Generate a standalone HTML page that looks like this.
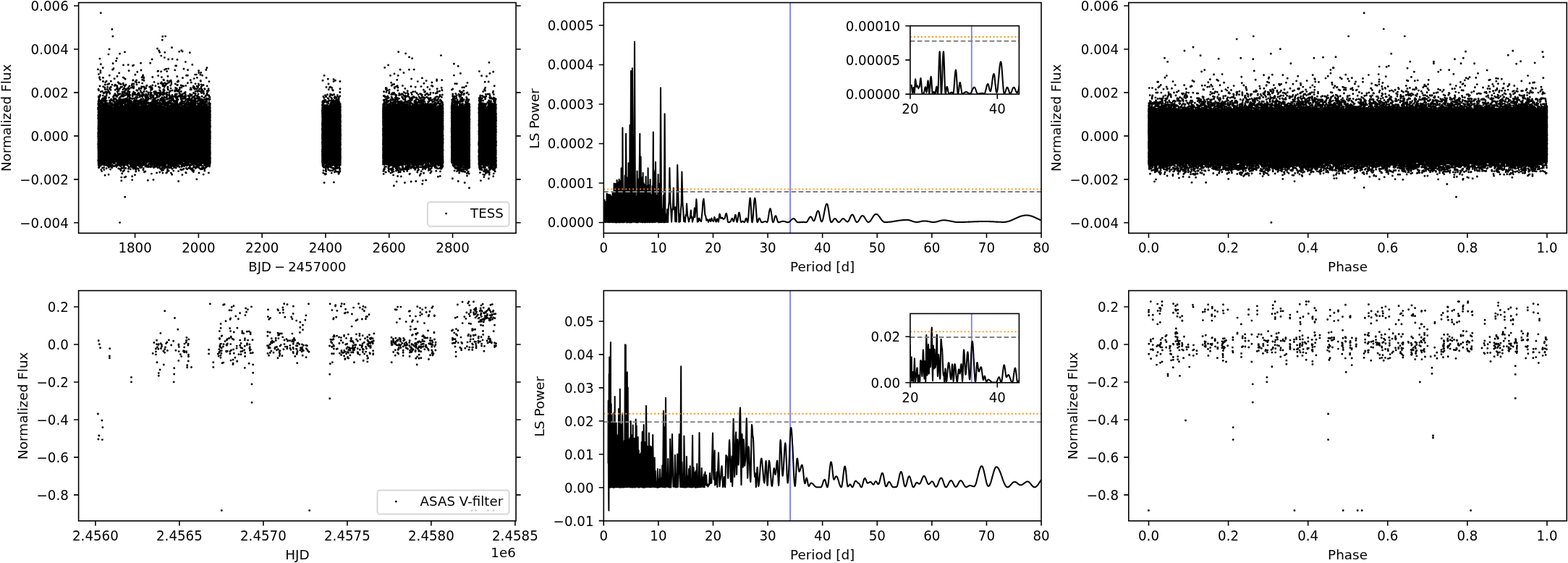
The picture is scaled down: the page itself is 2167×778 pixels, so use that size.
<!DOCTYPE html>
<html lang="en">
<head>
<meta charset="utf-8">
<title>TESS and ASAS light curves with Lomb-Scargle periodograms</title>
<style>
html,body{margin:0;padding:0;background:#fff;}
body{width:2167px;height:778px;overflow:hidden;}
svg{display:block;}
svg text{font-family:"DejaVu Sans","Liberation Sans",sans-serif;font-size:18.25px;fill:#000;}
svg text.al{font-size:18.4px;}
</style>
</head>
<body>
<svg width="2167" height="778" viewBox="0 0 2167 778">
<rect width="2167" height="778" fill="#fff"/>
<g id="tess-lc"><path d="M134.8 146.9L135.3 147.3L135.8 147.2L136.3 145.5L136.8 147.4L137.3 145.3L137.8 147.1L138.3 146.2L138.8 145.1L139.3 146.2L139.8 146L140.3 147.2L140.8 144.5L141.3 144.8L141.8 147.2L142.3 146.6L142.8 144.6L143.3 144.7L143.8 145.7L144.3 144.4L144.8 144.9L145.3 144L145.8 146L146.3 144.3L146.8 147L147.3 147L147.8 146.6L148.3 146.8L148.8 145.6L149.3 146.7L149.8 147L150.3 146.4L150.8 145.1L151.3 147L151.8 146.1L152.3 147.2L152.8 146.6L153.3 148.4L153.8 146.2L154.3 148.1L154.8 147.9L155.3 147.3L155.8 145.9L156.3 146L156.8 148.4L157.3 146.1L157.8 145.8L158.3 146.1L158.8 146.8L159.3 146.6L159.8 145.1L160.3 144.9L160.9 146.4L161.4 145.4L161.9 146.6L162.4 147.1L162.9 144.9L163.4 146L163.9 145.7L164.4 146.9L164.9 147.4L165.4 145.8L165.9 145.3L166.4 147.2L166.9 144.7L167.4 145.6L167.9 145.8L168.4 145.1L168.9 146.6L169.4 146.2L169.9 145.4L170.4 145.9L170.9 146.7L171.4 145.6L171.9 144.9L172.4 146.1L172.9 145.3L173.4 146.5L173.9 145.2L174.4 145L174.9 147.2L175.4 145.5L175.9 145.4L176.4 146.1L176.9 146.5L177.4 146.5L177.9 146.8L178.4 145.2L178.9 145.6L179.4 145.4L179.9 145.9L180.4 146L180.9 146.2L181.4 144.5L181.9 145.5L182.4 146.5L182.9 144.6L183.4 146.7L183.9 146.6L184.4 145.8L184.9 146L185.4 145.5L185.9 147L186.4 146.2L187 145.7L187.5 144.9L188 146L188.5 147.7L189 147.1L189.5 146.9L190 148L190.5 145.3L191 146.9L191.5 145.6L192 146.1L192.5 145.5L193 145.9L193.5 147.5L194 146.9L194.5 147.3L195 144.8L195.5 145.5L196 146.9L196.5 144.6L197 145L197.5 144.6L198 146.7L198.5 145L199 145.5L199.5 144.2L200 144.5L200.5 145.7L201 146.5L201.5 145.2L202 145.1L202.5 144.3L203 144.4L203.5 144.6L204 144.8L204.5 145.8L205 145.2L205.5 147.1L206 145L206.5 146.7L207 144.4L207.5 145.7L208 145.7L208.5 146.1L209 145.4L209.5 145.8L210 146.6L210.5 144.7L211 145.9L211.5 146.1L212 146.8L212.5 144.9L213.1 145.8L213.6 144.6L214.1 146.6L214.6 147.2L215.1 145.7L215.6 147.1L216.1 146.7L216.6 144.8L217.1 146.2L217.6 145L218.1 145.8L218.6 147.3L219.1 145.3L219.6 146.6L220.1 145.1L220.6 145.3L221.1 147.8L221.6 145.3L222.1 145.5L222.6 147.8L223.1 146L223.6 145.7L224.1 145.4L224.6 146.6L225.1 145.3L225.6 145.8L226.1 145.8L226.6 147.4L227.1 145.5L227.6 146.8L228.1 145.7L228.6 147.9L229.1 147.8L229.6 147.6L230.1 147.4L230.6 146.4L231.1 147.4L231.6 146.6L232.1 145L232.6 146.7L233.1 147L233.6 144.5L234.1 144.9L234.6 146.7L235.1 146.5L235.6 145.9L236.1 144.7L236.6 145.1L237.1 145.1L237.6 147.4L238.1 145.2L238.6 145.6L239.2 146.7L239.7 146.6L240.2 146.4L240.7 146.7L241.2 147.4L241.7 147.6L242.2 145.3L242.7 145L243.2 147.8L243.7 147.8L244.2 146.2L244.7 146.3L245.2 147.1L245.7 146.3L246.2 145.4L246.7 145.8L247.2 145.9L247.7 146.7L248.2 145.4L248.7 147.1L249.2 147.8L249.7 146L250.2 146.5L250.7 146.7L251.2 147.2L251.7 146.6L252.2 146.3L252.7 146.9L253.2 144.7L253.7 147.5L254.2 147.5L254.7 146.9L255.2 145.6L255.7 146.9L256.2 145.2L256.7 146.3L257.2 145.9L257.7 147L258.2 146.2L258.7 145.7L259.2 148L259.7 146.4L260.2 147.5L260.7 145.8L261.2 147.6L261.7 148.3L262.2 148.5L262.7 147.1L263.2 146.3L263.7 147.7L264.2 146.6L264.7 146.5L265.2 146L265.8 146.6L266.3 147.2L266.8 146.4L267.3 146.9L267.8 147.1L268.3 147.1L268.8 146.4L269.3 147.5L269.8 146L270.3 145.9L270.8 146.2L271.3 146.9L271.8 146.1L272.3 147L272.8 144.7L273.3 145.8L273.8 146.6L274.3 146.9L274.8 147.2L275.3 145.8L275.8 145.9L276.3 146.4L276.8 146.4L277.3 145.7L277.8 146.6L278.3 147.6L278.8 147.9L279.3 146.6L279.8 147.8L280.3 148.4L280.8 146.6L281.3 146L281.8 146.5L282.3 147.9L282.8 148.6L283.3 146.9L283.8 146.6L284.3 147.4L284.8 146.5L285.3 145.5L285.8 146.1L286.3 147L286.8 146.6L287.3 146.1L287.8 146.3L288.3 145.4L288.8 147.2L289.3 145.9L289.8 146.9L290.3 146.5L290.8 147.5L291.4 147.2L291.4 224.3L290.8 223.5L290.3 224.4L289.8 222.6L289.3 224.3L288.8 224.5L288.3 223.4L287.8 225.1L287.3 225.1L286.8 225.1L286.3 224.5L285.8 223.6L285.3 222.6L284.8 223.8L284.3 224.9L283.8 223.9L283.3 222.4L282.8 223.1L282.3 222.4L281.8 223L281.3 223L280.8 222.6L280.3 224.5L279.8 223.5L279.3 224.6L278.8 225.3L278.3 222.7L277.8 222.6L277.3 223.1L276.8 223.1L276.3 224.5L275.8 224.6L275.3 223L274.8 225.1L274.3 223.7L273.8 222.8L273.3 223.7L272.8 225.8L272.3 225.3L271.8 224L271.3 224.2L270.8 225.4L270.3 223.8L269.8 223.7L269.3 222.8L268.8 223.3L268.3 224.2L267.8 223.4L267.3 224.4L266.8 225.2L266.3 225L265.8 222.3L265.2 222.7L264.7 224.1L264.2 224L263.7 224.2L263.2 222.9L262.7 223.5L262.2 223.1L261.7 222.5L261.2 221.8L260.7 223.2L260.2 222.1L259.7 224.2L259.2 223.5L258.7 222.4L258.2 222.9L257.7 222.3L257.2 222L256.7 221.4L256.2 223.3L255.7 221.9L255.2 223.2L254.7 223.3L254.2 223.9L253.7 222.3L253.2 221.8L252.7 222.6L252.2 221.7L251.7 223.8L251.2 223.1L250.7 223.3L250.2 222.5L249.7 222.9L249.2 221.6L248.7 222.9L248.2 223.2L247.7 224.1L247.2 222.5L246.7 221.4L246.2 223.7L245.7 223.7L245.2 224.1L244.7 223.8L244.2 222.9L243.7 222.8L243.2 222L242.7 222.6L242.2 222.9L241.7 223.3L241.2 222.4L240.7 224.8L240.2 223.8L239.7 222.3L239.2 222.2L238.6 223L238.1 224.6L237.6 224.1L237.1 224.5L236.6 224.3L236.1 224.5L235.6 224.4L235.1 223.9L234.6 225.6L234.1 224.5L233.6 225.1L233.1 223L232.6 224.6L232.1 225.4L231.6 225.7L231.1 225L230.6 225.1L230.1 223.8L229.6 224.1L229.1 224.8L228.6 224.6L228.1 225.5L227.6 225.3L227.1 225.6L226.6 224.1L226.1 224.8L225.6 223.4L225.1 224.5L224.6 223L224.1 224.9L223.6 225.9L223.1 224.8L222.6 223.2L222.1 224.9L221.6 223.9L221.1 225.6L220.6 224.8L220.1 223.4L219.6 224.4L219.1 224.1L218.6 224.1L218.1 224.6L217.6 225.1L217.1 225.6L216.6 224.7L216.1 225.6L215.6 224.2L215.1 225.3L214.6 223.4L214.1 225.2L213.6 223.1L213.1 224.4L212.5 223L212 224.8L211.5 222L211 223.7L210.5 221.8L210 223.5L209.5 221.3L209 221.2L208.5 223.8L208 223.5L207.5 221.5L207 222.1L206.5 223.8L206 223.6L205.5 222L205 222L204.5 222.2L204 221.8L203.5 224.6L203 222.1L202.5 222L202 223.5L201.5 224.1L201 223.4L200.5 224L200 225.1L199.5 224.1L199 224.2L198.5 223.8L198 223.5L197.5 223L197 224.8L196.5 224.8L196 224.7L195.5 225L195 224.1L194.5 223.5L194 224.2L193.5 224L193 223.9L192.5 223.6L192 225.2L191.5 224.8L191 224.2L190.5 223.9L190 223.7L189.5 224.6L189 225.7L188.5 225.4L188 225.8L187.5 224.8L187 224L186.4 223.3L185.9 224.9L185.4 223.7L184.9 224.4L184.4 224.1L183.9 225.6L183.4 223.7L182.9 225.6L182.4 224.2L181.9 223.4L181.4 225.8L180.9 225.5L180.4 224.8L179.9 224.8L179.4 224.2L178.9 223.7L178.4 224.9L177.9 222.8L177.4 223.7L176.9 223.8L176.4 223.2L175.9 224.9L175.4 222.4L174.9 224.7L174.4 224.9L173.9 224.6L173.4 223.1L172.9 223L172.4 223.2L171.9 224L171.4 224.3L170.9 223.5L170.4 223.9L169.9 223.7L169.4 223.3L168.9 221.5L168.4 223.2L167.9 221.8L167.4 224.1L166.9 221.9L166.4 221.9L165.9 223.7L165.4 222.5L164.9 222.4L164.4 221.9L163.9 221L163.4 223.8L162.9 222.2L162.4 222.8L161.9 223.9L161.4 223.6L160.9 221.7L160.3 221.2L159.8 223.5L159.3 221.8L158.8 221.5L158.3 221.5L157.8 224.2L157.3 221.6L156.8 221.9L156.3 223.6L155.8 223.9L155.3 224.1L154.8 223.1L154.3 222.6L153.8 222.5L153.3 224.3L152.8 223.8L152.3 222.6L151.8 223.2L151.3 224.1L150.8 224.4L150.3 223.5L149.8 223.5L149.3 221.5L148.8 221.5L148.3 222.5L147.8 222.4L147.3 222.6L146.8 223.3L146.3 224.3L145.8 222.3L145.3 224.1L144.8 224L144.3 222.1L143.8 222.3L143.3 222.5L142.8 222.6L142.3 224.5L141.8 224.3L141.3 224.5L140.8 224L140.3 222.3L139.8 223.3L139.3 222.6L138.8 223.8L138.3 223.7L137.8 224.7L137.3 222.5L136.8 224.8L136.3 223.3L135.8 225.5L135.3 224.2L134.8 225.1ZM444.4 148.5L444.9 147.5L445.4 148.5L445.9 146.4L446.4 147.5L447 147.6L447.5 147.2L448 147.6L448.5 147.1L449 148.4L449.6 148.4L450.1 147.1L450.6 148.1L451.1 146.5L451.6 147.9L452.2 145.9L452.7 146.9L453.2 146.6L453.7 147.2L454.3 146L454.8 147.5L455.3 147.5L455.8 146.9L456.3 146.1L456.9 147.7L457.4 147.9L457.9 147.2L458.4 148.2L458.9 145.7L459.5 145.7L460 146.6L460.5 147.9L461 146.4L461.5 147.3L462.1 147.3L462.6 146.4L463.1 147L463.6 147L464.2 147.4L464.7 148.1L465.2 146.9L465.7 146.1L466.2 146.7L466.8 145.9L467.3 146.8L467.8 145.9L468.3 145.4L468.8 146.9L469.4 145.2L469.9 146.7L470.4 146.6L470.9 146.2L471.5 145.3L471.5 224.7L470.9 226.9L470.4 224.8L469.9 226.9L469.4 226.7L468.8 226L468.3 224.6L467.8 226.3L467.3 225.8L466.8 225.5L466.2 225.2L465.7 225.3L465.2 226.8L464.7 224.5L464.2 224.5L463.6 225.4L463.1 224.9L462.6 224L462.1 224.3L461.5 225.1L461 227L460.5 225.3L460 225L459.5 225.5L458.9 225.4L458.4 225.9L457.9 224.6L457.4 226.9L456.9 225.3L456.3 226.1L455.8 225.2L455.3 227.6L454.8 226L454.3 225L453.7 226.2L453.2 225.4L452.7 227L452.2 226.1L451.6 226.7L451.1 226.2L450.6 226.2L450.1 224.7L449.6 225.4L449 226.4L448.5 226.3L448 227L447.5 224.9L447 226L446.4 226L445.9 226L445.4 226.1L444.9 226.5L444.4 224.8ZM528.4 146.3L529 146.8L529.5 147.5L530 145.8L530.5 147.4L531 146.6L531.5 146.2L532 146L532.5 148.1L533 146.1L533.5 146.1L534 148.5L534.5 146.8L535 146.3L535.5 146.7L536 147.7L536.5 147.6L537 148.6L537.5 149.2L538 146.6L538.5 146.6L539 146.8L539.5 149.2L540 146.7L540.5 147.4L541.1 146.2L541.6 149L542.1 147.4L542.6 148L543.1 147.4L543.6 146L544.1 148.6L544.6 146.9L545.1 147.7L545.6 148.2L546.1 147.2L546.6 145.9L547.1 146.5L547.6 146.3L548.1 147.6L548.6 146.5L549.1 146.5L549.6 146.9L550.1 147.8L550.6 146.5L551.1 145.6L551.6 145.8L552.1 147.2L552.6 148.4L553.2 147.7L553.7 146.7L554.2 148.3L554.7 146.9L555.2 147.6L555.7 146.1L556.2 147L556.7 147.2L557.2 146.6L557.7 148.1L558.2 148.6L558.7 146.8L559.2 146.6L559.7 146.5L560.2 146.1L560.7 148.8L561.2 148L561.7 146.7L562.2 148.6L562.7 147.6L563.2 148.6L563.7 147.6L564.2 147.9L564.7 146.8L565.3 148.9L565.8 148.4L566.3 147L566.8 148.4L567.3 147L567.8 146.2L568.3 147.2L568.8 147.4L569.3 147.8L569.8 147.9L570.3 147.7L570.8 147.3L571.3 146.9L571.8 145.6L572.3 147.6L572.8 145L573.3 147L573.8 146.4L574.3 147.5L574.8 146.8L575.3 147.1L575.8 147.6L576.3 147L576.8 146.4L577.4 145.4L577.9 145.3L578.4 145.3L578.9 145.5L579.4 147.5L579.9 147.4L580.4 146.3L580.9 147L581.4 145.4L581.9 146.7L582.4 146.3L582.9 146.9L583.4 147.4L583.9 147.8L584.4 148.7L584.9 147.7L585.4 148.3L585.9 148.2L586.4 148.6L586.9 145.6L587.4 145.9L587.9 147.9L588.4 145.6L588.9 147.7L589.5 147.6L590 148.1L590.5 145.6L591 146L591.5 148L592 145.6L592.5 147.5L593 147.4L593.5 145L594 147.8L594.5 146.7L595 147.7L595.5 147.9L596 147.2L596.5 146.4L597 147.8L597.5 146.5L598 148.2L598.5 146.9L599 147.4L599.5 147.6L600 148L600.5 149.1L601 148.1L601.6 147.8L602.1 147.6L602.6 149.6L603.1 148.1L603.6 147L604.1 147.4L604.6 146.5L605.1 148.8L605.6 148L606.1 147.6L606.6 148.9L607.1 146.5L607.6 146.9L608.1 149L608.6 146.7L609.1 148.9L609.6 148.7L610.1 146.4L610.6 147.9L611.1 147.3L611.6 147.9L612.1 147.3L612.6 148.4L613.1 148.1L613.1 225.1L612.6 223.8L612.1 223.5L611.6 226.1L611.1 226.2L610.6 225.8L610.1 223.4L609.6 224.8L609.1 223.1L608.6 225.3L608.1 223.1L607.6 225.8L607.1 225.6L606.6 224.7L606.1 225.1L605.6 224.4L605.1 223.6L604.6 224.5L604.1 223.1L603.6 224.6L603.1 224.5L602.6 225.2L602.1 224L601.6 223.1L601 223.5L600.5 225.6L600 225.2L599.5 224.3L599 223.3L598.5 224.4L598 223.4L597.5 224.8L597 225.9L596.5 225.7L596 223.9L595.5 223.6L595 225.7L594.5 223.6L594 224.9L593.5 224L593 224.3L592.5 223.8L592 224L591.5 224.7L591 223.6L590.5 225L590 223.7L589.5 224.7L588.9 225.7L588.4 225.9L587.9 226.3L587.4 224.4L586.9 225.6L586.4 224.3L585.9 224.1L585.4 225.6L584.9 226.7L584.4 226L583.9 227.1L583.4 225.2L582.9 226.6L582.4 225.8L581.9 225.9L581.4 227L580.9 225.1L580.4 225.9L579.9 225.1L579.4 224.1L578.9 224L578.4 225.8L577.9 225.8L577.4 224.5L576.8 224.3L576.3 224.6L575.8 224.6L575.3 223.8L574.8 224L574.3 224.1L573.8 226.3L573.3 224.6L572.8 225.2L572.3 225.7L571.8 224.4L571.3 224.2L570.8 226.3L570.3 226.4L569.8 226.1L569.3 225.4L568.8 226.1L568.3 225.5L567.8 226.1L567.3 226L566.8 224.9L566.3 225.5L565.8 226L565.3 224.5L564.7 224.4L564.2 224.8L563.7 224.5L563.2 225.8L562.7 225.8L562.2 225.2L561.7 225.6L561.2 224.3L560.7 225.3L560.2 226.7L559.7 224L559.2 226.8L558.7 224.1L558.2 225.1L557.7 226.5L557.2 224.5L556.7 226.2L556.2 226.3L555.7 226.1L555.2 226.7L554.7 226.7L554.2 224.9L553.7 226.2L553.2 226.2L552.6 224.8L552.1 225.6L551.6 226.9L551.1 226.5L550.6 224.4L550.1 227.3L549.6 226.4L549.1 226.3L548.6 224.4L548.1 225.2L547.6 225.1L547.1 224.3L546.6 224.6L546.1 225.5L545.6 225L545.1 225.6L544.6 227.1L544.1 225.7L543.6 224.4L543.1 225.6L542.6 226.4L542.1 225.6L541.6 226.2L541.1 225.8L540.5 225.2L540 224.6L539.5 226.5L539 226.4L538.5 224.4L538 224.2L537.5 224.4L537 224.1L536.5 224.4L536 225.7L535.5 225.2L535 224.7L534.5 226.6L534 224.6L533.5 225.1L533 224.8L532.5 226.3L532 225.9L531.5 225.9L531 225.2L530.5 226.2L530 224.8L529.5 223.9L529 224.2L528.4 224.6ZM623.1 146.4L623.7 145.3L624.2 145.8L624.7 145.2L625.2 144.7L625.7 147.8L626.2 147.2L626.8 145.9L627.3 147.9L627.8 145.9L628.3 147.7L628.8 147.2L629.3 147.7L629.8 146.3L630.4 146.9L630.9 148.2L631.4 146.4L631.9 147.8L632.4 148.4L632.9 148.3L633.5 148L634 148.7L634.5 146.8L635 148.6L635.5 148.8L636 147.4L636.5 148L637.1 146.7L637.6 146.2L638.1 146.3L638.6 148.9L639.1 147.3L639.6 147.2L640.2 147.1L640.7 148.3L641.2 147.8L641.7 147.7L642.2 146.3L642.7 147.1L643.2 147.3L643.8 146.4L644.3 148.5L644.8 147.4L645.3 147.4L645.8 145.8L646.3 146.6L646.9 146.1L647.4 146.9L647.9 145.5L648.4 145.6L648.9 146L649.4 147.2L649.9 146.8L649.9 231.8L649.4 232L648.9 231.5L648.4 230.2L647.9 229.7L647.4 228.8L646.9 228.8L646.3 230.7L645.8 230.6L645.3 229.3L644.8 229.3L644.3 230.3L643.8 229L643.2 228.7L642.7 229.2L642.2 228.5L641.7 228.2L641.2 229.3L640.7 227.8L640.2 227.9L639.6 226.8L639.1 228.7L638.6 228.3L638.1 227.1L637.6 226.1L637.1 226L636.5 226.7L636 227.1L635.5 226.9L635 226.4L634.5 226.3L634 226L633.5 225.5L632.9 225L632.4 226.1L631.9 227.4L631.4 224.3L630.9 224.4L630.4 225.7L629.8 226.6L629.3 223.6L628.8 223.8L628.3 224.3L627.8 223.6L627.3 223.3L626.8 225L626.2 225L625.7 224.4L625.2 224L624.7 223L624.2 223.4L623.7 221.5L623.1 221.7ZM660.8 147.5L661.4 147.1L661.9 146.6L662.4 147.1L662.9 147.4L663.4 147.5L663.9 147.3L664.4 149.1L664.9 146.5L665.5 148.5L666 148.3L666.5 146.7L667 148L667.5 148.6L668 149L668.5 148.9L669 146.6L669.6 148L670.1 146.9L670.6 147.4L671.1 146.6L671.6 146.9L672.1 148.4L672.6 148.9L673.1 147L673.6 147L674.2 148L674.7 148.5L675.2 148.8L675.7 146.2L676.2 148.6L676.7 148.5L677.2 148.2L677.7 146.8L678.3 146.5L678.8 147L679.3 145.7L679.8 146.2L680.3 147.5L680.8 146.3L681.3 148L681.8 147.1L682.4 146.2L682.9 146.6L683.4 147.8L683.9 145.6L684.4 147.4L684.9 146.5L685.4 145.9L685.9 147.1L686.4 147.5L686.4 230.1L685.9 229.7L685.4 228L684.9 227.4L684.4 227.9L683.9 227.3L683.4 229.2L682.9 228L682.4 228.3L681.8 227.3L681.3 227.7L680.8 227.8L680.3 227.5L679.8 228.5L679.3 228L678.8 226.5L678.3 227.2L677.7 227.3L677.2 227.5L676.7 226.3L676.2 228.4L675.7 226.7L675.2 226.5L674.7 227.4L674.2 228.1L673.6 228L673.1 228.3L672.6 227.3L672.1 228.6L671.6 227.8L671.1 227.2L670.6 228.2L670.1 226.3L669.6 228.2L669 227L668.5 226.5L668 227.1L667.5 227.2L667 225.7L666.5 226L666 227.8L665.5 225.9L664.9 225.2L664.4 225.8L663.9 227.1L663.4 227.6L662.9 225.4L662.4 226.1L661.9 225.8L661.4 225.8L660.8 227.9Z" fill="#000"/><path d="M135.4 95.9h0m.3 53h0m0 2.1h0m0 70.4h0m0-37.1h0m0 4.3h0m0 10.7h0m.1-35.6h0m0 14.3h0m0 26.5h0m0-44.7h0m0-16.5h0m.1 43.8h0m0-42.2h0m.1 57h0m0-26.6h0m0 15.6h0m0 9.4h0m0-4.8h0m0 27.5h0m0-30.3h0m0-69.5h0m0 17.6h0m.1 41.6h0m0 39.7h0m0-60.1h0m0 63.4h0m0-18.7h0m0 9.4h0m0-57.1h0m0-3.5h0m0 47.3h0m0-5.6h0m.1-62.6h0m0 94h0m0-19.5h0m0 3.5h0m0-31.4h0m0 26.4h0m0-15.6h0m0 34.5h0m.1-87.4h0m0 66.2h0m0-37.1h0m0-22.4h0m0 10.6h0m0 15.5h0m.1-18.4h0m0-20.3h0m0 24.5h0m0 22h0m0-77.1h0m0 38.2h0m0 76.8h0m0-5.9h0m0-62h0m.1 74.4h0m0-37.6h0m0-11.8h0m0 57h0m0-66.7h0m0-40.2h0m0 48.3h0m0 3.9h0m0-9.6h0m0 30.6h0m0 12.2h0m.1-20h0m0 29h0m0-31.4h0m0-40.7h0m0 23.7h0m.1-4.8h0m0 28.2h0m0-48.3h0m0 57.7h0m0-17.7h0m0 28.5h0m0-68.6h0m0 74.8h0m.1-51.4h0m0 14.4h0m0-23h0m0-7.8h0m0 2.1h0m0-12.1h0m0 82.8h0m0-88.4h0m.1 93.3h0m.1-5.5h0m0 1.5h0m.2 1.1h0m.1-88.1h0m0-5h0m.1 96.3h0m0-84.7h0m.1-38.3h0m.1 35.9h0m0 85.8h0m0-5.5h0m0-117.2h0m.2 39.8h0m0 76.9h0m.1-142.4h0m0 57.5h0m.1 2.6h0m0-22.3h0m.2 105.6h0m.2-93h0m0 .8h0m.1 14.9h0m0-37.1h0m0 34.9h0m.1 78.7h0m0-1.2h0m0-.4h0m.1 1.2h0m.1-81.1h0m.1 82.8h0m0-127.2h0m.1 49.9h0m0 74.9h0m0-122.2h0m.1 125.4h0m0-78.6h0m.2-20.5h0m0-108.8h0m0 70.8h0m.1 139.9h0m.2-87.6h0m0 1.4h0m.1-1.7h0m.1 82h0m0 11.9h0m.1-12.5h0m0 .5h0m.3 3.4h0m0-.4h0m0-85.5h0m0 82.3h0m.1 4.8h0m0-88.1h0m.3 97.5h0m0-90h0m.1-1h0m.2 76.4h0m.2-85h0m0 88.9h0m.2-99.8h0m.1 18.4h0m.1 76.8h0m0 10.7h0m.2-8.8h0m0-77.2h0m.1-.5h0m0 1.1h0m0 77.7h0m.2-82h0m0-5.4h0m0 88.6h0m.1-86.2h0m0 6.8h0m0-8.7h0m.1 85.3h0m0-128.9h0m0 38.3h0m.1 95.3h0m0-88.1h0m0 0h0m.1-26.8h0m.1-5.1h0m0 37.3h0m0 77.7h0m.1-78.8h0m0 .2h0m0-8.2h0m.1-15.8h0m.3 8.4h0m.4 93.8h0m0 3.8h0m0 .7h0m0 1.2h0m.1-98.6h0m.1 102.4h0m.2-8.5h0m0-84.9h0m0 96.5h0m.1-95.2h0m0 5.4h0m.1-.9h0m.1 81.8h0m0-85.8h0m.1 6.6h0m.1-10.4h0m0 10.5h0m.3-6.9h0m0 87.1h0m.1-87.4h0m.1-5.7h0m.1 12.3h0m0-25h0m.1 17.3h0m0 1h0m.1 88.1h0m0 14.8h0m0-13.9h0m0-6.8h0m.1 3.4h0m0-82h0m.1-25.9h0m0 104.2h0m0-97.7h0m0 99h0m.1-81.6h0m.1 .7h0m0-14.3h0m.1 98.4h0m0-2.7h0m.1-109.4h0m.2 23h0m0-.4h0m.2-2.5h0m.1 89.1h0m.1-76h0m0 80.3h0m.1-2.5h0m.1-89h0m0 9.1h0m.2-1.6h0m.1-16.2h0m.1 18.8h0m0 82h0m0-5.7h0m.2 10.8h0m0-120.6h0m.1 20h0m0 92.7h0m.1-95.7h0m0 15.4h0m0-14.6h0m.1 91.7h0m0 2.4h0m0-84.8h0m.1 3.9h0m.2 82.2h0m.2-82.9h0m.1 81.2h0m.1 5.2h0m.1-105.5h0m.1 22h0m0-.4h0m0 76.7h0m0 7.4h0m.1-4.5h0m.2-104.2h0m.1-3.7h0m.1 30.7h0m.1-3.8h0m0 82.8h0m.1-1.7h0m0 1.9h0m.2-80h0m.2-19.2h0m.3-2h0m.3 99.9h0m0-150.2h0m0 154.7h0m.1 11.4h0m.2-10h0m0-3.7h0m.1-80.7h0m0 79.9h0m0-3.8h0m.1 .2h0m.2-107.4h0m0 19.2h0m.2 7.5h0m.2-14.9h0m0-59.6h0m.1 77.6h0m0 81.7h0m0 1.9h0m.1-124.9h0m0 34.9h0m.2 86h0m0-86.1h0m0 90.3h0m0-106.5h0m.3 18.7h0m0 6.5h0m0 73h0m0-91.6h0m.1 17.2h0m0 74.9h0m0 4.7h0m.1-.7h0m.1-2h0m.1 6.9h0m0-109.4h0m.1 102.7h0m.1 3.7h0m0-5.5h0m0-74.4h0m.1-6.7h0m.1 93.3h0m.2-90.6h0m0-22.4h0m.1 102.2h0m.1-99h0m.2 103.5h0m.1-115.6h0m.1 7.9h0m.1 24h0m.1 77.6h0m.1-84.5h0m.1 88.4h0m0 2.8h0m.4-3.1h0m0-86.8h0m.3 8.7h0m0 76.1h0m0-77.1h0m0 75.6h0m.2-79.2h0m0 89.1h0m.1-10.3h0m.1-180.9h0m0 188.4h0m.1-111.8h0m0 112.8h0m.1-1.2h0m0-79.7h0m.4 73h0m.1-125.8h0m0 49h0m.2 83.2h0m.1-178.1h0m.2 37.5h0m.1 137.1h0m0-79.5h0m.2-6.5h0m.1 1.2h0m0-6.4h0m.1 10.8h0m.1 .3h0m.1-10.1h0m.1-40h0m0 130.9h0m.1-3.5h0m.1-.6h0m0-76.6h0m0 .3h0m0-8.3h0m.1 86.8h0m0-1h0m.1-1.3h0m.1-81.1h0m.1 89.4h0m.1-97.8h0m0 4.7h0m.1 84.6h0m0 4h0m.1-79.6h0m0 76.2h0m0 2h0m.1-91.7h0m.1 88.9h0m.1-80.2h0m0-3.4h0m.1 9.1h0m0-28.1h0m0-9.6h0m0 33.3h0m0 81.2h0m0 2.3h0m.1-77.8h0m0 73.2h0m.3 4.6h0m.2-2.6h0m.1-93.4h0m0 94.2h0m.1-1.6h0m0-75.9h0m.1-16h0m0 12.1h0m0 78.4h0m.1-79.5h0m.1-17.1h0m0 98.9h0m.1-74.7h0m0-3.8h0m0-27.5h0m0 111.6h0m0-98.2h0m.1 5.7h0m.2-3.9h0m0 15.4h0m.3 .3h0m.5-5.4h0m0 .1h0m0-58.4h0m.2 63.4h0m0 81.9h0m.1-111.2h0m0 28.8h0m0-9.4h0m.1 92.8h0m0-89.8h0m0-2.4h0m0 84.8h0m.2-90.5h0m0 11.4h0m0-1.9h0m.1 85h0m0-95.3h0m0 1.3h0m0 87.5h0m0-77.4h0m.1-5.3h0m0 84.8h0m.2-82.4h0m0-59.8h0m.1 52.9h0m0 11.7h0m0 76.3h0m0-99h0m.1-3.8h0m0 102.9h0m.1-99.8h0m.1 20.1h0m0 80.3h0m.1-116.7h0m0 115h0m0-77.3h0m.1 78.3h0m0 7.3h0m0-4.4h0m.1 .1h0m0-97.7h0m0 93.7h0m.1-99.6h0m.2 20.3h0m0 5.5h0m.1-23.2h0m.1 19.4h0m0-2.3h0m0-.7h0m.1 85.2h0m.1 2.2h0m.2-3.3h0m0-80.4h0m0-3.5h0m.1-10.7h0m0 96.7h0m.1 2.2h0m0-3.6h0m.1-111h0m.1 34.2h0m0-16.6h0m.1 13.5h0m0 82.8h0m0-101.8h0m.1 21.8h0m0 77.7h0m.1 2h0m0-96.4h0m.1-.5h0m0 95h0m0 7.5h0m0-5.1h0m.1-102.3h0m0 97.3h0m0-2.4h0m0-79h0m.1 79.2h0m.2-105.4h0m.1 32.2h0m0-6.2h0m.1 86.1h0m.1-89.1h0m.1 84.9h0m0 .5h0m0 3h0m0-125.7h0m.1 36.7h0m0-1.2h0m0-13.3h0m.1 24.3h0m.1-12.3h0m.2 90.9h0m0-86h0m0-1.1h0m0 4.6h0m.1-2.2h0m0 84.9h0m.1-78.6h0m.1-73.3h0m0 41.1h0m0 7.1h0m0 24.9h0m.1 160.2h0m0-169h0m.2 90.3h0m0-99.1h0m0 7.5h0m.1 96.4h0m0-12.4h0m.2-87.2h0m.1 9h0m.1 4h0m.2-1.7h0m.2 88.2h0m0-3.7h0m.1-85.6h0m0-7.3h0m0 86.8h0m0-79.7h0m.2 83.7h0m0-107.3h0m.1 0h0m0 115.3h0m.1-88.5h0m0-7.3h0m0-23.5h0m.1 111.8h0m.3-83.7h0m0-6.1h0m.1-6.1h0m.1 13h0m0 99.7h0m0-98.3h0m0 102.9h0m0-107h0m.1 82.5h0m0-77.8h0m0 75.7h0m.2 2.2h0m.2-79.4h0m.1-2.7h0m0 88.5h0m.1-98.5h0m0 92.6h0m.1-94h0m0-11.7h0m0 26.1h0m.1-3.2h0m0 79.7h0m0-77.5h0m0 94.5h0m.1-100.3h0m0 93.2h0m.1-86.9h0m0-15.8h0m0 94.3h0m.1-82.9h0m0 79.8h0m0-94h0m0 1.9h0m.1 96.7h0m.1-82.1h0m0 79.8h0m.2-83.4h0m.1 7.8h0m.1-7.7h0m.1 2.1h0m.1 85.2h0m.1-90h0m.1 4.8h0m0-18.5h0m0 3.9h0m0 100.8h0m0-101.1h0m.1 14.6h0m0 80.9h0m0 2.7h0m.1 11.3h0m0-10.9h0m.1-118.8h0m0 8.2h0m.1 31.5h0m.1-13.5h0m0-43.4h0m.1 136.5h0m0-109h0m0 21h0m.1 85.6h0m.1 4.8h0m.1-2.6h0m0-3.4h0m0-81.9h0m.2-3.7h0m.1 93.2h0m0-99.9h0m.1-22.9h0m.1 40.5h0m0 76.1h0m0-96.8h0m0 93.9h0m.1-99.6h0m.1 99.6h0m0 1.2h0m0 10h0m.1 3h0m.1-11h0m0 1.9h0m.1-83.1h0m.1 3.8h0m.1 98h0m0-21h0m.1-97.5h0m0 1.7h0m0 100.2h0m.1-90.4h0m.1-19.1h0m.1 13.1h0m0-60.2h0m.1 68.2h0m.1 132.2h0m0-131.2h0m0 2.1h0m.1 1.1h0m0 79.3h0m.1-76.8h0m0-1.8h0m.2-3.5h0m0-16.2h0m0-16.1h0m.2 115.4h0m0-.9h0m0-100.4h0m.1 13.3h0m.4 107.7h0m.1-11.8h0m0-115.3h0m0 22.6h0m.1 81.9h0m0-82.7h0m.1-10h0m.2 1.8h0m0-1.9h0m.1 16.7h0m0 80.4h0m.1-2.8h0m0-78.2h0m.1 82.6h0m.1-103.8h0m0 101.9h0m.4-89.5h0m.1 89h0m0-102.2h0m.1 21.2h0m0-13.2h0m0 13.6h0m0-15.2h0m.1 9.3h0m0 87.6h0m0-85.3h0m0-4.6h0m0 4.2h0m0 .3h0m.1 85.7h0m.1-.5h0m.1-88.5h0m.3 89.7h0m0-98h0m.2 12.6h0m0 3.5h0m.2 79.3h0m.1-102.3h0m0 24.3h0m.1-17.2h0m0 99.6h0m0-102.4h0m0 99.9h0m0-95h0m.1 90.4h0m0-88h0m.1 5.4h0m0 7.7h0m0 77h0m.2-86.4h0m0 86.4h0m0-77h0m0-21.4h0m.1 97h0m.1-133.1h0m0 54.1h0m.1 79.1h0m0-75.8h0m0 78h0m.1-80.3h0m0 92.3h0m.1-13.8h0m0 10.1h0m.1-.5h0m.1-9.8h0m0-102.4h0m.1 16.5h0m.2 2.2h0m0-16.3h0m.1-25.2h0m.1 48.1h0m.1-.7h0m.1-5.9h0m0 91.6h0m0-98.5h0m.1 92.5h0m.1-83.3h0m.1 4.6h0m0 76.1h0m0-99.5h0m0 6.6h0m.1 94.7h0m.1-79.5h0m0-25.6h0m.1 27h0m0-12.5h0m0 13.4h0m.1-9.2h0m0-10.7h0m.1 97.5h0m0-93.3h0m.1 16.1h0m.1 77.1h0m0-88.7h0m0 89.3h0m0-89.3h0m.3 91.2h0m0-86.3h0m.1-9.1h0m.2 11.9h0m.2-3.7h0m0 85.6h0m.1-.6h0m0 3h0m0-86h0m0-5.9h0m0 11.5h0m.1 86.4h0m.1-11h0m0 7.2h0m0-5.7h0m.1 3.7h0m.1-2.3h0m0 3.6h0m.2-6.5h0m0 1.5h0m0-.4h0m0-84.7h0m.1 88.3h0m.2 3.2h0m.1-2h0m0-.2h0m0-4.4h0m0 .1h0m0-102.9h0m.1 103.9h0m0-80.5h0m.1 80.8h0m0 3.9h0m.2-3.1h0m.3-3.3h0m.1-105.1h0m0 23h0m.1 84.7h0m.1-82.3h0m0 80.6h0m.2 5.6h0m.1-5.9h0m.1-76.2h0m0 96.5h0m0 4.8h0m0-104.3h0m.1-28.4h0m0 20.6h0m.1 10.2h0m.2-15.3h0m0-11.1h0m.1 108.1h0m.1 2.7h0m0-83.8h0m0 83.6h0m0-97.6h0m.1 92.1h0m0-96h0m0 13.5h0m.1-12.9h0m0-39.2h0m.2 20.2h0m0 120.1h0m.2-6.6h0m.2-113.6h0m0 34.3h0m0 78.4h0m.1 9.6h0m0-89.8h0m.1-.2h0m0 1.2h0m0 80.6h0m.1-103h0m.1 103h0m0-.8h0m.1-134.1h0m0 36.8h0m0 100.6h0m0-82.5h0m.1-25.9h0m0 28.6h0m.1-8.1h0m0 90.7h0m0-6.4h0m0-80.5h0m.1 2.5h0m0 82h0m.1-79.8h0m0-32.1h0m0 5.4h0m.1 9h0m.1 11.3h0m0-2h0m.2-3.4h0m.2 4.3h0m0 91.7h0m.1-.6h0m.1-95.5h0m0 89.5h0m0-88.6h0m.1-7.7h0m0 94.6h0m0 7h0m.1-5.7h0m.2-77.7h0m0 79.1h0m0-2.1h0m.1 .3h0m.1-1.5h0m.1-78.9h0m0 97.2h0m.1-94.8h0m0-18.5h0m.1 14.6h0m.1 88.5h0m0-1.6h0m.1-126.7h0m0 126.1h0m.2-85h0m0-31.4h0m.1 17.6h0m.2 8.1h0m0 95.7h0m0-89.2h0m.2-14h0m0 16.7h0m0-6.9h0m.1-6.4h0m0 89.1h0m.1-79h0m0 92.5h0m.1-89.2h0m0-2.8h0m.2 82.3h0m0 7h0m.1-4.9h0m.2-5.9h0m0-80.8h0m0 82.1h0m.1-1.8h0m.1-112.2h0m0 3.1h0m.1 34.3h0m0-12.2h0m.1-11.4h0m0 99.4h0m.1-90h0m0 11.3h0m.1-5.7h0m0-22.8h0m0 111.6h0m0-93h0m.1 12.1h0m.2 84.8h0m0-4.5h0m0-3.2h0m.1-93.6h0m0 7.9h0m.1 8.8h0m0 80.7h0m.1-89.3h0m.2 4.2h0m0-44h0m0 123.5h0m.1 3.8h0m.1-95.1h0m0-6.4h0m.1 22.4h0m.2 77h0m0 1.5h0m.1-78.6h0m0-12.9h0m0-5.2h0m.1 97.5h0m.3-80.7h0m.1 78.8h0m0-77.3h0m0-5.3h0m.1-1.2h0m.1 6.5h0m0 79.8h0m.1 5.8h0m.1-5.9h0m0-83.9h0m.1-14.5h0m0 99.6h0m.1-98h0m.1 15.4h0m0-17.6h0m.2 19.3h0m0 75.6h0m0 2h0m0 10.4h0m.1-89.2h0m.1 78.5h0m0 2.6h0m.1-113.7h0m.1 9.1h0m0 20.7h0m0-14.6h0m0-6.1h0m.1-1.1h0m.1 9.5h0m.1 7.6h0m0 8.2h0m0 82.5h0m.1-89h0m.2 83.7h0m0 .4h0m.1-1.7h0m.2 4.7h0m.2-85.3h0m0-8.5h0m.2 13.4h0m.2 76.3h0m.1 7.9h0m.2-7.8h0m0-83.1h0m0-9.1h0m0 92.9h0m.1 5.9h0m.1-83.3h0m0-21.7h0m0 12.8h0m.1 89.7h0m0-86.9h0m0 1.7h0m.1 84.8h0m.1-86.5h0m.1 3.2h0m0-6h0m0-50.9h0m.2 135.4h0m.2 2.7h0m0-77.6h0m0 83.7h0m0-134.5h0m0 48.9h0m.1-9h0m0-9.4h0m0 95h0m0-100.3h0m.1 21.4h0m0 78.8h0m.3 8.3h0m.1-110.7h0m.1 109.8h0m0-109.1h0m0 18.7h0m.1 86.3h0m.1 5.3h0m0-98.3h0m.1 11.2h0m0-37h0m0 36.2h0m.2 85.5h0m.1-82.2h0m.2-26.4h0m0 22.5h0m.1-12.1h0m.1 91.9h0m0-107.2h0m0 108.3h0m0-94.8h0m0-18.3h0m.1 36.6h0m0-13.1h0m.1 8.8h0m0-36.3h0m0 116h0m.1-82.6h0m.1 7.2h0m0-.2h0m0 81.9h0m.1-86.2h0m.2-2.5h0m.1 3.2h0m.1 4.4h0m0-43.6h0m0 42h0m.1-9.1h0m0 9.1h0m0 78.2h0m0-1.1h0m.3 4.3h0m0-87.5h0m0 95h0m.1-103h0m.1 91.3h0m0-75.6h0m0 85.3h0m.1-5.8h0m0-2.1h0m.2-78h0m0-40.2h0m.1 40.6h0m0-1.5h0m0-15.4h0m.1 97.3h0m.1-100.8h0m0 18.7h0m0-2.4h0m0-35.2h0m.1 3.2h0m.1 35.7h0m0-27h0m0 6.5h0m.2 19.2h0m.2-5.1h0m0 97.2h0m.1-116.8h0m0 18.6h0m.1 85.2h0m.2-101.3h0m.1 102.9h0m.3-80.1h0m.1-6.9h0m.1-6.7h0m.2 92.5h0m0-2.4h0m0-76.1h0m0-9.1h0m.1 86.8h0m0-82.1h0m.1 87.9h0m0-5.9h0m0-90.1h0m.1 102.8h0m.1-91.7h0m.1 78.4h0m.1 2.9h0m.1-83.3h0m0 79.4h0m.1 5.7h0m0-81.4h0m.2-3.1h0m.1-10.5h0m0-3.2h0m0-8.1h0m.1 13.6h0m0 86.8h0m.2-90.1h0m0 8.7h0m.1 88.9h0m.2-89.8h0m0 3.3h0m0 82.2h0m.1-1.5h0m0-87.2h0m.1-17.9h0m0 103.6h0m0-96.2h0m.1 11.6h0m.1 90.8h0m0-94.1h0m0 87.6h0m.1 .7h0m.1-86.3h0m0-18.6h0m.1 105.3h0m0-85h0m.2 8.2h0m0 84h0m.1-88h0m.1-4.7h0m0-5.9h0m.1 90.9h0m.1-80.2h0m.3-10.8h0m.1 6.6h0m0 8.9h0m.1 81.4h0m.1-81.5h0m.1 101.9h0m.1-115.1h0m.1 8.9h0m.2-1.3h0m.1 82h0m.1-86.3h0m.1 8.9h0m0-16.2h0m0-2.2h0m.1 2.8h0m0 96.9h0m.1 1.9h0m0-2.6h0m.1 3.8h0m0-9.6h0m.1-73.8h0m.2-11h0m.1 90.5h0m0-80h0m.1 .8h0m0 73.7h0m.2-77.4h0m.4 78.6h0m.1 .3h0m.1-102.7h0m.2 103.1h0m0-79.8h0m.2 83.3h0m0-4.1h0m.1-.7h0m.1 4h0m.1-78.9h0m.2 83.1h0m0-88h0m0-9h0m.2 9.9h0m0-55.7h0m0 57.3h0m.2-16.8h0m.1 3.5h0m0-11.9h0m.1 16.9h0m0 94.5h0m0-101.2h0m.1-8.1h0m0 99.1h0m.1 8.3h0m0 .3h0m.2-104.7h0m0 100.1h0m0 3.3h0m.1-3.4h0m0-89.9h0m.2 88.5h0m0 0h0m0-76.7h0m.2 76.2h0m0-87.2h0m0-6.9h0m.2 98h0m0-83.4h0m.1 .3h0m0-22.8h0m0 7.9h0m.1 111.6h0m.1-105.4h0m0 91.4h0m.2-94.6h0m0 13.2h0m0 79.1h0m.1-82.5h0m.1 89h0m0-86.3h0m.1 3.2h0m.1-65.2h0m0 140.4h0m.1-75.8h0m.1-1.3h0m0-21.7h0m0-1.8h0m.1 21.2h0m0 78.3h0m0 1.7h0m0 2.3h0m0-79.4h0m0-14.1h0m.1 94.8h0m.1-87.8h0m.1 88.4h0m0-81.3h0m.1-27.9h0m0-11.3h0m0-.3h0m.1 34.6h0m.1-6.6h0m0 8.9h0m.1 1.3h0m0-1.4h0m.2-.3h0m.1-4.9h0m0 84.3h0m.2-75.3h0m0 80.4h0m.1 .7h0m.1-87.8h0m.2-5.4h0m0 10.8h0m0 102.7h0m.1-116h0m0 92.3h0m.1-78.2h0m.1-9.8h0m.1 89.2h0m0-82.2h0m.2 87.8h0m.1-10.2h0m0-79.5h0m0 80.2h0m.1-94.9h0m.1 8.6h0m0 8.7h0m.2-31h0m0 116.5h0m0-86h0m.1-5.6h0m.1 89.4h0m0-1.6h0m.1-79.2h0m0 82.8h0m0-83.8h0m0-17.3h0m0 .6h0m.1 94.4h0m0 .4h0m.1-97.2h0m.1 3.2h0m0 13h0m0 4.3h0m.3-.2h0m0-5.9h0m0-4.3h0m.4 89.6h0m0-87.4h0m.1 3.9h0m.2 84.5h0m.1-84.1h0m.1-2.1h0m0-22.5h0m.1 26.7h0m0 80.1h0m0-95.5h0m.1 94.7h0m0-97.9h0m.1 20.1h0m0-20.5h0m.1 95.7h0m0-86.8h0m0 95.1h0m.1-6.1h0m.1-81.3h0m0 81.1h0m0 4.4h0m.1-80.7h0m0 80.8h0m.4-5.7h0m.1-84h0m0 85.2h0m.1-96.2h0m0 18.2h0m.1 81.4h0m.2-79.6h0m.1-16.2h0m0 93.1h0m0 14h0m.1-95.9h0m0-11.9h0m.1 16.5h0m0 79.6h0m0-82.7h0m0-10h0m.1 91.5h0m.1 3.2h0m0-5.6h0m0-76.3h0m0-1.8h0m.3-4.6h0m0 5.9h0m.2-14.6h0m0-64.9h0m.2 80.8h0m.1 78.7h0m.2-79.9h0m0-48.4h0m.1 43.6h0m0 89.7h0m0-93.2h0m0 90.1h0m.2-99.6h0m.1 102.3h0m0-84.1h0m0-13.4h0m.1-18.1h0m.1 21.8h0m.1 86.8h0m0-126.3h0m0 6.5h0m.2 38h0m.1-14.3h0m.1 17.2h0m.1 82.4h0m0-2.5h0m.3-105.1h0m.2-50.3h0m.1 63.5h0m0 8.7h0m.1 82.2h0m0 1.6h0m.1 5.6h0m0-7.4h0m0-91.6h0m.1 10.7h0m0-.3h0m.1 82.7h0m.2 3.2h0m.1-99.2h0m0 12.3h0m0 81.8h0m0-99.2h0m.1 99.9h0m.1-96.2h0m0-56h0m0 151.3h0m0 6.5h0m0 7.9h0m.1-8.1h0m0-81.6h0m0-7h0m.1-19.9h0m0 105.1h0m.1-83.1h0m0 80h0m0-84.3h0m.1 85.3h0m0-95.6h0m0 3.1h0m.1 .2h0m0 95.9h0m0-102.6h0m0 5.6h0m.2 92.2h0m.1-76.3h0m.2 .7h0m0 85.3h0m0 .3h0m.1-105.7h0m0 99.5h0m0-83.1h0m0-7.1h0m.1 8.2h0m.1-17.9h0m0 4.1h0m.1 13h0m0-29.1h0m.1 29.4h0m.2-13.8h0m0 94h0m.1-86.9h0m.1 85.8h0m0-76.9h0m.1-47.8h0m.1 129.6h0m0-.6h0m0-150.8h0m0 147.6h0m.1 9.1h0m0-86.3h0m0-11.3h0m0 87.1h0m.1 1.6h0m.2-82.1h0m.1-29.1h0m.1-6.9h0m0 119.9h0m0-87.7h0m.1 96.8h0m0-106h0m.1 17.1h0m0 86.9h0m.1-104.7h0m.1 96.1h0m0-86.7h0m0 93.1h0m.1-96.8h0m0 13.6h0m0 77.3h0m.1-.1h0m.1-109.6h0m0 32.2h0m.1-4h0m0-4.3h0m.1-84.7h0m.1 88.3h0m.1 87h0m0-86.7h0m0-14.4h0m.2-78.9h0m.2 188.5h0m0-91.4h0m0-29.7h0m.1 .9h0m0 104.6h0m.1-82.9h0m0-1.9h0m.1-7.3h0m.1-3.9h0m0 101h0m.1 3.1h0m.2-94.4h0m0 86.7h0m.1 2.7h0m0 8.5h0m0-91.6h0m0 84.3h0m.1-111.9h0m0 8.7h0m0 107.2h0m0-115.5h0m.1 110.7h0m0-83h0m0 84.3h0m.1-117.9h0m0 31.4h0m.1-6h0m.1 94.5h0m.1-4.8h0m0-102h0m0 3.9h0m.1-16.5h0m.2 33.3h0m.2-5.4h0m.1 8h0m.1-8.6h0m0-4.2h0m.1 5.9h0m0-14.8h0m0-4.7h0m.1-1.7h0m0 20.1h0m0 85.9h0m0-.7h0m.1-94.9h0m0 1h0m.1-33.8h0m0-16.6h0m.2 153.2h0m.1-9.2h0m.1-151.2h0m0 151.5h0m0-76.9h0m.1 84.2h0m0-116.5h0m.1 110.3h0m.1-82.1h0m0 3.6h0m0-8h0m0-3.3h0m.1 7.9h0m.1 85.9h0m0-1.9h0m.3-177h0m.1 93.9h0m.1-2.6h0m0 87.5h0m0-83.4h0m.1-16.3h0m0-11.2h0m.3 27.4h0m0 .7h0m.2-29.7h0m.1 109.7h0m.2-130.9h0m0 135.2h0m.1 8.7h0m0-15.2h0m.2-94.2h0m.1 92.6h0m0 8.7h0m.1-4.7h0m0-1h0m0-1.4h0m0-91.2h0m.1 93.5h0m.1-1.6h0m0-89.8h0m.1 88.3h0m.1-81.1h0m0 1.4h0m0 80h0m.1-124.8h0m0 29.4h0m0 9.3h0m0-3.8h0m0 104.7h0m.1-107.3h0m.1 6.4h0m.1-22h0m.1 116.7h0m0-86.7h0m.1-1.6h0m.2-31.9h0m0 123.8h0m0-88.8h0m.2-.3h0m0 87.6h0m.1-91.2h0m0-2h0m.1 1.2h0m0-19.9h0m.1-2h0m0-14.7h0m.1 37h0m0 82.2h0m0 4.7h0m.4-105.3h0m0 20.8h0m0 81.7h0m.1-83h0m.2-48.7h0m0-12.9h0m.1 144.2h0m.1-84.2h0m.1-5.7h0m0 89.5h0m.1 10.5h0m0-5.4h0m.2-90.9h0m0 1.3h0m.1-27.4h0m.1 22.6h0m0-5h0m0 96.5h0m0-113.9h0m.1 111.7h0m.1-97.7h0m0 95.8h0m0-91.9h0m0-1.4h0m.3 101.4h0m0-92.1h0m.2-8.5h0m.1 96.7h0m.1-93.1h0m0 89.7h0m0-81.6h0m0 79.3h0m.2 2.1h0m0-112.5h0m0 14.5h0m.1 12.8h0m0 8.5h0m0-.8h0m.2-7.4h0m0 6.8h0m.1 77.4h0m.1-83.1h0m.1 5.7h0m.1 79.6h0m0-.2h0m.1-84.8h0m0-7.8h0m0-7.5h0m.1 15.1h0m0-7.6h0m.1 10.2h0m.1 86.4h0m0-.2h0m0-5h0m0-106.3h0m.1 18h0m0 91.9h0m.2-106.1h0m0 106.2h0m.1-4.1h0m0-81.8h0m.1-2.2h0m.1 6.4h0m0-35.3h0m0 114.8h0m.1-79.7h0m0 92.7h0m.1-13h0m0 5.8h0m.2-2.6h0m0-90.1h0m0 92h0m.1-115.1h0m0 107.1h0m.1-79.6h0m0-30h0m.1 112.8h0m0-81.1h0m.2-7.7h0m0-3.7h0m.1 2.9h0m.1 85.3h0m.1-156.3h0m.2 159.6h0m0 15.8h0m.1-96.1h0m.1-10.3h0m0 87.1h0m0-90.5h0m.2 97.2h0m0-103.6h0m.1-43.4h0m0 151.8h0m0-11.4h0m0-79.1h0m.1-10.3h0m.1 94.3h0m.1 2.3h0m0-86.4h0m0 83.7h0m.1-4.8h0m0 6.8h0m.1-81.1h0m0 .4h0m.1-3.6h0m.2 81h0m0-86.7h0m.1 84.5h0m.1-86.7h0m0 9.3h0m.4 .8h0m0 83.4h0m.2 6.3h0m.1-97.6h0m0 83.4h0m.1-82.2h0m0 3.9h0m.1 85h0m.1-1.1h0m0-79.8h0m.1 80.1h0m.1-2.8h0m.1-80.9h0m.1 87.4h0m0-98h0m.1 95.4h0m.2-89.7h0m0 85.3h0m0-3h0m.1 2h0m.1-76.9h0m0 83.6h0m0-82.1h0m.1-7.2h0m.2 84.1h0m.2-80.2h0m0-11.9h0m.1 94.5h0m0-101.2h0m0 96h0m.1-97.5h0m0-27.8h0m.1 35h0m0 7.9h0m.1 86.6h0m.2-5.1h0m.1 2.7h0m0-2.9h0m0-78.2h0m0 78.9h0m0 3.6h0m0-95.2h0m.1-14.3h0m.2 113.5h0m0-107.9h0m0 99.8h0m.1-130.4h0m.1 52.2h0m0 83.8h0m.2-5.3h0m0-74.2h0m.1 76.3h0m0-2.7h0m0-85.8h0m0-2.5h0m.1 99.4h0m0-86.4h0m0-4h0m0 2.7h0m0 .5h0m0-.7h0m.1-13h0m.1 9.4h0m0 4.7h0m.2 3.1h0m0-2.6h0m.1-54.8h0m.1 54.1h0m0-19.9h0m0 96.7h0m0-88h0m.1 .9h0m.1 13.4h0m0-23.9h0m.1 23.4h0m0-9.7h0m.1 2.9h0m.1-.9h0m0 2.4h0m0-12.4h0m.1 90.8h0m0-98.4h0m.1 22.2h0m.1 79.7h0m0-88.3h0m0 90.9h0m.1-80.5h0m.1-28.8h0m0-11.9h0m0 40.9h0m0-5.8h0m.1 89h0m0-8.7h0m.1 6.4h0m0-145.1h0m0 43.6h0m0 16.3h0m0 80.1h0m.1 3.7h0m.1-78.8h0m0-34.3h0m.1 24.2h0m.1-19.7h0m.2 20.6h0m0 87.3h0m.1-3.5h0m.1-84.6h0m.1 92.6h0m0-116.9h0m0 12.2h0m0 12.9h0m0 9.5h0m.1-1.5h0m0-2h0m.1 79.2h0m.1-89.6h0m0 92.9h0m0-5.2h0m.2-109.8h0m0 36h0m0-1.5h0m0 78.6h0m.1-.7h0m0-91h0m.1-6.9h0m0 110.5h0m0-92.1h0m0-31.9h0m.1 137.9h0m.2-21.2h0m.2-82.7h0m0-20.8h0m.1 94.9h0m.1-96.6h0m.1 97.5h0m.2-.7h0m0 4.6h0m.1-154.1h0m0 75.6h0m0-20h0m.1 2.1h0m.2 101.7h0m.3-98.7h0m0-8.7h0m.1 21.3h0m0 2.9h0m.1-26.5h0m.1 22.5h0m.1 83h0m.2-79h0m.1-5.3h0m.2 81.9h0m0-90.5h0m.1 10.4h0m0 82.3h0m.3 7.8h0m.2-104h0m0 17.7h0m0-5.7h0m0-8.1h0m.1 2.4h0m.1 89.4h0m0-81.2h0m.1 78.4h0m0-105.2h0m0 104.3h0m.2-78.4h0m.1-17.3h0m0 97h0m.1-75.3h0m.1-7.4h0m.1 94h0m.1-101.6h0m0-63.4h0m.1 48.6h0m0 23.8h0m0-21.1h0m0 109.4h0m0-92.1h0m0-7.4h0m0 90h0m.1 7.8h0m.1 0h0m.1-6.2h0m0-80.5h0m0 1.6h0m0-6h0m.1-4.2h0m0 87.2h0m.2-89.5h0m.1 9.3h0m.1 84.7h0m0-.8h0m.1 4.4h0m.1-82.6h0m0 95.4h0m0-11.9h0m.2-8.8h0m0-149.9h0m.1 65h0m.2 3.9h0m0-7h0m0 88.9h0m.1-114.1h0m.1 11.1h0m0 115.5h0m0-5h0m.1-86.2h0m.3-13.5h0m.1 91.6h0m.1 5h0m.1-78.7h0m.1 75.4h0m.1-103.9h0m0 109.2h0m.1-6.6h0m.1-73.9h0m0-.8h0m.1-.2h0m0-10.4h0m.1 97h0m.1-138.1h0m0 127.1h0m.3-.2h0m0-1.2h0m0-85.4h0m.1 85.5h0m0-87.8h0m.1 13.1h0m0-5.3h0m.1 81.3h0m.1-76.1h0m0-.9h0m0-1.9h0m.1-2.7h0m0 87.1h0m.1-5.2h0m0-86.3h0m0 10.3h0m0 82.9h0m.2-101h0m.1 19.9h0m.1 79.6h0m.1-5.2h0m.1 .5h0m0 2.4h0m.1-96.9h0m0 99.8h0m.2-7.6h0m.1-73.3h0m.1-3.9h0m0 79.7h0m.1-1.7h0m0-90.7h0m0 15.7h0m0-13.4h0m.1-6h0m0 7.5h0m.1 1.2h0m0-5.4h0m.1 92.3h0m0-137.4h0m.1 53.7h0m0 5.3h0m.2-26.2h0m0 120.1h0m.2-105.7h0m0 93.6h0m0-3.3h0m0-89.7h0m.2 92.8h0m.1-81.3h0m0 94.2h0m0-17.6h0m0 2.8h0m0-81.4h0m.1-5.8h0m0 95.4h0m0-89.5h0m.2 .8h0m0-1.4h0m.1-.3h0m0-37.8h0m.4 43.1h0m.1 81.7h0m0-85.3h0m.5 90h0m.1-7.5h0m.1 1.5h0m.1-80h0m0 73.7h0m0 3.6h0m0-.7h0m.1-83.3h0m.2 82.7h0m0-.5h0m.1-74.2h0m.1 73.5h0m0-82.4h0m0-35.9h0m0 119.2h0m0-79.9h0m0-28.8h0m.1 23.9h0m0 84.4h0m.1 3.3h0m0 1.7h0m0-131.3h0m.1 39.9h0m0 11.2h0m0 1.1h0m.1-4.1h0m.1-.9h0m0-4.3h0m.2-7.6h0m0 95h0m.1-81.9h0m0 77.3h0m.2 3h0m0-86.3h0m0 86.8h0m.1-93h0m.1 92.3h0m0-79h0m.1 2.5h0m0-4.4h0m.1 2.9h0m.1-9.4h0m0 94.3h0m.1-6.8h0m0-78.9h0m.2 80.3h0m0 1h0m.1-4.2h0m0-81.5h0m0 7.2h0m.4-3.7h0m.1 78.2h0m0-85.3h0m.1 8.3h0m0-11.4h0m.1 10.2h0m.1-.4h0m.1 86.1h0m0-88.6h0m0 89.7h0m.1-2.4h0m0-157.2h0m0 71.3h0m.1-.2h0m.2 84.9h0m0-98.7h0m.1 98.9h0m.1-96.5h0m.1 11.3h0m.1-19.9h0m.2 14h0m.1-27.2h0m.1 28.8h0m.1 84.2h0m0-102.1h0m.1 25h0m.1-.7h0m0 77h0m.1-85.1h0m0 96h0m.1-85.3h0m0-7h0m.1-.5h0m0 91.6h0m.1-5.2h0m.1-1h0m0-1.4h0m0-78.4h0m.1-32.6h0m.1 30.5h0m0-20.8h0m0 104.1h0m.1-79.8h0m0 77.8h0m0-80.9h0m0-13.4h0m.1 11.4h0m.1-4.1h0m.1-.9h0m.1 84h0m.1-85.7h0m.1 2.3h0m0 94.8h0m0-5.6h0m.1-96.7h0m.2 7h0m0 89.2h0m.1-84.8h0m.1 92.7h0m0-88.6h0m.1 77.1h0m0-79.5h0m0 1.6h0m.1-56.3h0m0 56.2h0m0-11.6h0m0 102h0m.1-94.8h0m.1 85.3h0m0 7.1h0m0-98.9h0m.2 10.5h0m0 1.1h0m.1-2.8h0m.1-4.2h0m.2 86.8h0m0-87.1h0m.1 6h0m.1 80.6h0m0-79.9h0m0-.9h0m.1-23.8h0m.1 20.7h0m0 5.2h0m.1-7.2h0m.1 91.5h0m.1-8.7h0m0-75.3h0m.1 90.3h0m0-118.2h0m0 107h0m0 9.4h0m.1-94.1h0m0-13.1h0m.2 16.5h0m.1-10.8h0m0 90.6h0m0-81h0m0 91.6h0m.1-96.3h0m0 89.7h0m.1-81.3h0m.2-18.6h0m0-20.3h0m.1 122.1h0m.1-97.4h0m.1-12.8h0m.1 2.4h0m.1 13.3h0m0 7.3h0m0 1.7h0m0 2.6h0m.1-6.6h0m0 5.2h0m.1 78.4h0m0-87.2h0m0 2.1h0m.1 4h0m.2-7.5h0m.3 2.2h0m.1 84.5h0m0-87.2h0m.1 9.5h0m0 1h0m0-43.1h0m.1 43.8h0m.1-8.5h0m0-15.7h0m.1 108.7h0m0-99.5h0m0 11.1h0m0-16.8h0m.1 100.9h0m0-111.4h0m.1 110.6h0m0-96.8h0m0 15.3h0m0 87.7h0m.1-90.3h0m0 5.2h0m.3-7.5h0m.2-3.5h0m.2 10.9h0m.2 76.1h0m0 7.7h0m.1-3.8h0m0-124.2h0m.2 126.6h0m.1-4.3h0m.3-1.3h0m0 23.6h0m.1-22.5h0m.1 6.1h0m0-112.2h0m0 27.6h0m.1-23.7h0m.1 102h0m.1-117.6h0m0 120.6h0m0-95.3h0m0 .2h0m.1 94.5h0m0-91.9h0m.1-9.8h0m0 97.5h0m.1 5.5h0m.2-85.9h0m0-2.7h0m.1-19.1h0m.1 13.1h0m.1-2h0m0-5.5h0m.1 101.8h0m.1-5.5h0m0-83.2h0m0-6.4h0m0 96.1h0m.1-94.4h0m.1-14.7h0m0 107.7h0m0-4.5h0m.1-76h0m.1-3.5h0m.1-6.5h0m0-3.3h0m.1 88.6h0m0-92.8h0m.1 15.2h0m0 83.3h0m.3-82.8h0m0-29.7h0m0 114.8h0m0-84.2h0m.1-12.4h0m.1 89.1h0m0-125.6h0m0 45.3h0m.1-3.9h0m0-38.5h0m0 24.8h0m.1 101.8h0m0-109.5h0m.1 27.2h0m.1 94h0m0-7.2h0m0-5.5h0m0-1.1h0m.3-80.6h0m0 3.3h0m.1 77.9h0m0 .6h0m.1-83.5h0m0-19.8h0m.1 105.5h0m0-80.4h0m.2-3.3h0m0 82.2h0m.1-83.6h0m0-9h0m0 12.6h0m0-11.1h0m.1 90.8h0m0-1.7h0m.1-2.9h0m.1 2.5h0m.1-82.1h0m.1 85.1h0m0-3.6h0m.1 4.4h0m0 4.7h0m.1-84.5h0m.1-11.1h0m.1 3.8h0m0 82.3h0m.1-83.6h0m0-36.7h0m0 23.1h0m.1 20.4h0m.1-35.4h0m.1 36.2h0m.1-4.9h0m0 91h0m.1-121.4h0m0 35.1h0m.1 78.6h0m.1-125.6h0m0 123.4h0m.2 2.7h0m.1-81.1h0m.1-25.1h0m0 20.9h0m0 4.1h0m.1-28.4h0m0 5.3h0m0 17.8h0m.1 88.8h0m0-2.8h0m0-77.1h0m.1-3.8h0m.1-20.9h0m0 4.4h0m.1 100.5h0m.2-81.1h0m.1-11.1h0m0 3.7h0m.1 6h0m0-8.5h0m0 94.4h0m.1-91.7h0m.1 85.1h0m0-92.7h0m0 11h0m.1 3.4h0m.1-6.4h0m0 81.7h0m0-99.1h0m0 105.3h0m0-103.1h0m.1 107.7h0m0-86.5h0m.1-29h0m0 31h0m0 74.2h0m.1 1.7h0m0-120.8h0m0 120.1h0m.2-81.9h0m.3-4.4h0m.1 1.3h0m0-.1h0m0 2.7h0m.3 .2h0m.1 80.2h0m.1-96.4h0m0 97.7h0m0-80.4h0m0 3.5h0m.1-6.3h0m.1 7.3h0m0 83.5h0m.2 1.2h0m0-115h0m.1 20.7h0m0-10.1h0m0-1.8h0m0 114.8h0m.2-94.5h0m.2 78.6h0m0-81.5h0m.1-14.2h0m.1 96.3h0m.1-3.3h0m.1-87.5h0m0 11.1h0m.1 1.8h0m0 77h0m.1 3.7h0m0-5.1h0m.2-81.7h0m0 84.5h0m0 2.1h0m.1-5.7h0m.2-100.1h0m0 100.4h0m0-74.3h0m0 85.2h0m.1 2.1h0m.2-92.1h0m0 1.6h0m0-4.6h0m0 86.7h0m.1-104.4h0m0 99.8h0m.1-75.7h0m.2 75.1h0m0-84.8h0m.1 94.5h0m.1-91.6h0m.1 84.1h0m0-1.1h0m.1-82.5h0m0 6.3h0m.1-5.5h0m.1 81.6h0m0-90.8h0m0 99.1h0m.1-98.6h0m0 92.8h0m0-1.5h0m.2 2.3h0m.2-82h0m.1 83h0m0 1.9h0m.1-92h0m0 86.6h0m.1 6.2h0m0 .7h0m.1-99.3h0m0 9.3h0m0 80.9h0m0 1.4h0m0-126.9h0m.1 129.7h0m0-1.7h0m.1-88.5h0m.1 91.2h0m0-119.7h0m.2 32.4h0m.1 89.1h0m.1-4.8h0m0 2.4h0m0 1.9h0m.2-92h0m.1-42.8h0m.1 44.1h0m0 2.9h0m0-11.8h0m0 18.5h0m.1 76.1h0m.1-104.6h0m0 6.9h0m0 97.3h0m.2 5.2h0m0-81.9h0m.1 79.2h0m.1-82h0m0 83.1h0m.1-95.9h0m0 98.9h0m.1-82.6h0m.2 80.1h0m0-2.6h0m0-97.6h0m.1 21.5h0m0-23.4h0m.5 97.2h0m.4-86h0m.1-13.6h0m.2 100.9h0m0-91.2h0m0 93.6h0m.1-82.4h0m0 95.3h0m0-113.8h0m.3 97.9h0m0 2.2h0m.1-87.2h0m0 86.4h0m.1-76.9h0m0-3.6h0m0-11.9h0m.1-19.3h0m0 35.4h0m.1-6.7h0m0-3.1h0m.2 63.6h0m0-22.2h0m0 3.2h0m.1-11.2h0m0-13.7h0m0 34.9h0m0 35.9h0m0-21h0m.1-61.7h0m0 17.7h0m0-13.4h0m0 77h0m0-80.9h0m0 50.5h0m0 12.5h0m.1 14h0m0-54.6h0m0 32.3h0m0-54h0m0 69.2h0m0-64.7h0m0 78.4h0m.1-30.1h0m0-21.4h0m0 49.8h0m0-42.2h0m0-37.4h0m0 32.8h0m0-14.1h0m0 26.5h0m0 32.8h0m.1-70.5h0m0 50.1h0m0-10.1h0m0-11h0m0 42.2h0m0-67.6h0m.1-25.8h0m0 71.1h0m0-28.3h0m0 51h0m0-10.4h0m0-13.9h0m0 11.1h0m0-70.8h0m0 36.4h0m0-15h0m0-12.9h0m0 23.6h0m.1 47.7h0m0-75.6h0m0 46.7h0m0-33.4h0m0 59.4h0m0-50.7h0m0 32.6h0m0-18.8h0m0-26.5h0m.1 3.3h0m0 28.9h0m0 19.2h0m0 11.1h0m0-7.1h0m0 .7h0m0-24.5h0m0 33.1h0m0-49.3h0m0-23.3h0m0-4.8h0m0 10h0m0-8.9h0m0 77.6h0m.1-86.4h0m0 87.9h0m0-79.7h0m0 28.5h0m.1-11.2h0m0 3.9h0m0 18.2h0m0 26.6h0m0-23.3h0m0-29.2h0m0 23.5h0m0 16.4h0m.1-44.8h0m0 21.4h0m0 50h0m0-81.9h0m0 48.1h0m0 26.8h0m154.9-5.1h0m0-3.3h0m0-31.8h0m0 29.1h0m.1-10.4h0m0-51.3h0m0 25.5h0m0 15.5h0m0-33.3h0m.1 36.9h0m0 34.5h0m0-45h0m.1 43.6h0m0-31.7h0m0-34.3h0m0 15.5h0m0 43.5h0m.1-71.3h0m0 79.8h0m0-83.1h0m0 3.4h0m0 9.6h0m0 44.7h0m.1-18.3h0m0-10.6h0m0 18.2h0m0-44.4h0m0 75.6h0m0-37.9h0m0-29.9h0m0 70h0m.1-32.6h0m0 29.1h0m0-34.2h0m0-44.3h0m0 87.2h0m0-.5h0m0-64.6h0m0-13.9h0m0 7.3h0m0 31.8h0m0 27.1h0m.1-2h0m0-65.3h0m0 27.3h0m0-26.1h0m0 11.5h0m0-48.4h0m0 46.8h0m0 27.5h0m0 17.2h0m0 25.5h0m0-58.9h0m.1-28.4h0m0 88.5h0m0-24.2h0m0-12.1h0m0-17.8h0m0-14.4h0m0 59.6h0m0-75.1h0m0 52.9h0m.1 27.4h0m0-59.1h0m0-16.6h0m0-5.4h0m0 63.7h0m.1-43.3h0m0 36.3h0m0-38h0m0 30.9h0m0 .7h0m0 8.6h0m0-29.9h0m0 43.4h0m0-5.8h0m0-10.9h0m.1-51.9h0m0 34.4h0m0-15.3h0m0 58.1h0m0-49.2h0m0-33h0m.2 81.8h0m0 2.4h0m.1 11.3h0m0-95.8h0m0 81.2h0m0-77.7h0m0 77.7h0m.1-81.3h0m0-3.6h0m.1-6.1h0m.1 14.9h0m0 87.3h0m0-6.5h0m0-80.7h0m.1-6.4h0m0 82.6h0m.1-78.7h0m0 2.9h0m.1 78.9h0m.1 .9h0m.1 2.6h0m0-4.2h0m.1-1.4h0m.3-90.2h0m.1 12.4h0m0-2h0m.1-41.4h0m0 148.1h0m.3-114.1h0m0 86.3h0m.1-75.8h0m.1 76.4h0m.1-78h0m.1-1.7h0m.1-4.9h0m.1 99.6h0m0-94.9h0m.1 79.2h0m0-75.7h0m.1 75.8h0m.2 6.1h0m0 10.3h0m0-16.6h0m.1-92.7h0m.1 93.7h0m.1-93.6h0m.2 6.5h0m.2 97.5h0m0-3.9h0m.1-6.3h0m0 3h0m0 1.6h0m0 5.2h0m0-89.3h0m0 82.7h0m.2 5.1h0m0-100.4h0m0 102.2h0m.1 4.7h0m.2-3.6h0m.1-103.4h0m.2 94.1h0m0-107.1h0m0 20.1h0m.1 88.5h0m0-81h0m.1 78.9h0m.2-78.6h0m.1 81.1h0m0-4.6h0m.3 5.4h0m0-89.6h0m0 6.1h0m0-1.6h0m.1 2.7h0m0-2.6h0m.2-3.3h0m.2 6.7h0m.1 .2h0m.1-.7h0m0-17.4h0m.2 96.8h0m.1 2.2h0m0 .5h0m.1-1.4h0m0 3.2h0m0-84.1h0m.2 83.6h0m0-84.4h0m0-11.5h0m.1 10.8h0m.1-.1h0m0-37.1h0m0 30.6h0m.1 90.8h0m.1-6.5h0m0 0h0m.1 3.7h0m0 3.6h0m0-83.7h0m.1-7.5h0m.1 94.2h0m.2-91.5h0m0-27h0m.1 20.6h0m.1-12.9h0m0 107.2h0m.4-4h0m.1-.6h0m.2 1.3h0m0-78.9h0m0 81.8h0m.2-82.6h0m.1-8.8h0m0 86.8h0m0-1.4h0m.1 11.1h0m.2-114.9h0m0 26.1h0m.2-13.4h0m0 96.9h0m0-83.8h0m0 81h0m0-1.6h0m.2-79.7h0m.2 81h0m0-82.1h0m0 82.7h0m.2-82.6h0m.1-13.5h0m.1-1.6h0m.1-9.8h0m.1 25.5h0m.1 78.9h0m.2 11h0m.2-7.2h0m0 2.8h0m0-88.9h0m.1 83.9h0m0-87h0m.2 3.9h0m0 87.9h0m.1-2.3h0m0-2.3h0m0-78.8h0m0 80.4h0m.1-81.7h0m0 79.3h0m.1-84.2h0m0 85.9h0m.1-92.2h0m0 8.2h0m.1-4.8h0m.2 8.2h0m.1-15.8h0m0 108.1h0m0-10.6h0m.1-82.2h0m0-1h0m.1-3.6h0m0-20.4h0m.2 14.8h0m.1 4h0m0 84.9h0m.1-79.4h0m.2 86.5h0m.1-87.5h0m.2-13.1h0m.1 97.1h0m0-104.6h0m0 18.7h0m.2 93.1h0m.2-9.5h0m0-86.6h0m.2 87.8h0m0-84.9h0m.1 81.8h0m0-99.3h0m0 100.6h0m.1 1.7h0m.1-82.2h0m0 80.2h0m.1 6.8h0m.1-5.6h0m.1-79.5h0m.1-8.6h0m0 .1h0m.2-29h0m0 3h0m.1 30h0m.1 4.5h0m0 86.9h0m.2 17.9h0m.1-110.5h0m0-10.9h0m0 9.8h0m.1 8.1h0m.1 78.8h0m.1-3.4h0m.1 9.6h0m.1-87.2h0m0 81.7h0m.1-80.3h0m0-12.4h0m.2 6.9h0m0 85.1h0m.2 10.7h0m.2-95.7h0m0-8.8h0m0 9.2h0m0 1.3h0m.1-4.1h0m.1 7.4h0m0-11.5h0m.2 8.9h0m0 85.7h0m0-6.9h0m.1 1.7h0m0 1.3h0m.2-115.1h0m0 125h0m0-12.1h0m.1-75.6h0m0 80h0m.1-87.5h0m.1 5h0m0-1.3h0m.1 88.8h0m0-87.4h0m.1-11.5h0m0 97h0m.2 1h0m.1-7.5h0m.2-86.8h0m.2 91.3h0m0-87.9h0m.1 5.3h0m0-2.3h0m0 78.9h0m.2-79.9h0m0-8.8h0m.1 13.1h0m0-2.4h0m.1 3h0m.2 88.6h0m.1-93.3h0m.1-6.2h0m.1 90.3h0m0 1.1h0m.1 2h0m.1-5.1h0m.1-.6h0m.1-85.6h0m0 8.9h0m.1-.5h0m.1 76.9h0m0-1.3h0m.1-90.5h0m0 12.3h0m.1 86.8h0m0-100.9h0m0 13.9h0m.2 78.2h0m0-86.2h0m.1 87.9h0m.1-84.3h0m.1 85.5h0m.1-2h0m.2 12.9h0m0-89.4h0m0-5.4h0m.1-1h0m0 90.3h0m0-83.4h0m.1-.9h0m.1-5.1h0m.1 85.3h0m.1-80.6h0m.1 76.3h0m0-78.6h0m.1 79.3h0m0-78.1h0m.1 82h0m0 12h0m0-99.4h0m.2 86.7h0m0-89.1h0m.1-2.2h0m.1 7.7h0m0-1.7h0m.1 1.4h0m0-9.5h0m.1 6.9h0m.2 .1h0m.1 97.3h0m0-92.5h0m0 84.3h0m0-88h0m.3 82.2h0m.1-78.1h0m.1 86.1h0m0-60.7h0m0-4.1h0m.1 37.1h0m0-8.6h0m0-5h0m0-33.4h0m0 49.5h0m0 27.4h0m0-84.6h0m0 71.4h0m0-26.8h0m0-4.4h0m0 11.8h0m0-25.4h0m.1 42.4h0m0 5.9h0m0-79.5h0m0 57.7h0m0-41.6h0m0 15.7h0m.1-44.2h0m0 67.9h0m0-44.8h0m0 69h0m0-50.3h0m0-26.5h0m0-.1h0m0 69.1h0m0-13.4h0m0-33.9h0m0-16.7h0m0 11.8h0m.1-10.2h0m0-10.5h0m0 70.7h0m0-87.6h0m0 36h0m0 19.7h0m.1-39.7h0m0-31h0m0 114.5h0m0-15.6h0m0 22h0m0-40.7h0m0 44.1h0m.1-114h0m0 59.7h0m0 40.6h0m0-70.5h0m0-.8h0m0 56.7h0m0-15h0m0-45.9h0m0 28.4h0m0 36.1h0m.1-64h0m0-1.4h0m0 51.3h0m0-1.2h0m0 17.1h0m0 6h0m0-47.2h0m.1-28.6h0m0 55h0m0-51.6h0m0 30.8h0m0 1.4h0m.1 30.4h0m0-51.2h0m0 69h0m0-39.4h0m0-22h0m0 18.1h0m0-3.5h0m.1-21.3h0m0 65.8h0m0-9.4h0m0 2.1h0m0-44.1h0m0-12.1h0m0 23.2h0m0 14.6h0m.1-13.7h0m0 5.6h0m0 14.5h0m0-19.3h0m0-18.5h0m58.9 9.7h0m0 8h0m0-32.4h0m.1-9.4h0m0 74.2h0m0-55.3h0m0 4.9h0m0 58.8h0m0-66h0m.1-3.8h0m0 58.3h0m0-64.8h0m0 7.8h0m0 40.7h0m0-18h0m0 43.9h0m0-31.9h0m0-12.9h0m0 25.3h0m0-8.5h0m0 17.2h0m.1-16h0m0-51.7h0m0 24.3h0m0 52.8h0m0-16.4h0m0-11.4h0m0-40.4h0m.1 11.7h0m0 57.2h0m0-21h0m0 7.5h0m.1 25.5h0m0-86.5h0m0 58.4h0m0-15.8h0m0-4.8h0m0-41.5h0m0 43h0m0 24.1h0m0-28.5h0m0-39.2h0m0 26.5h0m0 51.6h0m.1-23h0m0-18h0m0-9.8h0m0 38.7h0m0-28.1h0m0 42.5h0m0-9.2h0m0-26.5h0m0-24.6h0m0 38.7h0m0-52.9h0m.1 42.6h0m0 29.9h0m0 16.4h0m0-80.2h0m0 65h0m0-1h0m0-59.5h0m.1 56.9h0m0 14.8h0m0-13.1h0m0-79.9h0m0-10.9h0m0 5.6h0m.1 14h0m0-4.5h0m0 22.3h0m.1 31.7h0m0 18.5h0m0-28.5h0m0-47.8h0m0 31.8h0m0-26.6h0m0-3.9h0m.1 64.9h0m0-48h0m0 12.3h0m0 4.9h0m0-2h0m0-38h0m0 94.6h0m.1-107.1h0m0 98.2h0m.1 9.6h0m0-10.7h0m0 .6h0m.1-81.8h0m.4 2.4h0m0 .8h0m.1 0h0m0 .7h0m0 77.1h0m.1 4h0m0-80.6h0m.1-14.3h0m.1 100.8h0m0-89.3h0m0 86.5h0m0-89.7h0m.1-47.6h0m.1 40.4h0m0 13.6h0m.2-9.3h0m0 87.8h0m.3-83.4h0m0 4.6h0m0-13.6h0m.2 91.5h0m.3-87.8h0m0 88.8h0m.1-82.5h0m0 80.9h0m0 13.6h0m.4-115.2h0m0-1.4h0m0 12.9h0m0 103.8h0m.1-7.7h0m.1-86.8h0m0 81.3h0m.3-78.3h0m.1-5.6h0m0 1.8h0m0-15.6h0m.1 16.2h0m.1 81.1h0m0-100.2h0m.1 23.3h0m0 79.3h0m.1-88.9h0m0 11h0m0-27h0m.1 17h0m.3 6.2h0m.1-4h0m.3 8h0m0-3h0m0 79.8h0m.2-78.1h0m.2-2.1h0m0-20.9h0m.1 11h0m.1 12h0m0-15h0m.1 13.2h0m.3-1.1h0m.1 79.9h0m0-78.7h0m0 81.3h0m0-3.2h0m0-76.9h0m.1 1.9h0m0-.3h0m.1-8.5h0m0-5.7h0m.2 9.8h0m0-54.7h0m.1 142.4h0m0-88.3h0m.2 86.5h0m0-1.9h0m0 7h0m.1-86h0m.1 81.3h0m0-91.7h0m0 7h0m.1-11.3h0m.1 9.2h0m0 4.7h0m.1 84.7h0m.1 3.4h0m.1-87.3h0m0 0h0m0-5.6h0m.1 80.4h0m0 2.5h0m0-97.9h0m.1 95.5h0m.1-97h0m0 98.3h0m.2 3.1h0m.1-104.6h0m.1 105.1h0m0-85.1h0m0 2.7h0m.1 .1h0m0 2.3h0m0-.4h0m.2-1h0m.2-2.9h0m.2 79.8h0m0 1.8h0m.1 6.9h0m.1-90.1h0m0 0h0m.1 84.9h0m.2-124h0m0 121h0m.1-76.5h0m.1 78.9h0m.1 11.3h0m0-97.7h0m0-1.8h0m0-2.1h0m.1 10.7h0m.1-6h0m.1-4h0m0 86.5h0m.1-79.4h0m.1 4.5h0m.2 83.6h0m0-7.9h0m.1-1.5h0m.1-109.7h0m.1 16.2h0m.1 93.9h0m.1 .8h0m.1 10.4h0m0-101.6h0m.1-15.7h0m.1 108.8h0m.2-80.5h0m0-11.5h0m.1 91.4h0m.2-2.4h0m0-75h0m0-1.1h0m.1 87.2h0m0-6.4h0m.1-2.2h0m0-78.7h0m0 76.7h0m.1-79.3h0m0 3.2h0m0 89.6h0m0-95.6h0m.1-13.9h0m.1 19.2h0m0 89.4h0m.1-95.2h0m0-3.6h0m0 6.5h0m.1 87.3h0m0-7.8h0m0 1.9h0m.1-79.5h0m0-29.9h0m0 28.6h0m0-3.2h0m.1 91.4h0m0-87.5h0m.1 .1h0m0 79.1h0m.1-88.8h0m0 87.9h0m.1-78.7h0m.1-2h0m0-13.4h0m0 94.4h0m.1-79.8h0m0 1.7h0m.1 83h0m.2-82.4h0m0 87h0m0-9.4h0m.1 17h0m0-94.1h0m.1-.6h0m0-.7h0m.1 2.1h0m0-10.5h0m0 5.7h0m0 83.2h0m.1-85.8h0m.1 2.6h0m0 5h0m.1 88.3h0m.1-9h0m0-80.3h0m0 82.2h0m.1-83.1h0m.1 80.5h0m0 29.4h0m0-128.6h0m0 99.5h0m0-82.5h0m.1 81.7h0m.1-110.4h0m0 114h0m.1-92.1h0m.2 8.8h0m0-7.3h0m.1-37.9h0m.1 46.2h0m0-27.5h0m.1 106.1h0m0-1.4h0m.1-87.4h0m0-.1h0m0-15.9h0m.3 108.3h0m.1-4.9h0m0 1.5h0m.1-96.8h0m.2 96.1h0m0-85.5h0m.1 4h0m0-9.4h0m.1 9.8h0m.1 78.8h0m0-83h0m0 2.4h0m0 85.2h0m.1-80.2h0m.1-6h0m0-2.5h0m.1 89.8h0m0-97.8h0m.2 93.5h0m.1-78.4h0m0 82.4h0m.1-82.7h0m.2 80.4h0m.1-80.2h0m0 86.2h0m0-101.6h0m0 6h0m0-3.3h0m.1 96.3h0m.1 1.6h0m0-112.4h0m0 110.2h0m0-5.9h0m0 12.2h0m.1-12h0m0 2.5h0m.1 2h0m0 4.9h0m0-1.3h0m0-86.1h0m.1 1.8h0m.1-16.3h0m0 3.4h0m0 12.1h0m.2 103.9h0m.2-17.8h0m.2-88.8h0m0 80.4h0m.1 10.3h0m0-6.7h0m.1-118h0m.2 35.5h0m0-5.2h0m.3-21.9h0m.1 17.3h0m.1 11.9h0m0-.1h0m0-7.8h0m.1-2.3h0m0 89.6h0m0-3h0m0-88.7h0m0 97.4h0m.1 10.4h0m.1-18.4h0m.1 5.6h0m0-105.7h0m.1-4h0m0 104.4h0m.1 1.1h0m.2-83.8h0m0-38.3h0m.2 44.1h0m0-3.2h0m.2 90.2h0m.1-163.8h0m.1 166.3h0m0-12.1h0m.1-85.4h0m.1 84.7h0m.1-78.6h0m.1 78.7h0m.1 1.9h0m.1-1.5h0m.1-94.2h0m0 97.7h0m0-.5h0m.1-.4h0m0-92.1h0m0 7.9h0m.2-15h0m0 11.9h0m.3 87.1h0m0-85.1h0m0 81.2h0m0-79.2h0m.1 80.5h0m0-83.9h0m0 90.9h0m.2-83.8h0m0 75.5h0m0 .2h0m0 0h0m.1-80.3h0m0 1.6h0m0-2.1h0m.1 4.3h0m0-6.9h0m0 84.1h0m.3-78.7h0m.1 87.4h0m0-87.3h0m0 79.7h0m0-95.5h0m0 16.6h0m.1-51h0m.1 131.3h0m0 10.2h0m0-11.5h0m.2-77.6h0m0 76.2h0m.1 10.4h0m.1-95.4h0m0 1.5h0m.1 6.2h0m0 80.1h0m0-80h0m.3 78.8h0m.1-82.9h0m.1-12.7h0m.2 113h0m.1-18.6h0m.1 1h0m.1-2.6h0m0-76.4h0m.1 1.3h0m.1-.3h0m0-4.9h0m.1 91h0m.1-94.1h0m0 84.7h0m.1-83.9h0m.1 2.4h0m.1 3h0m.1 87.1h0m0-89.2h0m0 84h0m0-98.6h0m.1 104.7h0m0-6.4h0m0-94.1h0m.1 90.8h0m.1-79.4h0m.3 81.3h0m0 4.2h0m.3-87.7h0m0 86.4h0m0-111.2h0m0 30.1h0m.1-18.2h0m0 100.1h0m0-4.2h0m.1-91.2h0m0 88.8h0m.1-87.8h0m.1 97.5h0m0 .7h0m.1-89.9h0m.1 87.4h0m0-86.3h0m0 3.4h0m0 77.7h0m.1-1.1h0m.1-78.8h0m0 80.8h0m.2-78.5h0m.2 83.9h0m.2-95.5h0m.1 4.5h0m0 3.8h0m.1-45h0m.1 43.5h0m0-12h0m0 14.6h0m.2 90.1h0m0-109.4h0m0 98.4h0m.1-79.8h0m0-2.2h0m.1 4.3h0m.1 85.4h0m.1-6.6h0m.3-.3h0m.1-85.6h0m0 1.6h0m.2 4.9h0m.1 105h0m0-106h0m.3-12.6h0m0 12.9h0m.1-10h0m0-3.7h0m.1-10.7h0m0 105.2h0m.1-89.8h0m.1 7.7h0m.1 81.1h0m0-78.3h0m0-2.3h0m0-1.7h0m.1-3.6h0m.1-11.7h0m0 5.4h0m.1-1.9h0m0 12.6h0m.1 88.7h0m0-159.8h0m0 157.8h0m0-8.3h0m0-83.7h0m.1 83.7h0m.1-75.7h0m.1-2h0m0 77.5h0m0-77.3h0m0 88h0m.1-10h0m0 6.4h0m.2-82.1h0m.2 76.3h0m.1-83.7h0m.2 6.1h0m.1-.7h0m0-5.6h0m0 84.9h0m.1 4.3h0m0-88.6h0m0 84.5h0m.2-78.9h0m.2-2.9h0m0 80.4h0m0-76.9h0m.2-1.9h0m0 83.9h0m.1-88.2h0m0 2.8h0m0-10.9h0m.1 103.2h0m0-2h0m.1-4.3h0m.1 2h0m0-84.8h0m.1 80.4h0m.2-1.5h0m0-97.6h0m0-2.8h0m.2 101.3h0m0-79h0m.1 77.7h0m0-85.1h0m0 4.8h0m.1-1.5h0m.1 4.6h0m0 85.5h0m.2-102.4h0m0 92.3h0m.2 .5h0m.1-94.6h0m0 9.5h0m.1 88.7h0m.1 4.8h0m0-83.8h0m0 .3h0m0 77.7h0m.1 5.8h0m.5-85.5h0m.1 80.3h0m0 5.7h0m.2-7.8h0m0 3.7h0m.1 1.6h0m0-96.8h0m.1 12.3h0m0-67.5h0m0 17.4h0m0 51.1h0m.2 78.8h0m0-77.6h0m0-1h0m.1-5.3h0m0 83.4h0m.2 15.1h0m0-11.4h0m0-2.5h0m.1-.5h0m.1-78.3h0m.1-12.4h0m0 89.5h0m0 3.1h0m.1 11.8h0m0-96.1h0m.1 80.1h0m0 5.4h0m0-91.2h0m.1 1.7h0m0 87.2h0m.1-78.8h0m.1 74.6h0m.1-83.1h0m.1 7.3h0m0-10h0m.1 3.3h0m.4 8.1h0m0-9.3h0m0 8.4h0m0-1.2h0m.1 76.8h0m.1-84.7h0m0 4.7h0m0 3.8h0m.2 0h0m.1 85.5h0m0-8.3h0m0-104.9h0m.1 17.1h0m0 114.5h0m0-19.5h0m.2-8h0m.1-86.1h0m.1-9.2h0m.1-19.2h0m.4 28.5h0m0 5.2h0m0-7.7h0m.2 88.8h0m0-75.3h0m.1 82.1h0m0-83.9h0m0-16.1h0m0 7.6h0m.1 87.4h0m0 1.6h0m.1-4h0m.1-142.5h0m.1 66.4h0m0 82.2h0m0-.2h0m.2 0h0m0-2.9h0m.1-89.9h0m0 10.7h0m.1 1.5h0m0 81.8h0m.1-94.4h0m.2 12.6h0m0-4h0m0 3.8h0m.1-13.8h0m.1 90.3h0m.2-79h0m0 78.5h0m0 2.9h0m.1 .6h0m0-101.1h0m.1 20.1h0m0 84.4h0m.2-87.1h0m.1 83.6h0m.1-2.4h0m0-91.8h0m.2 98.8h0m0-8.8h0m.1-78.7h0m.1 1.3h0m.2 .3h0m0 1.9h0m.1 75.4h0m0-76.4h0m.1-51.2h0m0 132.9h0m.1-.8h0m0-4.3h0m0 7.8h0m.2-.8h0m.1-3.3h0m.1-79.5h0m.1-.7h0m0-3.6h0m0-2.8h0m.2-1.9h0m0 93h0m.1-6.1h0m0-.3h0m0-91.1h0m.2 11.3h0m.4 88.5h0m0-90.5h0m.2-17.2h0m0 21.2h0m.1-3.1h0m.2 81.3h0m0-105.8h0m.1 24h0m0 80.2h0m.1 3.3h0m.2-88.1h0m0 2.5h0m.2 .5h0m0 107.8h0m.1-103.6h0m0 85.4h0m.2-8.1h0m0-79.2h0m0-7.5h0m.1 90h0m.1-85h0m0 82.8h0m.1 1.7h0m.2 3.5h0m.1-95.6h0m.1 89.2h0m0-76.3h0m.1-3.1h0m0 2.4h0m.2-.4h0m0-17.9h0m.1 99.8h0m0-85.5h0m.1 88.3h0m0-89.9h0m.1 5.6h0m.1 76.7h0m0 2.7h0m.3-81.9h0m0 93.5h0m.1-95.7h0m0 83.5h0m.3 9.8h0m0-10.2h0m.1 3.6h0m0-116.5h0m0 34.5h0m.1-1.2h0m.1-8.7h0m.1 7.8h0m0 79.6h0m0 6.4h0m0-3h0m.1 4.1h0m.2-1h0m0-1h0m0-2.2h0m.1-97h0m0 96.7h0m.1-81.7h0m.1 2h0m.1 86.9h0m.2-86.9h0m.1 78.8h0m0-85.9h0m.1 93.8h0m0-88.3h0m.1-5.2h0m.2 82.8h0m0-84.6h0m.1 85h0m.1 3.3h0m0-79.6h0m0-14h0m.1 6.9h0m.1 84.3h0m0-1.3h0m.2-79.4h0m.2 3h0m0 .5h0m.2-6.2h0m.1 83.1h0m.1 17.6h0m0-95.2h0m.1-8.3h0m0 8.2h0m.1 78.6h0m0 .6h0m.2-96.8h0m0 101.3h0m0-4.5h0m0-90.7h0m.1 11.9h0m0-1.4h0m0-7h0m.1 85.1h0m0-77.1h0m.2-8.8h0m.1 1.9h0m.4 87.6h0m0 12.4h0m.2-93.3h0m0-1.7h0m.2 79.3h0m.1-105h0m0 28h0m.1 .1h0m.1-17.4h0m0 94.5h0m.1 12h0m0-95h0m0 1.3h0m.1-4.7h0m.2 6.6h0m0 3.1h0m0-8h0m.1 4.4h0m.1-12.2h0m.1 2.9h0m0 91h0m.1 4.9h0m0-6.5h0m.2-.1h0m.1 .5h0m.1-.1h0m0-93.5h0m0-23.5h0m.2 36.2h0m.1-6h0m0 116.1h0m.1-25.8h0m0-93.4h0m0 95.6h0m.1-2.8h0m0 .4h0m0-80.1h0m.1 .6h0m.1 80h0m.1 5.2h0m.1 15.7h0m.1-108.4h0m.1 5.2h0m0 81h0m.1-.9h0m.1-88.4h0m.3 5.2h0m0 83.3h0m.1-92.2h0m.1 97.8h0m0-86.4h0m.2-21.5h0m0 24.8h0m.1-.4h0m.1-9.6h0m0 100.1h0m.3-123.9h0m0 24.6h0m.1 8h0m.1-1.2h0m.2 83.7h0m.1 1h0m0-6.6h0m0-88h0m.1 7.5h0m.1 80.5h0m.1-97.6h0m.1 13.1h0m0 83.3h0m.1-83h0m.3 4h0m0 78.8h0m0-88.1h0m.3-3.8h0m0 99.6h0m0-6.7h0m.1-78.8h0m0 79.4h0m0-98.6h0m.1 107.1h0m0-9.6h0m0-76.3h0m0 75.9h0m.1 4.9h0m0-3.7h0m.3-81.5h0m.1 2.5h0m.1-.8h0m.1 .6h0m0 1.3h0m.1 .7h0m.1 1.3h0m0 83.6h0m0 16.6h0m0-18.2h0m.1-86.7h0m.1 83.4h0m0-81.2h0m.1 .6h0m.2 84.3h0m0-7.6h0m.1-75h0m0-37h0m.1 35.3h0m0-17.1h0m.1 95.9h0m0 .9h0m.2-.9h0m.2 3.7h0m.1-95.1h0m.1 12.6h0m.1 79.5h0m0 .6h0m.1-78.9h0m.2-3.1h0m.2 80.2h0m0-80h0m0 84.1h0m.1-100.1h0m.1 97.9h0m0-1.7h0m.1-104.8h0m0-.2h0m.2 14.7h0m.1 89.6h0m0-81.2h0m.1 1.1h0m.1 86.4h0m0-83.3h0m.3 78.5h0m0-78.8h0m0 77.9h0m.1 4.4h0m.1-82.5h0m0-15.9h0m0 13.3h0m0-2.8h0m.1-1.7h0m.1 89.1h0m.1 6.4h0m.1-87.2h0m.1 83.2h0m.1-7.6h0m0-86.9h0m.1 86.9h0m0 9.4h0m0-6h0m0 2.3h0m.1-84.6h0m0 2.4h0m0 75.9h0m.2-87.4h0m0 10.1h0m.1-6.2h0m.1 89.4h0m.4-84.2h0m.1 85.2h0m0-85.5h0m.1-5.8h0m.2 8.6h0m0-24h0m.2 99.4h0m0 11.7h0m.1-87h0m.2-1h0m.1-3h0m0-5.4h0m0-7.8h0m.1 13.7h0m0 80.2h0m.1 5.1h0m.1 9.6h0m.1-91h0m0 74.6h0m0 1.4h0m.2-88.6h0m0-7.4h0m.1 105h0m.2-6.3h0m.1-81h0m0 .3h0m.1 .8h0m.2 79.5h0m.1 11.2h0m.1-89.3h0m.1-3.2h0m.1 91.6h0m0-4.3h0m.1-84.8h0m0-.4h0m.1-2.3h0m.1 85.3h0m0-86.4h0m0 81.4h0m0-106.8h0m.1 108.5h0m.1-81h0m0 83.9h0m0-.2h0m.1-85.6h0m.1-30h0m0 25.3h0m.1 90.8h0m.2-7.4h0m0-84.8h0m0 87.2h0m.1-79.4h0m0 .8h0m.3-.9h0m0-.2h0m0 82.1h0m.1-2.8h0m0-78.9h0m.1 83.7h0m0-88.6h0m.1-21.6h0m0 28.5h0m0 .9h0m0-4.4h0m.3 2.4h0m.2 .2h0m.1 79.2h0m.2 1.2h0m0-81.2h0m.1-17.7h0m.2 16.9h0m.1 2.8h0m0-3.5h0m.1 81.3h0m.1 1.2h0m.1-79.8h0m.1 76.3h0m.3-83.4h0m0-3.4h0m.2 10.1h0m.1 75.8h0m0-76.6h0m.1-2.8h0m.1 86h0m0-90.9h0m0 10.5h0m0 75.5h0m.2 .4h0m.1-78.8h0m.1 .5h0m.3 .8h0m0-1.3h0m0 78.3h0m.1-2.1h0m.2 9h0m0-8.4h0m.1-.1h0m.1-77.3h0m.1 82.2h0m0-81.5h0m0-9h0m.1-2.4h0m0 3.4h0m.3 3.8h0m0 90h0m.1-97.5h0m0 88.9h0m.1-94.3h0m0 97.7h0m0-.8h0m.2 3.1h0m.3 7.2h0m0-91.8h0m0-.9h0m.2 1.3h0m.2-1h0m0 87.9h0m0-92.6h0m.2 92.7h0m0-83.9h0m.1 75.7h0m.1 8.6h0m.1-120.7h0m.1-1.6h0m.3 23.9h0m0 14.3h0m.1-19.7h0m.1-5.6h0m.1 103.7h0m0-3.5h0m.1-73.7h0m0-23.2h0m.1 100.3h0m.1-2.6h0m.1-86.7h0m0-10h0m0 15.6h0m.1 84.1h0m.1-1.2h0m0-76.7h0m0-11.3h0m.2 85h0m0-80.8h0m.1 .4h0m0 81.6h0m0-81h0m.1 90.1h0m.1-6.9h0m0 18.3h0m.1-18h0m.1-79.6h0m.1-9.9h0m0 11.9h0m0 80h0m0-88.7h0m.1 2h0m.1 5.6h0m.1 .4h0m.1 1h0m.3 76.7h0m.2-2.9h0m.2-75.6h0m0-13.2h0m.1 93.1h0m.1 .8h0m0-2.9h0m.1-78h0m.2-3.9h0m0 5.8h0m.1 77.7h0m0-3.6h0m.1 1.1h0m0-98.1h0m.1 100.5h0m0-82.3h0m.2 88.3h0m.1-83h0m.1 74.8h0m.1-92.8h0m.1 93.5h0m0-79.2h0m.1-6.2h0m0 103.8h0m0-95.7h0m0-14.9h0m.1 13.7h0m.1-.7h0m0 91.1h0m0-11.1h0m.1-87.9h0m.1 95.1h0m.1-90.1h0m.1 83.1h0m0-77.5h0m.1 81.5h0m0-4.2h0m.2 5.8h0m.1-5.3h0m0-76.9h0m.1-.7h0m.1 79h0m0-151.1h0m.1 68.9h0m0 80.4h0m.1-79.5h0m.1-7h0m.1 93.9h0m.1-6.6h0m.2 3.8h0m0-109.3h0m0 111.4h0m.1-7.2h0m0 2.1h0m0-79.1h0m0-7.9h0m.1-6.2h0m0 15.1h0m0 76.9h0m.3-115.5h0m0 116.6h0m.1-102.9h0m0 99.7h0m.2 7.3h0m.1-6.9h0m0-76.5h0m0-23.2h0m0 56.1h0m0 42.7h0m0-8h0m0-10.7h0m0-57.5h0m0 56.2h0m.1-21.5h0m0-19.7h0m0 21.3h0m0 2.3h0m0 33.3h0m0 7h0m.1-80.3h0m0 84h0m0-20h0m0-40h0m0 18.9h0m.1-4.2h0m0-42.3h0m0-11.5h0m0 20.8h0m0 38.7h0m0-32.2h0m0-16.9h0m0 67h0m.1-5.5h0m0 20.3h0m0-22.5h0m0-53h0m.1 79.3h0m0-46.7h0m0 26.1h0m0-9.7h0m0-35.6h0m0 68.5h0m0-57.1h0m0 41.2h0m.1-66.9h0m0 70.8h0m0-53h0m0-11.6h0m0 58.4h0m0-64.3h0m0 8h0m0 39.2h0m0-45.3h0m0 65.8h0m0-2.1h0m.1-56.7h0m0 5.8h0m0 21.2h0m0 35.7h0m0 3.6h0m0-42.9h0m0-10.9h0m0 61.7h0m0-30.7h0m0-51.3h0m.1 53.4h0m0-35.6h0m0-16.8h0m0 22.1h0m0 2.3h0m0 17.7h0m.1 38.2h0m0-52.5h0m0-32.5h0m0 22.3h0m0 50h0m0-52.9h0m0 11.7h0m0 45h0m0-70.2h0m.1 4h0m0 43.8h0m0-23.7h0m0 12.9h0m0-30.6h0m0 67.9h0m0-28.7h0m0-36.2h0m0 18.9h0m.1 28.9h0m0-14.8h0m0 30.2h0m11.9-33.5h0m0-26.4h0m0-7.8h0m0 21.9h0m0 4.8h0m0-32.6h0m.1 30.8h0m0 39.7h0m0-25.6h0m0 9.1h0m0-.9h0m0 20.8h0m0-56.1h0m0 29.4h0m0-37.2h0m0 19.6h0m0-32h0m.1 45.1h0m0-41.8h0m0 4h0m0 14.3h0m.1 14.5h0m0-59h0m0 40.8h0m0 5.1h0m0-4.3h0m.1-20.2h0m0 30.5h0m0 19.4h0m0 25.9h0m0-31h0m0 23.3h0m0-51.8h0m0-9.8h0m.1 32.7h0m0 24.5h0m0 7h0m0 5.7h0m0-35h0m0 37.1h0m0-71.1h0m0 51.4h0m.1-59.1h0m0 73.9h0m0-73.9h0m0 26.6h0m0-33.9h0m0 60.1h0m0-55.6h0m0 1.8h0m0 61.9h0m0-12.9h0m0 31.9h0m.1-50.3h0m0 46.3h0m0-60.5h0m0 50.1h0m0-22.2h0m0 24.4h0m0 4.8h0m0-60.1h0m.1 15.8h0m0-27h0m0 77.6h0m0-80.9h0m0 5h0m0-1.5h0m0-5.9h0m0 16h0m0 14.2h0m0-15h0m.1 55.9h0m0-63.9h0m0 75.7h0m0-9.2h0m0-13.6h0m.1-1.5h0m0 8.5h0m.1-22.4h0m.1 38.3h0m0 1h0m.1 22h0m.1-98.9h0m.2-24.9h0m0 10.2h0m.1 11.4h0m0 78.5h0m0-93.1h0m0 17.4h0m0-15h0m.1 95.5h0m.3-82.8h0m0-.3h0m.1-5.6h0m0-3.2h0m0 86.4h0m0 6.4h0m.1-6.6h0m.1-80.9h0m.2-6.9h0m0 12.4h0m.2-8.5h0m0 89h0m0-88.6h0m.1 85.7h0m0-1.9h0m0-81.1h0m.2-7.1h0m0 88.6h0m0-77.1h0m.2 .3h0m0-57.8h0m0 15.9h0m0 125.4h0m0 .3h0m.1-85h0m.1 81.6h0m0-80.3h0m.2-8.5h0m.2-3.3h0m0 92.9h0m0-82.3h0m.1-7.2h0m0 98.2h0m.1-102.8h0m0 90.4h0m.1-75h0m.1 82.6h0m.1-94.4h0m.1 7h0m0 82.7h0m0-80.6h0m0 82.9h0m0 3h0m.1-87.2h0m.1 81.2h0m0 2.5h0m0-112.6h0m0 30.7h0m.1 79.9h0m.2-87h0m.2 2.5h0m0 6.2h0m.1 76.5h0m0 3.9h0m.1-79.6h0m.1 78.2h0m.1-97.4h0m0 97.8h0m.1 4.1h0m0-83.4h0m0 75.2h0m.1 9.6h0m0-84.1h0m.2 79.1h0m0 4.9h0m.1-89.8h0m.2-10h0m0 92.2h0m.1-81.5h0m.1 3.1h0m.2-10.6h0m.1 7.1h0m0 82.5h0m0-90.3h0m.1 89.9h0m.1-93.4h0m0 93.4h0m.2-109.6h0m.2 120.9h0m0-92.7h0m.1-1.2h0m0 85.7h0m.1-1.5h0m0-81.2h0m0-5.6h0m.2 1.7h0m.1 85.9h0m.1 3.9h0m.1-82.7h0m0 84.1h0m0-91.3h0m0-3.6h0m0 5.1h0m0 5h0m.1 .3h0m0 75.9h0m.1-75.9h0m.1-.4h0m0 77.5h0m.1 9.2h0m.1-4.5h0m0-4h0m.1-85.9h0m0 9.1h0m0-1.8h0m.4-56.3h0m0 159.1h0m.1-102.8h0m.2 87.5h0m0-86.8h0m.1 87.3h0m.1-10.7h0m0 1.2h0m.1-96h0m.2 100.1h0m0-88.4h0m.4 5.2h0m0 81.8h0m.1-3.2h0m.1 2.3h0m0 10.9h0m0-6.7h0m.1-99.9h0m.1 14.5h0m.1 85.7h0m.1 3.6h0m0 .1h0m0-2.4h0m.1-100.1h0m.1-2.5h0m.1 14.2h0m0 87h0m.1-2.9h0m0-83.1h0m0 2.2h0m0-22.9h0m0 18h0m.1-.3h0m0 87.1h0m0-90.5h0m.1 89h0m0-81.3h0m.1-1.4h0m0 89.1h0m.1-91.3h0m.2 85.7h0m.1-2.2h0m.2-88.4h0m0-11.9h0m.1 9.5h0m0-35.3h0m0 42.1h0m.1-10.3h0m.1 11.6h0m0 1.6h0m.2-7.1h0m0 86.7h0m0-85.6h0m.1 4.2h0m0 85.7h0m.2-1.9h0m.1-79.1h0m.3-10.2h0m.1 92.4h0m0-84.3h0m.1 81.5h0m0-89.6h0m0 95h0m0-5.9h0m.1-97.6h0m0 106h0m0-108.5h0m.1 11.8h0m.1 5.2h0m0-5.1h0m.2-12.9h0m0 100h0m.1 3.8h0m0-82.9h0m.1-10.3h0m.1 8.5h0m.1-18.4h0m.1 18.6h0m0-11.3h0m0 11.9h0m.2-26.2h0m.1 106.1h0m.1-.1h0m0-78.1h0m.1-.7h0m.1-5.1h0m.1 4.9h0m.1 86.7h0m.1-89.6h0m0 92h0m0-10h0m.1 1.3h0m0-1.4h0m0-87.1h0m.1-2.4h0m.3 90h0m0 7.8h0m.1-6.6h0m.1 3.7h0m0-84.7h0m0 87.4h0m.2-3.9h0m0 3.5h0m.1-86.9h0m0 86.8h0m.1-109.1h0m.1 22.4h0m0-17.1h0m.4 7h0m0 93.4h0m.2-101.6h0m0 17.2h0m.1-25.9h0m0 116.3h0m.2-9.6h0m.2-1.1h0m0-77.3h0m.3 103.4h0m.2-25.4h0m.1-79.9h0m0-2.8h0m.2 82.7h0m.1 4.8h0m0-1.8h0m.1-.3h0m.1-3.2h0m0 11h0m.2-8.7h0m0 5.1h0m.1-5.5h0m.1 3.9h0m.1-92.3h0m.1 1.2h0m.2 87.4h0m.1-1.6h0m.2-77.9h0m.1-30.2h0m0 22.5h0m.1 4.2h0m.1-1.8h0m0-1.4h0m.1 3h0m.1-7.5h0m.1-3.5h0m0 12.1h0m.1-1h0m0-4h0m.1 85.5h0m.1-98.5h0m.3 7.7h0m0 98.8h0m0 4.5h0m0-103.2h0m0 94h0m.1-82.1h0m.1-3.9h0m0 98.5h0m.4-97.1h0m0-7.7h0m.1 92.6h0m0 2.3h0m0-118.6h0m0 13.6h0m.1 14h0m.1 5.2h0m0-3.5h0m0-5.7h0m.1 92.6h0m.1-2.4h0m0 .9h0m0 3.2h0m0-86h0m0 .8h0m.1 81.5h0m.1-87.8h0m.3 97.5h0m.1-8.8h0m.1-89.7h0m0 92.6h0m.2-.4h0m0-87.9h0m0 84.5h0m0 8.5h0m.1-4.6h0m0-3.3h0m.2-82.1h0m.1-16.5h0m.1 16.6h0m.1 .5h0m0 84.5h0m0-2.4h0m0-11.9h0m0-74.4h0m0 85.8h0m.1 1.1h0m0-40.8h0m0-15.6h0m0-23.8h0m0 79.1h0m0-48.9h0m0-42.7h0m0 9.5h0m0 37.8h0m0-12.3h0m.1 46.8h0m0-65.7h0m0 36.8h0m0-28.9h0m0 68.1h0m0-17.6h0m0 .7h0m.1-68.9h0m0 84.3h0m0-4.2h0m0-12.7h0m0-18h0m0 8.9h0m0 14.7h0m0 23h0m0-92.1h0m0 57h0m.1-15.9h0m0 17.2h0m0-36h0m0 33.7h0m0 18.8h0m0 3.4h0m0-66h0m0 48.4h0m0 10.2h0m0-63h0m.1 58.7h0m0-47.5h0m0-18.2h0m0 15.4h0m0 14.7h0m.1 7.1h0m0-4h0m0 15.6h0m0 1.3h0m0-4.1h0m0 65h0m0-39h0m.1-10.9h0m0-25.6h0m0-21h0m0 11.5h0m0 52.7h0m0-79h0m0-4.7h0m0 52.1h0m0 33.2h0m.1-82.3h0m0-1.6h0m0 30.9h0m0-29.1h0m0 36.2h0m0 23.7h0m.1 21.5h0m0-83.9h0m0 80.9h0m0-9.1h0m0-15.4h0m0-46.3h0m0 33.1h0m0-30.7h0m.1 1.7h0m0 18.7h0m0 22.5h0m0-31h0m0 62.4h0m0-63.2h0m0 3.9h0m0-20.4h0m0 40.8h0m0 29.1h0m.1-56.1h0m0-17.3h0m0 4.4h0m12.8 57.6h0m0-11h0m0-1.8h0m0 19h0m0-15.6h0m.1 6.8h0m0-25.6h0m0-32.5h0m0 24h0m.1 11.9h0m0 24.1h0m0-42.9h0m0 60h0m0-70.9h0m0 63.9h0m0-74.6h0m.1 75.3h0m0-74h0m0 69.2h0m0-58.6h0m0-5.4h0m0-15.5h0m0 91.2h0m0-42.8h0m0-12.6h0m0 46.7h0m.1 8h0m0-18.1h0m0-12.5h0m0 29.2h0m0-3.5h0m0-31.2h0m0 3.9h0m0-55.3h0m0 21h0m0 1.7h0m0 34.9h0m.1-26h0m0 17.1h0m0 35.6h0m0-54.5h0m0 24.3h0m0-25.8h0m0 37.2h0m0-50.5h0m.1 29.1h0m0-4.5h0m0-79.8h0m0 41h0m0 74.9h0m0 14.8h0m0 2.1h0m.1-25.4h0m0-55.3h0m0 66.3h0m0 14.1h0m0-78.3h0m.1-5.6h0m0 32.9h0m0-33.7h0m0 28.9h0m0 37.5h0m.1-10h0m0-.8h0m0-38.8h0m0 17.8h0m0 30.2h0m0-52.9h0m0 27.7h0m0-21.6h0m0-21.1h0m.1 31.1h0m0 14.9h0m0-46.7h0m0 34.1h0m0-28.1h0m0 42.6h0m0 37.1h0m0-62.9h0m.1 61h0m0-85.4h0m0 72.4h0m0-50.8h0m.2 70.8h0m.3-93.5h0m.1 94.2h0m0 .2h0m0 4.3h0m0-97.5h0m0 2.3h0m0 83.5h0m.1-81.5h0m0-11.2h0m.1 11.3h0m0-7.6h0m0 8.5h0m.1 .2h0m0-14.3h0m.1 11.8h0m0-12h0m0 14.9h0m.1 81h0m.1-81.6h0m0-11.4h0m.1 91.4h0m0-84.1h0m0 3.4h0m0 82h0m0-2.5h0m.1 2.9h0m0 5.9h0m.1-.6h0m0 16.2h0m.1-18.9h0m0-1.2h0m.2-2h0m0 4.8h0m0-6h0m0-78.3h0m.1 79.6h0m.3-78.6h0m0 77.6h0m.1-87.1h0m0 87.8h0m.1-82.1h0m.1 2.8h0m0-11.7h0m.1 97.4h0m0-88.2h0m.1 1.6h0m0 84.7h0m0-95.2h0m0-31.9h0m.3 45.1h0m.2 85h0m0-87.3h0m.1-3.7h0m0 81.1h0m.1-77.2h0m.1-12.1h0m0 7.1h0m.1-10.3h0m.1 92.6h0m0-78.8h0m.2 2.6h0m0 78.5h0m0-80.9h0m.1-.2h0m.1 .6h0m.1 1.1h0m0 1.8h0m0-3h0m.1 2.3h0m.2-2.9h0m.3 84.7h0m0-104.2h0m.1 12.4h0m.1 102.1h0m0-92.7h0m.1 76.7h0m.2 4.3h0m.1-84.1h0m.1 82.5h0m0-84.9h0m.1 82.1h0m0-91.4h0m0 12.7h0m0 90.5h0m.1-9h0m0-2.2h0m.2-77.2h0m0-3.8h0m0 82.6h0m.1 17.4h0m.1-12.7h0m0-84.6h0m.4 1.9h0m0 80.8h0m0-105.9h0m.1 103.3h0m.1-93.1h0m0 107.4h0m.2-92.3h0m0 85.1h0m0-6.2h0m.2-84.1h0m0-21h0m0 102.5h0m.2-112.4h0m0 113.2h0m.1-76.7h0m0-1.8h0m.1 .7h0m0-23.4h0m.1 106.1h0m.1-2.4h0m0-92.1h0m.1-15.7h0m0 26.8h0m0 89.2h0m.2-92.7h0m0-9.2h0m.1 91.1h0m0-79.5h0m.2 2.1h0m.1-5h0m0 95.5h0m.1-94.5h0m0 90.7h0m0-86.9h0m0-18.4h0m.1 95.3h0m.4-82.2h0m0 83.8h0m0-94.4h0m.4 15.6h0m0 85.6h0m.2-8.7h0m0-119.9h0m.4 120.2h0m.1 10h0m.1-86.8h0m.2 78.4h0m.1 1.7h0m0 9.3h0m.3-1.7h0m.1-8h0m.1-79.9h0m0 .5h0m0 76.9h0m.1-84.6h0m.1-11.4h0m.2 18.2h0m.1-1h0m.1 78.6h0m0 2.7h0m0-2.1h0m0-77.9h0m.1-2h0m.2 .4h0m.2-5.2h0m0 2.4h0m.1-1.5h0m0 3.7h0m.1-33.4h0m.2 133.7h0m0-9.1h0m.1-98.5h0m.2 93h0m.1-93.2h0m0 87.6h0m.2-140.1h0m0 140.2h0m.1 8.9h0m0-86.5h0m0 90.4h0m0-8.9h0m.1 4.7h0m0-95.6h0m.1 7.1h0m0 94.5h0m.1-2.9h0m0-108.3h0m.2 16.7h0m0-12.1h0m0 14.3h0m.1-1.1h0m.2 82.9h0m0-.1h0m0-129.1h0m.2 30.5h0m0 3.5h0m.1 91.2h0m0 .8h0m0-83.7h0m.1 89h0m0-91.6h0m0 92.6h0m.1-92.4h0m.2 84.2h0m0 7.2h0m0-6.8h0m.1-81.6h0m0-4.1h0m0 85.3h0m.1-80.9h0m0-3h0m0 5.4h0m.2 86.9h0m0-5.3h0m0-92.6h0m.2 92.9h0m.1-94.4h0m.1 93.9h0m0-80.3h0m.1-2.3h0m0 1.4h0m.1-7.6h0m.1 90.2h0m.1 2.7h0m0-.5h0m.1-5.2h0m.1-1.1h0m0 1.4h0m.1 4.8h0m.2-3.5h0m0-82h0m0 .6h0m.2 78.9h0m0-82.5h0m.2-.6h0m.1-.3h0m.1 82.9h0m.1-89.2h0m0 11.1h0m0 82.1h0m.5 1.1h0m0-3h0m.1-83.7h0m.1 4.3h0m0 78.4h0m.5 7.2h0m0-7.9h0m.1-97.8h0m.2 106.4h0m.2-87.6h0m0-20.6h0m0 102.7h0m.1-2.7h0m0-80.2h0m0-46.9h0m0 144.6h0m0-106.8h0m.1 94.9h0m.1-84.9h0m.2-2.5h0m.1 2.5h0m0 92.9h0m.1-95h0m0-10h0m0 98h0m0 2.1h0m0-104.4h0m0 102.3h0m.1-85.1h0m.1-8h0m0-2.7h0m0 2.4h0m0 7h0m.1-3h0m.1 82.5h0m0-85.5h0m0 7.4h0m.2-2.8h0m.1 82h0m.2 8.2h0m0-116.6h0m.1 115.8h0m.1 .2h0m0-89.9h0m.1 2.5h0m0 80.2h0m.1 5.9h0m0-89.3h0m0 83.5h0m0-80.9h0m.2 82.3h0m.1 1.7h0m.1-89.3h0m0 4.2h0m.1 1.2h0m0 90.1h0m0-90.7h0m.1 80.5h0m0-90.6h0m0 7.8h0m.1-.6h0m0 18.1h0m0 22.8h0m0-38.6h0m0-4.3h0m0 5.7h0m.1 5.9h0m0 35.4h0m0-32.8h0m0 25.8h0m0 34.5h0m0 1.7h0m0-63.4h0m.1 53.3h0m0-5.3h0m0-50.6h0m0 62.1h0m0-74.3h0m0 81.4h0m0-35.5h0m0 42.1h0m0-10.8h0m0-41h0m0 16.7h0m.1 .7h0m0 11.8h0m0-5.6h0m0-26.5h0m0 51.4h0m0-60.4h0m.1 42.4h0m0-37.8h0m0 15.3h0m0 28.4h0m0-8.2h0m0 2.9h0m0-17h0m0-12.6h0m0 20.9h0m0 32.4h0m0-81.9h0m0 79.1h0m.1-54.2h0m0 4.4h0m0-31.7h0m0 80.4h0m0-16.9h0m0 21.5h0m0-16.7h0m0-67h0m0 82.3h0m0-60.4h0m0 16.7h0m.1 8.6h0m0-3.6h0m0 34.4h0m0-6.3h0m0-60.2h0m.1 41h0m0-28.9h0m0 15.8h0m0-39.2h0m0 12.9h0m0 52.5h0m0-48.7h0m.1 46.3h0m0-30.7h0m0-42.8h0m0 42.1h0m0-29.3h0m0 77.7h0m0-19.2h0m.1-51h0m0-12h0m0 77.4h0m0-64.7h0m0 60.3h0m0-72.9h0m.1-.8h0m0 30.2h0m0 46.9h0m0-55.7h0m.1 31.1h0m0 4h0m0-38.5h0m0 65.9h0m0-61.4h0m0 64.2h0m0-35.6h0m0-13.2h0" fill="none" stroke="#000" stroke-width="2.9" stroke-linecap="round"/></g>
<g id="tess-folded"><path d="M1586.4 150.5L1587 147.9L1587.5 149.7L1588 148.1L1588.5 148.1L1589 149.6L1589.5 149.9L1590 150.7L1590.5 149.4L1591 148.6L1591.5 149.5L1592 150.8L1592.5 149.7L1593 149.1L1593.5 148.8L1594 150.8L1594.5 150.9L1595 150.8L1595.5 149L1596 151L1596.5 149.5L1597 150.4L1597.5 149L1598 151L1598.5 149.5L1599 151.3L1599.5 149.8L1600 149.2L1600.5 149L1601 148.4L1601.5 149L1602 149.9L1602.5 148.8L1603 149.5L1603.5 149.4L1604 149.6L1604.5 149.3L1605 150.5L1605.5 148.8L1606 149.4L1606.5 150.7L1607 150.5L1607.5 150.3L1608 149.5L1608.5 148.3L1609 150L1609.5 150L1610 148.9L1610.5 150.3L1611 150.9L1611.5 149.1L1612 150.4L1612.5 149L1613 148.5L1613.5 148.2L1614 148.9L1614.5 150.5L1615 149.1L1615.5 148.5L1616 149.3L1616.5 150.5L1617 150.3L1617.5 150.9L1618 150.5L1618.5 148.4L1619 150.4L1619.5 149.5L1620 148.2L1620.5 150.7L1621 149.5L1621.5 149L1622 150.2L1622.5 150.1L1623 149.4L1623.5 149.5L1624 149.2L1624.5 148.7L1625 151L1625.5 148.2L1626 150.6L1626.5 150.4L1627 149.9L1627.5 151.1L1628 149.3L1628.5 150.7L1629 150.4L1629.5 150.1L1630 150.8L1630.5 151.1L1631 150.6L1631.5 150.4L1632 149.8L1632.5 150.9L1633 151.3L1633.5 151.3L1634 151.2L1634.5 149.4L1635 151.2L1635.5 152.1L1636 149.3L1636.5 150.6L1637 150.5L1637.5 151.2L1638 151.9L1638.5 151.9L1639 152.3L1639.5 149.7L1640 151.3L1640.5 150L1641 150.9L1641.5 150L1642 151.5L1642.5 149.6L1643 152.2L1643.5 151.5L1644 149.9L1644.5 151.9L1645 151.8L1645.5 149.9L1646 150L1646.5 151.2L1647 150.8L1647.5 151L1648 151.1L1648.5 151.6L1649 151.3L1649.5 151.5L1650 152.2L1650.5 152.5L1651 151.4L1651.5 150.5L1652 151.8L1652.5 149.5L1653 151L1653.5 151L1654 150.1L1654.5 151.9L1655 151.1L1655.5 150.8L1656 149.6L1656.5 152L1657 149.3L1657.5 151.5L1658 151.2L1658.5 151.2L1659 149.1L1659.5 150.8L1660 151.8L1660.5 151.2L1661 150.9L1661.5 151.1L1662 151.5L1662.5 149.3L1663 150.2L1663.5 151.5L1664 148.8L1664.5 151.2L1665 148.6L1665.5 148.6L1666 150.6L1666.5 149.5L1667 150L1667.5 148.8L1668 148.4L1668.5 150.4L1669 150.6L1669.5 150.9L1670 149L1670.5 151.2L1671 149.7L1671.5 150.2L1672 149.8L1672.5 150.2L1673 148.9L1673.5 150.1L1674 149.2L1674.5 148.8L1675 150.2L1675.5 150.1L1676 149.8L1676.5 149.2L1677 149L1677.5 149.9L1678 149.3L1678.5 150.8L1679.1 149.5L1679.6 150.5L1680.1 149.1L1680.6 150.1L1681.1 150.7L1681.6 151.4L1682.1 150.6L1682.6 150.7L1683.1 148.9L1683.6 149.4L1684.1 149.9L1684.6 151.3L1685.1 150.4L1685.6 151.3L1686.1 152.2L1686.6 149.5L1687.1 152.4L1687.6 151.9L1688.1 150.2L1688.6 151.7L1689.1 150.9L1689.6 150.2L1690.1 150.1L1690.6 152L1691.1 152.5L1691.6 151.7L1692.1 151.4L1692.6 151.4L1693.1 151.6L1693.6 151.7L1694.1 151L1694.6 150.2L1695.1 150.6L1695.6 150.1L1696.1 152.5L1696.6 151.4L1697.1 151.7L1697.6 151.8L1698.1 150.5L1698.6 152.1L1699.1 151.8L1699.6 149.9L1700.1 151.8L1700.6 149.5L1701.1 150.3L1701.6 151L1702.1 151.4L1702.6 149.9L1703.1 151.9L1703.6 149.7L1704.1 149.5L1704.6 150.9L1705.1 149L1705.6 150L1706.1 151.8L1706.6 151.7L1707.1 151.5L1707.6 151.2L1708.1 150.7L1708.6 149.8L1709.1 151.9L1709.6 149.2L1710.1 149.3L1710.6 151.5L1711.1 151.2L1711.6 149.4L1712.1 149.4L1712.6 151.1L1713.1 150.7L1713.6 152L1714.1 150.9L1714.6 150.6L1715.1 150.9L1715.6 152.2L1716.1 150.2L1716.6 151.9L1717.1 151.6L1717.6 151.4L1718.1 148.8L1718.6 150.8L1719.1 149.6L1719.6 150.8L1720.1 148.8L1720.6 150.2L1721.1 148.2L1721.6 148.5L1722.1 150.2L1722.6 149L1723.1 147.8L1723.6 148.7L1724.1 147.9L1724.6 150.7L1725.1 149.7L1725.6 150.1L1726.1 149.9L1726.6 149L1727.1 149.6L1727.6 149.5L1728.1 149.9L1728.6 150.3L1729.1 151.2L1729.6 149.5L1730.1 150.8L1730.6 150.7L1731.1 149.1L1731.6 152L1732.1 151.4L1732.6 150.6L1733.1 151.9L1733.6 149.8L1734.1 150.5L1734.6 150.7L1735.1 151.2L1735.6 151.1L1736.1 151.4L1736.6 151.9L1737.1 151.8L1737.6 150L1738.1 150.1L1738.6 150.4L1739.1 149.7L1739.6 150.2L1740.1 150.4L1740.6 150.6L1741.1 150.5L1741.6 151.9L1742.1 150.7L1742.6 151L1743.1 149.8L1743.6 150L1744.1 151.1L1744.6 151L1745.1 149.5L1745.6 150.8L1746.1 149.5L1746.6 150.8L1747.1 149L1747.6 149.9L1748.1 149.9L1748.6 148.7L1749.1 148.8L1749.6 148.5L1750.1 148.2L1750.6 149.1L1751.1 147.8L1751.6 149.5L1752.1 150.3L1752.6 150.8L1753.1 149.3L1753.6 150.4L1754.1 150.9L1754.6 151L1755.1 148.8L1755.6 150.4L1756.1 148.7L1756.6 151.2L1757.1 149.3L1757.6 148.9L1758.1 151.2L1758.6 149.6L1759.1 149.5L1759.6 151.7L1760.1 151.5L1760.6 150.8L1761.1 150.6L1761.6 151.5L1762.1 151.3L1762.6 150.6L1763.1 149.7L1763.6 150.4L1764.1 149L1764.6 149L1765.1 149.3L1765.6 149.2L1766.1 151.2L1766.6 150.6L1767.1 149.8L1767.6 151.1L1768.1 149.2L1768.6 149.2L1769.1 149.9L1769.6 149.6L1770.1 150.6L1770.6 149.9L1771.2 148.8L1771.7 150.6L1772.2 149.7L1772.7 150.7L1773.2 150.7L1773.7 151.3L1774.2 149.4L1774.7 151.3L1775.2 150.1L1775.7 150.3L1776.2 150.2L1776.7 150.6L1777.2 151.5L1777.7 150.1L1778.2 149.3L1778.7 149.9L1779.2 150.9L1779.7 148.6L1780.2 149L1780.7 150.7L1781.2 149.4L1781.7 148.6L1782.2 149.9L1782.7 148.6L1783.2 149.5L1783.7 149.5L1784.2 149.1L1784.7 149.7L1785.2 149.8L1785.7 150.4L1786.2 148.1L1786.7 150.6L1787.2 148.9L1787.7 150.3L1788.2 148.4L1788.7 148.8L1789.2 151L1789.7 150.2L1790.2 150.9L1790.7 150.1L1791.2 149L1791.7 148.7L1792.2 150L1792.7 149.7L1793.2 148.9L1793.7 150L1794.2 149.6L1794.7 150.8L1795.2 150.5L1795.7 151.3L1796.2 151.3L1796.7 151.5L1797.2 150.3L1797.7 150.4L1798.2 149.6L1798.7 150.9L1799.2 149.6L1799.7 150.7L1800.2 149.5L1800.7 150.3L1801.2 149.5L1801.7 148.2L1802.2 148.8L1802.7 148.9L1803.2 148.9L1803.7 148.1L1804.2 149.5L1804.7 150.2L1805.2 149.9L1805.7 149.1L1806.2 148.4L1806.7 148.8L1807.2 149.9L1807.7 150.4L1808.2 148.4L1808.7 150.2L1809.2 149.2L1809.7 150.3L1810.2 149.9L1810.7 149.5L1811.2 150.2L1811.7 149L1812.2 149.8L1812.7 150.4L1813.2 151.3L1813.7 149.6L1814.2 148.8L1814.7 151.7L1815.2 150.6L1815.7 151.2L1816.2 149L1816.7 150.9L1817.2 149.5L1817.7 149.3L1818.2 151.9L1818.7 149.5L1819.2 150.7L1819.7 150.8L1820.2 150.7L1820.7 149.2L1821.2 151.1L1821.7 150.4L1822.2 152.2L1822.7 151.2L1823.2 150.3L1823.7 151.5L1824.2 152.2L1824.7 149.8L1825.2 149.3L1825.7 150.1L1826.2 149.6L1826.7 152.1L1827.2 151L1827.7 149.8L1828.2 151L1828.7 150L1829.2 152L1829.7 149.5L1830.2 151.6L1830.7 151.5L1831.2 150.9L1831.7 150.4L1832.2 152.2L1832.7 150.4L1833.2 149.2L1833.7 149.2L1834.2 149.2L1834.7 149.4L1835.2 151.4L1835.7 150.4L1836.2 149.3L1836.7 150.7L1837.2 149.8L1837.7 150.3L1838.2 149.8L1838.7 150.8L1839.2 151.1L1839.7 149.7L1840.2 151.5L1840.7 149.6L1841.2 150.4L1841.7 150.8L1842.2 148.7L1842.7 150.5L1843.2 148.5L1843.7 150.5L1844.2 150.6L1844.7 150.2L1845.2 149.5L1845.7 149L1846.2 147.8L1846.7 149.8L1847.2 150.2L1847.7 150.3L1848.2 148.1L1848.7 147.6L1849.2 149.9L1849.7 150.2L1850.2 150.4L1850.7 149.8L1851.2 148.8L1851.7 150.8L1852.2 149.2L1852.7 149L1853.2 149.8L1853.7 150.4L1854.2 150.9L1854.7 148.9L1855.2 150.8L1855.7 150.2L1856.2 150.3L1856.7 149.2L1857.2 148.9L1857.7 149.2L1858.2 151.5L1858.7 149.8L1859.2 149.9L1859.7 150L1860.2 151.5L1860.7 150.3L1861.2 149.4L1861.7 149.1L1862.2 149.2L1862.8 151.3L1863.3 149L1863.8 151.6L1864.3 149.5L1864.8 151.1L1865.3 150.2L1865.8 150.8L1866.3 151.5L1866.8 150.4L1867.3 151L1867.8 148.7L1868.3 148.6L1868.8 151L1869.3 150.9L1869.8 151.2L1870.3 150.9L1870.8 148.8L1871.3 150.6L1871.8 149.9L1872.3 149.8L1872.8 148.7L1873.3 148.6L1873.8 147.8L1874.3 149.8L1874.8 148.9L1875.3 150.2L1875.8 150L1876.3 147.7L1876.8 149.8L1877.3 149.5L1877.8 149.7L1878.3 150.3L1878.8 150.3L1879.3 149.5L1879.8 150.1L1880.3 150.7L1880.8 149.7L1881.3 149.9L1881.8 148.4L1882.3 148.6L1882.8 149.8L1883.3 148.6L1883.8 148.8L1884.3 148.7L1884.8 149.9L1885.3 150L1885.8 148.5L1886.3 151L1886.8 150.6L1887.3 149.7L1887.8 150.7L1888.3 151.1L1888.8 150.2L1889.3 150.9L1889.8 149.8L1890.3 151.2L1890.8 150.7L1891.3 149L1891.8 149.4L1892.3 150.8L1892.8 148.9L1893.3 148.9L1893.8 148.5L1894.3 148.2L1894.8 150.4L1895.3 149.3L1895.8 150.6L1896.3 149.9L1896.8 151L1897.3 149.6L1897.8 150.5L1898.3 151.1L1898.8 150.5L1899.3 149.7L1899.8 150.4L1900.3 151.6L1900.8 150.4L1901.3 151.2L1901.8 149.7L1902.3 151.8L1902.8 151.5L1903.3 151.7L1903.8 150.6L1904.3 151.8L1904.8 150.5L1905.3 150.6L1905.8 150.2L1906.3 150.7L1906.8 150.6L1907.3 149.8L1907.8 151.2L1908.3 149.3L1908.8 150.2L1909.3 151.7L1909.8 149L1910.3 149L1910.8 151.5L1911.3 148.8L1911.8 149.1L1912.3 150.6L1912.8 149.3L1913.3 150.9L1913.8 150.7L1914.3 150.9L1914.8 149.5L1915.3 150.3L1915.8 149.7L1916.3 149.7L1916.8 148.9L1917.3 150.2L1917.8 149.4L1918.3 149.1L1918.8 150.7L1919.3 151L1919.8 151.1L1920.3 149.3L1920.8 149.7L1921.3 150.5L1921.8 149.7L1922.3 151L1922.8 148.5L1923.3 149.6L1923.8 150.2L1924.3 150.1L1924.8 149.5L1925.3 149.8L1925.8 150.1L1926.3 149.4L1926.8 149.1L1927.3 150.7L1927.8 149.3L1928.3 150.4L1928.8 147.9L1929.3 150.8L1929.8 149.7L1930.3 148.8L1930.8 149.1L1931.3 148.2L1931.8 148.6L1932.3 148.1L1932.8 148.6L1933.3 150.2L1933.8 150L1934.3 150.1L1934.8 149.8L1935.3 149.2L1935.8 150.4L1936.3 150.9L1936.8 148.8L1937.3 150.2L1937.8 149.5L1938.3 150.9L1938.8 149.1L1939.3 149.2L1939.8 148.9L1940.3 150.5L1940.8 151L1941.3 149.7L1941.8 149.9L1942.3 150L1942.8 150.8L1943.3 149.1L1943.8 150.1L1944.3 151L1944.8 150.2L1945.3 150.4L1945.8 148.5L1946.3 148.2L1946.8 150.4L1947.3 148.2L1947.8 148.1L1948.3 150.2L1948.8 150L1949.3 150.2L1949.8 149.7L1950.3 150.1L1950.8 150.1L1951.3 148.2L1951.8 150.9L1952.3 148.8L1952.8 148.3L1953.3 149.3L1953.8 149.6L1954.3 149.7L1954.8 151.3L1955.4 148.6L1955.9 149.2L1956.4 151.3L1956.9 149.4L1957.4 149L1957.9 150.1L1958.4 151.4L1958.9 149.6L1959.4 150.8L1959.9 150.2L1960.4 148.9L1960.9 150.6L1961.4 148.5L1961.9 150.1L1962.4 149.1L1962.9 148.7L1963.4 149.5L1963.9 150.1L1964.4 148.9L1964.9 148.5L1965.4 150.2L1965.9 147.8L1966.4 149.9L1966.9 147.9L1967.4 150.3L1967.9 149.8L1968.4 148.6L1968.9 148L1969.4 149.5L1969.9 150L1970.4 148.3L1970.9 148L1971.4 149.5L1971.9 149.6L1972.4 148L1972.9 148.2L1973.4 150.5L1973.9 147.9L1974.4 148.4L1974.9 150.4L1975.4 150.3L1975.9 150L1976.4 148L1976.9 148.2L1977.4 149.4L1977.9 148.8L1978.4 149.6L1978.9 148.9L1979.4 150.7L1979.9 149.6L1980.4 150.1L1980.9 151.2L1981.4 149.5L1981.9 152.1L1982.4 150.4L1982.9 149.8L1983.4 149.4L1983.9 151.5L1984.4 152.2L1984.9 151.9L1985.4 150.5L1985.9 150.9L1986.4 150.7L1986.9 149.7L1987.4 150.1L1987.9 151.5L1988.4 150.4L1988.9 150.1L1989.4 150.6L1989.9 150.1L1990.4 150.4L1990.9 151.3L1991.4 150.2L1991.9 150.6L1992.4 151.5L1992.9 150L1993.4 149.4L1993.9 150.5L1994.4 149.7L1994.9 151.1L1995.4 149.9L1995.9 149.5L1996.4 149.2L1996.9 148.9L1997.4 150L1997.9 151.3L1998.4 150L1998.9 149.1L1999.4 149.5L1999.9 150.9L2000.4 149L2000.9 149.9L2001.4 150.6L2001.9 150L2002.4 148.6L2002.9 148.8L2003.4 151.1L2003.9 151.6L2004.4 151.5L2004.9 150.4L2005.4 150.6L2005.9 150.4L2006.4 149.6L2006.9 151.8L2007.4 149.1L2007.9 149.9L2008.4 150.3L2008.9 152.1L2009.4 150.6L2009.9 149.7L2010.4 150L2010.9 151.1L2011.4 150.8L2011.9 151.9L2012.4 150.4L2012.9 151.4L2013.4 150.1L2013.9 152.3L2014.4 150.2L2014.9 151.6L2015.4 151.7L2015.9 152.1L2016.4 151.4L2016.9 151.1L2017.4 150.7L2017.9 150.3L2018.4 151.8L2018.9 150L2019.4 150.7L2019.9 149.6L2020.4 151.8L2020.9 150.8L2021.4 149.5L2021.9 149.4L2022.4 149.6L2022.9 149.8L2023.4 149.1L2023.9 148.9L2024.4 148.9L2024.9 149.8L2025.4 150.2L2025.9 150.1L2026.4 149.2L2026.9 148.9L2027.4 149.3L2027.9 148.9L2028.4 150.9L2028.9 150.4L2029.4 150.8L2029.9 148.6L2030.4 150.4L2030.9 151.3L2031.4 148.7L2031.9 150.9L2032.4 149.6L2032.9 148.8L2033.4 151.3L2033.9 150.9L2034.4 151.6L2034.9 150L2035.4 151.1L2035.9 149.7L2036.4 151.4L2036.9 152.3L2037.4 150.5L2037.9 151.9L2038.4 151.1L2038.9 151.5L2039.4 150.8L2039.9 151.7L2040.4 152.2L2040.9 151.5L2041.4 150.4L2041.9 150.3L2042.4 151.9L2042.9 151.7L2043.4 152L2043.9 150.2L2044.4 151.1L2044.9 152.4L2045.4 149.7L2045.9 150.3L2046.4 152.7L2046.9 150.9L2047.5 150.5L2048 151.9L2048.5 149.8L2049 150L2049.5 152.1L2050 149.5L2050.5 151.5L2051 150.3L2051.5 149.3L2052 149.6L2052.5 149.3L2053 149.3L2053.5 150.9L2054 149.8L2054.5 148.5L2055 149.9L2055.5 148.5L2056 147.8L2056.5 149.4L2057 150.8L2057.5 149.4L2058 149.4L2058.5 150.4L2059 148.5L2059.5 148.6L2060 148.8L2060.5 150.6L2061 148.6L2061.5 150.3L2062 150.7L2062.5 150.2L2063 149.3L2063.5 151L2064 151.3L2064.5 150.6L2065 151.5L2065.5 149.8L2066 149.4L2066.5 149.4L2067 149.8L2067.5 149.1L2068 150.5L2068.5 149.9L2069 151.3L2069.5 150.5L2070 150.2L2070.5 150.7L2071 149.3L2071.5 150.7L2072 148.7L2072.5 148.5L2073 149.2L2073.5 150.1L2074 149.9L2074.5 147.5L2075 150.1L2075.5 147.9L2076 149.3L2076.5 150.2L2077 148.9L2077.5 148.2L2078 151.2L2078.5 149.5L2079 149.6L2079.5 148.7L2080 149L2080.5 151.6L2081 150.3L2081.5 149.8L2082 150.1L2082.5 149.7L2083 150L2083.5 151.7L2084 149.8L2084.5 152.5L2085 150.6L2085.5 151L2086 152L2086.5 149.9L2087 151.8L2087.5 150.8L2088 150.7L2088.5 150.9L2089 150.4L2089.5 149.4L2090 151.8L2090.5 151L2091 149.3L2091.5 148.8L2092 150.1L2092.5 149.4L2093 151.4L2093.5 149.1L2094 150.1L2094.5 150L2095 150.8L2095.5 148.9L2096 149.2L2096.5 149.7L2097 150.1L2097.5 149.6L2098 149.1L2098.5 150.6L2099 150.5L2099.5 150.5L2100 148.4L2100.5 149.6L2101 150.7L2101.5 149.6L2102 148.8L2102.5 150.1L2103 148.4L2103.5 150.8L2104 150.4L2104.5 149.7L2105 150.4L2105.5 148L2106 150.5L2106.5 148.2L2107 149.2L2107.5 148.6L2108 150.5L2108.5 148.1L2109 149.1L2109.5 148L2110 150.4L2110.5 149.6L2111 150.4L2111.5 147.9L2112 149.1L2112.5 147.9L2113 149.4L2113.5 148.6L2114 149.5L2114.5 148.2L2115 148.9L2115.5 150.3L2116 150.4L2116.5 150L2117 148.5L2117.5 148.9L2118 149.8L2118.5 149.2L2119 149.8L2119.5 147.9L2120 150L2120.5 148.1L2121 149.8L2121.5 149.2L2122 150.5L2122.5 148.6L2123 148.8L2123.5 149.7L2124 149L2124.5 150.5L2125 150L2125.5 149L2126 149.1L2126.5 149.5L2127 149.3L2127.5 148.8L2128 151.6L2128.5 151.3L2129 151L2129.5 149L2130 150L2130.5 150.6L2131 151.2L2131.5 150.6L2132 150.9L2132.5 149.6L2133 150.9L2133.5 151.2L2134 150.2L2134.5 151.5L2135 149.6L2135.5 151.3L2136 151.5L2136.5 151.1L2137 149.8L2137.5 151.4L2138 149.6L2138.5 150.6L2139.1 150.2L2139.1 224.6L2138.5 223.9L2138 223.7L2137.5 223.4L2137 224.8L2136.5 224.8L2136 224.3L2135.5 223.4L2135 224.7L2134.5 223.8L2134 223.9L2133.5 224.8L2133 224.9L2132.5 223.6L2132 226.3L2131.5 224.8L2131 223.9L2130.5 224.1L2130 224.4L2129.5 224.2L2129 225.8L2128.5 226.2L2128 226.6L2127.5 226L2127 225.9L2126.5 225.7L2126 226.6L2125.5 225.3L2125 227L2124.5 224.8L2124 225.1L2123.5 224.7L2123 225L2122.5 224.8L2122 227L2121.5 225.6L2121 227.2L2120.5 226.7L2120 226.7L2119.5 224.7L2119 225.3L2118.5 226.8L2118 226.8L2117.5 227.3L2117 224.9L2116.5 225.5L2116 225.9L2115.5 226.2L2115 227.2L2114.5 226.7L2114 226.5L2113.5 224.7L2113 227.2L2112.5 225.1L2112 227.7L2111.5 225.9L2111 225.8L2110.5 226.8L2110 225.3L2109.5 226.5L2109 226.5L2108.5 225.9L2108 225.5L2107.5 226.7L2107 227.5L2106.5 227.5L2106 224.8L2105.5 225.7L2105 227.6L2104.5 225.1L2104 226.8L2103.5 225.4L2103 225.4L2102.5 226.2L2102 227.1L2101.5 225.3L2101 225.8L2100.5 226.9L2100 226L2099.5 226.7L2099 225L2098.5 224.4L2098 227.1L2097.5 226.2L2097 225.4L2096.5 224.4L2096 225.4L2095.5 225.4L2095 224.4L2094.5 224.5L2094 226.3L2093.5 225.9L2093 224.8L2092.5 226.2L2092 225L2091.5 225.4L2091 224.3L2090.5 226L2090 225.1L2089.5 226.2L2089 225.1L2088.5 226.3L2088 226.4L2087.5 225.5L2087 224.9L2086.5 225.1L2086 224.4L2085.5 226.5L2085 225.4L2084.5 226.1L2084 224.6L2083.5 224.3L2083 224.8L2082.5 224.7L2082 226.4L2081.5 226.1L2081 225.7L2080.5 224.6L2080 225.9L2079.5 226.5L2079 224L2078.5 225.9L2078 226L2077.5 224.1L2077 225.3L2076.5 224.3L2076 226.5L2075.5 225L2075 225.2L2074.5 225.4L2074 224.7L2073.5 226.7L2073 225.5L2072.5 225.3L2072 226L2071.5 226.3L2071 224.5L2070.5 226.3L2070 224.9L2069.5 224.3L2069 224L2068.5 223.7L2068 224.5L2067.5 223.4L2067 225.4L2066.5 224.1L2066 225.3L2065.5 225L2065 223.9L2064.5 224L2064 225.6L2063.5 224L2063 225.4L2062.5 225.9L2062 225.8L2061.5 224.7L2061 224.2L2060.5 224.3L2060 225.3L2059.5 225.1L2059 226L2058.5 225.2L2058 223.9L2057.5 224.6L2057 224L2056.5 223.8L2056 225.8L2055.5 226L2055 225.4L2054.5 225.6L2054 226.4L2053.5 226.6L2053 223.9L2052.5 225.3L2052 225.1L2051.5 225.4L2051 225.8L2050.5 224.7L2050 225.2L2049.5 225.7L2049 224.7L2048.5 225.3L2048 225.2L2047.5 226L2046.9 226L2046.4 227.4L2045.9 226L2045.4 224.9L2044.9 226.2L2044.4 226.3L2043.9 224.3L2043.4 224.3L2042.9 225.6L2042.4 224.2L2041.9 224L2041.4 224.1L2040.9 225.6L2040.4 223.7L2039.9 223.4L2039.4 225.9L2038.9 223.7L2038.4 223.8L2037.9 223.1L2037.4 225.5L2036.9 225.5L2036.4 225.6L2035.9 223.5L2035.4 225.9L2034.9 225.5L2034.4 224.6L2033.9 223.7L2033.4 224L2032.9 223.4L2032.4 225L2031.9 224L2031.4 224.2L2030.9 225.6L2030.4 225.4L2029.9 225.5L2029.4 224L2028.9 224.2L2028.4 224.2L2027.9 225L2027.4 225.5L2026.9 224.1L2026.4 226L2025.9 224.6L2025.4 224.5L2024.9 224.5L2024.4 225.8L2023.9 226.5L2023.4 225.9L2022.9 226.7L2022.4 227L2021.9 226.3L2021.4 224.7L2020.9 226.6L2020.4 224.7L2019.9 225.3L2019.4 226.4L2018.9 225L2018.4 225L2017.9 224.9L2017.4 226.4L2016.9 226.9L2016.4 224.6L2015.9 225.1L2015.4 227.1L2014.9 224.7L2014.4 225.4L2013.9 226.7L2013.4 225.6L2012.9 225.8L2012.4 224.6L2011.9 225L2011.4 226.7L2010.9 226.1L2010.4 224.3L2009.9 225.7L2009.4 225.8L2008.9 225.4L2008.4 225.9L2007.9 226.1L2007.4 225.4L2006.9 226.4L2006.4 227.1L2005.9 226.3L2005.4 226.5L2004.9 225.7L2004.4 226.2L2003.9 224.5L2003.4 225.7L2002.9 226.8L2002.4 226.5L2001.9 226.7L2001.4 224.2L2000.9 225.7L2000.4 225.1L1999.9 226.4L1999.4 225L1998.9 224.8L1998.4 224.8L1997.9 225.6L1997.4 225.3L1996.9 224.6L1996.4 225.3L1995.9 225L1995.4 225.7L1994.9 226.6L1994.4 224.9L1993.9 225.9L1993.4 226.3L1992.9 224.1L1992.4 224.2L1991.9 224.5L1991.4 226.3L1990.9 226.2L1990.4 225.2L1989.9 224.2L1989.4 224.1L1988.9 226.5L1988.4 226L1987.9 227L1987.4 225.2L1986.9 226.3L1986.4 224.2L1985.9 225.2L1985.4 225.6L1984.9 224.3L1984.4 226L1983.9 225.6L1983.4 224.9L1982.9 224.4L1982.4 225.6L1981.9 226.3L1981.4 226.2L1980.9 225.6L1980.4 227.5L1979.9 226.7L1979.4 227.2L1978.9 225.3L1978.4 225.6L1977.9 225.1L1977.4 225.9L1976.9 225.2L1976.4 225.2L1975.9 225.4L1975.4 227.4L1974.9 226.1L1974.4 226.4L1973.9 224.9L1973.4 225.5L1972.9 226.4L1972.4 225.1L1971.9 224.8L1971.4 225L1970.9 225.7L1970.4 226.6L1969.9 225.9L1969.4 226.6L1968.9 225.5L1968.4 223.5L1967.9 224L1967.4 225.1L1966.9 225.8L1966.4 225.5L1965.9 224.8L1965.4 223.2L1964.9 225.5L1964.4 224.4L1963.9 225.9L1963.4 225.7L1962.9 226.1L1962.4 226L1961.9 224.4L1961.4 226L1960.9 224.7L1960.4 226.2L1959.9 224.8L1959.4 224.2L1958.9 225L1958.4 224.1L1957.9 225.4L1957.4 223.6L1956.9 226.1L1956.4 224.1L1955.9 226L1955.4 224.4L1954.8 224.8L1954.3 224.7L1953.8 223.9L1953.3 226.2L1952.8 226.3L1952.3 226.4L1951.8 226.2L1951.3 226.3L1950.8 224L1950.3 226.9L1949.8 226.1L1949.3 224.7L1948.8 225.6L1948.3 224.9L1947.8 224.5L1947.3 224.6L1946.8 224.6L1946.3 224.6L1945.8 226.8L1945.3 226.4L1944.8 224.6L1944.3 227.4L1943.8 226.8L1943.3 226.2L1942.8 226.8L1942.3 227.2L1941.8 225.2L1941.3 227.6L1940.8 226.6L1940.3 225.6L1939.8 225.7L1939.3 227.7L1938.8 227.7L1938.3 225.2L1937.8 226.2L1937.3 225L1936.8 225L1936.3 226.8L1935.8 225.3L1935.3 225.2L1934.8 224.9L1934.3 224.8L1933.8 225.4L1933.3 225L1932.8 224.4L1932.3 225.4L1931.8 224.7L1931.3 223.3L1930.8 225.3L1930.3 225.7L1929.8 223.7L1929.3 225.7L1928.8 225.1L1928.3 225.9L1927.8 225.4L1927.3 223.1L1926.8 224L1926.3 223.9L1925.8 225.6L1925.3 223.2L1924.8 224.9L1924.3 225.5L1923.8 224.9L1923.3 224.5L1922.8 225.6L1922.3 224.2L1921.8 223.7L1921.3 224.6L1920.8 223.4L1920.3 225.5L1919.8 223.5L1919.3 225.5L1918.8 225.1L1918.3 224.4L1917.8 225.8L1917.3 226.1L1916.8 225.3L1916.3 224.7L1915.8 226.6L1915.3 224.9L1914.8 226.2L1914.3 224.8L1913.8 225.8L1913.3 226.3L1912.8 225.5L1912.3 227L1911.8 226.1L1911.3 227.9L1910.8 226.1L1910.3 225.2L1909.8 227.3L1909.3 227.1L1908.8 226.7L1908.3 226.2L1907.8 226.8L1907.3 224.7L1906.8 226.2L1906.3 225.6L1905.8 224L1905.3 224.1L1904.8 224.8L1904.3 223.4L1903.8 224.6L1903.3 225.5L1902.8 224.4L1902.3 225.5L1901.8 223.6L1901.3 224L1900.8 223.6L1900.3 226.3L1899.8 225.4L1899.3 223.9L1898.8 223.8L1898.3 226.3L1897.8 224.2L1897.3 226.2L1896.8 224.5L1896.3 224.5L1895.8 224.9L1895.3 226.3L1894.8 226.7L1894.3 224.2L1893.8 226.8L1893.3 226.1L1892.8 224.5L1892.3 226.1L1891.8 224.6L1891.3 224.6L1890.8 226.1L1890.3 224.8L1889.8 224.7L1889.3 225L1888.8 225.9L1888.3 224.9L1887.8 225.1L1887.3 225L1886.8 225.7L1886.3 226.1L1885.8 226.5L1885.3 226.5L1884.8 226.1L1884.3 227L1883.8 225L1883.3 225L1882.8 225.7L1882.3 227.4L1881.8 226.6L1881.3 226.2L1880.8 226.2L1880.3 224.8L1879.8 226.1L1879.3 226L1878.8 225.1L1878.3 227L1877.8 227.3L1877.3 225.7L1876.8 225.3L1876.3 225.6L1875.8 226.8L1875.3 227.6L1874.8 226.6L1874.3 226.1L1873.8 226L1873.3 226.3L1872.8 225.6L1872.3 226.3L1871.8 226.2L1871.3 225.2L1870.8 226L1870.3 225.5L1869.8 226.3L1869.3 224.8L1868.8 224.3L1868.3 225.9L1867.8 224.7L1867.3 225.8L1866.8 224.3L1866.3 225.9L1865.8 226.7L1865.3 224.4L1864.8 224.4L1864.3 225.3L1863.8 224.8L1863.3 224.5L1862.8 225.5L1862.2 224.5L1861.7 224.8L1861.2 224.5L1860.7 226L1860.2 225.6L1859.7 225.3L1859.2 223.9L1858.7 225.2L1858.2 225.3L1857.7 223.5L1857.2 224.5L1856.7 225.7L1856.2 225.7L1855.7 226.4L1855.2 225.4L1854.7 224.8L1854.2 226.1L1853.7 226.6L1853.2 224.8L1852.7 224.7L1852.2 227.1L1851.7 227L1851.2 226.7L1850.7 225.7L1850.2 226.9L1849.7 225.3L1849.2 226.4L1848.7 227.8L1848.2 227.6L1847.7 226.6L1847.2 226.5L1846.7 227.3L1846.2 225.6L1845.7 225.5L1845.2 226.7L1844.7 224.7L1844.2 224.7L1843.7 225.6L1843.2 224.1L1842.7 224.9L1842.2 226.5L1841.7 224.8L1841.2 224.5L1840.7 225.1L1840.2 226L1839.7 224.8L1839.2 223.9L1838.7 224.4L1838.2 226.1L1837.7 223.8L1837.2 226.3L1836.7 226.3L1836.2 225.8L1835.7 223.4L1835.2 223.5L1834.7 224.3L1834.2 223.4L1833.7 225.6L1833.2 224.3L1832.7 223.3L1832.2 224.4L1831.7 226.2L1831.2 224.5L1830.7 223.3L1830.2 224.2L1829.7 225.3L1829.2 226.4L1828.7 224L1828.2 225.5L1827.7 226.1L1827.2 224.3L1826.7 224.8L1826.2 224.3L1825.7 225L1825.2 224.9L1824.7 224.9L1824.2 225.6L1823.7 224.3L1823.2 224.6L1822.7 226.2L1822.2 225.7L1821.7 227.1L1821.2 224.6L1820.7 227.1L1820.2 225.4L1819.7 226.8L1819.2 226.5L1818.7 224.4L1818.2 225.8L1817.7 225.4L1817.2 226.8L1816.7 226.2L1816.2 224.3L1815.7 224.7L1815.2 226.4L1814.7 224.7L1814.2 226L1813.7 225.9L1813.2 224.1L1812.7 224.4L1812.2 224.3L1811.7 224.6L1811.2 225.2L1810.7 224.9L1810.2 224.4L1809.7 225.8L1809.2 224.2L1808.7 225.2L1808.2 224.7L1807.7 224.3L1807.2 226.3L1806.7 225.3L1806.2 225.5L1805.7 225.5L1805.2 226.4L1804.7 224L1804.2 225.6L1803.7 224.7L1803.2 225.2L1802.7 226.3L1802.2 224.6L1801.7 224.1L1801.2 224.4L1800.7 224.1L1800.2 223.8L1799.7 224.7L1799.2 226L1798.7 225.7L1798.2 224.1L1797.7 223.4L1797.2 223.3L1796.7 223.4L1796.2 224.3L1795.7 223.4L1795.2 225.4L1794.7 225.6L1794.2 226L1793.7 224.8L1793.2 223.8L1792.7 223.8L1792.2 225.5L1791.7 226.1L1791.2 226.4L1790.7 225.5L1790.2 226.9L1789.7 226.5L1789.2 225.3L1788.7 225.9L1788.2 226.8L1787.7 226.6L1787.2 227.7L1786.7 226.3L1786.2 225.3L1785.7 226.8L1785.2 226.7L1784.7 225L1784.2 225.4L1783.7 225L1783.2 226.2L1782.7 227.9L1782.2 226L1781.7 225.5L1781.2 227.4L1780.7 227.9L1780.2 225.5L1779.7 227.8L1779.2 226L1778.7 225.8L1778.2 227.7L1777.7 225.9L1777.2 227.8L1776.7 226.3L1776.2 227.3L1775.7 227.7L1775.2 226.7L1774.7 225.3L1774.2 226.7L1773.7 227.2L1773.2 227.4L1772.7 227.7L1772.2 226.5L1771.7 226.3L1771.2 224.6L1770.6 225L1770.1 225.8L1769.6 225.1L1769.1 226.4L1768.6 225.1L1768.1 226.2L1767.6 225.4L1767.1 227L1766.6 225L1766.1 225.5L1765.6 224.7L1765.1 224.6L1764.6 226.2L1764.1 227.2L1763.6 225.9L1763.1 226.3L1762.6 227.2L1762.1 225.5L1761.6 227L1761.1 225.4L1760.6 224.7L1760.1 225.7L1759.6 224.9L1759.1 226.3L1758.6 224.4L1758.1 226.1L1757.6 225.3L1757.1 226.4L1756.6 224.2L1756.1 226.8L1755.6 226.1L1755.1 226.1L1754.6 225.4L1754.1 226.1L1753.6 224.9L1753.1 226L1752.6 224.4L1752.1 224.6L1751.6 224.2L1751.1 226.6L1750.6 225.9L1750.1 224.3L1749.6 225.2L1749.1 225.4L1748.6 224.8L1748.1 226L1747.6 226.1L1747.1 224.1L1746.6 225.1L1746.1 224.1L1745.6 226.2L1745.1 225.4L1744.6 224L1744.1 223.7L1743.6 223.8L1743.1 223.9L1742.6 226.2L1742.1 225.7L1741.6 223.7L1741.1 225L1740.6 225L1740.1 225.9L1739.6 223.8L1739.1 224.2L1738.6 225.8L1738.1 224.9L1737.6 223.9L1737.1 226.1L1736.6 225.1L1736.1 225.9L1735.6 224.8L1735.1 226.1L1734.6 226.9L1734.1 226.7L1733.6 226.5L1733.1 226.5L1732.6 227.2L1732.1 224.8L1731.6 226.6L1731.1 226.3L1730.6 226.9L1730.1 224.7L1729.6 224.7L1729.1 227.4L1728.6 225.8L1728.1 224.9L1727.6 225.3L1727.1 225.9L1726.6 225.4L1726.1 225.4L1725.6 226.8L1725.1 225.3L1724.6 225.4L1724.1 226.2L1723.6 227.4L1723.1 226.2L1722.6 225.8L1722.1 226.9L1721.6 225.5L1721.1 227.7L1720.6 227.1L1720.1 226.4L1719.6 225.4L1719.1 226.7L1718.6 227L1718.1 227L1717.6 224.9L1717.1 225.4L1716.6 227.4L1716.1 227L1715.6 226.3L1715.1 225.3L1714.6 226.8L1714.1 226.1L1713.6 225.1L1713.1 225.2L1712.6 225.9L1712.1 224.4L1711.6 226.4L1711.1 224.5L1710.6 225.4L1710.1 224L1709.6 224.2L1709.1 226L1708.6 225.7L1708.1 224.1L1707.6 225.2L1707.1 225.4L1706.6 225.8L1706.1 224L1705.6 225.8L1705.1 224.2L1704.6 224.7L1704.1 225.1L1703.6 226.4L1703.1 226.1L1702.6 225L1702.1 226.7L1701.6 226.1L1701.1 226.6L1700.6 224.9L1700.1 225.3L1699.6 225.4L1699.1 226.3L1698.6 226.9L1698.1 226.7L1697.6 226.5L1697.1 226.5L1696.6 224.8L1696.1 225L1695.6 226.3L1695.1 226.4L1694.6 225.2L1694.1 224.9L1693.6 224.3L1693.1 226.9L1692.6 224.1L1692.1 224.9L1691.6 224.6L1691.1 225.4L1690.6 226L1690.1 224.7L1689.6 224.2L1689.1 226.3L1688.6 225.4L1688.1 223.8L1687.6 224.7L1687.1 225.3L1686.6 225.2L1686.1 224L1685.6 225.7L1685.1 223.6L1684.6 223.9L1684.1 224.6L1683.6 225.2L1683.1 223.8L1682.6 226.3L1682.1 226.6L1681.6 224.5L1681.1 223.9L1680.6 224.4L1680.1 226.4L1679.6 227.1L1679.1 224.3L1678.5 227.2L1678 225.5L1677.5 227L1677 225.5L1676.5 226.1L1676 225L1675.5 227.1L1675 226.6L1674.5 226.7L1674 224.2L1673.5 226.7L1673 227.1L1672.5 224.3L1672 226.1L1671.5 225.2L1671 224.8L1670.5 224.9L1670 224.1L1669.5 224L1669 226.8L1668.5 226.3L1668 225.4L1667.5 226.9L1667 226.5L1666.5 225.2L1666 224.6L1665.5 226.2L1665 225.7L1664.5 225.1L1664 224.8L1663.5 226.6L1663 224.3L1662.5 226.9L1662 224.3L1661.5 225.2L1661 226L1660.5 225L1660 225.2L1659.5 226L1659 225L1658.5 225.3L1658 224.5L1657.5 224.9L1657 225.2L1656.5 224.8L1656 224.2L1655.5 223.9L1655 226L1654.5 225.5L1654 225.4L1653.5 226.3L1653 224.1L1652.5 224.8L1652 225.5L1651.5 225L1651 226L1650.5 225.8L1650 226.1L1649.5 225.7L1649 223.8L1648.5 225.5L1648 226.1L1647.5 224.3L1647 225.7L1646.5 225.2L1646 225.1L1645.5 226.9L1645 224.4L1644.5 224.9L1644 225.3L1643.5 226.3L1643 226.8L1642.5 225L1642 224.9L1641.5 227.2L1641 226.1L1640.5 226.9L1640 224.5L1639.5 226.9L1639 225.1L1638.5 226.6L1638 226.7L1637.5 224.6L1637 227L1636.5 225.1L1636 227L1635.5 226.5L1635 224.4L1634.5 224.7L1634 224.5L1633.5 227.2L1633 226.5L1632.5 225.8L1632 225.5L1631.5 226.3L1631 226.6L1630.5 226.2L1630 225L1629.5 224.5L1629 225.5L1628.5 226.9L1628 224.9L1627.5 224.2L1627 226.2L1626.5 226L1626 225.2L1625.5 226.2L1625 226.5L1624.5 225.9L1624 225.7L1623.5 224.9L1623 225.8L1622.5 223.9L1622 224.3L1621.5 226.2L1621 226.3L1620.5 226.3L1620 225.1L1619.5 225.7L1619 226L1618.5 224.2L1618 225.2L1617.5 225.8L1617 225.8L1616.5 225.8L1616 224.3L1615.5 226.7L1615 226.7L1614.5 226.3L1614 225.6L1613.5 225.7L1613 224.5L1612.5 224.7L1612 224.6L1611.5 224.6L1611 224.6L1610.5 225.2L1610 225.8L1609.5 224.4L1609 224.9L1608.5 226.5L1608 224.2L1607.5 225L1607 225.9L1606.5 224.4L1606 225.7L1605.5 226.2L1605 226.3L1604.5 224.6L1604 223.9L1603.5 225.1L1603 224.8L1602.5 226.2L1602 225.8L1601.5 226.6L1601 225.3L1600.5 224.8L1600 225.6L1599.5 225.9L1599 226.6L1598.5 225.6L1598 224.1L1597.5 226.9L1597 224.7L1596.5 226.3L1596 224.3L1595.5 226.2L1595 227L1594.5 226.8L1594 226.9L1593.5 225.3L1593 224.3L1592.5 225.9L1592 225.2L1591.5 225.7L1591 225.4L1590.5 225.5L1590 226.4L1589.5 226.7L1589 225.2L1588.5 224.8L1588 226.7L1587.5 227.3L1587 226L1586.4 226.7Z" fill="#000"/><path d="M1587.4 199.6h0m.1-25.6h0m0 9.2h0m0 42.4h0m0-2.9h0m0-60.4h0m0-3.6h0m0 52.5h0m0-39.8h0m0-18.5h0m.1 28h0m0-4.5h0m0-16.3h0m0 37.4h0m0-15.6h0m0 35.6h0m0-31.6h0m0 16.9h0m0-56.1h0m.1 57h0m0 8.8h0m0-33.1h0m0-25h0m.1-3.1h0m0 72.8h0m0 3.6h0m0-64.1h0m0 51.6h0m0-10.5h0m0 11.8h0m0 5.4h0m0-79.1h0m.1 16.6h0m0 7.5h0m0 3.1h0m0 25.9h0m0 17.8h0m0-63.9h0m0 74.3h0m0-78.8h0m.1 49.9h0m0-6.4h0m0-20.2h0m0 21.8h0m.1-41.9h0m0 29.4h0m0-28.6h0m0-1h0m0 76.6h0m.1-59.7h0m0 31.5h0m0-41.1h0m0 32.5h0m0-15.1h0m0 28.4h0m0 28.1h0m0-45.7h0m.1 24.3h0m0-10h0m0-36.9h0m0 32.4h0m0 38.4h0m0 1.6h0m0-58.8h0m0 9.9h0m0-63.1h0m.1 70.5h0m0 34.8h0m0 1.4h0m0-81.9h0m0 61h0m0 22.9h0m0-84.9h0m0 79.9h0m0-32.6h0m0 27.9h0m0 4.4h0m0-75.3h0m0-2.2h0m0 76.9h0m0-67.5h0m.1 30.4h0m0 31.5h0m0-65.2h0m0 56.1h0m0-3.9h0m.2 19h0m.2 5.6h0m0-4.3h0m.2 1.8h0m0 .2h0m0-83.8h0m.1 83.6h0m0-96.3h0m0 93.2h0m.1-85.1h0m.2 100.6h0m0-98.4h0m0 89.7h0m.1-4.5h0m.5-86.3h0m.1 88.1h0m0-79.6h0m0 83.6h0m.2-92.8h0m.2 88.2h0m.1 5h0m0-83.4h0m.1 77.4h0m.2-3.5h0m.1 2.4h0m0-78.4h0m.1 78.8h0m.2-2.2h0m0-73.6h0m0-7.9h0m.1 83.1h0m.1 1.2h0m0 8.5h0m.3-88.5h0m0-1.8h0m0 84.5h0m0-4h0m.1-89.5h0m.1 13.1h0m.1 79.4h0m0-94.4h0m.2 94.8h0m.1-107.7h0m0 106.6h0m0 1.6h0m0-5.2h0m.1 6.6h0m0-98.1h0m.2 9.4h0m0-10.5h0m.2 94.7h0m.2-.3h0m.1-.8h0m0-76h0m.2 85.3h0m.3-6.9h0m0-3.3h0m0-81.2h0m0 81h0m.1-75.5h0m.7 2.6h0m.1-3.2h0m.1 77.7h0m0-.7h0m.2 .8h0m0 2h0m0-86.8h0m.2 83.3h0m0 1.3h0m.2-74.7h0m.1 75.1h0m0 24.5h0m.1-101.9h0m.2 86h0m0-92.6h0m0 84.2h0m.1 3.8h0m0 1.7h0m.1-4.3h0m.1 9.9h0m.1-8.5h0m.1 4.7h0m.1-82.8h0m.1-.6h0m.1-3.3h0m0-2.5h0m.1 2.4h0m0 4.1h0m.1 73.3h0m0-81.4h0m0 81.4h0m.1 3h0m0-92.6h0m.1 5.8h0m0 87.5h0m.1 9h0m.1-13.2h0m0 11.3h0m.1-111.6h0m0 26.9h0m0 .2h0m.1-.3h0m.1-11.9h0m0 109.3h0m0-106.1h0m.1 .2h0m0-1.1h0m0 85.9h0m.1 2.2h0m0-1.2h0m.1-99.7h0m0 18.4h0m.2 83h0m0-88.7h0m0 85.8h0m0 4h0m0 1.9h0m.1-2.9h0m.1-5.6h0m.1 .9h0m.1 .5h0m0-.1h0m0-75.2h0m0-4.3h0m.1 78.9h0m.1-83.6h0m.1 95.4h0m0-3.3h0m.5-5h0m.2 4.9h0m.1-9.4h0m0 .1h0m0-78.1h0m.1-2.2h0m0 3.3h0m0-33.6h0m0 120.3h0m0 1.7h0m.2-88.4h0m0-18.8h0m.1 23.1h0m.2-14.6h0m.1 10.6h0m.1-1.8h0m.1 81.9h0m.2-113.9h0m.1 33.4h0m.1 77.3h0m0 1.5h0m0-.8h0m.1-103.8h0m.1 20.8h0m0 5.8h0m.2 1.1h0m0 78.5h0m.2-82.1h0m0 4.6h0m.2 88.2h0m.4-6.1h0m0-1.1h0m0-87.3h0m.1 84.5h0m.1-80.3h0m0 4.1h0m.2-32.1h0m.1 32.1h0m0 74.5h0m.1-1.5h0m.1 4.1h0m0-77.1h0m0-1.3h0m0-1.5h0m.1 .5h0m0 90.1h0m.1-87.9h0m.1-15.2h0m0 11.4h0m.1 84.5h0m0-1.4h0m0-82.1h0m.2-8h0m0 8.7h0m.1 0h0m0 80.6h0m.1 10.7h0m.1-91.8h0m.1 .3h0m.1 75.5h0m0 11.3h0m.2-88.4h0m0 1.3h0m0 84.4h0m.1-6.1h0m0 7.9h0m.1-8.8h0m.1 12.7h0m0-121.6h0m0 30.5h0m.1 84h0m.1-80.8h0m.1 77.2h0m.1-3h0m0-82.6h0m.1 85.1h0m0-79.6h0m0 3.2h0m0 72.8h0m.1-96.1h0m.1 8.9h0m0 88.3h0m.1 5.9h0m0-83.7h0m.1-2.5h0m.1 82.3h0m.1-3.4h0m.1 4.7h0m.2-89.2h0m.2 7.7h0m0 79.8h0m0-75.4h0m.1-1.4h0m.1 74.5h0m.1-73.3h0m0 73.3h0m.1 7.1h0m0-82.1h0m0-10.7h0m0-.9h0m0 9.9h0m0 75.5h0m.1-87.4h0m.1 88.7h0m0-74.4h0m.1-9.4h0m.1 86.1h0m.3-3.7h0m0 1.9h0m0 6.4h0m.1-95.8h0m.1 88.9h0m0-81.6h0m.1 88.2h0m0-1.4h0m.1-6.3h0m.1 6.4h0m0 2h0m.1-86.1h0m.1 81.6h0m0-.7h0m.1-93.5h0m0 90.3h0m0 5.4h0m.1-79.9h0m0 .2h0m.1-26h0m.1 22.6h0m0 82h0m.4-3.4h0m0 .3h0m.1 .6h0m0 8.4h0m0-87h0m.2 80h0m0-78.5h0m.1 80.2h0m0 2.5h0m.1-81.8h0m.1 77.2h0m.1 1.9h0m.1-.3h0m.1 2.6h0m0 9.9h0m.1-160.3h0m.1 65.4h0m.1 1.8h0m.2 82.3h0m0-122.4h0m.1 121.7h0m0-89.9h0m.1 98.9h0m.2-10.6h0m0-77.6h0m0-6.4h0m0 87h0m.2-3.9h0m0-79.8h0m.1-10.6h0m0-4.2h0m.1 102.5h0m0-7.1h0m.1 6.8h0m.1-90.1h0m0 80.2h0m0-85.6h0m.1 88.5h0m.1-1.3h0m.1-84.8h0m0 86.9h0m0 1.9h0m.1 1.1h0m0-81.4h0m0 78.3h0m.4 1.2h0m0-4.1h0m0 2.1h0m.1 1.6h0m0-77.3h0m0-1.9h0m.3-2.6h0m.1-26.8h0m.1 17.1h0m.1 96.5h0m0-129h0m.1 120h0m0 5.7h0m0 .1h0m.1-6.4h0m0-73.7h0m.1-5.3h0m.1 85.2h0m.1 5.4h0m0-4.1h0m.1 3h0m0-1.7h0m.1-3.6h0m0 13.8h0m0-18.2h0m0 1.3h0m.2-103.3h0m0 106.3h0m.1-93.9h0m0 16.2h0m.2-7.2h0m0-58.8h0m.1 147.7h0m0-5.8h0m0-.9h0m0 3.6h0m0-4.8h0m.1-83.7h0m.2-8.6h0m0 91.9h0m.3-73.4h0m.1 77.1h0m.1 .1h0m0-79.4h0m0 79h0m.3 .3h0m0-3.7h0m.1-.6h0m0-.9h0m.1-91.4h0m0-4.1h0m0 20.1h0m.1-1.1h0m0 79.8h0m.1-1.8h0m.1-94.8h0m0 16.6h0m0 81h0m0-82.6h0m0 79.7h0m.1 0h0m0 1.3h0m.1-1.6h0m.3-78.8h0m0-6.7h0m.1 6.1h0m0 88h0m.6-87.8h0m0 91.7h0m.1-5.5h0m.1-4.8h0m0-85.4h0m0 84.3h0m.1-2.1h0m0-72h0m0 77.5h0m.1-4.4h0m0 10.4h0m.2-10.5h0m0-79.5h0m.1 5.8h0m.1-2.5h0m.1 76h0m0-93.9h0m.2 20.2h0m.1-1.6h0m.4 1.2h0m0 76.7h0m.1-95.3h0m.2 96.2h0m0-2.1h0m0-91.6h0m.2 92.5h0m.1 2.1h0m0-80.3h0m.1-2.8h0m0 .2h0m.1 2.3h0m.1-2.4h0m0-3.2h0m.2 81.2h0m0 10.6h0m.1-88.1h0m.1 79.1h0m.1-102.9h0m.1 105.7h0m0-85.5h0m.6 80.7h0m.2-78.2h0m.1 82.4h0m.1-83.4h0m0 80.3h0m.1 1.1h0m0-.5h0m.2-84.8h0m0 101h0m0 1.7h0m.1-130.2h0m.1 37.6h0m.1 81.6h0m.2-7.1h0m0 7.2h0m.3 5.2h0m.1-90h0m.1 2.3h0m.1 84h0m0-88.4h0m.5-.4h0m0 91.8h0m0-97.3h0m0 89.2h0m0-100.3h0m.1 98.7h0m.1 6.2h0m.2-7.1h0m.2-85.6h0m0 2.9h0m0 6.7h0m.2-10.1h0m.1 84.6h0m0-73.8h0m.1 76h0m.1-77.8h0m0-4.2h0m.1 89.9h0m0-4.9h0m0-78.7h0m0-5.5h0m.1 84.2h0m0 4.9h0m.1-86.9h0m.1-1.4h0m.2-28.5h0m.1 115.3h0m0-.2h0m.1-7.8h0m.1-73.8h0m.1-11.1h0m.4-8h0m0 92.8h0m.3 .6h0m0-1.9h0m0-76.5h0m.2 76.6h0m.2-72.7h0m.2 72.5h0m0-71.7h0m0 72.1h0m.1 2.1h0m.1-75.1h0m.1-5.3h0m0 5.6h0m.3-23.8h0m.1 103.3h0m.1-84.5h0m.1 89.3h0m0-1.9h0m.2-10.1h0m.1-87h0m0 95h0m0-95.8h0m0 1.9h0m.2 88.5h0m0-1.1h0m0 3.4h0m.3-89.7h0m0 96h0m.1-9.5h0m0-78.6h0m.1 85.9h0m0-93.1h0m.3 11.5h0m.2 74.4h0m.1 15h0m.2-103.2h0m0-.5h0m.1 100.9h0m.1-11.9h0m0 7.2h0m0 3h0m.1-110.2h0m.2 23.4h0m0 74.8h0m.1 1.3h0m0 1.9h0m0 1.9h0m.1-.2h0m.2 17.3h0m.2-17.1h0m.2 .6h0m0-89.9h0m0 3.3h0m.1 93.7h0m.1-88.4h0m.2 80.5h0m.1-4.5h0m.1 12.9h0m0-87.8h0m0-5.7h0m.1 80.2h0m0 4.9h0m.1 1.1h0m0-95.2h0m.1 90.3h0m.1 2.3h0m0-84h0m.1 82.6h0m.2 2h0m0-87.9h0m.1 89.6h0m.1-3.7h0m.2 9.3h0m.1-3.3h0m.1-7.6h0m.2 2.6h0m.1-2.5h0m0 7.8h0m0 .9h0m.1-.2h0m.2-80.7h0m.1-4.7h0m0 4.5h0m.2 72.8h0m.2-.6h0m.2-76.1h0m0-11.9h0m.1 96.7h0m.2-81.8h0m.1 76.5h0m0-82.5h0m.1 6.5h0m0-22.2h0m.1 96.1h0m.2 5.8h0m0-2.9h0m.1-79.8h0m0 77.1h0m.1-1.2h0m.2-85.4h0m0-1.2h0m0 87h0m0 3.8h0m.1-2.7h0m.1 4h0m0-99.6h0m0 104.3h0m.1-9.2h0m0 1.9h0m.3-.7h0m.1 1.4h0m0-90.3h0m.1 87.6h0m0 19.1h0m.1-92.4h0m.1 74.2h0m0 10.2h0m.1-96.7h0m.1 3.4h0m0 82.2h0m0-74.8h0m.1 75.8h0m0 2.5h0m0-78.1h0m0-21.4h0m.2 111.3h0m.1-13.5h0m0 3h0m0-81.3h0m.6 82.2h0m0 3.6h0m.1-5.8h0m.1-110.9h0m0 30.7h0m0-14h0m.1 90.3h0m0-74.3h0m0-6h0m0 88.9h0m.1 2.2h0m.1 1h0m0-166.4h0m.1 78.3h0m.1 75.7h0m0-76.5h0m.1 91.4h0m0-7h0m0-99.9h0m.4 92h0m.1 .8h0m.1-72.6h0m0 81.6h0m.2-89.8h0m.2 79.8h0m.1-71.2h0m0-3.4h0m.1 80.5h0m.1 4.7h0m0-104.7h0m.1 102.8h0m0-.2h0m.2-96.9h0m0 95.9h0m0-5.6h0m.1-.5h0m0 2.1h0m0-1.1h0m0-2.3h0m0 13.4h0m.1-11.1h0m0-74.5h0m0 .9h0m.1 79.6h0m.1-109.6h0m0 110h0m.1-93.6h0m0 91.7h0m.2-1.2h0m0-96.6h0m.1 91.2h0m0-96.6h0m.1 97.8h0m.1-74.5h0m0-.6h0m.2-18.4h0m0 97.1h0m.1 1.8h0m.1-6.9h0m0 2.1h0m.3-77.3h0m.1-15.1h0m.2 8.3h0m.3 89.5h0m.4 3.5h0m.2-85.8h0m.1-.5h0m.1 76h0m.1 13h0m.1-12.5h0m0-81.9h0m.2 6.9h0m0 1.1h0m0 84.3h0m.1-2h0m0-90.5h0m.1-15h0m.1 18.8h0m.1 4.4h0m0 74.4h0m.1 10.9h0m0-92.8h0m0 83.8h0m.1-78h0m.3 1h0m.1 77.8h0m.2 16.4h0m0-98.1h0m.1 80.3h0m.2 2h0m0-2.6h0m.1 5.2h0m.1-80h0m0 73.4h0m.2-83.3h0m.2 8.3h0m.1 76.2h0m.2-.5h0m.2-1.7h0m0 7h0m.1-78.5h0m.1-32.4h0m.3 120.6h0m0-2.7h0m0-85.4h0m0-13.3h0m0 12.8h0m.2 77.6h0m0-5.8h0m0-75.4h0m.1-29.4h0m.1 33h0m0-3.9h0m.1-14h0m.1 12.5h0m0 82.3h0m.3-86.2h0m0 91.4h0m0-82.4h0m.1 72.7h0m0 11.7h0m.1-7.9h0m.1 1.9h0m0-5.5h0m0 6.9h0m.1-87.7h0m.2-24.9h0m0 133.2h0m.2-102.2h0m.1 77h0m.1-2.2h0m0-77.4h0m0-8.1h0m0 5.8h0m0 84.1h0m.1-88.4h0m.1 85.6h0m.4-75.3h0m.1-5.9h0m0-33.7h0m0 112.3h0m.1 .7h0m0-83.9h0m0 88.7h0m.1-4.3h0m.1-78.2h0m.1 93.6h0m.1-91.7h0m0 2.3h0m.1-2.3h0m.2 79.8h0m0-76.8h0m0-23.5h0m0 95.4h0m.1-158.4h0m.1 84.6h0m.1 84.2h0m.1-7.9h0m.1 2.6h0m0-2.5h0m0-78.3h0m0-2.2h0m0 94.6h0m.1-9.1h0m.1-6.4h0m.2 11.1h0m0-2.7h0m.1-80.6h0m.2 75.1h0m0-115h0m.1 112.3h0m.1 16.2h0m.3-11.2h0m0-82.7h0m0 78.6h0m.1 4.4h0m.1-6.1h0m.2 3.2h0m.1 1.8h0m0-5.3h0m.1 9.6h0m.2-91.3h0m.4 82.7h0m.1-72.6h0m0 75.3h0m.1 .2h0m0-3.8h0m.1 3.4h0m0 13.8h0m0-4.3h0m.1-10.9h0m0 14h0m.1-12.5h0m0 .2h0m0-78.4h0m.1 .7h0m.2 95.2h0m.1-16.7h0m0 1.4h0m.2-77.3h0m0-1.8h0m.3 75.3h0m.1 5.7h0m.1-7.9h0m.1 0h0m0 .4h0m.1-72.1h0m0 .2h0m.2 72.3h0m0-72h0m.3-7.9h0m0 79.6h0m.1 .4h0m0-79.7h0m0 82.9h0m0-4.1h0m.1-94.9h0m0 98.1h0m.1 0h0m0-3.3h0m.1-88h0m0 95.6h0m.1-5.4h0m.1-77.9h0m.1 84h0m.1-81.5h0m0 89.4h0m.1-13.3h0m0 9.5h0m.1-91h0m.1-5.5h0m.2 93h0m.3-85.8h0m0 3.4h0m0 81.3h0m0-5.3h0m0-75.3h0m.1-21.9h0m0 97h0m.2 4h0m.1-3.2h0m0-79.5h0m0-1.8h0m.1 79.5h0m0-1.7h0m.1 12.5h0m0-10.9h0m.1-78.6h0m0 80.8h0m.1-89.6h0m.1-2h0m.3 12.7h0m.1-1.3h0m0 82.1h0m.1-1.1h0m0-92h0m.1 87.6h0m0-73.3h0m0 78.1h0m.1-1.8h0m.1-1.7h0m0-73.1h0m0-12.8h0m.2 10.3h0m.1-7.5h0m.1 81.9h0m0-71.5h0m.1-1h0m.2 72.9h0m.1 0h0m0-82.9h0m0 9.7h0m0-.2h0m.1 76.5h0m.1 6.4h0m0-8.3h0m0 3.9h0m0 .2h0m.1-78.6h0m.4 73.5h0m0-78.3h0m.1 92.8h0m0-87h0m.1-75.1h0m.1 150.2h0m0 .7h0m.1-2.5h0m0-.2h0m0-78.4h0m.1-2h0m.1 79.7h0m.1-86.7h0m.1 86.6h0m0-84.8h0m.1 89.2h0m.3-88.9h0m.2 89.6h0m0-2.8h0m0 4.8h0m.3-132.2h0m.1 129h0m.1 4.4h0m.1-83h0m0-6.7h0m0 84.1h0m0 8.7h0m0-6.8h0m.2-.4h0m0 11h0m.1-10.8h0m0-79.5h0m0-30.8h0m.1 27.4h0m.1-4.9h0m.3 10.6h0m.1 73.2h0m0 2.6h0m.1-81.8h0m0 84.3h0m0-5.8h0m0-72.6h0m.1-17.4h0m0 92.3h0m0 4.6h0m.1-3.3h0m0-2h0m.1-.5h0m0 1.5h0m.2-75.5h0m0 .6h0m.1-9.5h0m0 2.1h0m.3 80.9h0m.2-101.3h0m.1 102.7h0m0 5.7h0m.1-98h0m0 2.2h0m.1 89.2h0m.2-73.8h0m0-7.1h0m.1 86.8h0m0-82.2h0m.1 1.6h0m0 .6h0m0-27.4h0m0 27.9h0m0-12.2h0m.1 3.9h0m0 97.6h0m.5-97.8h0m0 83.4h0m0 8.8h0m.1-11.2h0m0 .4h0m.1-79.4h0m.2 78.4h0m0 .7h0m0 1.4h0m0-75.3h0m.1-53.8h0m0 45.5h0m0-3.9h0m0 8.6h0m.1-3.3h0m.2-2.1h0m0-.1h0m0 3.2h0m.2 .7h0m0-27.3h0m.1 106.6h0m.4 11.6h0m0-8.4h0m0-87.3h0m.1 88.8h0m0-83.3h0m.2 3.9h0m.3 1.7h0m0-.9h0m0-2.8h0m.1-1.8h0m.1 106h0m0-102.8h0m.1-.4h0m.3-.1h0m0 2.1h0m0-2.9h0m.2 82.4h0m.2-79.1h0m0 74.4h0m.1-76.6h0m.1 75.1h0m.1 2h0m0-76h0m.1 76.4h0m0-.6h0m.3-78.1h0m0-10.3h0m0 13.9h0m.1 72.1h0m0-72.7h0m.1-3.7h0m.1 80.6h0m0-3h0m.1 2.7h0m.2-2.1h0m0 3.3h0m0-108.6h0m.2 110h0m.1-89.4h0m0 2.4h0m.2 80.3h0m.1 .9h0m0 .7h0m.1 3.7h0m.2-3.9h0m.1 1.2h0m0-83h0m.1-29.3h0m.1 117.9h0m.1-85.4h0m0 .7h0m0-10.4h0m.1 8h0m.2 90.5h0m0-10.9h0m.4-78.2h0m0 89.4h0m.1-86.6h0m.2 78.7h0m.2-85.4h0m.1 6.1h0m.1-7.3h0m0 88.4h0m.2-109.6h0m.2 21.4h0m0 8.1h0m0 80.1h0m.1-1.9h0m.2 .6h0m0-76.7h0m.3-6.4h0m0 82.9h0m0-118.1h0m.2 120.6h0m0-99.6h0m0 7.2h0m.1 92.7h0m.2-88.8h0m.1 84h0m.1-98.7h0m0 102.8h0m.1-82h0m0 1.7h0m.1 78.5h0m0-87.9h0m0 87.1h0m.2 .7h0m.1-78.1h0m.2-32.6h0m0 28.6h0m0-1.3h0m.3 83.4h0m.1-77.5h0m.1 74.7h0m.1 1.5h0m.2-88.9h0m0 4.7h0m.1 83.6h0m.1-.5h0m.3-.7h0m.1-95.6h0m0 103.3h0m.2-113.2h0m.1 104.3h0m.1 1.1h0m.1 1.7h0m.1-97.9h0m0 97.6h0m.1 3.3h0m0-83.3h0m.1-1.9h0m0 81.8h0m0-.5h0m.1 1.9h0m.1-82.9h0m0 85.7h0m.2-5h0m0 1.3h0m.1-93.4h0m0 96.8h0m.1-106.9h0m0 101.9h0m.1-1.1h0m.1 15.6h0m0-88.6h0m.1-5h0m.1 87.5h0m.1-6.2h0m0-.1h0m.1-90.5h0m.1 87.7h0m.1 7.1h0m.2-82.1h0m0-46.3h0m.1 39.5h0m0 81.4h0m0-73.8h0m.1-13.3h0m.1 87.6h0m.1 5.2h0m.2 1.2h0m.1-102h0m0 21h0m.1-3.8h0m.1-12h0m0 16h0m.1 82.3h0m.2-84.3h0m.2 3.6h0m0-7.6h0m.1 82.6h0m0 6.9h0m.1-3.9h0m0-3h0m.2-1.5h0m.1-75h0m0-23.3h0m.1 100.4h0m0-1.9h0m.1-85.2h0m.2 10.9h0m.1-9.5h0m.4 92.9h0m0-1.5h0m.3-82.7h0m0 80.2h0m.1-83.3h0m.5 76.9h0m.1 2.1h0m.1-2.1h0m0 10h0m.1-6.4h0m.1-3.8h0m.1 4.3h0m0-117.8h0m0 32h0m.1 5.1h0m0 84.9h0m.1-85.4h0m0 79.6h0m.1-81.9h0m.1 2.6h0m0 94.6h0m.1-114.5h0m0 97.4h0m.1-.9h0m0-79h0m.1 80h0m0-74.1h0m.2-16.7h0m0 11.7h0m0 89.1h0m0-9.3h0m.1-90.1h0m0 16.3h0m.2-9.7h0m0 87.3h0m0-1.2h0m.1-3.7h0m.2-75h0m.1 76.1h0m0-74.9h0m.1 76.6h0m.1-79.4h0m0 76h0m.1-112.3h0m.1 119.9h0m.2-88.8h0m.1 1.8h0m0-1h0m0 87h0m.1-149.2h0m0 49.6h0m.1 101.1h0m0-94.3h0m0 94.3h0m.1-2.4h0m0-77.7h0m.1-.5h0m.1 74h0m0-73.3h0m.1 79.9h0m0 7.4h0m0-9.8h0m0-77.4h0m.1-3.3h0m.2-6.2h0m.2 91.8h0m.1-88.2h0m.1 90.5h0m.1-89.9h0m.2 76.9h0m0 .3h0m0 3.2h0m0 3.5h0m0-.5h0m0-90.6h0m0 90.5h0m0-4.7h0m.3-89.9h0m.1-17.7h0m.2 30.3h0m.1 83.4h0m0-85h0m.3 6.5h0m0-15.9h0m.1 91.2h0m.1-84.6h0m0 7.9h0m0 .1h0m.2 77.1h0m.3-79.8h0m.4-6.2h0m.1 91.9h0m0-92.2h0m0 82.9h0m.1 .9h0m0-2.8h0m.1 1.4h0m0-72.8h0m.1-6h0m.1-3h0m0 5.6h0m0 2.9h0m.1-25.8h0m.1 .1h0m0 97.3h0m.4 14.6h0m0-12.9h0m.1-77.4h0m.1 .7h0m0-45.6h0m.1 39.4h0m0 83.5h0m0-80.5h0m.1 80.2h0m0-76.2h0m0-8.8h0m.1 84.4h0m.3 2.5h0m.2 1.9h0m.2-3.7h0m0-81h0m.1 81.1h0m.1 3.1h0m.1-77.6h0m0 81.4h0m.1 1.7h0m.2-98.2h0m0 89.5h0m0 8.3h0m.1-100.7h0m0 10.6h0m0 .4h0m.1 87h0m.1-87.1h0m.1 84.1h0m.1-81.7h0m.3 84.4h0m.1-4.5h0m0-111.8h0m.1 116.6h0m0-4.7h0m.2-84.8h0m.1 85h0m0-84.7h0m.1 9.7h0m0 75.3h0m0-78h0m.1 79.8h0m0-78.4h0m.3 75.9h0m0-1.1h0m.2-77.7h0m.1-4.9h0m0 88.2h0m.1 1.8h0m0-85.3h0m0 77.6h0m.2-71.9h0m.1-11.3h0m.2 2.5h0m.1 85.5h0m0-76.4h0m0 80.9h0m.2-101.4h0m0 18.9h0m0-11.3h0m.1-16.5h0m.2 101.1h0m.1 1.8h0m.1-75.4h0m0 83.9h0m.1-82.9h0m.1 71.8h0m0 .9h0m.1 1.4h0m.1 2.4h0m0-.8h0m.2 6.7h0m0-84h0m.2-2.3h0m0 2.7h0m.1-3.7h0m0 78.4h0m.1-.9h0m0 7.5h0m.1-81.8h0m.2 78.7h0m.1-3.3h0m0-73.1h0m.2-16.2h0m.1 103.8h0m0-115.2h0m.1 25.3h0m.1-11.2h0m0-1.5h0m.1 87.1h0m0-81.1h0m.1 91.2h0m.3 4.5h0m0-87.5h0m0-2.8h0m.1 3.1h0m0 76.8h0m0 4.7h0m.1-88.9h0m.1-10.1h0m0 89.8h0m.1-82.3h0m.1-21.1h0m.1 111.3h0m.1-93.4h0m.1 86.5h0m0-72.6h0m.2 74.3h0m0-.5h0m0 7.3h0m.1 13.4h0m.1-21.9h0m0 1.9h0m0-.8h0m0-.1h0m0 9.1h0m.1-85h0m0 75.7h0m.1-97.7h0m0 97.2h0m.2 5.9h0m0-.7h0m.1-103.2h0m.1 23.3h0m0 .2h0m.1-5.4h0m0 79.8h0m0-77.2h0m.2 90h0m0-86.2h0m0-2.8h0m.2 84.9h0m0-85.5h0m.3-4.7h0m.1 87h0m.1-2.3h0m0-.1h0m0-76.8h0m0 .2h0m.1-23.1h0m0 22.8h0m.2-6.9h0m0 4.1h0m.1 78.8h0m.1-86.6h0m.1 8.8h0m0 1.4h0m0 73.4h0m0-89.8h0m.1 14.5h0m.1 2.5h0m.1-8.2h0m0 86h0m.1-86.6h0m0-2.6h0m0 7.9h0m.1 84.1h0m.1-4.8h0m0 5.5h0m.2-4.4h0m0-80.8h0m.1 2.2h0m0 79.2h0m0-77.9h0m.1 74.9h0m0-75.4h0m0-.4h0m0 75.2h0m.1-1h0m.1-74.8h0m.1 84.2h0m0-10.3h0m0 5.5h0m0-1.5h0m.1 7.6h0m0-12.1h0m.1 2.3h0m0-74.2h0m.1-27.2h0m.3 106.5h0m.1 5.2h0m.1-95.9h0m0 11.1h0m0 82.9h0m.2-9.2h0m0-74.5h0m.1-16.2h0m0 89.2h0m.1 .4h0m0 14.7h0m0-98.1h0m.2 84.7h0m0-74.1h0m.1-12.1h0m.1 89h0m0-2.7h0m0 7.5h0m.1-5.8h0m0 2.4h0m.1-84h0m.1-1.2h0m.2-1.6h0m.1 85h0m0-2.6h0m.1 3.4h0m.1-76.8h0m.1-.3h0m.1 72.9h0m.1-72.7h0m.1 79.5h0m0 2.9h0m.1-99.8h0m.1 89h0m0-76.7h0m.1-1.6h0m0 6.5h0m.1 76.3h0m.1-84.5h0m0-13.2h0m.1 3.4h0m.1 12.6h0m.2 5.5h0m.1-20.2h0m.1-12.7h0m.1 30.6h0m0 2.8h0m.1 74h0m.1-76.6h0m.3 76.7h0m0-78.4h0m0 78.4h0m.1-78.2h0m.1-6.1h0m0 87.9h0m.1-81.9h0m0 82.7h0m.2-4.2h0m0 2.2h0m0-.5h0m0-80.9h0m.1 78.3h0m0-89.4h0m0 91.6h0m.1 5.8h0m0-82.4h0m.1 81.3h0m0-85.5h0m.1-11.2h0m.2 91.4h0m0 .1h0m.1-80.4h0m.1-7.1h0m.1 1.1h0m0 90.6h0m0-1.6h0m.2-80.6h0m0 74.4h0m0-81.3h0m0-2.7h0m.1 12.8h0m0 71.6h0m.5 4h0m0-.1h0m0-75.8h0m0-4.7h0m.1 2.8h0m.2 80.7h0m.2-.5h0m0 0h0m0-91.1h0m.2 92.3h0m0-79.9h0m.1 82.2h0m.1-8.4h0m0 8.5h0m0-4.8h0m.1-101.6h0m0 3.7h0m.1 94.3h0m0 .5h0m0 3.5h0m.1-88.3h0m0 82.7h0m0-169.8h0m.1 95h0m.1 1.1h0m.1-20.4h0m.1 18h0m.1 76.5h0m.1 16.1h0m0-97.8h0m0 7.4h0m0-3.8h0m.1-5.4h0m0 84.1h0m0-97.7h0m.1 19.1h0m.3-.9h0m0 6.4h0m.3 82h0m0-9.8h0m.2-.2h0m0 6.7h0m0-1.2h0m.1 2.3h0m.1 3.1h0m.1-4.1h0m.1-79.8h0m.2-.1h0m.1 78.6h0m.1-78.1h0m0-1.6h0m.1-.5h0m.4 1.4h0m0 79.6h0m.3 0h0m.1 1.3h0m.1-100.6h0m0 17.6h0m.1 2.8h0m.1 .8h0m0 72.7h0m.1-98.5h0m0 107.5h0m.2-10h0m.1 4.8h0m.1 10.5h0m0-86.5h0m0-7.7h0m0 2.2h0m.1 87.4h0m.1-6.5h0m.1-81.1h0m.1 93.6h0m0-87.8h0m.2-8.5h0m0 95.3h0m.2-7.1h0m.1-6.7h0m0 3.8h0m.1 4.1h0m0-96h0m.1 93.2h0m.2-81.3h0m.1 76.6h0m0-1.6h0m0 15.5h0m0-10.2h0m.1-80.1h0m0-69.4h0m0 147.9h0m.3-3.6h0m0 13.7h0m0-9.3h0m.1-4.1h0m.2-81h0m.1 89.2h0m.1-.3h0m.1-83.1h0m0 92.3h0m.1-16.7h0m0 7.1h0m0-83.9h0m0-42.1h0m0 123h0m.2-77.7h0m0-7.5h0m0 89.1h0m.1-89.1h0m.1 6.7h0m.1-2.5h0m0 77h0m0-79.2h0m0 4.3h0m0-35.7h0m.1 31.6h0m.1 80.3h0m0 6.2h0m0-86.5h0m0 79.7h0m.4-96.2h0m0 22.3h0m0 86.9h0m0-111.4h0m.1 24.2h0m0-20.3h0m.1 99.7h0m.1-86.2h0m0-3.2h0m.1 2.8h0m.1-5.6h0m.1 12.7h0m0-1.4h0m0 77.6h0m0-1.5h0m.1 2.7h0m0 5.1h0m0-7.7h0m0-.9h0m.1 9.8h0m.4-8.3h0m.2 9.5h0m0-99.2h0m.1 10.2h0m0 .5h0m.1 86.2h0m.2 9.1h0m.1-19.2h0m0-106.2h0m.1 116.1h0m.2-9.8h0m0 5.1h0m0-4.3h0m.1 7.6h0m.2-6.8h0m.1 .7h0m.1 1.7h0m0-.5h0m.1-3h0m0 7.1h0m.1-6.3h0m0-77.3h0m0 93.6h0m.1-13.7h0m.3-3.4h0m.1 1.7h0m0-75.8h0m.1-4.7h0m0 85.8h0m.2-97.4h0m0-1.6h0m0 2.2h0m.2 90h0m0-80.6h0m0 81h0m.1-81.5h0m0 82.5h0m0-83.8h0m.3 90.4h0m0-100.8h0m.1 15.9h0m.1 92.5h0m0-95h0m.1 90.4h0m0-88.8h0m0-.5h0m.2-11.6h0m.2-14.9h0m.1 119.8h0m.1-99.9h0m0 92.8h0m.3-85.3h0m0-24.9h0m0 105.2h0m.3-2h0m0-88.6h0m.2 12.9h0m0-25.7h0m0 107.3h0m.2 8.9h0m.1-14.4h0m.1-78.9h0m0-18.1h0m.6 100.3h0m0-88h0m.1 85.7h0m.1 11.8h0m.2-90.4h0m.1 2h0m.3-12.1h0m0 2.2h0m0 84.2h0m.1 .6h0m0-84.5h0m.1-10.4h0m0 2.7h0m.1 93.9h0m0-89.4h0m.2 11.5h0m.2 .4h0m.1 74.9h0m.1 3.5h0m.1 4.3h0m0-81.5h0m.1 89.1h0m.2-88.8h0m.1 82.7h0m0-87.4h0m0 96h0m.1-91.5h0m.1-5.1h0m.1 80.1h0m.1 3.4h0m.1-80.1h0m.1 84.2h0m0-86.1h0m0 87.6h0m.2-5.5h0m0 2.2h0m0-6.8h0m0 5h0m.1-3.9h0m0 1h0m0-83.3h0m0 7.8h0m.1-14.4h0m0 13.1h0m.1-6.7h0m0 93.2h0m.1-1.2h0m.1-87.7h0m0 81.2h0m0-79h0m0-4.2h0m.1 81.4h0m.2-80.4h0m.1 88.9h0m0-11.3h0m0-81.6h0m.1-1.4h0m.4 90.6h0m.1-100h0m0 93.2h0m.1-95.2h0m0 96.7h0m0-79h0m.1 78.7h0m.1 5.6h0m0-3.5h0m.2-83.1h0m.1 6.1h0m0 76.2h0m.1-1.5h0m0-1.4h0m0-77h0m.4 77.6h0m0-82.6h0m0-.1h0m.1 93.2h0m.1-86h0m0 77.7h0m.1-97.6h0m0 12.1h0m.1 89.6h0m0-95.5h0m.1 103.5h0m0-93.7h0m.1 80.2h0m0 7.2h0m.1-5.1h0m0 2.2h0m0-81.2h0m0-1.8h0m.2 .2h0m.6 81.4h0m.2-91.2h0m0 7h0m.1-5.8h0m.1 5.2h0m.1 91.4h0m.1-10.3h0m0-81.9h0m.2 90.9h0m0-152.8h0m.1 148.7h0m.1-6.3h0m.1-85.2h0m.1 86.5h0m.1-175.3h0m.1 90h0m0 87.9h0m.2 5.3h0m0-8h0m.1-87.4h0m0 89.2h0m0-77.6h0m.2-22.8h0m0 97.6h0m.1 2.4h0m0-85.5h0m0 3.8h0m.1 80.3h0m.1 8.4h0m.1-135.8h0m0 52.8h0m.1-8.4h0m0 1.3h0m.1-4.1h0m0 10.3h0m.2-11h0m.1 12h0m0-14.8h0m0 13.8h0m.2-9.2h0m.1 4.5h0m0 7.5h0m.1-6.7h0m0 86.9h0m0-87.2h0m.1-4.1h0m.2 9h0m.1 79.1h0m0-89.8h0m.4 7.2h0m.2-36.8h0m0 41.2h0m.1-.5h0m.1-.4h0m0 75.3h0m.1-89.4h0m0-9.7h0m0 102.6h0m.3-104.4h0m0 109.7h0m0-7.1h0m0-74.8h0m.1-15.8h0m.2 90h0m.2 4.6h0m0-80.9h0m.1-3.8h0m0 3.2h0m0 84.7h0m.1-99.1h0m.1 16.1h0m0-4h0m.1 76.6h0m0-72.7h0m0-2.4h0m0 3.6h0m.2-26.9h0m.1 26.8h0m0 79.6h0m0-87.8h0m.1 1h0m0 78.4h0m.1-77.3h0m.7-1.7h0m0 81.6h0m0 1.7h0m.1-84.3h0m.1-5.2h0m0 9.3h0m.1-2.8h0m0 83.5h0m0-97.3h0m.1 13.6h0m.1-15.1h0m.2 22.2h0m.1-16.5h0m.1 12.3h0m0 84h0m.1-7.9h0m.2 5.8h0m.1-80.8h0m.1-6h0m.1 5.8h0m.1 82.6h0m0-5.1h0m0 3.4h0m.1 1.6h0m.1-6.3h0m.1-1.2h0m.1-.3h0m.1 1.7h0m.2-80.5h0m.5-4.1h0m0 8h0m.1-29.5h0m.1 107.2h0m.1-91.8h0m0 17.9h0m.2-16.1h0m.1 7.7h0m.1 1.2h0m.1-22.9h0m.1 117.7h0m.1-4h0m.3-92.5h0m.1 79.4h0m.2-92.5h0m.2 97.1h0m0-76.3h0m0 85h0m0-9.1h0m0 6.4h0m.2-88.9h0m.1 80.1h0m0-75.8h0m.2 86.4h0m.2-92.5h0m0 84.4h0m.2 9.2h0m0-10.3h0m0-93.9h0m.1 90.6h0m0-75.9h0m0 1.5h0m0-2.4h0m0 .3h0m.2 88.3h0m.2-5h0m.1-80.3h0m.1 73.5h0m.1-73h0m0-9.6h0m0 90h0m.2-83.7h0m0 3h0m.2 74.1h0m.1-74.4h0m0 87.2h0m.1-84.9h0m0-7.2h0m.1 6.6h0m.2 73h0m0 19.7h0m0-14.8h0m.1-80.1h0m0-3.9h0m.2 82.9h0m.3 .3h0m0-1h0m0-92.6h0m.1 12.4h0m.1 2.4h0m0 84h0m.1-104.2h0m.1 18.7h0m.1 91.2h0m.1-98.4h0m.1 87.4h0m0-3.9h0m.1-93.7h0m0 18.2h0m.1 92.4h0m0-137.1h0m.1 43h0m0 85.1h0m0-7.7h0m.1 6.6h0m.1-108.6h0m.1 107h0m0-4.8h0m.1 8.2h0m.1-2.6h0m0-79.6h0m.1 .3h0m0 72.9h0m.1-75.4h0m0-.7h0m.1-3.4h0m0 80.2h0m0 12.7h0m.1-12.6h0m.1-74.8h0m.1-22.1h0m.1 .7h0m0 100.9h0m.1-80.8h0m.1 75.8h0m0-80.6h0m.1 2.1h0m0 81.3h0m.1-95.3h0m.1 92.5h0m0-.2h0m.1-74.3h0m.1 74.6h0m0 .1h0m.1-98.2h0m0 22.6h0m0 79.8h0m.1-78.9h0m0 80.4h0m0-86.1h0m0 85.3h0m.2-4.4h0m.1 14.1h0m0-4.1h0m.1-9.7h0m0 2.2h0m.1-81.3h0m.1 79h0m.1-91h0m.2 95.9h0m.1-79.8h0m.1-.9h0m0 83.5h0m.2-88.6h0m0 81.2h0m0-.5h0m.1-75.3h0m0-.8h0m0-30.4h0m0-.5h0m.1 19.7h0m0 86.4h0m.1-75.8h0m.2 77h0m.2 7.5h0m.1-91.7h0m.1 2.6h0m.2 90.8h0m.1-10.5h0m.1 11.6h0m0-7.3h0m0-83.7h0m.1 95.3h0m0-89.1h0m0-37.4h0m0 35.8h0m.1-3.2h0m0 3.2h0m.1 .7h0m0-3.3h0m.1 86.3h0m.1-8.2h0m0-75.9h0m.1 78.9h0m0-80.4h0m0 78.8h0m.1-2.5h0m.1-79.1h0m0-2h0m0 86.9h0m0-98.6h0m.1 14h0m0 89h0m0-106.3h0m.1 99.1h0m0-75.3h0m.2 85.5h0m.2-6.4h0m.1-94.2h0m.2 105.9h0m.2-13.4h0m0-120h0m.1 120.4h0m0-78.6h0m0-21.9h0m.1 22.8h0m.2-22.9h0m0 22.2h0m.1 .1h0m0-43.6h0m0 124.4h0m.1-117.2h0m.1 116.8h0m.1-82h0m.2 86.1h0m0-104.9h0m.1 102.4h0m.3-5.1h0m.1-83.4h0m0 90.6h0m.1-7.3h0m.1-82.1h0m.1-14.3h0m0 8h0m.1 1.8h0m0 85h0m.1 2.7h0m0-91.5h0m0 89.3h0m0 0h0m.2-101.9h0m.1 22.1h0m0 77.1h0m.1-77.4h0m.1-12.3h0m0-8.2h0m.1 100.6h0m0-80h0m0 81.5h0m.4 3h0m.1-156.6h0m0 74.5h0m.3 75h0m.1 4.7h0m.1-77h0m0-4h0m0 .7h0m.1-21.9h0m0 181.3h0m.1-172.1h0m.1 0h0m.1 93h0m.1-84.4h0m.2 2.5h0m0 82.8h0m.1-86h0m.1 6.5h0m.2 77.5h0m0-.1h0m.1-84.1h0m.2 89.5h0m.1-103.7h0m0-25.7h0m.1 41.6h0m0-21.2h0m0 21.7h0m.1 84.1h0m.1-2.5h0m.1-1.5h0m0-85.2h0m0 8.9h0m.2 81.5h0m0-91.8h0m0 10.4h0m.1 86.5h0m.2-111.9h0m0 112.9h0m0-10.6h0m.1-90.8h0m.2-7.8h0m.1 96.9h0m.1 8.5h0m.1-8.4h0m0 1.9h0m.1-76.5h0m0-25h0m0 99.2h0m.2 6.5h0m0-6.6h0m0 3.3h0m0-86.8h0m.1-4.8h0m0 16.3h0m.1 72h0m0-89.6h0m0-16.8h0m.6 111.2h0m.1-2.1h0m0-80.7h0m.1 81.4h0m0-75.5h0m.2-.8h0m0 74.6h0m0 5.2h0m0-84h0m.1-11.7h0m0 91.8h0m.1 1.8h0m.1-96h0m.1 99.1h0m.1-7.4h0m.1-83.1h0m0 10.1h0m.1-7.3h0m0 79.8h0m0-89.9h0m0 12.7h0m.1 93.1h0m0-118.1h0m.1 103.5h0m0-76.8h0m.1 84.2h0m0-4.6h0m0-78.9h0m.1 77.5h0m.1-82h0m.2 80h0m0 2.3h0m.1-79.8h0m.1 78.9h0m0-86.3h0m.3 10.3h0m0 83.9h0m.1-2h0m0-4.7h0m.1-85.4h0m0 87.5h0m.3-80h0m0 79.7h0m0-83.8h0m.1 81.5h0m0-83.6h0m.2-6.2h0m0 12.9h0m.2-9.3h0m0 8.1h0m.1 84.4h0m0-8.7h0m.1 1.1h0m.1-81.1h0m0 2.1h0m0 87.7h0m.1-2.6h0m0-6.4h0m.1-75.2h0m0 .7h0m.1-11.5h0m.1 8.4h0m0-22.5h0m.1 1.7h0m.1 99.9h0m.2-1.8h0m0 .4h0m0 4.6h0m.1-85h0m0 1.4h0m0 79.6h0m.1 6.2h0m.1-85.3h0m0 77.9h0m.1 3.5h0m0-3.2h0m0 0h0m.1 12.4h0m0-8.7h0m.1-.3h0m0-1.7h0m0 6.3h0m.1-99h0m0 17.7h0m0-4.3h0m.1 77h0m0-84.4h0m0 9.3h0m0 0h0m0-19.2h0m0 18.4h0m.1 2.7h0m0 72.9h0m.1 5.4h0m0 .4h0m.1 4.9h0m.1-88.8h0m0 78.3h0m.1 2h0m0 6.3h0m.1-85.2h0m0 79.8h0m.2-98.7h0m.1 103.7h0m0-86.3h0m.1 83.1h0m.1-85.1h0m.1 91.5h0m0-87.4h0m.1 81.5h0m0-80.3h0m.1 80.1h0m.1-87h0m0 8.9h0m0-34.9h0m.1 108.8h0m0-80.5h0m0 3.5h0m.1 84.3h0m.2-89.2h0m.1-2.5h0m.1 84.1h0m0-77.5h0m.1 2.4h0m0 80.7h0m.1-81.3h0m.1-1.7h0m0 80.2h0m0-91.1h0m0-18.8h0m.1 15.5h0m0 97.9h0m0-89.1h0m.1 8.6h0m.1-2.7h0m.2 77.3h0m.1-1.1h0m0 5.5h0m.2-161.9h0m0 83.3h0m.1-24.1h0m.1 98.2h0m.3-73.5h0m0 72.5h0m0 4.4h0m0 3.2h0m.1-1.6h0m0-88.4h0m0 90.7h0m.2 3.2h0m.1-90.2h0m0 89.9h0m.1-103.2h0m0 98h0m.1-104.9h0m.1 22.2h0m0-31.1h0m.1 34.6h0m.1 80.7h0m.1-81.8h0m.1 78.6h0m.1-81.3h0m.1 79h0m0 .3h0m0 1.4h0m.1-84.7h0m0 85.7h0m0-85h0m.1 3.6h0m0 82.4h0m0 6.9h0m0-1.4h0m0-92.9h0m.4 92.2h0m.1-10h0m.1-.3h0m0 7.5h0m.2-95.8h0m0 93.4h0m.2-2.5h0m.1-84.7h0m.1 99.7h0m0-7.9h0m.1-2.8h0m.1-6.1h0m0 1.5h0m0-77.9h0m0 98.7h0m.2-20.2h0m0-123.5h0m0 126.3h0m.1-81.9h0m0-5.4h0m.2 84.2h0m0-98.6h0m0 12.1h0m.2 85.9h0m0-.2h0m.1-93.8h0m0 5h0m0 88h0m0-84.8h0m.2 84.3h0m0-74.1h0m.1 75h0m.1 3.7h0m.3-85.6h0m.2 94.2h0m.1-87.1h0m.2 .7h0m.2-.2h0m0 79.6h0m0 6.7h0m0-86.8h0m.1-2h0m0-25.2h0m.1 19h0m0 97.7h0m.1-97.7h0m.1 86h0m0-87.8h0m.1 5.3h0m.1 84.2h0m.1-101.6h0m.1 22.6h0m0-7.1h0m0 89.8h0m.1-7.3h0m0-79.8h0m.2 80.2h0m.1 1.7h0m0-91.6h0m0 88.1h0m.1 6.5h0m.2-86.9h0m.1 83.2h0m.1 .6h0m.1-93.4h0m.1 92.9h0m.1-98.5h0m0 101.7h0m0-4.2h0m0 .8h0m.1-77.3h0m.1-13.6h0m.1 98h0m0-4.1h0m.1-6.2h0m.1 4.1h0m0-114.8h0m.1 33.6h0m0 79.1h0m0-80.3h0m.1 81.7h0m.5-79.9h0m0 76.8h0m.1 1.6h0m0-.8h0m.1-77.9h0m.2-2.6h0m.1-13.2h0m.1 96.6h0m0-3.8h0m.1-74.1h0m.1 80.4h0m0-87.3h0m.1 93.5h0m0-90.6h0m0 77.9h0m.1 9.7h0m.1-9.7h0m0-78.2h0m0 83.9h0m0-102.9h0m0 98.3h0m0-117.7h0m.1 125.7h0m.2-87.9h0m.3 2h0m0 84.3h0m0-.8h0m.2-80.2h0m.2 77h0m.1-79.1h0m0-1.5h0m0 80.6h0m.1-85.4h0m0 8.4h0m0-4.3h0m0-.5h0m.1-3.7h0m.4 87.6h0m0 8.9h0m0-12.5h0m.3 5.9h0m.1 .5h0m.1-86.8h0m0 81.6h0m.1-77.4h0m.2-17.4h0m0 97.5h0m.2-5.4h0m.1-74h0m0-15.6h0m.1-.8h0m0 92.7h0m.1 3.5h0m0-82.6h0m.2 79.6h0m0-95h0m.1 93.7h0m.1-83.7h0m.2 84.9h0m0-92.8h0m.1 10.1h0m0-23.1h0m.4 28.4h0m0 75.1h0m0-80.5h0m0 79.7h0m.1 4.7h0m.2-5.1h0m0 10.8h0m0-84.3h0m.1-3.6h0m0-3.3h0m.1-56.5h0m0 60.2h0m.1-13.9h0m.2 12.3h0m.1 88.8h0m.1-9.7h0m.1 2.1h0m.1-80.9h0m.2 78.3h0m0-83.6h0m0 8.6h0m.3-5h0m.1 3.2h0m.2 80h0m0 1.5h0m.1 6.5h0m.1-87.8h0m.1 80.5h0m0-79.6h0m.2-6.7h0m.1 82h0m.1-76.3h0m0-14.7h0m0 100.4h0m0-88.2h0m0 96.4h0m0-15h0m.1-76.9h0m0-1.3h0m0 79.3h0m.3-86.9h0m0 89.5h0m.1-104.9h0m0 98.4h0m0 11.1h0m.1-85.8h0m0 77.6h0m.2-89.6h0m0-6.1h0m0 18.1h0m.1-33.3h0m.1 33h0m.1-.3h0m0 78h0m.2-87.7h0m.1 93.8h0m0-85.1h0m.1-8.1h0m0 88.9h0m0-.9h0m.2 1.1h0m0-82.4h0m.1 95.7h0m.3-15.5h0m0-80.4h0m0 85.6h0m.2-3.4h0m.3-77.8h0m.1-25.9h0m0 21h0m.1 80.6h0m0-82.8h0m.1 82.4h0m.1 24.5h0m.2-100.8h0m0 77.5h0m.1-77h0m.1 78.3h0m.1-83.1h0m0-5.1h0m0-2.9h0m0 94.3h0m.1-96.6h0m.1 12.8h0m0 91.4h0m.1-105.7h0m.2 16.2h0m0-.6h0m.1-.3h0m0 83h0m.2-83.2h0m0 1.2h0m.1-.2h0m.2 77.5h0m.1-81.2h0m.1 5.5h0m0-19.8h0m.1 17h0m.2 2h0m.4 .8h0m0 76.5h0m.1-4h0m0-112.2h0m.1 121.5h0m.2-3.9h0m.2-86.6h0m0 84.2h0m.1-83.2h0m0-.7h0m.1 81h0m0 2.1h0m0-76.4h0m0 73.6h0m.2-80.5h0m0 92.1h0m.2-6.6h0m.1-88.1h0m0 4.7h0m.1 79h0m.1-79h0m.1-9h0m0 89.2h0m0 .9h0m.2-84h0m0-11.8h0m.2 5.8h0m0 102.5h0m.1-1.2h0m.1-114.7h0m0 25h0m0-42.5h0m.1 32.1h0m0 87.3h0m.1 3.4h0m.1-1.5h0m.1-2.4h0m0 4.7h0m.1-93.9h0m.1 90.9h0m.1-81.4h0m.1-2.3h0m.3-18.8h0m.1 15.4h0m.1 84.2h0m.1-76h0m.2-5.4h0m0-19.4h0m.2 113.8h0m.1-86.3h0m0-9.6h0m0 87.9h0m.3-81h0m.1 93.9h0m0-100.3h0m0 11.4h0m.2 .2h0m0-6.3h0m0 84.8h0m0-90.3h0m.1 3.4h0m0 7.2h0m.1 72.7h0m.2-94.7h0m.1 16.4h0m0 78.5h0m.3 4.5h0m0-2.7h0m.1-90.3h0m0 5.7h0m0-12.2h0m.1 12.2h0m0 89.3h0m.1-80h0m0 85.9h0m0-9.3h0m0-79.3h0m.1-4.9h0m0-27.7h0m.1 107.7h0m0-78.1h0m0 1.8h0m.1-13.3h0m0 93.2h0m0-.4h0m0 7.3h0m0-5.5h0m.1-86h0m0-24.3h0m0 111h0m0 1.9h0m.3-1.4h0m0-5.8h0m0 .7h0m0-.3h0m.1-82.2h0m.1-13.7h0m0 109.5h0m0-11.7h0m.2-76.2h0m.1-7.4h0m.2 7.4h0m0-6.2h0m0-5.8h0m.1 97.5h0m0-84.9h0m.1 79.1h0m0-82h0m.1 3.6h0m0-3.2h0m.1 77.2h0m.1-80.7h0m0 98.4h0m.1-93.6h0m0 82.8h0m.1-91.4h0m0 89.6h0m.2-81.1h0m.1-5.9h0m0 82h0m0 18.8h0m.1-103.5h0m0 84.4h0m.1-75.8h0m.1-12.6h0m0 92.6h0m0-80h0m.2 0h0m0 82.7h0m0 7.2h0m0-5.1h0m0-7.4h0m0-75.5h0m.1 75h0m0-85.2h0m.2 7.9h0m0-21.6h0m0 96.4h0m0-73.2h0m.1 85.4h0m.1-115.1h0m0 106.7h0m.2-85.5h0m0 83.7h0m0-92.2h0m.1 12h0m0 78.9h0m.2-73.6h0m0 1.4h0m.1-1.1h0m0 .9h0m.1-7.5h0m0 87.8h0m.2-8h0m0 2.9h0m0-81.4h0m.1 84.2h0m.1-1.4h0m0-78.3h0m.1-1.8h0m0-12.7h0m.1-4.6h0m0 92.9h0m0 6.1h0m.2-2.5h0m0-2.7h0m.4 1.5h0m0-1.2h0m0 12.8h0m.1-9h0m0-3.3h0m0-2h0m.1 8.3h0m0-83.4h0m.1-12.1h0m.2 91.9h0m.3-78.7h0m.1-8.1h0m.1 87.9h0m0-90.2h0m0-8.8h0m.1 10.2h0m0 4.7h0m.1 85.5h0m.1 .2h0m0 .3h0m.2-82.9h0m.1 76.8h0m.1-.6h0m0 .7h0m.1 0h0m0 4.8h0m0-86.4h0m.1-19.3h0m.2 27.5h0m0 81.3h0m.2 .9h0m0-91.3h0m.1 81.1h0m.1-85.5h0m.1 86.6h0m0-86.9h0m.2 4.2h0m.1 4h0m0 78h0m0 6.1h0m0-98.2h0m0 94.2h0m.2-75.3h0m0-8.6h0m0-15.4h0m0 96.5h0m0 4.7h0m.2 3.1h0m.1-83.2h0m0 76.2h0m.1-112.3h0m0 29.2h0m.1 6.1h0m.1 1.9h0m0-.7h0m.1 79h0m0-2.8h0m0 9.7h0m.1-10.3h0m.2 5.5h0m.1-89.7h0m.1-3.1h0m.3 93.7h0m.1 6.1h0m0-12h0m.1 9.3h0m.1-83.4h0m0 75.7h0m0-.7h0m.1 5.6h0m.1-.6h0m0-2.3h0m0-4.1h0m.2 1.5h0m0-1.7h0m.2-93h0m.2 10.5h0m.1-10.4h0m.1 18.6h0m0 1.5h0m.1-7.7h0m.1 8.3h0m.1-2.2h0m0-14.2h0m0 94.7h0m.2-5.4h0m0-76.6h0m0 76.1h0m.1-76.4h0m0 4.4h0m0 78h0m.1-90.4h0m0 95.9h0m.1-9.3h0m.1-82.3h0m0 88.4h0m.1-95.3h0m0 95.3h0m.3 3.2h0m.1-9.3h0m0-87.3h0m0 102.3h0m.1-13.5h0m0-2.6h0m0-1.5h0m.2 2.1h0m0 .8h0m.1-79.4h0m.2 1.6h0m0-19.7h0m.1 22h0m0 75h0m.1 2.6h0m0-98.3h0m.1-9.1h0m.1 13.7h0m0 89.9h0m.1-1.1h0m.1-74.3h0m0-6.6h0m0 3.3h0m.6 84.7h0m0 7.7h0m0-13.5h0m.1 .7h0m.2 9.2h0m0-85.2h0m.2 84h0m0 3h0m.1-12h0m.1-73.4h0m.1 76.4h0m0 2h0m0-3.5h0m0-.5h0m.2 3.9h0m0 4h0m.1-97.8h0m.1 91.1h0m.1 4.6h0m0-103.5h0m.2 23h0m0 86.1h0m0-85.5h0m.1-6.5h0m.1-11.3h0m0 4h0m.1 9.5h0m0 86.2h0m0-98h0m0 97.5h0m.2-4.3h0m0-3.1h0m.1 7.4h0m0-93.8h0m0-21h0m.2 27.8h0m0 80.7h0m.1-76.6h0m0 77.9h0m.1-123.9h0m0 121.4h0m.1 3.5h0m0 1.6h0m.1-5.4h0m0 4.2h0m.1-87.1h0m.1 87.9h0m0-4.8h0m0-.4h0m0-84.7h0m.1 87.6h0m.3-3.8h0m.1 13.7h0m0-85.4h0m.1 78.5h0m0-91.5h0m.2 1h0m.2 86.6h0m0 .2h0m0-87.1h0m.2 88.5h0m0-76.1h0m0 71.4h0m.1-75.2h0m0-68.2h0m0 47.4h0m.3 3h0m.1 19.5h0m.1-12.6h0m.1-.6h0m0 92.6h0m.1-77.5h0m.1-43.3h0m0 15.5h0m0 102.5h0m.1-106.6h0m.2 15.3h0m0 95.8h0m.1 1.5h0m.1-8.1h0m0-.9h0m.1-114.2h0m0 28.8h0m.1 13.2h0m.1-.9h0m0-3.4h0m.1 3.6h0m.1-5.3h0m.1 .4h0m0-32.9h0m0 115.3h0m0-.3h0m.1-86.9h0m0 84.9h0m.2-83.8h0m.1 9.8h0m.1-11.5h0m.1 93.7h0m.1-.5h0m.2-7.9h0m.2-89.2h0m.3 88.7h0m0-76.5h0m.1-2h0m.1 85.9h0m0-9.1h0m0-71.5h0m.1 77.9h0m0-86.5h0m0 84.1h0m.1-76h0m0 80.4h0m.1-80.7h0m.1 76.1h0m.1-2.7h0m0 1.5h0m.1 1.7h0m.1-86.7h0m.1 95.4h0m0-4.9h0m0 1.4h0m0-8.4h0m.2-.6h0m.1-71.7h0m0-19.2h0m.1 95.6h0m0 4.6h0m.2-95.5h0m0 89.2h0m.1 0h0m.1-77.1h0m.1-5.4h0m0 80h0m.1-80.2h0m.1-6.9h0m.1-10.4h0m.1 1.8h0m0 21.9h0m0-4.4h0m.2 77.9h0m0-72h0m0-7.9h0m0 7.9h0m0 76h0m.1-2.5h0m0-86.4h0m0 87.6h0m.1 .7h0m0-77.9h0m0-3.6h0m.2 79.5h0m0 4.5h0m.1-4.7h0m0-82h0m0 84.3h0m.2-2.1h0m0-81.7h0m0 6.6h0m.1-37.2h0m.1 38.9h0m0 .4h0m0-1.2h0m0 85.8h0m.1-94.8h0m.1 87.6h0m.2-2.9h0m.1-75.3h0m.2 72.7h0m0-.3h0m0 6.7h0m.1-2.5h0m.1-84.3h0m.3 91.5h0m0-89.3h0m.3-8.7h0m.1 88.1h0m0 11.7h0m.3-96.8h0m.1 99.6h0m0-2.8h0m0-13.4h0m0-74.7h0m.2 75.6h0m.2-75.9h0m.1-1.8h0m0 80.9h0m0-4.6h0m.1-78.6h0m.2 90.9h0m.1-96h0m.1 94.1h0m.2-2.6h0m0-5.9h0m.1-91.8h0m.1 12.6h0m0-.7h0m.1 2.2h0m0-2.3h0m.1 7.2h0m0 78h0m0-3h0m0-2.6h0m0 11.5h0m.1-96.9h0m.1 11.3h0m.2-5.7h0m.1-7.8h0m.1 14.3h0m.1 73h0m0-72.2h0m.2 73.8h0m0-74.3h0m0 72.1h0m0 2h0m0 4.9h0m.1-78.5h0m.1 70.9h0m.2 2.1h0m.1-92.8h0m0 14.2h0m0 80h0m.1-75.9h0m0 78.4h0m0-88.4h0m.2 3.4h0m.2-5.7h0m.1 11.2h0m.2-6.4h0m.1 88.3h0m0-152.7h0m0 144.2h0m.1-78.6h0m.2-.2h0m0 86.6h0m.1-7.6h0m0 1.7h0m0-75.4h0m.2 89.7h0m0-4.4h0m.5-3.6h0m0-90.2h0m.1 90.8h0m.2-80.2h0m.1 77.9h0m.1-5.4h0m0 4.3h0m.1 4.1h0m.3-82.9h0m.1 72.9h0m.1-74.3h0m0-15.7h0m.2 95.8h0m0-95.5h0m.1 90.2h0m0 2.1h0m0-78.2h0m.1 82.4h0m.1-1.2h0m.1-83h0m.1 78h0m0 5h0m0-78.1h0m0 74.1h0m0-84.2h0m0 82.6h0m.1-89.8h0m.2 6.5h0m.2 10.3h0m.1-41.8h0m.1 31.8h0m.1 8.5h0m0 79.5h0m0-4.8h0m.2-83.7h0m.2 89h0m0-85.7h0m0-3.1h0m.1 89h0m0 9.1h0m0-5.2h0m0 2.2h0m.1-83.4h0m.1 75h0m.2-82.1h0m0-6.4h0m0 12.6h0m.1-16h0m0 98.6h0m.1-84.6h0m0 85.4h0m.1-81.6h0m.1 74.6h0m.1-2.2h0m0-73.8h0m.1 81.5h0m0-96.5h0m.1 16.3h0m0 74.5h0m0-3.1h0m.3 2.3h0m0-80.6h0m.2 86.6h0m0-81.1h0m.2 74.2h0m.2 11.5h0m.1-104.4h0m0 13.5h0m0 .9h0m.1-1.2h0m.1 77.7h0m.2-117.7h0m0 119.9h0m.1 4.3h0m.2-82.9h0m0 91.7h0m.2-9.6h0m0-80.1h0m0-13.1h0m.1 91.1h0m.2-80.2h0m.2 3h0m0-1.8h0m.1-5.5h0m0 4.7h0m0-.1h0m.1 5.7h0m.1-5.8h0m0 78.6h0m.2 8h0m.1-90.5h0m.4 1.9h0m.1 3.7h0m0-8.7h0m.2 86.4h0m0-78.9h0m.1 87.6h0m0-11.2h0m.1 2.7h0m.3-2.6h0m0 3.1h0m0-88.3h0m0 12h0m.1-8.6h0m0 90.6h0m.1-2.2h0m0-90.5h0m0 85.4h0m0 1.3h0m0-76.5h0m.1-12h0m.1 11.7h0m0 79.8h0m0-5.3h0m.1 9.2h0m0-3.1h0m0-6.2h0m.2-85.5h0m.1 7h0m.1-44.2h0m0 35.6h0m0-40.2h0m.1 52.7h0m.1-21.7h0m.1 97.4h0m.1-1.5h0m.2-79.4h0m0-9.6h0m.1 16.5h0m0 72.9h0m0-72.4h0m0 79.1h0m0-6.2h0m.1-72.9h0m.1-17.2h0m.1 89.2h0m.1 11.2h0m0-86.1h0m0-8.3h0m.1 84.4h0m.1-76h0m0 1.4h0m.1-4.1h0m0 85.1h0m.1-82h0m.1 82.4h0m.2-117.3h0m0 35.6h0m.2 73.5h0m0-95.3h0m.1 95.7h0m.1 2.3h0m.1-109.2h0m.2 31.7h0m.1 76.8h0m0 8.1h0m.1-100.5h0m.1 92.3h0m0 10.1h0m.1-84.2h0m.1 79.9h0m.1-85.5h0m0-.8h0m.2-5.6h0m.1-45.4h0m.3 38.6h0m.2 96.5h0m.1-1.7h0m.1-79.4h0m0-54h0m.1 148.8h0m0-121.2h0m0 102.5h0m0-73h0m.1 76.8h0m0 2.1h0m.1-86.3h0m.2 2.7h0m0 81.5h0m.2-79.9h0m.1 98.9h0m.1-102.9h0m.3 80.3h0m.1-75.6h0m0 78.2h0m.1 1.6h0m.1-86.1h0m0 93.2h0m0-8.7h0m.1-1.6h0m.2-106.2h0m.1 107h0m.2 1.4h0m.1-92.5h0m.1 1.1h0m.1 88.2h0m.1 1h0m0 2.8h0m0 .4h0m.1-3.1h0m0-76.5h0m0-4.4h0m.1 82.9h0m0-78.2h0m.1 77.4h0m0 7h0m0-94.4h0m.2-60.2h0m.1 151.9h0m0 1.3h0m0-6.1h0m0-.6h0m.1-94h0m0 16.4h0m.1-1.6h0m0 81.9h0m.1-77.6h0m0 91.1h0m0-95.4h0m.1 5.1h0m0 76.4h0m.1-90.8h0m0 89.3h0m0-78.9h0m.1 88.6h0m0-85.1h0m.3-10.8h0m0 106.6h0m.2-19.6h0m0 1.1h0m.1-107.2h0m0 111.5h0m0-100.6h0m.1 93.2h0m0 14.5h0m0-14.6h0m.1-84.5h0m0 2.3h0m.1 87.4h0m0 .9h0m.2-81.6h0m.1 79.9h0m.1-108.6h0m0 16.8h0m.2 92.7h0m.1-82h0m.1 78.7h0m0-90h0m.1-4h0m0 16.2h0m.1 81.3h0m.1-4.1h0m.1-89.9h0m0 96.8h0m.1-2.7h0m0-81.1h0m.1-2.1h0m0-6.5h0m0-2.8h0m0 90.7h0m0-77.7h0m.3-16.5h0m.1 15.1h0m.1 80.6h0m0-85.8h0m0 81.4h0m0-80.4h0m.1 82.3h0m.2 9.1h0m0-10.6h0m0 2.2h0m.1 2.9h0m.1-85.8h0m0-21.4h0m.3 109.9h0m.1-91.6h0m.1-.9h0m0 87.2h0m0 2h0m.1 9.2h0m0-100h0m.2 5.6h0m0 84.1h0m0-2.8h0m.2-1.6h0m.1-77.5h0m0 86.5h0m.1-92h0m.1 83.9h0m0 6.1h0m.1-4.5h0m.1-83.6h0m.1 7.1h0m0 85.1h0m.1-93.1h0m0 89.5h0m0-107.8h0m.1 17.5h0m.1 88.7h0m.2-84.5h0m0-13.4h0m.1-25.8h0m0 25.4h0m.1 92.6h0m0-.6h0m.1 7.8h0m.1-82.7h0m0-8.8h0m.1 84.5h0m.1-82.2h0m0 82.3h0m.2 8.4h0m.1-83.1h0m0 76.8h0m.4-2.9h0m0-83.2h0m.1 94.3h0m.1-86h0m0-11.8h0m0 87.2h0m.2 2.2h0m.1 2.6h0m0-86h0m0 .6h0m.1 6.4h0m0 79.8h0m.1-4.6h0m.1-88.1h0m0 10.8h0m0-39.9h0m.2 41.4h0m.1 82.4h0m.2-9h0m.1 .1h0m0-75.8h0m0 78.7h0m.1-85.9h0m.1 6.1h0m0 3.1h0m.2-11.1h0m0 85.9h0m0 .5h0m.1 8.1h0m.1-85.1h0m0 2.8h0m0 73.5h0m.1-77.5h0m.1-11.4h0m.1 102.4h0m0-117.9h0m.1 104.9h0m0 1.5h0m.1 9.2h0m0-11.7h0m0-74.4h0m.1 89.4h0m.3-6.3h0m.1-82.7h0m.1 78.4h0m.2 1.8h0m.1 .9h0m.2-83.4h0m0-.8h0m.1-8.3h0m0 90.4h0m0 1.5h0m0-6h0m.1 7.9h0m.2-108.7h0m0 17.4h0m0-12.3h0m.4 101.1h0m.1-86.3h0m0-22.7h0m0 102.4h0m0 .7h0m.1 .5h0m.1 1.1h0m0 3.7h0m.2 .3h0m0-.6h0m.2-77.9h0m.2 88.5h0m0-15.9h0m.1-81.6h0m.1 83h0m.1 7.8h0m0-89.1h0m.1-3.9h0m.2 1.7h0m.1 83.2h0m.1 .8h0m.2-75.6h0m0-47h0m.1 18.4h0m.1 2.7h0m0 26h0m.1 73.8h0m0 3.2h0m.1-81h0m.1 .5h0m0 5h0m0 81.7h0m.1-6.7h0m0-78h0m.1-3.6h0m.2 1.6h0m0 84.3h0m.1-6.7h0m0 5.4h0m.1 .4h0m0-82.8h0m.1 76.7h0m0 9.4h0m.1-86.7h0m0 79.2h0m0-81.8h0m.1 80.3h0m.1 4.3h0m.2-91.6h0m0 91.3h0m0-76.8h0m.1 71.6h0m0 1.3h0m.6-90.4h0m.1-1.5h0m0 1.1h0m.1 9.8h0m0-9.9h0m0 14.4h0m.1-3.6h0m.2 5.1h0m0 75.7h0m0-81.9h0m.1 79.9h0m.1 1.8h0m0-116.1h0m.1 38.7h0m.2 83h0m.1-84.8h0m.1-6.5h0m.1 89.1h0m0-83.1h0m.1 6.2h0m0 85.7h0m0-4.8h0m.1-182.4h0m.3 100.1h0m0-1.7h0m.1 75h0m0 0h0m.4-.3h0m0-84.3h0m0-26.8h0m0 24.7h0m.1 87.6h0m0 2.9h0m.1-81h0m0 79.2h0m.1-1.7h0m.1 7.1h0m0-2.5h0m.1-77.5h0m0-.7h0m0-18.1h0m.1 13.9h0m.4-.6h0m.3 3.9h0m.1-12.9h0m.2 15.2h0m0 82.6h0m.1-84.4h0m.1 75.6h0m0-77.9h0m.1 78h0m0-.7h0m.1 3.8h0m0-5.1h0m0 2.6h0m.1 8.3h0m.1-5.4h0m0-80.3h0m0-4.5h0m0 4.7h0m0 74.4h0m.1-100.3h0m.1 106.6h0m0-3.1h0m0-76.2h0m.3 74.9h0m.1-75.6h0m0-1.7h0m.1 86.1h0m0-9.5h0m.2-74.6h0m.1 1.9h0m0 73.8h0m.1 1.8h0m0-88h0m.1 7.1h0m.1-.3h0m0 83h0m.1-2.2h0m.1-77.1h0m.1 76.4h0m.1-118.5h0m0 37.5h0m0 .3h0m.1 84.2h0m0-3.2h0m.2-81h0m0 87.4h0m.2-92.1h0m.1-19.1h0m0 27.9h0m.2 .9h0m0 74.8h0m.2-75.1h0m0 1h0m.2 72.8h0m.1-99.6h0m0 21.9h0m0-4.9h0m.1 9.6h0m.1 75.7h0m0-97.1h0m.1 97.5h0m.1 .3h0m0-1.8h0m.1-1.8h0m0-87.3h0m0 88.4h0m.1-76.4h0m0 79h0m0-2.8h0m0 .7h0m.5-1.6h0m.1 5.8h0m0-3.7h0m.2-75.1h0m.1-.6h0m.2-6.4h0m.1 7.3h0m0 80.1h0m0-7.2h0m.1-75.7h0m.1 86h0m.3-83.8h0m0-7.5h0m.1 7.2h0m0 82.7h0m0 12.7h0m.1-96.9h0m.1-1.6h0m0 81.3h0m.1 10.6h0m.1-123.1h0m.2 110h0m0 11.6h0m.2-88.8h0m.1-.8h0m0 79.1h0m.2 5.7h0m.2-7.1h0m.2-112.7h0m.1 119.6h0m.2-82h0m0 79.8h0m0-92.2h0m.1 88.5h0m.2-2h0m.3 9.9h0m0-109.8h0m0 107.6h0m.1 5.5h0m.3-5.4h0m0-84.7h0m0 76.9h0m.1 9.1h0m0-96.4h0m.1 93h0m.1-81.6h0m.1 1.4h0m0-26.1h0m0 100.9h0m.1-74.2h0m.2-.8h0m0 75.6h0m.1 3.7h0m.2-.2h0m0 7.4h0m.2-10.9h0m0 2.8h0m0 3.2h0m0-1h0m.1-4.3h0m.1 5.5h0m0-4.8h0m0-94.8h0m.3 17h0m0 77.4h0m.1-1.6h0m.1 7.5h0m.1-3.4h0m.3-2.3h0m.2-76.8h0m0 82.6h0m0-4.4h0m.1-108.8h0m.1 22.1h0m0 5.7h0m.1 81.2h0m.1-.4h0m.1-91.1h0m.4 91.9h0m.1 .5h0m0-78.6h0m.1-23.2h0m.2 98.2h0m.1-76h0m0 .1h0m.2 75.6h0m0 6.3h0m0-88.9h0m0 7.5h0m.2 75.5h0m0-82.7h0m.1 89.2h0m.2-7.4h0m.1-.2h0m0 2.5h0m.3-89.4h0m0 9.1h0m.1-9.2h0m0 95.4h0m.1-7.7h0m0 10.3h0m0-11.2h0m.1-78.9h0m.1 .7h0m0 84.8h0m.1-90.3h0m.2-3.6h0m0 88h0m.1-75.9h0m.1-2.1h0m.1 83.4h0m.1-91.6h0m.1 85.3h0m0 2.4h0m.1 1h0m.1-1.2h0m.1-84.4h0m0 4.1h0m.1 84.8h0m0-86.5h0m0 89.7h0m.1-8.7h0m.2-1.2h0m0-90.1h0m.1 99.2h0m.2-104.5h0m.1 21.8h0m0 81.2h0m.1-90.1h0m.1 85.3h0m.1-76.9h0m.1 75.6h0m0-81.3h0m0 84.7h0m0-79.6h0m0 1.5h0m.1 .4h0m0 83.1h0m.1-6.5h0m.3 1.5h0m.1 9.3h0m.1-12.1h0m.2-118.3h0m0 4.7h0m.4 30.9h0m.1 79.9h0m0 2.9h0m.1-84h0m.1-7.1h0m.1 5.9h0m0 6.3h0m.1 82.8h0m.1 7.4h0m.1-92.5h0m.2 80.9h0m0-75.6h0m.2 77.5h0m.2-2.7h0m0-207.8h0m0 241.2h0m.1-31.7h0m0 2.4h0m.1-81h0m0 91.7h0m.2-14h0m.1-89h0m0 1.7h0m.1-6.8h0m0 16.8h0m.1 75.2h0m.1-74.4h0m0 1.9h0m.1 71.9h0m0 3.8h0m.1-3.8h0m0 1.7h0m.1-.9h0m.1-73.2h0m0-5.1h0m.1-2.5h0m0 90.5h0m.2-94.7h0m.2 89.6h0m.1-4.4h0m.1-80.8h0m.1-2.7h0m.2 2.2h0m.1-4.6h0m0 94.3h0m.1-90.7h0m.1 1.1h0m.1 81.8h0m.4 0h0m.1 3.1h0m.1-84h0m0 5.6h0m0 74h0m.1-74.9h0m0-17.6h0m0 94.7h0m.4-74.7h0m.1-22.8h0m.1 111.1h0m.1-16.1h0m.1 1.9h0m0 3.9h0m.1 .7h0m0 6.9h0m0-8.7h0m0-83.8h0m.1 79h0m.2 5.6h0m.2-.9h0m.1-1.3h0m.2-75.7h0m.1-1.6h0m.1 84h0m.1-82.2h0m0 81.8h0m.1-8.1h0m.1 .8h0m.1 9.7h0m.2-8h0m.1-.6h0m.1-2.7h0m.1-75.7h0m.1 2.6h0m.1-47.9h0m0 129.1h0m.3-.5h0m.1-.7h0m0-103.5h0m.1 19.2h0m.2 85.9h0m0-6.2h0m.2-87.5h0m.1 3.6h0m.1 82.5h0m.3 9.4h0m0 9.3h0m.1-92.7h0m0-.8h0m0 74.4h0m.1-.8h0m0 2.5h0m0-82.5h0m.1-2.4h0m0 86.3h0m0-.8h0m.1-85h0m0 86.6h0m.1-91.8h0m.2 .7h0m.1 96.4h0m0-92.6h0m0 87.4h0m0-1.8h0m0-86.3h0m.1-8.2h0m.1 91.9h0m.1-78.9h0m0 80.2h0m.1-79.7h0m0 .3h0m0 78.4h0m0 3.2h0m.1-2.3h0m0 2h0m.1-76.8h0m0 77.2h0m0-81.3h0m.2-3.3h0m0-1.2h0m0-20.4h0m.1 26.7h0m0-5h0m.2-9.6h0m.1 100.8h0m.2-8h0m0-104.9h0m0 105.1h0m0-82.4h0m.1-7.3h0m0 87.5h0m.1 12.1h0m0-90.5h0m.2 79.4h0m0-74.9h0m0 78.3h0m.1-85.3h0m.1-28.7h0m.1 30.8h0m0 83.9h0m.1-83.7h0m0 80.8h0m.1-77.3h0m.1 73.8h0m0 9.9h0m.2-9.8h0m0 11.5h0m.1-92.8h0m.1 5.2h0m0-23.2h0m0 100.2h0m.1 13.9h0m0-106.7h0m.1 96.2h0m0-84.9h0m0 81.4h0m.1 2.8h0m.1 4.7h0m.1-89.2h0m0 83h0m.1-88.6h0m.1 86.3h0m0-75h0m.1 83.4h0m.2-80.4h0m0 77h0m0-79.9h0m.1 89.4h0m0-88.8h0m.2 78h0m.1-89.1h0m.1 88.8h0m0-98.2h0m.1 8.6h0m0 1.6h0m.2 96.6h0m.1-11.1h0m.2 2.9h0m0-.8h0m0 1.7h0m.1-87.9h0m0-11.3h0m.1 101.5h0m0 12.5h0m0-14.7h0m.1-77.3h0m0 0h0m.1 90.9h0m.1-14.8h0m.1-75.4h0m0-9.4h0m.1 82.5h0m0 4.9h0m.2-79.1h0m.3 78.4h0m.1-76.9h0m.1 73.8h0m0-2.6h0m.1-76.1h0m0 79.6h0m.3-85.4h0m.1 88.5h0m.1-85.5h0m.1 7.7h0m.2-2h0m0-9.2h0m0 84.7h0m.1 1.7h0m.1-109.9h0m.4 114h0m.1-5.4h0m.1 17.4h0m.1-9.2h0m.2-86.5h0m.1 78.1h0m0 .4h0m.1 2.9h0m.1-84.7h0m.1 82.6h0m0-76.2h0m0-17.5h0m0 89.7h0m0 4.8h0m.1-1.5h0m0-83.7h0m.1 83.3h0m.1-80.9h0m.5-26.8h0m.1 106.1h0m.1 5.9h0m0-5.5h0m0-.6h0m.1 4h0m0-77.6h0m0-12.6h0m.1 13.5h0m0 0h0m.1 73.7h0m.1 4h0m.1-81.8h0m0 76.5h0m0-71.5h0m0-5.4h0m.2 82.9h0m0-80.4h0m0-16h0m.1 91.6h0m.1-77.1h0m0-3.9h0m.2 7.9h0m.1 71.7h0m.3 3.3h0m.1 2.2h0m0-93.8h0m0 14.6h0m0-10.2h0m0 12.5h0m.3-3.8h0m0-45.7h0m.2 124.4h0m.1-1.6h0m.1 4.3h0m0-79.4h0m.1 73.2h0m0-110.6h0m0 38.4h0m.1 77h0m.1-111.9h0m0 112.3h0m.1-86.9h0m.1 91.5h0m0-106.1h0m.1 120.3h0m0-137.8h0m0-17.8h0m.1 55.7h0m0-3.5h0m0 80.5h0m.1 .5h0m.4-100.2h0m0 111.2h0m.1-87.1h0m0 .9h0m.1 74.1h0m0-73.2h0m.1 73.6h0m.1-84.1h0m.1 93.1h0m0-94.1h0m0 93.6h0m0-93.2h0m.1 84.5h0m.2-81.8h0m0 84h0m.2-80.7h0m.1 82.6h0m.1-77.8h0m0 75.3h0m.1-84.9h0m.1-4.7h0m0 13.1h0m.1 75.6h0m.1 2h0m.1-81.2h0m0 4.7h0m.1 76.7h0m.1-.4h0m.1-86.1h0m.1 11h0m0 86.2h0m.1-87.5h0m0 78.7h0m.1-81.2h0m0 90.9h0m.1-5.5h0m.1-9.3h0m0 1.5h0m.1-92.9h0m0 96.1h0m.1-2.8h0m.2 12.9h0m0-11.7h0m0-2.5h0m0-74.1h0m.1 74.9h0m0-106h0m.1 106.8h0m0-85h0m.1 83.9h0m.1-75.6h0m0-20.4h0m0 20.5h0m.1 .5h0m0-5.9h0m0 6.4h0m.1 79.2h0m.1-79.9h0m.1 76.7h0m0 4.5h0m0-108.4h0m.1 104.4h0m.1-103.9h0m0 101.7h0m.1 5.5h0m0-2h0m0-98.1h0m.1-15.9h0m.1 36.8h0m0-2h0m0 80.5h0m.3-94.4h0m0 11.2h0m0 81.1h0m0-84.7h0m0 82.4h0m0 1.5h0m.1-79.4h0m.3 85.5h0m.1-87h0m.2 81.6h0m.1 2.9h0m.1-1.8h0m0 .8h0m0-189.4h0m.2 109.1h0m.1 78.2h0m.1-76.6h0m.1-8.5h0m0 4.9h0m.1 78.1h0m.2 .5h0m0-83.5h0m0-3.8h0m.1 93.3h0m0-7.3h0m0-80.4h0m0 80.9h0m.1 4.5h0m0 15.3h0m0-18.7h0m0 .1h0m.2-.4h0m.1 3.4h0m0-2.6h0m.2-79.2h0m.1 78.8h0m0-1.7h0m.1 1.5h0m.2-104.6h0m.2 105h0m0 .7h0m.3-97.4h0m0-7.5h0m0 112.5h0m.1-86.8h0m.1 1.6h0m.2 84.8h0m0-88.6h0m.1 1.6h0m.1 85.5h0m0-99.1h0m0-27.9h0m.1 124.3h0m.1-89.4h0m0 8.6h0m.1 85.2h0m.1-6.8h0m0-.5h0m.2-84.7h0m0 85h0m0-2.4h0m.1 2.6h0m.1 10.2h0m.1-12.1h0m.1-92h0m0-41.4h0m0 134.1h0m0-2.6h0m.3-79.4h0m.1 92.8h0m0-5.7h0m.1-7.5h0m0 13.1h0m.1-1.6h0m.1-2.3h0m0-9.7h0m.1 9.3h0m.1-1.3h0m0-3.3h0m.1-2.9h0m.1-.9h0m.3-73.5h0m0 79.6h0m.1 6.9h0m0-89.8h0m.1 .3h0m0 82h0m.2-91.7h0m0 89.9h0m.2-108.8h0m.1 118.4h0m0-86.1h0m0-11.3h0m0 88h0m.1-87.4h0m.2 86.5h0m.1 12.8h0m.1-11.8h0m.1-89.1h0m.3 5h0m0-53.3h0m.1 134.6h0m0 .9h0m0 .2h0m.3-82.4h0m0 7.5h0m.1-5.9h0m0 4h0m0 76.5h0m0-94.7h0m0 15.2h0m0 3.9h0m.1-3.7h0m.1-.5h0m0-9.1h0m0 97.6h0m0-86.5h0m0 1.1h0m.2 77h0m.1-.9h0m0 0h0m0-2.7h0m0 7.4h0m.1-95h0m.1 88h0m.1 2.3h0m0-100.3h0m0 102.7h0m.1 .6h0m.2 7.1h0m.2-86.8h0m0 73.5h0m.1-74.4h0m0 79.2h0m.2-77.1h0m0 75.3h0m.1-74.7h0m.1 75.9h0m0 .9h0m.2-78.2h0m0 74.2h0m0 3.9h0m0-79.3h0m.1-5.5h0m.1 93.5h0m.1-102.8h0m.1 3.7h0m.1 12.4h0m0-7.4h0m.1 82.6h0m.1-77.8h0m.1 0h0m.2-72.9h0m0 77.2h0m.1 71.4h0m0 .8h0m0-89.4h0m.1 102.8h0m0-88.8h0m.1-9.4h0m0 85.6h0m.2-1.7h0m.1-73.4h0m0 74.2h0m0-98.6h0m.1 17.8h0m.2 84.6h0m.1-4.7h0m0 2h0m.1-74.2h0m.2 76.7h0m0-79.2h0m.1 77.2h0m0-76.8h0m.2 76.4h0m0-75.3h0m.1 93.6h0m.2-93.3h0m0-4.5h0m0 5.6h0m0 72.5h0m0-83.4h0m.1 1.2h0m0 7.8h0m.1-1.3h0m.2 79.8h0m.1 10.7h0m0-87.9h0m0-5.1h0m.2 78.6h0m.1 4.4h0m.3-101.6h0m.2 104.5h0m.1 4.9h0m.5-.4h0m.1-8.7h0m0-2.1h0m.1-79h0m.1 81.4h0m.2 4.6h0m0-84h0m.1 1h0m.1 82.4h0m.2-8.4h0m.1 6.2h0m.4-81.5h0m.1 77.5h0m.1 22.7h0m0-16.4h0m.1-106.9h0m0 15.4h0m.1 8.1h0m.4-11.4h0m0 92.9h0m.1-84.9h0m0 91.1h0m0-6h0m.2-78.3h0m0 75.6h0m.2-1.4h0m0-80.5h0m.1 81.7h0m0-2.3h0m0 5h0m0-2.6h0m0-3.5h0m.1 5.2h0m.1-2.5h0m0-2.7h0m0 3.1h0m0-89.2h0m.1 92h0m.1-99.9h0m.2 96.7h0m.1-76.4h0m0 77h0m.1 1.1h0m.3-77.6h0m0-10.4h0m0 86.7h0m.1 1.1h0m.1-2.7h0m.1-80.1h0m.3-11.5h0m0 14.4h0m.2-17.1h0m0 93.5h0m.1-77.7h0m.1 77.7h0m.1 8.1h0m.1-104.9h0m.2 24.2h0m.2 73.9h0m0-1.2h0m.1 17.2h0m.1-16.4h0m.1-80.1h0m.1 3.2h0m.1-26.5h0m.2 29.4h0m0 78.5h0m0-4.3h0m.1-86.9h0m.1 7.3h0m.1 1.5h0m.2-23.9h0m0 112.9h0m.1-88.3h0m.2 77.9h0m.1 2.4h0m0-77.3h0m.1 .7h0m.3 75.8h0m.1 5.1h0m.2-7.2h0m.3-73.9h0m0 78.9h0m.1 11.3h0m.1-13.5h0m.1-2h0m0-84.4h0m.4 7.4h0m.1 84.1h0m0-5.5h0m.1-88.3h0m.1 86.2h0m0-.6h0m0-88.7h0m0-2.5h0m.2-2.1h0m0 97.9h0m.4-4.1h0m.1 3.6h0m.1-1.1h0m.1 3.5h0m.2-80.5h0m.2 78.9h0m.2-96.4h0m0 12.4h0m0-11.5h0m.1-8.4h0m.1 107.7h0m0-7.9h0m0-80.4h0m.1 4.5h0m0 75.2h0m.1 2.5h0m.1-75.9h0m0 80.9h0m.1-92.2h0m0 10.1h0m.1 85.8h0m.1-88.6h0m0-2h0m.4-5.3h0m0 5.1h0m.1 83.6h0m.1 1.2h0m.2-85.9h0m.1 86.5h0m0 17.7h0m.1-100.6h0m.1 80.1h0m.1 6.6h0m0 1.8h0m0-11.6h0m.1-81.4h0m0 5.8h0m.1-12.5h0m.1 2.6h0m0-11.9h0m0 109h0m0-92.2h0m0 4.6h0m.2 82.8h0m0 5.7h0m0-103.9h0m.1 92.8h0m.1 7.9h0m0 2h0m.3-94.7h0m.1 8h0m0-4.6h0m0 85.9h0m.1-3.3h0m.1-76.4h0m0-1.8h0m.1 84h0m.1-82.2h0m0-2.2h0m.1-10.2h0m0-2.1h0m0 10.5h0m.2 82.4h0m0-81.6h0m.1 79.3h0m.2-78.4h0m0 76h0m.1-174.4h0m.1 185.7h0m.1-9.5h0m.3-.5h0m.2-82.8h0m0 82.6h0m.3 12h0m0-11.3h0m.2-77.1h0m.3 81.3h0m.1-4.8h0m0-99.5h0m0 17.1h0m.2-1.6h0m0 85.6h0m0-76.8h0m0 75.2h0m0-94.2h0m.1 16.9h0m.1-29.9h0m.1 106.3h0m.4 8.1h0m0-85.3h0m.1 80.2h0m0-77.1h0m.2 90.3h0m.1-96.6h0m0 2h0m0-20.4h0m0 19.9h0m.1-3.3h0m.1-31.5h0m.1 33.8h0m.2 0h0m0-6.7h0m0 3h0m.1 8.6h0m0 85h0m.1-112.4h0m0 21.3h0m.1-49.5h0m.1 49.6h0m0 1.2h0m.1 84.1h0m0-80.3h0m0 79.3h0m.1 2.5h0m0-86.5h0m0 6h0m.1-5.1h0m.1-14.8h0m.1 96h0m0-77.6h0m.1-11.1h0m0 92.1h0m0 2.8h0m.1 5.5h0m.1-126.2h0m.1 119h0m0-103.2h0m.1 22.8h0m.1-5.9h0m.1 83.1h0m0 .7h0m.1-96.5h0m0 102.7h0m.1-6.4h0m.2-1.6h0m.3-1.8h0m0 11.7h0m0-88.2h0m0 82.4h0m.1-80.6h0m0 88h0m0-7.8h0m.1-94.3h0m0 15.6h0m.1 84.2h0m.1-4.8h0m.1-85.3h0m.1 78.5h0m0-93.8h0m0 95.9h0m.1 3.5h0m.1 3.6h0m0-8.6h0m0-74.4h0m0 75.6h0m.5 .1h0m.1-104.4h0m.1 22h0m.1-13.5h0m0 21.2h0m0-14.7h0m.1 12.2h0m0 82.8h0m0-80.7h0m0-9.8h0m.1 83.5h0m0-139.3h0m.1 46.7h0m.1 96.5h0m0 2.2h0m.1-2.9h0m.3-80.1h0m.2 84.4h0m.2-84h0m0-.9h0m0 80.4h0m.1 2.8h0m0 9.6h0m0-91.9h0m0 85.2h0m.2-84.8h0m0 87.9h0m0-90h0m0-13.9h0m0 16.1h0m.1 75.8h0m0-74.7h0m0 75.6h0m.2 9h0m0-127.7h0m0 25.8h0m.2 92.3h0m.1 7.8h0m.1-8.1h0m0-82.6h0m.1 85.5h0m0-76.1h0m.1 76.8h0m0-98.7h0m0 99.1h0m.2-2.5h0m0 2.1h0m.1 1.7h0m.4-90h0m0 7.5h0m0 92h0m.1-88.7h0m.1 74.8h0m.1 5.8h0m0-82.5h0m.1-3.7h0m0 3.1h0m.1 82.1h0m.2-81h0m0 77h0m.1 6.7h0m0-84.9h0m.1-24.2h0m.2 104.9h0m0-81.6h0m.1 2.1h0m0-18.3h0m.1 19.8h0m.1 74.5h0m.1 8.8h0m.1-3.9h0m.2 4h0m0-9.6h0m.3 1.1h0m.1 5.4h0m.1-6.9h0m.3-81h0m.1-43.7h0m.4 126.5h0m.1 2.1h0m0-77.8h0m0-.3h0m0-.9h0m0-11.3h0m.1 11.5h0m0-.5h0m0-24.7h0m.1 103.6h0m.1-89.1h0m.1-26.6h0m0 121.2h0m0-94.4h0m0 90.3h0m.1-1.6h0m.1-76.8h0m0 77.2h0m0-3.2h0m0 1.2h0m.2-89.9h0m0 88.8h0m0 5.6h0m0-7.2h0m0-82.3h0m.1 8.7h0m.1 76.7h0m0-80.4h0m0 4.3h0m0 78.4h0m.4-96.5h0m.2 101h0m0-9.3h0m.1-78.1h0m.3 78.2h0m0-71.8h0m0-30.9h0m.1 27.4h0m.1-10.8h0m0 85.9h0m.1 .7h0m.2-74.9h0m0 1.7h0m0 72.1h0m0 8.5h0m.1-108.9h0m0 23.9h0m.1-3.1h0m.2 87.7h0m.1-98.5h0m.1 15.9h0m0 .9h0m.1-7.9h0m0 7.5h0m0 78.6h0m.1 2.3h0m.1 9.5h0m.1-16.3h0m0-81.7h0m0 9.5h0m.2 80.5h0m.1-101.6h0m.1 10.6h0m0 .8h0m0 6h0m.3 87.2h0m.1-123.3h0m.2 34.2h0m.1 83.3h0m.1-84.7h0m.2 91.2h0m0 3.5h0m0-98.8h0m.1 83.9h0m.1 7.4h0m.1-84.1h0m.2-3.4h0m.1 86.8h0m0-5h0m0-.7h0m.1 3.3h0m0-102.9h0m0 103.2h0m0 7.7h0m0-85.2h0m.1 79.9h0m.1-6.6h0m0 2.8h0m.1-1h0m0 11.8h0m.2-1.2h0m0-10.6h0m.2 3.8h0m.1-2.7h0m.1 8.6h0m.1-98.3h0m.1 90.6h0m0-78.2h0m0 1.3h0m0-2.4h0m.2 90.2h0m.1-92.6h0m.2 2.6h0m.1-11.1h0m0-3.7h0m.1 91.9h0m.2-76.8h0m.2-2.4h0m.1 3.9h0m0-1.8h0m.1-3h0m.2 79.4h0m.1-77.6h0m.1-4.3h0m.1 3.5h0m0 77.4h0m.2 .4h0m.1-78.9h0m.2 81h0m0-77.4h0m.2-11.6h0m.2 5.7h0m0 82.6h0m0-99.7h0m.1 97.9h0m.1-77.2h0m0 76.1h0m.1 7.9h0m0-82.8h0m.1 77h0m.2-2.5h0m0 .6h0m.1-73.9h0m0 77.3h0m.1-81.5h0m.1 0h0m.1 93.5h0m0-11.3h0m.3 .7h0m.1 8h0m0 1h0m0-12.9h0m0 6.4h0m.1-84.6h0m0 80.2h0m0-88.9h0m0-8.3h0m.1 20.2h0m.3 81.7h0m0-8.3h0m0 7.9h0m.1-87.1h0m.1 82.9h0m0-90.4h0m0 87.1h0m0-73.5h0m.3 1.3h0m.1-30.1h0m0 103.2h0m.3-92.2h0m.2 91.2h0m.2 12.5h0m0-87.3h0m.1 .4h0m0-12.8h0m.1 101.4h0m.1-9.2h0m0-.8h0m0-81.9h0m.1 91.9h0m.1-11.1h0m.4-84.6h0m0-3.1h0m.1 10.6h0m0-1.3h0m0-28.7h0m.2 112.4h0m0-86.7h0m0 83.4h0m.1-110.7h0m.1 114.9h0m0-3.2h0m0 14.3h0m0-14.4h0m0-83.2h0m.2 86.1h0m.1-2h0m0-89.7h0m0 8.6h0m.2-13.3h0m.2-3.7h0m0 16.4h0m.1 1.3h0m.2 1.1h0m.4 84.1h0m0-10.6h0m.1-86.9h0m0 94.1h0m.1 1.9h0m.1 3.1h0m0-12.2h0m.1 1.1h0m0 8.7h0m0-1.6h0m0-90.2h0m.1 85.8h0m0-81h0m.2 76.9h0m0-104.5h0m.1 25.6h0m0 4.1h0m0 77.7h0m.1-1.5h0m.3 2h0m0 4h0m.1-81.4h0m.3 77.4h0m0-90.1h0m0 13.3h0m.1 .3h0m.1 77.7h0m0-100.6h0m.2 100.6h0m0-95.4h0m.2 93.3h0m.2-75.1h0m0-1.7h0m.2 93.6h0m0-15.5h0m.1-105.2h0m.1 111.5h0m.1-7.9h0m.2-86.5h0m.2 11.8h0m0-34.6h0m0 33.5h0m.1-6.5h0m.3 3.2h0m.2 81.4h0m0 1.3h0m.1-119h0m0 122.8h0m.1-8.9h0m0-89.5h0m.1-10.3h0m0 110.7h0m.3-9.7h0m0-86h0m.1 88.4h0m0-2.5h0m.3 .7h0m0-87.2h0m0 85.5h0m.3 7h0m0-85.9h0m.1 80.4h0m.1 5.6h0m.2-81.1h0m.2-3.1h0m.1 82.8h0m0 1.6h0m0-100.1h0m.3 106h0m.1-10.8h0m0-80.5h0m.1-8.7h0m0 87.8h0m0-74h0m0-7.5h0m.1-.7h0m0 86.1h0m0-83.9h0m.1 80.4h0m0 10.1h0m.1-87.5h0m.1 2.4h0m0-5.3h0m.2 3.4h0m0 77.8h0m.1-1.2h0m.1 7.4h0m0-.9h0m.2-7.6h0m0 5.8h0m.1-81.4h0m0-16.6h0m.2 10.1h0m.1 81.8h0m.1 0h0m0-80.2h0m.1-.7h0m.2 81.8h0m0-76.9h0m0 77h0m.2-.8h0m.2-76.6h0m0 80.5h0m.1 6.7h0m.1-7.4h0m0 3h0m0 0h0m.1-5.3h0m0-93.6h0m.1 9.2h0m0 89.8h0m.1-4h0m.4 10.3h0m.1-90.2h0m0 79.1h0m.1 3.2h0m0-88.5h0m.1 92.1h0m.1-93.7h0m.1 1.3h0m0-1.9h0m.1 4.3h0m.2 91.7h0m0-10.4h0m.1 5.9h0m0-3.4h0m.1 6.2h0m0-6.7h0m.1-76.5h0m0 2.9h0m.1-7.4h0m.2 85.1h0m0-78.1h0m0 .3h0m.2-67.1h0m0 2.5h0m.1 139.4h0m0-92.5h0m.1 4.7h0m0-10.5h0m0 20.9h0m.1 74.4h0m0 11.3h0m.1-9h0m0 7.7h0m.1-87h0m.1 3.3h0m0 81.6h0m.1-84.7h0m0 80.4h0m.1-1.9h0m0 .8h0m0 .2h0m.1-91.6h0m0 96.8h0m.1-79.4h0m0-9.1h0m0 85.6h0m0 3.3h0m0-3h0m.1 .2h0m.1-78.8h0m0-3.1h0m0 80.5h0m.1-89.1h0m0 4.4h0m.2-10.2h0m0 1.4h0m.1 17.7h0m.1-2.9h0m.1 75h0m0 3.7h0m.1-3.9h0m.1 2.3h0m.1 .1h0m0-76.3h0m0 78.7h0m.1-4.2h0m0-80.6h0m0 83.7h0m.1-79.5h0m.3 76h0m.1 4.7h0m.1-3.1h0m0-75.2h0m0 81.6h0m.1-94.4h0m0 98h0m.1-10.8h0m.1 11.9h0m.1-87.5h0m.2-3.9h0m0-.7h0m.1-1.1h0m0-15.7h0m.2 21.1h0m0 80.9h0m.1-91h0m0 85.9h0m.2 .4h0m0-84.5h0m.2 82.8h0m.6 1.4h0m.1-83.5h0m0 1.5h0m0 84.5h0m0-86.9h0m.1 99.8h0m.1-13.5h0m.1-1.7h0m.1 8h0m0-9.6h0m.1-85h0m0 5.9h0m.1 7.4h0m0 71.5h0m.1 3.9h0m0-99.9h0m.4 101.1h0m0-1.9h0m.1 1.1h0m.1-104.8h0m0 124.7h0m.1-96.3h0m.1-52.3h0m.1 50.5h0m0-15.6h0m.1 97.8h0m.2-1.3h0m0-6h0m.1 1.1h0m.2-73.8h0m0 .6h0m.1 75.8h0m0-3.6h0m0 1.7h0m0 4.6h0m.2-79.3h0m0 83.3h0m.1-86.3h0m.2 2.5h0m0 77.6h0m.1-5.3h0m0 12.3h0m.1-.7h0m0-90h0m0-5.1h0m.2 92.2h0m0 6.6h0m0-12.3h0m0 6.1h0m.1-89.1h0m0 92.7h0m.1-12.2h0m0-80.5h0m.3 83.7h0m.2-1.3h0m.1 5.1h0m.1-81h0m0-25.6h0m.2 106.8h0m0-80h0m0-.6h0m.1-14.1h0m.1 93.8h0m.2-82.1h0m0-51.7h0m0 138.9h0m.3-88.3h0m0 79.9h0m.3-76.9h0m0-9.7h0m.1 6.7h0m0 78.9h0m.2-75.3h0m0 73.3h0m0-86.5h0m0 .1h0m.1 97.8h0m0-9.3h0m.1 5.7h0m0-7.7h0m.1 2.5h0m.1-74.1h0m.1 80.8h0m0-81.3h0m0-12.3h0m.2 5.1h0m.2 89.5h0m0-94.4h0m.1 12h0m0-2.6h0m.2 77.3h0m.2-100.1h0m.1 104.1h0m.1-3.5h0m.1-80.7h0m0 78.7h0m0-.6h0m.2-87.4h0m.1 12h0m.2 89.7h0m0-8.1h0m.2-5.1h0m.2 12h0m.1-7.1h0m.1-4.5h0m.1-83.2h0m.1 4.5h0m0 85h0m.1-6.6h0m0 8.8h0m.1-96.5h0m0 94.8h0m0-7.7h0m0-94.2h0m0-6.7h0m.2 27.6h0m.1-8.1h0m.2-5.6h0m.1 95.4h0m.1-5.6h0m0 12.7h0m0-12.3h0m.1 3.6h0m0-88h0m0 4.4h0m.1 88.5h0m0-4h0m.1 3.4h0m.2-84.9h0m0-.6h0m.3 75.7h0m0-74.4h0m.1-9.9h0m.1-7h0m.2-3.1h0m0 8.2h0m.2 96.9h0m.3-92h0m0-2.2h0m0 91.2h0m.1-6.4h0m.1-75.8h0m0 74.7h0m.1-2.4h0m.1 .8h0m.3 5.5h0m0-5.8h0m0-87.3h0m.1 12.1h0m.1-8.2h0m.1-1.4h0m0-2.3h0m0-.1h0m0 10.6h0m.1 78h0m.1-74.3h0m.1 73.2h0m.1 4.7h0m.1-92h0m0 1.8h0m.2 94.2h0m.1-3.1h0m0-94.1h0m.2-.7h0m0 95.3h0m.1-7.1h0m.1 13.2h0m.1 17.2h0m.1-102.6h0m0 79h0m.1-.5h0m.1 1.1h0m.1 .1h0m0 2.6h0m0-84.7h0m.2-3.5h0m.2 88.3h0m.2-89.8h0m.1-1.2h0m0 85.9h0m0 .9h0m.1-80h0m.2 75.6h0m.1 5h0m0 2h0m.2-86.4h0m.1 77.8h0m0-.2h0m0 1.9h0m.2-94.5h0m0 99.3h0m0-81.3h0m.1-2h0m.4-2.8h0m0 80.9h0m0 11.1h0m.2-88.7h0m0-19.3h0m0 17.3h0m.1 85.4h0m.1-134.5h0m0 55.2h0m.1 77.8h0m0-3.9h0m0-1.7h0m0 8.1h0m.2-81.3h0m.1 79.6h0m0-101.3h0m.1 15.6h0m0 79.8h0m0-79h0m.3 86.7h0m.2 6.3h0m.1-89.9h0m.1-5h0m0 7.8h0m.2-14.3h0m0-2.3h0m.1 100.9h0m0-89.5h0m.1 80.5h0m0-1.5h0m.1-108.5h0m.3 110.8h0m.2-76.6h0m0-4.5h0m0 77.9h0m.1-.6h0m.1-76.5h0m.1 4.4h0m.1-5.8h0m.1 3.9h0m.1 74.9h0m.1 .7h0m0-87.5h0m.1 86.2h0m0 6.9h0m0-89.8h0m.1 3.3h0m.1 6.9h0m.1 77.2h0m0-82.9h0m.1-8.9h0m.1 7.2h0m.1 84.3h0m.1-81.4h0m0 3.9h0m.1 78.9h0m.1-3.2h0m.2-76.8h0m0 2.2h0m0 74.1h0m0 5.3h0m.2-87.1h0m0-21.5h0m.1 14.4h0m0 13.9h0m.2 79h0m0-86.5h0m0 87.6h0m0-2.4h0m.1-77.2h0m.1 78.4h0m.2-4.7h0m.1 2.4h0m0-87.3h0m.1 9.3h0m0 76.9h0m.4-75.5h0m.1 86.9h0m0-10.3h0m.1-2.2h0m.1 .8h0m.1-80.6h0m.1 81.9h0m.1-125.1h0m.1 48.1h0m0 75h0m.1-74h0m.3-5.6h0m.1-4.8h0m0-5.5h0m0 11.6h0m0 76.7h0m.1 20.9h0m0-108.7h0m.1 95.6h0m.1-85.9h0m0 79.7h0m.1 1.1h0m0 14.8h0m.2-14.2h0m.1 7.6h0m.1-98.1h0m.1-14.2h0m.1-40.7h0m0 62.9h0m0 3.3h0m.1-16.1h0m0 7.7h0m.1 93.1h0m.1-91.4h0m.1 7.5h0m0 81h0m0-79.3h0m.1 78.2h0m0-94.5h0m.1 15.4h0m.2 76.4h0m.1-78h0m0 90.3h0m.1-7.8h0m0-6.3h0m0 3.9h0m.1 1.6h0m.1-78.4h0m.1-11.8h0m0-12.4h0m.1 98.9h0m.1-1.3h0m0 10.4h0m.2-9.4h0m0 .7h0m.1-107.8h0m0 105.6h0m0-71.5h0m.1 75.6h0m.1-75.7h0m0 119.7h0m0-128.5h0m.1 84.9h0m0-2.5h0m0-85.6h0m.1 84.1h0m.1-73.3h0m.1 72.8h0m.1-.2h0m.1 1.4h0m0-.8h0m0 1.9h0m.2 7.8h0m0-81.6h0m0-12.1h0m0 103.6h0m0-94h0m0 .3h0m0 78.6h0m.1-80.7h0m.1-10.3h0m0 96.8h0m0-5.8h0m.1-3.3h0m.1 .8h0m.1-76.2h0m0 79.4h0m.2-87.7h0m.2 5.7h0m0-1.7h0m.2 78.4h0m.1 13.2h0m.1-92.4h0m0 79.7h0m.2 10.7h0m.1-83.4h0m.1 72.8h0m.1 2.5h0m.2-.4h0m.2-2.8h0m0 .4h0m.1-73.6h0m0-12.3h0m.1 91.6h0m.2-1.4h0m0 .7h0m0-93h0m0 .5h0m.1 90.5h0m0-99.7h0m.1 97.1h0m0 2.7h0m0-84.6h0m.1 6.3h0m.1 78.1h0m0-.5h0m0 2.3h0m.1-2.5h0m.1-91.4h0m0 90.8h0m.1-86.3h0m0 8.7h0m.1 79h0m.2-88.5h0m0 11.3h0m.1-2h0m.1-.1h0m0-11.2h0m.1 15.7h0m0-9.6h0m0 9.6h0m0 71h0m0-88.4h0m.2 89.6h0m0 5.7h0m0 9.7h0m.2-92.9h0m0 81.4h0m0-92.4h0m0 89.6h0m.2-85.9h0m0 4.5h0m.2-24.3h0m0 118.1h0m0-92.5h0m.1 84.7h0m.1 5.2h0m.2-122.6h0m0 116.9h0m.3 .1h0m.1 7h0m0-7.6h0m0-79.4h0m.2-62.8h0m.1 139.7h0m0-2.6h0m0 11.6h0m0-11.8h0m0 .5h0m.1-78.6h0m0 78.7h0m.1-74.9h0m.4-8.2h0m0 5.9h0m0 1.2h0m.1 79.8h0m0-.9h0m0 1.2h0m0-2.1h0m.2-2h0m.1-100.4h0m.2 103.8h0m.2-96.1h0m0 14h0m0 78.9h0m0-.7h0m.1-77h0m.1 78h0m0 8.3h0m.1 1.4h0m0 6.2h0m0-93.6h0m.1-.4h0m0 4.8h0m.1-12.3h0m0-23.7h0m.1 110.2h0m0 8.5h0m0-83.5h0m0 72.6h0m.2-89.8h0m.1 3.7h0m.3 110.2h0m.1-98.6h0m0 83.5h0m0 0h0m0-6.3h0m0-.3h0m.2-78.4h0m.1-32.5h0m0 111.6h0m.1 20h0m.1-122.3h0m0-44.7h0m.1 68.1h0m.1-5.2h0m.1 82.3h0m.3 2.7h0m.1-79.1h0m.1 79.2h0m.2 .4h0m.1 8.7h0m0-89.8h0m.3-1.9h0m.1 91.9h0m.1-12.9h0m0 5.5h0m.1-83.6h0m.1 4.1h0m0-11.5h0m.2-4.4h0m0-23.9h0m.2 117.5h0m0 .9h0m.1-110.9h0m.2 109.4h0m.1 2.4h0m0-3.8h0m.1-82.5h0m0 3h0m0-6.6h0m0 88.2h0m.1-89h0m.1 7.8h0m.2 80.1h0m.1 .6h0m0-156.8h0m0 156.2h0m.2 1.7h0m.4-82.2h0m0 78.5h0m.1-117.7h0m.1 116h0m0 12.5h0m.5-89.2h0m.1 1.8h0m0 0h0m.1 77.6h0m0-.9h0m0-84.7h0m0 92.4h0m.1-6.7h0m0-95.9h0m.4 92.9h0m0 5.9h0m0-3.6h0m.1 6h0m0-6.6h0m.1-73.5h0m.1 93.2h0m0-96.1h0m0-5.1h0m0-3.7h0m.2 83.9h0m.1-72.5h0m.1 74.4h0m0-74.6h0m0 77.3h0m.1-84h0m.1 88.5h0m.2-88h0m0 83.5h0m0-3.5h0m.1-80.4h0m0-8.2h0m0 6.7h0m0-.9h0m.1-.2h0m0 8.1h0m.1-.5h0m0 74.4h0m0-115h0m0 35.3h0m.1-4.4h0m.1-9.4h0m0 103.9h0m0-84.2h0m0 75.2h0m.1 8.1h0m0-82.1h0m.3 94.2h0m0-16.6h0m.1 8.7h0m0-7h0m.1-84.7h0m0-1.9h0m.1 83.8h0m0-78.7h0m0 .9h0m0 77.3h0m.1-82.7h0m.1-11.6h0m0 94.9h0m.2-91.3h0m.1 97.6h0m.1-94.8h0m.1 11.2h0m.1-2.7h0m0 84.5h0m.1-81h0m.1 .3h0m0-7.4h0m0 80.8h0m.1-93.2h0m0 15.4h0m.1-40.7h0m.1 123.8h0m.1-98.6h0m.2 7.9h0m0 85.7h0m.1-.6h0m0-1.6h0m.3-87h0m.2 11.8h0m.3-5.7h0m.3 95.5h0m.1-13.7h0m.1 5.8h0m.2-84.1h0m.1 4.6h0m0 87h0m.2-11.8h0m0-80h0m.1-6.1h0m.1 6.1h0m0-3.7h0m0 83h0m0 1.1h0m.1-89.4h0m.1-8.9h0m.1 101.7h0m0-80h0m0 74.6h0m.1-87.4h0m0 93h0m0 .6h0m.1-.7h0m0-89.7h0m.1 11.3h0m.1 71.8h0m.3-78.7h0m.1 80.6h0m.1 3.7h0m.4-4h0m0 6.4h0m.1 .2h0m0 2.2h0m0 13.3h0m.1-23.8h0m.3-70.5h0m.1-1.3h0m.2 76.7h0m.2 .7h0m.1-84.6h0m.1 81.4h0m.1-85.9h0m.2 90.3h0m0-77.9h0m.2 72.9h0m0-98.4h0m.2 13.1h0m0 11.5h0m.1 74.9h0m0-2.3h0m.2 .9h0m0-1.3h0m.2-70.5h0m0-6.8h0m.1 2.4h0m0 77.9h0m0 3.5h0m0-141.9h0m0 49.7h0m0 9.4h0m0-8.7h0m.1 10.8h0m.1 82h0m0-77.9h0m.1 70.6h0m0 7.9h0m0-4.8h0m0-.3h0m0-75.9h0m.1 75.3h0m0-82.7h0m0 83.4h0m.1 7.3h0m.2-80.7h0m0 82.4h0m.1-114.7h0m.1 102.7h0m0-73.8h0m.1-2.3h0m0 83.2h0m.1-6.9h0m.1 3.9h0m0-2h0m0-1h0m.2 7.7h0m.2-7.9h0m0-1.7h0m.1-69.6h0m.1-15.8h0m0 88h0m.2-76.8h0m0 4.3h0m.1-1.4h0m.1-43.9h0m.4 116.6h0m.1-78.7h0m.4 81.1h0m0 1.2h0m.1-80.5h0m.1 3.5h0m.1 81.4h0m0-4.3h0m.1-3.3h0m.1-84.1h0m0 94.6h0m0-87.3h0m.1-31.1h0m.1 35.4h0m0 92h0m0-114.2h0m.2 12.4h0m.1 1.8h0m.1 92.3h0m0-87.3h0m0 1.5h0m.3-1.7h0m.1-3.4h0m0 80.4h0m.1-78.5h0m.1 77.7h0m.1 .5h0m0-73.6h0m0-50.5h0m.2 122.2h0m.1 .9h0m0 6.6h0m.1-91.7h0m.1 12.7h0m.1-15.6h0m0 6.4h0m0 3.9h0m.1 82.3h0m0-2.8h0m.1-87.8h0m.3 4.1h0m.1 86.1h0m0 .2h0m.1-1.7h0m.1-98.3h0m.1 20.5h0m.1 2.1h0m0 84.6h0m.1-10.3h0m.1-85.9h0m.1 93.7h0m.1-5.6h0m.2-88.2h0m.1 96.4h0m0-11.2h0m0 .8h0m.1-96.5h0m.1 19.6h0m0-3.2h0m0 82.6h0m.1 3.2h0m.3-82.6h0m.2 75.6h0m.1-72.6h0m.5 75.2h0m0-2.5h0m.2 2.9h0m0 4.5h0m0-102.5h0m0 17.6h0m.2 84.1h0m.1-83.9h0m0 78.1h0m.2-75.4h0m.2-12.4h0m.1 90.3h0m.1 5.5h0m0-7.9h0m0-73.6h0m.1 78.5h0m.1-4.9h0m.1-.1h0m0-78.8h0m0 83.7h0m.2 .2h0m.1 3.5h0m.1-9.6h0m.5 11.8h0m.1-87.2h0m0 76.4h0m.1-88.4h0m.2 14.4h0m0 82.5h0m.2-9.3h0m0-.2h0m.1-86.6h0m.1 3.9h0m0 6.9h0m.1 78.3h0m.1-75.8h0m0-30.1h0m0 105.1h0m.2 5.3h0m0-1.8h0m.4-2.8h0m0-82h0m0 4.3h0m.1-4.7h0m0 79.7h0m0 3.7h0m0 3.6h0m.1-86.9h0m.2 84h0m.1-91.7h0m.1 93.2h0m.1-4.7h0m.1 10.8h0m.1-11.6h0m.1-82.3h0m.3 88.1h0m0 1h0m0-93.7h0m.1 86.9h0m0-76.3h0m.2 78.1h0m.2-98.5h0m0 19.9h0m0 80.4h0m.1 .4h0m.1 3.2h0m.1-1.3h0m0-87.8h0m.3 85h0m.1-1.7h0m.3-87.1h0m0 91.2h0m.1-88.8h0m0 84.9h0m0-2.4h0m.1-74.2h0m.1-6.4h0m0 83.7h0m0 .6h0m0-75.8h0m0 84.9h0m.1-88.6h0m.1-.5h0m0 1.5h0m.1-4.1h0m.1 5.6h0m.2 85.9h0m0-109.2h0m.3 6.3h0m0 17h0m.3-21.8h0m.2 95.4h0m.3-.1h0m0-80.3h0m.1 89.4h0m0-4.4h0m.1-.4h0m0-131.1h0m.1 49.4h0m.1 1.9h0m0 2h0m.2-2.5h0m.5 84h0m0-109.4h0m.4 25.2h0m0 75.2h0m.1-80.1h0m0-10.8h0m.1 10h0m.2 82.4h0m0-73.5h0m.2 77.8h0m0-93.9h0m.4-15.8h0m.1 26.6h0m.1 4.9h0m.1 73.2h0m0-76h0m.1-36.9h0m0 35.5h0m.1 77.5h0m.1-72.9h0m0 73.3h0m0 1h0m.3 3.8h0m.2-2.2h0m.1-75.1h0m0-3.3h0m0 80.1h0m.1-80.7h0m0 2.2h0m.1-1.5h0m0-21.6h0m.2-4.1h0m.1 107h0m.3-5.9h0m0 6.9h0m0-120.7h0m.1 35.2h0m.1 5.7h0m0-2.1h0m0 75.4h0m.1-80.8h0m0-6.8h0m.1 12.2h0m.3 1h0m.3 72.9h0m.1 3.4h0m.1-1.1h0m.1 3h0m0-79.6h0m.1 3.1h0m0 73.5h0m.1 5.3h0m.1-86.9h0m0 80.1h0m0 3h0m.1-.1h0m.1 2.5h0m.1-86.4h0m.2 81h0m0-88.2h0m.1 100.6h0m0-1h0m.1-11.9h0m0-85.4h0m.1-6h0m.1 104.9h0m0-11.4h0m0 3.1h0m.2-87.7h0m.1 5.9h0m.1 77h0m.1-75.4h0m0 3.5h0m0 74h0m0-.5h0m.2-74.7h0m.1 77.8h0m0-1h0m.1-4.2h0m0-106.6h0m0 29.3h0m.1-5.2h0m0 8h0m.1 78.2h0m.2-78.1h0m0 78.3h0m.1-2.2h0m.1 2.4h0m.1-101.4h0m0 14.1h0m0 88h0m.3-2.3h0m0 0h0m.1-89.3h0m0 90.8h0m.1 13.5h0m0-12.6h0m.1-108.6h0m0 107.2h0m0-1.3h0m.1-73.9h0m0 .7h0m.1 72.8h0m.1-1h0m0-78h0m0 78.5h0m.2 18.8h0m.1-19h0m0 4.5h0m.1-99.7h0m0 19.3h0m.1 2.4h0m.1 86h0m0-9.3h0m.1-.4h0m.1-81.7h0m0 4.7h0m.2-9.9h0m.2 6.4h0m0 86.2h0m0-99.3h0m.1 93.9h0m0 5.3h0m.1-2h0m.1-5.3h0m.1-.2h0m0-74.7h0m.5 78.1h0m.2-88h0m.2-15.4h0m0 105.7h0m.2-89.4h0m0 9.7h0m.2 72.3h0m.1-88.8h0m.2-26.3h0m.1 33.6h0m.1 86.7h0m0-.3h0m.1-116h0m0 30.4h0m0 93.6h0m0-92.1h0m.1 80.4h0m.1 11.6h0m.1-8.7h0m0 7.7h0m.1-88.8h0m.1 3.7h0m0 84.6h0m.3-110.7h0m.2 101.8h0m0 7.7h0m.1-111.3h0m.3 28.3h0m0 .2h0m.1-4.1h0m.1 91.1h0m.1-10h0m0-87.3h0m.1-6h0m.1 100.4h0m0-4.3h0m.1-5.9h0m.1-73.3h0m0-19.9h0m.1 94.5h0m.1 2.3h0m0 9h0m0-128.5h0m.1 38.1h0m0 85.7h0m.1-116.7h0m.2 27.9h0m0-7.8h0m0-3.9h0m0 95.6h0m.3 6.9h0m.1-3.7h0m0-.9h0m.1-1.8h0m0-4.8h0m.2 11h0m0-3.7h0m.1-79.5h0m.1 .2h0m0-16.1h0m.2-7.8h0m0 24h0m.1 86.7h0m0-14.4h0m0-74.4h0m.1 81.4h0m.1-6.8h0m.2 1.1h0m.1-99.8h0m.1 99.2h0m.1 3.9h0m0 2.6h0m.1-91.7h0m0 85.2h0m0 5h0m0-80h0m.1-6h0m.1 .5h0m.1 89.1h0m0-9.3h0m0 .1h0m.2-79.7h0m0 3.6h0m0 93.3h0m.1-9.6h0m0-90h0m0 2h0m.2 3.2h0m.2-13.5h0m.5 98h0m.1-92.7h0m.3 12.2h0m0 77.7h0m0 4.3h0m.2 1.5h0m.1-88.4h0m.2 79.3h0m0-80.2h0m.1 2.3h0m.2-5.8h0m0 85.9h0m0-117.8h0m.1 41.2h0m.1-25.1h0m.2 13.4h0m.1 93.9h0m.1-5h0m.1-3.4h0m.2-87.6h0m.1 89.9h0m.1 .1h0m0 1.1h0m.1 1.8h0m.1-98.4h0m0 17.3h0m.1 2h0m0-7h0m.1 82.4h0m0 9.1h0m.1-7.2h0m.1-105.8h0m0 27.9h0m.1 1h0m.1-11.8h0m.3 8h0m.1 80.3h0m.1-105.6h0m.1 25.3h0m0-8.1h0m.1 86.4h0m.1 1.1h0m0-92.2h0m.1 12.7h0m.1 81.7h0m.1-77.5h0m.1-35.5h0m.1 112h0m.1-93.7h0m.1 99.1h0m0-81.3h0m0 .3h0m0 81.9h0m0 7.3h0m.1-14.2h0m.1 .9h0m.2-99h0m.1 95.8h0m.1 5.7h0m.1-87h0m.1 5.1h0m.2 3.5h0m0 71.7h0m.1-83.3h0m.1-15.3h0m.3 20.8h0m0-.3h0m.1 78.1h0m0-73.2h0m.1-10.3h0m0 83.6h0m0 1.1h0m.1-79.7h0m.1 3.4h0m0 2.7h0m0-2.2h0m.1 74.2h0m.1 1.6h0m0-87.4h0m0-7.6h0m.1 15.1h0m.2 92.6h0m.1-89.4h0m.2 87.3h0m.1-10.6h0m.1-.5h0m0-73.2h0m0 83.4h0m0-83.8h0m.2-1.4h0m.1 79.9h0m0-93.9h0m.3 16.4h0m.1 74.4h0m0-79.3h0m0-1.8h0m.1 91.4h0m0-10.5h0m.1 .1h0m0-75.8h0m.1 77.5h0m.1-79h0m.1 91.8h0m.3-4.9h0m.1-94.3h0m.1 3.1h0m.1 79.1h0m.1-72.6h0m0 75.5h0m0-3.4h0m.1-72.4h0m0 74.1h0m.2 2.3h0m0-108h0m0 30.7h0m.1 78.5h0m.1 .8h0m.1-92.9h0m0 101.3h0m0-113.5h0m.1 100.1h0m0-148h0m.6 148.3h0m0-77.3h0m0 80.7h0m0-76.9h0m.3-13.4h0m.1 87.9h0m.1-76.2h0m0-9.5h0m.1 84.4h0m0 2.4h0m0 7h0m.2 1.7h0m0-8.8h0m0-76h0m.1 72.9h0m0-106.2h0m0 106.8h0m.1-78.4h0m0-29.3h0m0 108.5h0m.1 6.1h0m0-6.4h0m0-1.3h0m0-80h0m.2 80.8h0m0 .4h0m.1 16.6h0m0-90.8h0m0-3.4h0m0 1.9h0m.2-4.3h0m0 82.8h0m.1-75.3h0m.2 72h0m0-71.7h0m.1-6.4h0m0-7h0m.1-8.9h0m.1 21h0m.1 74.2h0m.1-73.2h0m.2 .4h0m.1 76.7h0m0-4.6h0m0 10h0m.1-100.5h0m0 11.5h0m0 1.4h0m.1 4.5h0m0 89.1h0m0-10.3h0m.1-2.2h0m.2-2h0m0-94.5h0m0 107.9h0m.1-14.9h0m.1-.6h0m0-72.9h0m.1 81.1h0m.2-90.1h0m0 84.5h0m0-76.9h0m0 73.8h0m0-74.5h0m.1-7.5h0m0 89.7h0m0-78.6h0m.2-10.5h0m.3 85.4h0m.1 3.2h0m.1-5.6h0m0-75.9h0m.1 81h0m0-6.3h0m0-83.4h0m.2 84h0m.2 3.5h0m.1 17.4h0m0-103h0m0-1.5h0m.1 82.7h0m0 6h0m0 .1h0m.1-1.2h0m.1 4h0m.1 3.2h0m.1-85.6h0m.1 78.7h0m.1 10.5h0m0-112.7h0m0 97.4h0m.1-153.6h0m.1 161.3h0m0-85.6h0m0 5.3h0m.2-9.3h0m0 81.2h0m.1 14h0m.1-9h0m0-2.8h0m0-88.9h0m.1 104.3h0m.1-16.3h0m0-1h0m.3-93.5h0m0 94.7h0m.1-84.3h0m0 91.4h0m.1-94.2h0m.1 93.8h0m0-90.6h0m0 7.8h0m0-.4h0m.1 79.8h0m.1-102.3h0m0 99.5h0m.1-86.1h0m.1 11.2h0m0 77.7h0m.1 3.4h0m.1-88h0m.1 86h0m.1-110.8h0m.2 106.5h0m.1-81.7h0m0-2h0m.3-4.5h0m.2 9.2h0m0-17.6h0m.1 20.9h0m0 76.3h0m0 5.9h0m.1-87.4h0m0 88.4h0m0-83.4h0m.1 82.9h0m0 1h0m0-99h0m.1 94.8h0m0 8.7h0m.1-13.8h0m.2 .4h0m0-88.3h0m0 6.5h0m.4 81.7h0m0-.1h0m0 8.8h0m.1-6.1h0m0-90.6h0m0 90h0m0 1.3h0m.1-2.3h0m.1 7.7h0m0-82.8h0m0 74.3h0m.2-83.5h0m0 11h0m0 74.1h0m.1-2.4h0m.1 5.6h0m.1-82.1h0m.1-58.6h0m0 60.9h0m.1-23.2h0m.1 25.4h0m0-7.7h0m.2-6.8h0m.1 92.2h0m0-80h0m.1-1.2h0m.1-8.3h0m0 86h0m0-79.8h0m.1 79.7h0m0 2.4h0m.1-77.3h0m.1 86.2h0m.1-100h0m0 4.2h0m0 84.3h0m.1-88.9h0m.1 1h0m0-14.6h0m.2 28.4h0m0-.6h0m0 77.1h0m.1 .2h0m0-78.2h0m.1 74.2h0m0-97.5h0m.1 11.9h0m0 88.4h0m0-79h0m0-.5h0m.1-12.4h0m.2 92.7h0m.1 4.8h0m0-7.3h0m0-89.3h0m0 12.1h0m.2 82.9h0m.1-5.6h0m.1 1.1h0m0-80.3h0m.1 79.7h0m0 6.9h0m.1-1.4h0m.1-4.5h0m.1 1.8h0m.1-2.3h0m0 2.4h0m.2-79.2h0m.1-1.7h0m.1 90.7h0m.1-88.1h0m0-6.2h0m.1 2.9h0m0 78.8h0m0 9.4h0m.1-87.4h0m.1 80.2h0m0-1.3h0m0 .3h0m0-76.6h0m0-2h0m.1 3h0m.1-13h0m.2-7.1h0m0 17.3h0m.2 77.1h0m.2-74.7h0m.1-3.6h0m.2 1.2h0m0 82.3h0m.1-80h0m.1 75.4h0m.1-76h0m.1 77.4h0m0-78.7h0m.1-16.8h0m0 15.6h0m0 3.2h0m.2 76.5h0m0-1.6h0m.1 3.3h0m.1-84.4h0m0-60h0m.1 62.1h0m0 83.5h0m.1-89.9h0m.1 86.4h0m0 10.3h0m0-87.7h0m.1 79.9h0m0-80.2h0m.1 81.6h0m.2 3.1h0m0-85.2h0m0-3.5h0m0 80.4h0m.1-81.9h0m0 3h0m.1 78.7h0m.1 4.9h0m0-85.2h0m.1-19.3h0m0 24.9h0m.1-38.6h0m.1 120.7h0m.1-1.8h0m0 .1h0m.2-87.9h0m.1 90.9h0m.1 .1h0m.1-101.8h0m.1 94h0m0-.8h0m.1-.3h0m.1 4.3h0m0-78.5h0m0 73.8h0m.1-75.3h0m0-9.1h0m0 85.6h0m0 10.1h0m.3-11.5h0m0-79.9h0m0-2.7h0m0 7.1h0m.1 80.5h0m0-.2h0m.1 9.7h0m0-87.9h0m0-25.7h0m.1 13.6h0m0-4.3h0m.1 89.9h0m0 3.5h0m0-79.2h0m.1 79.9h0m.2-79.2h0m0-1.8h0m.4 80.8h0m0-92.4h0m.1 9.9h0m.1 78.1h0m.1-74.4h0m.2-5.8h0m0 89.7h0m.1-88.3h0m.1 78.9h0m0-75.5h0m0-3h0m.1 86h0m0-.2h0m.1-6.4h0m.1 9.2h0m0-6.8h0m.1-95.2h0m0 2.4h0m.1 9h0m0-12.4h0m.1 104.7h0m.3 3.2h0m.1-95.1h0m0 88h0m0-7.7h0m.1 8.9h0m0-8.4h0m.2-80.2h0m.3 80.4h0m.1-80.1h0m0 1.6h0m.1 90h0m0 1.9h0m0-9.6h0m0 3h0m.2-83.3h0m0 78.7h0m.1 8.1h0m0-5.8h0m.1-5.3h0m.1-88.1h0m0 96.8h0m0-85.6h0m.1 78.6h0m0-76.9h0m.1 75.1h0m0 5.1h0m.1-4.2h0m.1-82.8h0m0 7.7h0m0 82.6h0m.1-88.2h0m.1 90.5h0m.1-9.6h0m.1-100.7h0m.2 19.2h0m0 6.3h0m0-8.9h0m.1 9.8h0m0 75.3h0m.2-79.3h0m.3 82h0m.2-106.2h0m.3 103.7h0m.1-86.1h0m.1-2.1h0m0 7h0m0-13.9h0m.2-3.6h0m.3 15.5h0m0 81.7h0m0 3.6h0m.1-79.9h0m.2-11.8h0m0 89.3h0m.1-90.6h0m0 12.2h0m.1-43.4h0m0 138.1h0m0-94h0m.2-1.3h0m0 85.6h0m0-90.7h0m0 .3h0m.1 4.7h0m0 81h0m.1-.6h0m0-3.3h0m.2 2.1h0m.1 .1h0m0 6.8h0m.2-85h0m.1 77.2h0m0 11.1h0m.1-85.6h0m.1 86.2h0m0-99.1h0m.1 1.4h0m.1 94.7h0m0-4.5h0m0 5.1h0m.2-93.6h0m0 86.7h0m.1 13.2h0m0-90h0m.1-13.4h0m.1 91.2h0m0-4h0m.1-80.2h0m0 2.7h0m0-18.5h0m0 19.6h0m.1 1.7h0m0-2.1h0m.1-11h0m.1 7.6h0m0 96.1h0m.1-101.6h0m0 9h0m.1-33.3h0m0 115.2h0m.1-2.1h0m0-1.4h0m.2 9.2h0m0-101.8h0m0 6.2h0m0 86.2h0m.5-99.8h0m0 97.8h0m0 4.8h0m0-79.8h0m.4 79h0m.1-88.9h0m0-14.5h0m0 104.8h0m.2-85.2h0m.1 85.9h0m0-1.1h0m.3 3.8h0m.1-86.8h0m0 .5h0m.1 86h0m.1-.8h0m0 1h0m.1-2.9h0m.2-91.5h0m.1 86.2h0m0 1.8h0m0-82.3h0m0 4.9h0m.1-2.2h0m0-19.5h0m.1 106.6h0m.1-84.1h0m.1 84.1h0m0-83.9h0m.1-2.9h0m.2-26.1h0m.1 113.3h0m0-4.5h0m0-93.2h0m.1 3.1h0m.1 87h0m.1-81.3h0m.1 2h0m.1 95.5h0m0-6.5h0m0 4.1h0m0-13.2h0m.2 .7h0m.1-86.2h0m.1-14.2h0m0 100.5h0m.1-.8h0m0-3.7h0m0-84.6h0m0 92h0m.1-109.1h0m.1-8h0m0 27.5h0m.1 91.7h0m0 2.9h0m0-88.7h0m.3 77.9h0m.2 .2h0m0-76.4h0m.2 80.1h0m.1-5.1h0m.1 3.9h0m0-1.5h0m0 3.1h0m.1 5.2h0m.1-10.6h0m.1-77h0m0 77.3h0m0-83h0m.3 .9h0m.1 93.2h0m0-8.4h0m0-85.9h0m0 91.2h0m.2-118.8h0m.1 114.6h0m0-80.8h0m.1-3.3h0m0 82.8h0m0-.6h0m.2-1.4h0m0 2.2h0m.1-79.2h0m0 80.2h0m.1-141.6h0m.1 140.4h0m.1 9.2h0m0-85.7h0m.4 82.9h0m0-8.9h0m0-.2h0m.1 2.7h0m.2-78.1h0m.3-27.1h0m0 109.4h0m0-.1h0m.1-1.9h0m.1-92.3h0m.1 7.9h0m.4-8.7h0m0 7.7h0m.1 6.8h0m.1 72.8h0m0 7.4h0m0 5.8h0m0-8.4h0m0-1.3h0m.1-2.5h0m0 .2h0m.4-79.4h0m0-2.5h0m.3-.9h0m0 87.4h0m.1-.7h0m0-3h0m.1-.8h0m.3 2.6h0m0-76.7h0m.1-13.7h0m0 91h0m.1 2.2h0m0-6.3h0m0 1.1h0m.1 2.7h0m0-81.4h0m.1-3.5h0m.1 90.9h0m.1-9.7h0m0-73.6h0m0-5.5h0m.2-5.5h0m0 9.8h0m.3-1.9h0m0 3h0m0 80.6h0m0-87.9h0m.2 8.8h0m.1 73.8h0m.1-97.7h0m.3 103h0m0-4.2h0m.1-74.9h0m0-.3h0m.5 82.1h0m0-1.3h0m0-2.2h0m.1-3.9h0m.1-78.9h0m.1 76.4h0m.1 3.2h0m.2-74.9h0m.3-.5h0m0 75.1h0m.1-89.1h0m.1 88.2h0m0 .1h0m.3-84.9h0m0 7.9h0m.1 83.9h0m0-84h0m.2 75.2h0m.2-97.9h0m0 110.5h0m.1-96.4h0m.2 8.7h0m.1-12.8h0m.2 8.1h0m.1 92.1h0m.4-12.2h0m0 3.2h0m0-2h0m0 .8h0m0-106h0m.1 26.2h0m.1 3h0m.1-12.1h0m.1-13.3h0m.4 102.2h0m.3-90.4h0m0 87.4h0m.1-72.8h0m0-26.5h0m.1 108.5h0m.1-9.3h0m0 .3h0m.2-93.4h0m0 21.7h0m.1 80h0m0-8.3h0m0-76h0m0 4.8h0m.1 75.5h0m.1-156h0m.3 151.9h0m.1 5.7h0m0-101.8h0m.1 108.7h0m0-92.3h0m.2 80.7h0m.1-96.6h0m.2-20.3h0m0-29h0m.1 145.2h0m.1-71.3h0m0 77.6h0m0-80.1h0m0-.9h0m.1-13.2h0m.1 88.3h0m0-74.6h0m0 82.1h0m.1-103.1h0m.1 94.5h0m0 1.9h0m.1-77.2h0m0 76.4h0m.2-.3h0m.3-80.2h0m.1 .4h0m.2 84.2h0m.1-77.6h0m.2 86.7h0m0-108.4h0m0 95.3h0m.1-77.3h0m.1 75.8h0m0-75.1h0m.1 75.6h0m0 14.1h0m.1-90.9h0m.3 3.7h0m.1-14.1h0m.2 12.7h0m0 74.8h0m0-86.9h0m.4 86h0m0 2.3h0m0-87.3h0m.4 102h0m0-12.9h0m0-86.7h0m.1 84.7h0m.2-72.5h0m0 71.9h0m.1-81.1h0m0 81.5h0m0-79.3h0m.1 23.7h0m0-16.4h0m0 4.7h0m.1-2.9h0m0 70h0m0-20.9h0m0-37h0m0 59.5h0m0-58.3h0m0 38.2h0m0-9.2h0m0 5.2h0m0 20.4h0m.1-37.4h0m0 54.3h0m0-64.7h0m0 32.7h0m0-12.6h0m0-16.8h0m.1-24.1h0m0 61.4h0m0-58.6h0m0 44h0m0 28.4h0m0-79.1h0m0 26.7h0m0 23.3h0m0 25.6h0m.1-5.9h0m0-67.6h0m0 6.9h0m0 37.2h0m0 24.9h0m.1-10h0m0-31.9h0m0-29.5h0m0 30.4h0m.1 8.6h0m0 21.2h0m0-51.5h0m0 57.9h0m0-51.4h0m0 7.4h0m0 59.5h0m0-17.3h0m0-62.3h0m.1 59.7h0m0 11.3h0m0-40.9h0m0-35.7h0m0 39.1h0m.1-15h0m0 52.6h0m0-5.3h0m0-70.2h0m0 33.3h0m0 6.4h0m.1 2.9h0m0-43.4h0m0 8.7h0m0 53.1h0m0-17.1h0m0-8.1h0m0-33.1h0m0 10.2h0m.1 2.4h0m0-.7h0m0 10.9h0m0 20.9h0m0-41.2h0m0-4.4h0m0 27.4h0m0 17.3h0m.1 5.2h0m0 7h0m0-18.8h0m0 26.6h0" fill="none" stroke="#000" stroke-width="2.9" stroke-linecap="round"/></g>
<g id="asas-lc"><path d="M135.4 572h0m.5 35h0m.3-136.3h0m.7 131.3h0m.5-126.3h0m1.2 5h0m2.3 100.3h0m.5 26.6h0m.5-17h0m9.5-98.7h0m0 2.9h0m.3-13h0m29.8 39.6h0m0 6.5h0m29.7-39.5h0m1.7-14.9h0m2.5 12.4h0m0 4h0m0-8.3h0m0 .5h0m1.1-11.9h0m0 5.6h0m.5 25h0m.5-21.1h0m1.4-3.1h0m0 5.6h0m.4-6.4h0m0 39.8h0m0 3.7h0m1.8-8.4h0m.8-50.4h0m.3 14.3h0m.3 6.7h0m.9-5.1h0m.1 2.3h0m2.3 6.5h0m.5 18.8h0m1.3-16.8h0m0-4.4h0m0 .1h0m.1-53.1h0m.8 50.1h0m1-5.3h0m1.3-1.6h0m.6 11.4h0m2-14.5h0m3.3 7.1h0m3-5.7h0m.5 56.6h0m.5-19.1h0m0 8.2h0m.8-77.5h0m1.4 44.7h0m2.9-29h0m1 43.2h0m.1-22.4h0m0 .8h0m.3 8.8h0m.1-6.2h0m2.1 10.4h0m1.3 2.8h0m2.8-7.2h0m.3-.6h0m.9-4.9h0m0 5.2h0m0 1.7h0m.3-11.7h0m2.3-4.5h0m0 2.7h0m.3 12.4h0m.1 1.4h0m.2-20.6h0m0 4h0m.8 34.2h0m0 3h0m1.2-30.6h0m.3-1.8h0m0 .1h0m.1 23.6h0m.2-8.7h0m0 2.5h0m.3-23.9h0m3.7 38.6h0m24.1-24.2h0m0 5.6h0m1.8-68.9h0m4.4 80.8h0m0 6.6h0m6.4-18.3h0m.9 2.9h0m.8-9.2h0m0 4.6h0m.2-1.2h0m.3-28.6h0m0 9.9h0m.2 1.1h0m.3 8.8h0m0 1.8h0m.8 5.7h0m0-9.5h0m0 4.3h0m.2 11.4h0m0 3.1h0m.2-46.7h0m0 5.9h0m.3 21.7h0m.5 13.2h0m.3-23.7h0m0 16.3h0m0 3.6h0m.1 220.9h0m.3-241.5h0m.5 37.8h0m1.3-22.8h0m.3-57.6h0m.1 79.8h0m.2-25.4h0m1.1-54.9h0m.9 50.8h0m1-27.9h0m.7 41.6h0m.2-8.6h0m0 9.3h0m.5-16h0m.1 7.2h0m.6-8.6h0m.1 16.6h0m.1-10.3h0m2.3-7.4h0m.4-38.8h0m.7 25.1h0m.2 31.8h0m0 0h0m0 3.1h0m.2-47.3h0m.5 16.2h0m0-17.7h0m.1 35.7h0m.3 22.5h0m.2-32.8h0m0 .9h0m.3 17.8h0m.3-55.1h0m.4-4.5h0m1.1 44h0m.7 35.2h0m.1-6.5h0m0 5h0m.5-19.2h0m.3-13.6h0m0-46.6h0m.4 65.5h0m0-29.2h0m1.7 35.3h0m.8-57.4h0m1.3 44.4h0m.1-3.2h0m.5 20.8h0m0 .5h0m.2-46.2h0m1.5-12.4h0m.5 48.9h0m1.7-57h0m.1 37.4h0m0 7.1h0m1 3h0m.1 5.7h0m.2 3.9h0m.1-15.4h0m1.6 6.8h0m.1-23.5h0m0 2.6h0m.2 24.9h0m1.7-24.5h0m.9 23.1h0m.7-13.9h0m0 38.5h0m0-30.2h0m.2-10.6h0m.1 19.9h0m0 5h0m.3-56.9h0m.7-9.6h0m.9 5.2h0m.8 27.1h0m.1 18.2h0m.1-1.8h0m.9-46.9h0m.2 42.3h0m1.5 32.1h0m0-44.3h0m.8 18.1h0m0 5.5h0m.5-1.7h0m0 4.4h0m.8-24.6h0m0 2.2h0m.1 21.1h0m0 5h0m1.2-64h0m.5 107h0m0 25.4h0m.9-68.7h0m.1-17.9h0m.3 17.7h0m.4 16.5h0m0 11.3h0m19.8-37.5h0m.4-18.9h0m0 5.4h0m.1 24.2h0m.2-29.6h0m.2-21.1h0m.1-9.8h0m.5 53.1h0m0-2.8h0m.5 13h0m.2-49.9h0m1.1 34.7h0m0 4.5h0m.4-21h0m0 21.3h0m0 6.7h0m.4-48.1h0m.1 36.2h0m.8-2.6h0m.4 12h0m.4-17.3h0m.9 3.4h0m0 2.6h0m1.8 13.6h0m.4-14.8h0m1.3 9.3h0m.8-1.9h0m.7-12.4h0m0 3h0m1.2 13.3h0m.2-4.3h0m1.2-51.9h0m.1 67.2h0m.1-34.6h0m.3 22.5h0m.3-53.8h0m0 34.3h0m.3 4.4h0m.7-4.9h0m.6 24.7h0m0 4.4h0m.2-6.1h0m.4-53.3h0m0 28.6h0m.1 23.6h0m0 4.8h0m.2-11.3h0m1.1-1.5h0m1.1-15.6h0m.7 30.7h0m.7-25.8h0m.1-40.9h0m.6 3.3h0m.1 3.8h0m.4 50.7h0m.8-63h0m.3 50.2h0m0 5.6h0m.8-37.3h0m.5 40.8h0m1.7-10.5h0m.9 10.6h0m0 2.6h0m.1-61h0m.5 50.4h0m.3-.4h0m2.8-.1h0m.3 6.7h0m.1 3.8h0m.9 2.1h0m.8-45.3h0m.9 33.8h0m.3-31.1h0m0 20.4h0m.2 9.1h0m.9 10.3h0m0 5.9h0m.2-52.9h0m.1 36h0m0 5.7h0m.1-51.9h0m0 64.5h0m.1-5.7h0m.2-9.7h0m.8-4.9h0m1.1 2.5h0m.2 22.4h0m1.7-14.7h0m0 4.4h0m.2-39h0m.5 39.5h0m0 6.8h0m.4-1.7h0m0 0h0m.1 14.1h0m.1-27.4h0m0 3.6h0m.2 7.4h0m.9-11.4h0m1.8 1.8h0m.7-16.3h0m.4 24.4h0m0-38.6h0m0 7.2h0m.6 28.2h0m1.1 1.7h0m.6 3.4h0m.4-4.2h0m0-5.7h0m.2 4.1h0m.5 11.2h0m.2-8h0m.1-34h0m0 6.5h0m.9 21.5h0m0 7.4h0m2.5-42.3h0m1 34.9h0m0-41.3h0m.2 57.9h0m.2-12.1h0m1.1-4h0m.5 5.9h0m.5 1.3h0m1.1-64.9h0m.5 66.2h0m.7 219.2h0m27.8-227.4h0m.2 39.2h0m0 33.6h0m.4-130.8h0m.2 82.8h0m.6-33.5h0m.7 3.2h0m.9 6.6h0m.2 9.7h0m.1-9.3h0m0-5.6h0m.1-45.3h0m.2 40.9h0m.3 31.3h0m1.3-59.7h0m0 35.5h0m.1-11.4h0m0 3.7h0m0-.3h0m.3-28.8h0m.1 48.9h0m.2-10.5h0m0 3.8h0m.3-18.6h0m.5 1.6h0m1.3-41.9h0m.2-1.4h0m1 16.5h0m.5 44.2h0m.3-18.3h0m.4-34.7h0m.4 52.5h0m2.2-16h0m.4 8.7h0m.1-.3h0m.4 14h0m1.9-65h0m.1 43.3h0m0 3.8h0m.2 20.1h0m.4-6.1h0m0 1.4h0m.2-66.1h0m.5 67.6h0m1.1-13.8h0m.6 14h0m1.2-24.1h0m0 1.2h0m0 27.4h0m.2-7.5h0m0-64.3h0m.5 12.7h0m.4 53.4h0m.2 9.4h0m0 .9h0m.5-64.3h0m.2-5.1h0m.1 48.8h0m.9-8.6h0m0 21.5h0m.4-7.1h0m.6-6.5h0m.1 11.5h0m.7-7.1h0m.1-48h0m0 61.7h0m0 1.2h0m.9-32.5h0m.3 25.3h0m0 7.7h0m.1-10.8h0m.7-3.9h0m0 2.6h0m1.4 1.1h0m0 6.8h0m.7-19.7h0m.1 10.2h0m.7-14.3h0m0 4.5h0m0-2.8h0m0 2.8h0m.2 15.4h0m.5-35.9h0m.3-17.1h0m.9 37.5h0m.1 8.4h0m0 1.6h0m.4-4h0m.2 6.7h0m0 2.8h0m.6-61.9h0m0 48.6h0m.9 7.4h0m0 19.7h0m.1-18.4h0m0 1.3h0m.8-7h0m.4 3.3h0m1-3.4h0m.2-33.6h0m.5 18.9h0m0 7.1h0m1.5-27.2h0m.2 40h0m0 5h0m.1-15.5h0m.4 15.8h0m0 1.7h0m.9-69.1h0m1.3 41.6h0m0 2.7h0m.3 26.1h0m.1-64.8h0m.1 51.6h0m0 6.4h0m.5-14.2h0m2 8.5h0m.1 2.4h0m.4-39h0m.2 36.8h0m0 .4h0m.5-50.8h0m0 47.5h0m.1-11.2h0m.2 22.8h0m0-4h0m.2 .9h0m.4-60h0m.2 74.9h0m0 .1h0m.2-15.7h0m1-9.5h0m0-43.4h0m.2 59.3h0m1-21.3h0m.4-43h0m.5 15.9h0m.1 38.6h0m0 6.8h0m.5-48.4h0m.3 44h0m1 10.1h0m.1-54.4h0m.3 28.1h0m0 .6h0m0 33.8h0m.1-4.5h0m0-25.4h0m0 5.7h0m.4-5h0m.3 24h0m0-18h0m.3-1.5h0m0 2.3h0m.2-5.6h0m.2 3h0m.2-.2h0m.2 3.6h0m.1-.1h0m.2-43.5h0m.4 28.1h0m.6 25h0m.3-20.2h0m0 5.7h0m.1 15.4h0m.5-14.1h0m0 5.9h0m.1-12h0m.2 5.4h0m.1 4h0m0 2.4h0m.4-13.2h0m0 6h0m.4-6.1h0m0 1h0m1 3.9h0m1-4.1h0m0 4.7h0m.2 2.3h0m.4 10h0m0 5.1h0m.1-1.2h0m.5-17.8h0m.6-9.9h0m24.1 13.3h0m0-8.1h0m0 5.5h0m.2 29.1h0m.1-24.3h0m1-.3h0m1.2-7.8h0m0 1.6h0m.2 16.5h0m0-14.2h0m0 .9h0m.3 .2h0m2 .6h0m0 1.4h0m.3-47.6h0m0 56h0m0 7.4h0m.5-19h0m.1-5h0m0 6.6h0m1.2-45.8h0m.1 48.8h0m.1-31.2h0m.3 25.1h0m.9 16.8h0m.1-63.4h0m.1 47h0m.5 12.3h0m0-.7h0m0-13.3h0m.1 7.9h0m.4 11.7h0m.3-6.8h0m.2-1.5h0m.2-4.7h0m.7-8.9h0m.4-26.5h0m.4 37.1h0m.1-.5h0m.2-8.3h0m0 1.2h0m.3-1.5h0m0 3.3h0m.4 4.7h0m0 3.9h0m0-56.4h0m1.8 50.1h0m1.5 13h0m0 4.3h0m0-12.7h0m0 5.4h0m.5-16.7h0m0 3.4h0m1.3 4.8h0m.1-6.3h0m0 5.3h0m.5 2.4h0m.2 .3h0m1.2-.2h0m0 3.4h0m.2-36h0m.1 28.5h0m1.1 2.3h0m0 1.5h0m.1-.3h0m0 .5h0m0 4.3h0m.9 .8h0m2-52h0m.3 43.3h0m0 4h0m.4 15h0m.1-21.7h0m.2-41h0m0 54.3h0m0 3h0m.2-50.5h0m.6 43.2h0m0 5.9h0m.1-34.4h0m0 4.2h0m1.2 26.7h0m.1-2h0m.2 6.3h0m.3-11.1h0m0 .9h0m.3-31.7h0m0 40.6h0m.1-21.9h0m.8-.9h0m.1-19.6h0m.1 39.7h0m.2 .4h0m.2-6.3h0m0 6.7h0m1.5-5.1h0m.5-23.3h0m.8 19.6h0m.1 .5h0m.3 3h0m0 7.7h0m.1-1.5h0m.3-16h0m0 6.5h0m0-37.6h0m.3 17.4h0m0 6.7h0m0 34.1h0m0-14.9h0m.1-6.1h0m.3-12h0m.1 16.8h0m.4-2.8h0m.5 27.6h0m.5-10.9h0m.1-69.3h0m.3 36.5h0m0-15.7h0m.2 28.1h0m0 9h0m0 .2h0m.4-8.4h0m1.1 10.6h0m0 1.3h0m0-5.2h0m.3 10.1h0m0 5h0m.3-23.5h0m0 7h0m1.1-53.1h0m.2 10.3h0m.2-4.2h0m.4 41.2h0m.1 12.7h0m.2 .3h0m.1-6.6h0m0 1.4h0m.2 14.1h0m.3-18.6h0m1-42.1h0m.5-6.3h0m.1 37h0m0 6.6h0m.1-1.7h0m0 5.6h0m.4 3.9h0m.7-15.6h0m.1 15.1h0m.2-3.5h0m1.1-9h0m0 5.5h0m.1-25.1h0m.1 19.1h0m0 1.2h0m.2 15.8h0m1.4-57.4h0m.1 51.9h0m0 2h0m.1-12.1h0m.3 9.9h0m0 1.5h0m.5-47h0m.6 48.6h0m.9-13.2h0m.8-10h0m.1 25.4h0m.6-45.3h0m.1 47h0m.2 12.5h0m.2-21.6h0m.1-39.4h0m1.1-5h0m.5 40h0m.2 20.2h0m.2-15h0m0-8.4h0m0 6.6h0m.6-3.3h0m0 4.8h0m1.3 3.8h0m0-3h0m0 7.7h0m.2-58.5h0m.2 62.8h0m.1-12.6h0m0-4.9h0m.5 15.2h0m0 2.2h0m.2-15.2h0m0 3.7h0m.1 14.4h0m.1-67.4h0m1 65h0m.9-29.4h0m0 .7h0m.3-23.2h0m.1-.7h0m.1 33h0m0 9.8h0m1.4-2.4h0m0 7.6h0m.2-10.8h0m22.4-16.2h0m.8 17.5h0m.2-7.3h0m0 2.3h0m.2-13.5h0m1.4 12.6h0m.2 5.4h0m.5-14.1h0m1.2 14h0m0 5.1h0m.1-10.3h0m.2-29.5h0m.8 47.2h0m0 6.2h0m.2-20.9h0m.2-17.1h0m0 7.3h0m1.3 1.5h0m.1-25.3h0m.5-17.1h0m.5 35.8h0m.4 16.8h0m2.5 6.7h0m1.2-14.2h0m.6 15.6h0m0 2h0m.2-10.6h0m.8 1.4h0m.5-57.2h0m.1 29.3h0m2.7-8.9h0m1 43.6h0m.9-40.9h0m1.1-8.4h0m.4 46.8h0m.8-5.9h0m.6-53.8h0m.3 45h0m.5-2h0m.4-45.1h0m.2 66.3h0m.1-49.4h0m.1 13h0m.5-25h0m0 58h0m.5-43.1h0m.5 35.1h0m.5-6.8h0m0 4h0m.1-37.7h0m0 37.5h0m0-5.1h0m.1-35h0m.1 18.7h0m1.7 257.9h0m.4-250.6h0m0 2h0m0 18.1h0m.1 5.4h0m0 3.2h0m.6-7.4h0m0 3.8h0m.6-11.3h0m.2-13.1h0m0 7.7h0m.3-46.2h0m.1 15.5h0m0 31.3h0m.1-32h0m.5 2.9h0m.3-6.6h0m.4-1h0m0 45.2h0m.1-.2h0m.7-16.9h0m.4-21.1h0m0-4.7h0m0 9.5h0m0 24.1h0m.5 242.4h0m0-233h0m0 3h0m.1-49.8h0m.3 2h0m.1 50.6h0m0 2.5h0m.1-48.4h0m.4-1.4h0m.4 6h0m1.5-2h0m.5 36.3h0m.1-31.1h0m.1 27.2h0m0 6.2h0m.3-8.4h0m.4-20.4h0m.3-5.4h0m1.1-9.5h0m.4 42.1h0m.3-29.5h0m.2 1.8h0m0-18.3h0m.1 9.2h0m.1-6.3h0m.2 20.5h0m.1-5.1h0m.1-11.3h0m.2-10.8h0m0 11.5h0m.1 32.1h0m.3-28.3h0m.1 6.6h0m.1 31.1h0m0 2.9h0m.3-48.2h0m.3 11.7h0m0-11.4h0m.8 39.8h0m.1-49.6h0m.4 29.6h0m0 7.6h0m.2 4.9h0m.5-21.3h0m0-15.8h0m.1 19.7h0m.3-12.5h0m.3 52.8h0m.1-42.9h0m.4-9.4h0m.1 8.1h0m0 37.3h0m0-38.8h0m.7-3h0m.5-5.5h0m.7 1h0m.2 5.9h0m.1 2h0m.2-3.4h0m.8-6.8h0m.4 41.2h0m.4-34.9h0m0-1.7h0m0 4.8h0m.6 34.7h0m.4 231.5h0m.2-277.5h0m.2 40.4h0m.6-2.9h0m.1-39.3h0m.1 1h0m.3 13.3h0m.2 2.1h0m.5 29.7h0m0 .6h0m.1-29.9h0m.3-13.9h0m.2 39.3h0m0-32.6h0m0 34.4h0m.2-30.3h0m.4 30.6h0m0-49h0m0 20.8h0m.4-6.2h0m.1-4.7h0m.4 7.3h0m.6 34.4h0m0 .9h0m.6-39.4h0m0 1h0m.4-14.9h0m.2 20.7h0m.6-10.6h0m.5 8.2h0m.2-9.7h0m.1 276.2h0m.2-247.7h0m.6-23.8h0m.7 15.4h0m0 24.4h0m.1 3.8h0m0 2h0m.3-39.7h0m.9-6h0m.7 41h0m0 3.2h0" fill="none" stroke="#000" stroke-width="2.9" stroke-linecap="round"/></g>
<g id="asas-folded"><path d="M1587.4 705.4h0m.1-274.2h0m.1-2.7h0m.1 60.8h0m0-53.5h0m.1 39.5h0m2.5-5.8h0m0-52.7h0m.1 54.9h0m0 11.2h0m.2 12.9h0m2.4-13h0m.2-6.2h0m0-34.8h0m.1-6.6h0m0 48.2h0m.2 .4h0m0-15.7h0m5 36h0m0-12.6h0m.3-13h0m.9-58.4h0m.1 27.8h0m.2 38.8h0m0-9.5h0m.1-47.7h0m2.4-3.9h0m.1 52.4h0m.2-44.4h0m0 42.8h0m.6-30.9h0m0-19.7h0m.1 75.6h0m0-71.8h0m.5 46h0m0 4.2h0m0 9.5h0m0-62.5h0m.2 42.8h0m.2 4.2h0m1.5 6.3h0m.1-58.1h0m0-5.2h0m0 83.1h0m.2-32.8h0m.2 16.8h0m4.4-14h0m.1-5.2h0m.8 15.3h0m.3-7.5h0m.1-9.3h0m1.9 53.7h0m0 2.5h0m2.5-38.1h0m.2-2.9h0m.7 .1h0m.1 6.3h0m0 4.2h0m1.2 8.9h0m0-8.4h0m2.6 18.2h0m.1-14.2h0m0-18.4h0m0 22.1h0m.1-64.9h0m.1-12.5h0m.1 56.3h0m2.8-15.9h0m.1-32.6h0m.1 .6h0m0 37.1h0m0-42.6h0m0 38.7h0m.2-2h0m0 12.2h0m.5-17.6h0m.1-24.8h0m.4 30.1h0m1 16.1h0m.1-9.2h0m0-5.7h0m0-23.2h0m.1-16.3h0m.1 48.2h0m.1 7.3h0m0-10.3h0m.3 14.4h0m.1-47.6h0m0 38.4h0m0 25.3h0m0-4.1h0m.1-64.5h0m.9 43.3h0m.3 2.8h0m.5 25.5h0m.2-20.6h0m0-3.6h0m.1 .2h0m.1 8.2h0m.5-12.8h0m.1 48.3h0m.3-80.8h0m2.8 39.6h0m.1-41.4h0m0 37.3h0m.1-30.9h0m0 39.9h0m.2-6.7h0m0-33.1h0m1.4 40.8h0m.2 10.7h0m.9-29.6h0m2 115.8h0m1.2-101.4h0m.4 3.4h0m2-6.8h0m.2 3.5h0m1.3 10.9h0m.1-.3h0m0 16.8h0m.1-16.6h0m4.7-69.1h0m.2 62.5h0m.3-59.6h0m.3 67.1h0m.2-14.5h0m.4 6.2h0m4 1.6h0m0 4.4h0m8.2-24.3h0m0 11.7h0m.2-45.3h0m.1 11.4h0m2.7 35.8h0m0-6.4h0m0-41.4h0m.1 44.1h0m.1-2.5h0m.1-44.6h0m.7 44.9h0m0 4.7h0m.1 2h0m.1-16h0m3.2 19.2h0m0-7.4h0m.1-47h0m.1-7h0m.2 70.4h0m2.7-6.2h0m.1-4.8h0m.3-4.9h0m1.6 1.2h0m.1-40.2h0m.1-1.8h0m.1 8.4h0m0 23.9h0m.3 8.1h0m.1-51h0m0 1.9h0m.1 40.7h0m3.6-29.4h0m0 33.6h0m0-33.7h0m.1-8.2h0m.1 39.7h0m.2 1.7h0m.2 8.5h0m2.8 15.9h0m.2-64.2h0m.2 43.1h0m0 8.2h0m0-1.7h0m6 .4h0m.1-3h0m.1-5.7h0m.2 3.6h0m.7 13.7h0m.2-9.6h0m0-5.1h0m0 16.5h0m.1 2.6h0m.1 4.8h0m.1-30.5h0m0-38.7h0m0 55.4h0m.1-63.7h0m.4 12h0m0 40.4h0m.2 8.6h0m.1-2.7h0m.9-7.8h0m.2-3.7h0m.2 4.7h0m0 7.9h0m2.1 19.7h0m0-29.6h0m2.1 7.4h0m.1-49.8h0m6.6 52.1h0m.2 5.2h0m.3-15.5h0m0-3.6h0m.1 20.9h0m.2 103.5h0m0 17h0m5.8-146.3h0m.1-1.3h0m.1-20.9h0m5.1 8.9h0m.2 45.4h0m.1-4.9h0m.8-9h0m.8-12.3h0m.1-2.4h0m.3 13.9h0m3.1-16.8h0m.2 17.1h0m0-11.7h0m.1 4h0m4.5-36.5h0m.1-7h0m.1 43.2h0m0-43.3h0m.1 52.2h0m4-17.7h0m0 37.8h0m.1-24.7h0m0-32.2h0m1.4 87.8h0m0 25.1h0m6-70.6h0m.1-62.5h0m.2 6.3h0m0 5.3h0m.1 31h0m1.5 14.8h0m0-3.2h0m.1-1.5h0m.1 8.9h0m.1-8.4h0m0-14.1h0m.7 17h0m.4 .3h0m.2 1h0m2.3-18h0m.3 19.1h0m2.1 7h0m0-21.5h0m.3 8.6h0m.1 2.5h0m1.2-7.9h0m1.8 14.8h0m.3-1.4h0m.1-12.6h0m1.6 50.5h0m0 6.5h0m.4-56.8h0m.1 15.8h0m.2-2.8h0m.2-11.3h0m.2 4.3h0m.6-19.3h0m.2 12.8h0m4.2 12.8h0m.1-19.2h0m.8 42.5h0m.1-19.6h0m0-53.4h0m.9 48h0m0-9.7h0m.3-45.6h0m0-4.6h0m.1 58.4h0m2.7-7.6h0m.1-55.8h0m0 60h0m.1-43.4h0m.1 5.1h0m0 2.2h0m.4 46.4h0m.1-17.2h0m0 11.8h0m1.3-20.7h0m0 5h0m1.2 .2h0m.1-34.6h0m0 45.7h0m.2-8.2h0m1.6-9.2h0m.4 18h0m2.1 5.9h0m.1 9.2h0m.1-66.6h0m.1 11.1h0m0 43.2h0m.1-9.6h0m.1-41.2h0m2.8 40.8h0m0-1.6h0m0 14.9h0m.1-54.1h0m2.1 41.3h0m.3 19.7h0m1.3-22.7h0m.1-1.6h0m.8 22.7h0m.2 13.9h0m0-5.1h0m4.8-22.6h0m0-36.6h0m.1 40.4h0m0-39.2h0m.1-5h0m0 46.3h0m.1-.6h0m0-10.7h0m0 12.5h0m.1-6.4h0m5.3-3.7h0m.1 10.4h0m0-13.7h0m.5 236.2h0m2.6-238.8h0m.1 2.1h0m.8 14.1h0m.1-5.9h0m.3-45.9h0m0 55.5h0m.3 5.8h0m0-9.8h0m.6-.9h0m2.3-16h0m0 18.6h0m.2-27.1h0m0-36.6h0m.1 56.4h0m0 2.8h0m.2-10.8h0m.1 6.1h0m.2-29.9h0m0-5.6h0m.2 47.4h0m.2-38.9h0m2.3 29.8h0m.4 13.6h0m0-15.5h0m0-12.1h0m.1 9.5h0m.2-4.4h0m.7 18h0m0-49.1h0m.1 44.8h0m2.1-9.4h0m.1-.1h0m1.7 14.8h0m.1-13h0m.1-58.1h0m0 80.5h0m.1-76.4h0m1.6 61.3h0m.1-.8h0m0-.1h0m.8-14.5h0m.2 5.1h0m.3-38.5h0m.1 47.8h0m.1-64.4h0m4.6 58.9h0m.1 8h0m0-14.2h0m.1 7.4h0m.5-37.9h0m0 44.1h0m.1 16.3h0m0-15.1h0m.1-4.6h0m0 5.7h0m0 18.1h0m0-62.9h0m.1 35.5h0m0-38.5h0m2.7-11.8h0m0 33.7h0m.1 19.6h0m0-15.2h0m.1-18.4h0m.1-.7h0m.5 18.3h0m.1 10.7h0m.9-32.3h0m.1-12.5h0m.2 61.9h0m.1-21.7h0m5-2.1h0m0-3.9h0m10.6 20.9h0m.1-42.6h0m.7 38.2h0m.1-8.4h0m.1 9.3h0m0 91.4h0m0 35.6h0m.5-140.3h0m0 13.5h0m.1-.9h0m.1-20.2h0m.6 16.7h0m0 21.2h0m.1-.7h0m.2-11.2h0m1-57.5h0m0 50.1h0m0 16.5h0m.2-58.3h0m0 30.9h0m1.6-8.5h0m.2 11.3h0m.2-3.7h0m1.1 13.5h0m.3-10h0m1.8-3.6h0m.1 2.4h0m.1-25.2h0m.1-11.3h0m5.4 39.8h0m.2-29.3h0m0-12.6h0m0 51.9h0m0-53.1h0m5.2 49h0m0-4.3h0m.1 15.5h0m.5-14.5h0m0 1.7h0m.2-38.6h0m0 39.9h0m.1-21.3h0m.4 10.9h0m.2 238.1h0m0-224.8h0m.1 2.9h0m2.9-17.9h0m.1 6.2h0m0 23.3h0m.2-73.8h0m.3 45.8h0m.1-.6h0m0 5.5h0m.3 42.3h0m5.5-24.2h0m.1-51.5h0m0-.8h0m0 50.5h0m.1-14.5h0m0 6.8h0m.2-9.2h0m.1-34.8h0m0 1.9h0m0 38.7h0m.1-4h0m1.7 9.7h0m.2 21.7h0m0-23.2h0m0 13.6h0m.2-28.1h0m5.5 3.5h0m.2-2.7h0m.1 11h0m.2-2.7h0m1.8 229.4h0m6 0h0m2.9-211h0m0-6h0m1.2-49.3h0m.1 .4h0m0 23h0m.3 22.4h0m0-11.6h0m0-4.1h0m.1 16.9h0m3.3-11.1h0m0-12h0m.5 11.7h0m.1 9.5h0m.3 2.8h0m.4-26.7h0m0 23.6h0m.1-51.3h0m0-11.8h0m0 51.9h0m.1 .2h0m0-36h0m.1 27.1h0m3.1 34.3h0m.1-51.3h0m0 25.4h0m.1 7.2h0m.2-49.7h0m0 8.9h0m.1 33.3h0m2.4 8.2h0m.1-8.9h0m.2 3.5h0m3.2-40.4h0m.1 30.4h0m0 .5h0m.3 7.7h0m0-3.5h0m1-33.2h0m.1 6.5h0m0 33.5h0m.2-2.6h0m1.2-43h0m0 43.2h0m0 14.1h0m.3-12h0m2-17.3h0m0 15.7h0m0 2.5h0m.2-40.3h0m.1 53.6h0m.1-13h0m.2 17.8h0m2.2-28.3h0m.1-3.9h0m.2 16.6h0m.2-.5h0m.1 15.4h0m.1-14.1h0m0-55h0m.7 58.6h0m.1-10.3h0m.1-43.3h0m.1 6.4h0m.1 54.1h0m.4-57.7h0m.6 39.7h0m.2 25.4h0m.4-30.1h0m1.6 1.7h0m0-7.9h0m.3 32.5h0m.1-11.9h0m.3-7.7h0m0-51.2h0m.2 15.8h0m3 43.4h0m.3 1.9h0m0 10.9h0m1.3-29.1h0m.1-29h0m.1-9.8h0m.1 27.4h0m0 11.3h0m.2 11.2h0m.1-3.5h0m.2 2.9h0m0-6.5h0m.5 24.2h0m.2-5.1h0m2.7-2h0m.2-19.5h0m1-7.4h0m.3 25.2h0m3.1-19.1h0m.1 14h0m0-12.3h0m0-3.7h0m.2 4.2h0m.3-21h0m.1 20.1h0m0 15.8h0m3.2-9.9h0m.4 7.8h0m0-1.5h0m.3-38h0m0-19.6h0m.1 39.1h0m1.9 15.9h0m.3-43.8h0m.1 54h0m.1-1.5h0m1.1-21.2h0m0 23.5h0m.1-55.7h0m.1 48h0m.1-33h0m.4 35.6h0m.1 6h0m.3-15.1h0m.8-12.8h0m.1 14.4h0m.1-40h0m0-6.5h0m.1 43.6h0m0 20.9h0m0-12.7h0m.2 9.8h0m.1-17h0m7.1-1.7h0m.4-44.8h0m0 45.8h0m3.5 9.9h0m0-9.1h0m.3 15.7h0m.1-3h0m.2-9.9h0m0-11.9h0m.1 25.2h0m0-6.5h0m.1-61.9h0m.1 14h0m.1 39.9h0m.2 13.2h0m.2-6.2h0m1-15.6h0m.2-31.1h0m.1-2h0m.4 49.5h0m.1-3.3h0m2.2-43.7h0m0-10.9h0m.2 52.9h0m0 17.9h0m.1-50.6h0m.1 26.7h0m.5 8.5h0m.1 7.3h0m.3-2.5h0m.7-1.3h0m.1-11h0m0 2.7h0m.1 15.5h0m.1-15.5h0m0 8.1h0m3.8-7.3h0m0-14.7h0m.2 10.9h0m.1-19.8h0m.4 74.3h0m1-49.5h0m.5-7.2h0m.1 13.3h0m.1-36.5h0m.2 36.9h0m0-18.7h0m.2-35.8h0m.1-.6h0m.2 18.2h0m.1 38.9h0m0-57.2h0m.1 43.4h0m0 23.5h0m1.8-27.4h0m.1 14.9h0m.4 0h0m.9-32.5h0m.1 19h0m0 11.8h0m.2-14.8h0m.1-7.3h0m0 25.7h0m.1-23.3h0m.8 10.8h0m0 19.5h0m.1-63.7h0m3 26h0m.1 8.3h0m.2 14.5h0m4.3 14.6h0m1.8 15.6h0m0 8.1h0m1.5 85.6h0m0 3h0m2.2-124.7h0m.1-33.5h0m.2 44.7h0m0-46.3h0m2.8 42.1h0m.2 7.9h0m6-5.6h0m0-3.5h0m.1-44.9h0m0-5.8h0m0 48h0m.2-15.7h0m1.9-35.2h0m.2 45.7h0m.1 15.5h0m.1-7.3h0m.1-9.7h0m.2 5h0m.3-.8h0m.2-10.2h0m0 7.2h0m.2-3h0m.1-12.4h0m0 19h0m0-9.6h0m.3 12.8h0m4.6-16.8h0m0-43.9h0m0 14.3h0m.1 24h0m0-32h0m0 49h0m0-9.8h0m.1-31.8h0m0 33.6h0m.2 9.1h0m.1-55.9h0m.1 68.3h0m0-21.7h0m.2 6.8h0m.1-35.6h0m1.3 35.5h0m.3-12.7h0m1.1 10.3h0m0 6.5h0m.2-12.1h0m2.1-27.9h0m.3 29.1h0m.1-25.8h0m0-15.6h0m.1 37.1h0m2.4-18.7h0m0 35.5h0m.2-14.1h0m0-41.1h0m2.1 55.5h0m.3 11.6h0m.9-14.3h0m.3 1.4h0m.2-12.4h0m.1 .7h0m.1-25.3h0m1.7 29.6h0m0-.5h0m0-57.8h0m0 59.5h0m.1-42.7h0m.2 43.5h0m0-40.5h0m.9-19.8h0m.2 27.5h0m0-7.8h0m.1 40.7h0m0 7.6h0m2.2-21.9h0m.1 1.6h0m0 10.8h0m2.5-44.9h0m.2-6.5h0m0 49.3h0m.1-46.2h0m0 53.2h0m.2-16.4h0m.2-41.7h0m0 35.4h0m4.4 .4h0m.4 14.8h0m.3 3.4h0m.1-3.6h0m.1 9.5h0m.7-10.7h0m.1 13.1h0m.2-66h0m.1 11.8h0m.1 54.9h0m0-68.3h0m1.7 56.6h0m.1 12.4h0m0-13h0m1.8-9.1h0m.2 241.7h0m.1-223.3h0m1 1h0m0-2.1h0m.1-2.4h0m.2-13.7h0m.1-33.8h0m.6-.7h0m.1 29.8h0m.1-24.7h0m0 35.2h0m13.1 10.3h0m2.9 6.6h0m.1-13.2h0m.8 14.3h0m0-17.7h0m0 6.1h0m.2-29.6h0m.1-5.3h0m3.7 39.2h0m0 6.2h0m.4-11.9h0m2.7-10.1h0m.1 7.3h0m.7 14.6h0m.3 12h0m4.8-17.5h0m.2-4.2h0m.1-4.1h0m.1 19.1h0m.9-24.6h0m.1 10.4h0m.5 2.1h0m0-43.4h0m0 38.1h0m.1-42.3h0m.1 7.3h0m1.1 22.9h0m.2 1.8h0m.1 9.9h0m.1 10.6h0m.2-10.1h0m1 5.1h0m.1-5.2h0m0 11.4h0m.2-20.7h0m0 24.5h0m0-55.9h0m.1 53h0m0-19.7h0m.5-45.6h0m0 45.4h0m0 10.9h0m.2-60.4h0m.1 56.9h0m1.7 1.8h0m.1 9.9h0m.6-5.9h0m.2-52.5h0m.5 45.6h0m.1 18.9h0m.1-57.9h0m2.3 53.2h0m0-26h0m0 21.6h0m0-.2h0m.5-22h0m.3-3.1h0m0 1.7h0m.9 18.4h0m.1-7.5h0m1.1-39.8h0m.1 10.5h0m0 20.5h0m0-24.7h0m.8 30h0m.2-14.4h0m2.1 25.3h0m2.2-51.3h0m.2 53.6h0m0 3.4h0m.2-4.4h0m0 .5h0m.3 4.9h0m0-14.2h0m.2-7.6h0m.2 19.8h0m0-8.4h0m1.7 1.2h0m0 5.8h0m.2-56.6h0m.2-.3h0m.2 17.8h0m.1 17.3h0m.1 14.8h0m0-38.1h0m.2 40.9h0m2.4-36.4h0m0 6.7h0m.3-5.8h0m0 36.8h0m2.1-5.6h0m.1 .8h0m.9 31.6h0m0 11.6h0m0 33h0m.4-81.7h0m.1 17.2h0m0-15.6h0m.2 1.6h0m1-37.1h0m.1-8.3h0m.1 61.2h0m.1-5.4h0m0-2.2h0m.1-6h0m.2 3.7h0m0 7.9h0m6.2-27.9h0m0 8.7h0m.3 3.8h0m1.6-9.4h0m.3 8.8h0m3.6 9.2h0m.1 16.1h0m1.7-15.4h0m.2-9.5h0m.3-5.8h0m.3-39.4h0m.1 3.9h0m0 49.4h0m0 4.7h0m0-12.7h0m.1-8.5h0m.1-.9h0m.1 8.5h0m.3 19.4h0m7-2h0m0 8h0m.3-74.9h0m0 62.5h0m.1 4.5h0m.1-55.1h0m3.1 50.2h0m.3 11.7h0m.1-22.3h0m2.7-38.4h0m0-12h0m.3 41h0m.4 39.6h0m1.1-14.4h0m.1-44.2h0m.1-2.1h0m4.1 41.9h0m.3-.9h0m.1-1.1h0m0 2h0m0 8.7h0m2.2-17.3h0m.4-2h0m.2 14.8h0m.2-.4h0m0-4.9h0m1.1-15.3h0m0 1.4h0m0 22.7h0m.2-21.7h0m.7 8.6h0m.3-8h0m.1 13.4h0" fill="none" stroke="#000" stroke-width="2.9" stroke-linecap="round"/></g>
<g id="tess-ls"><path d="M1092.07 3.6V322.2" stroke="#0000ff" stroke-opacity="0.5" stroke-width="1.875" fill="none"/><clipPath id="c2"><rect x="834.3" y="3.6" width="604.75" height="318.6"/></clipPath><path clip-path="url(#c2)" d="M834.6 288.2L835.1 306.8L835.6 276.4L836.1 307.1L836.6 278.8L837.1 307.3L837.6 283.6L838.1 306.7L838.6 267.6L839.1 306.8L839.6 268.3L840.1 307.2L840.6 270.3L841.1 307L841.6 268.9L842.1 307.3L842.6 269.7L843.1 307.1L843.6 269.2L844.1 306.7L844.6 271.2L845.1 307.1L845.6 283.2L846.1 307.2L846.6 266.4L847.1 306.8L847.6 272.9L848.1 307.2L848.6 253.5L849.1 307.1L849.6 265.9L850.1 307.3L850.6 253.7L851.1 307.5L851.6 274.2L852.1 307.5L852.6 248.9L853.1 307.2L853.6 251.6L854.1 306.7L854.6 264.4L855.1 307.4L855.6 247.7L856.1 307.3L856.6 250.1L857.1 307.2L857.6 265.7L858.1 307.1L858.6 232.3L859.1 307.2L859.6 257.4L860.1 306.6L860.4 176.4L861.1 307.4L861.6 263.8L862.1 306.7L862.6 270.4L863.1 307.3L863.6 242.5L864.1 306.7L864.6 257.9L865.1 184.8L865.6 246.2L866.1 307.5L866.6 245.3L867.1 307.3L867.6 258.3L868.1 307.3L868.6 225.2L869.1 306.6L869.6 248.9L870.1 307.5L870.5 172.9L871.1 307.4L871.6 202.8L872 98L872.6 202.8L873.1 307.4L873.6 200.9L873.9 94.2L874.6 200.9L875.1 306.8L875.6 227.9L876.1 307L876.6 182.6L877 57.6L877.6 206.8L878.1 306.9L878.6 275.3L879.1 307.5L879.6 271.3L880.1 306.7L880.6 236.6L881.1 307.5L881.6 254.6L882.1 307.3L882.6 247.3L883.1 306.8L883.6 246.2L884.3 184.8L884.6 246.2L885.1 307L885.6 216.7L886.1 307L886.6 244.8L887.1 307L887.6 257.4L888.1 307.4L888.6 238.7L889.1 306.9L889.6 253L890.1 306.9L890.6 255.1L891.1 307.4L891.6 266.6L892.1 307.2L892.6 244L893.1 306.7L893.6 260.1L894.1 307.3L894.6 256.5L895.1 307.1L895.6 232.4L896.1 306.7L896.6 268L897.1 307.2L897.6 255.5L898.1 307.2L898.6 248L899.1 306.9L899.6 274.8L900.1 306.8L900.6 269.1L901.1 307.3L901.6 256.7L902.1 307.1L902.8 182.5L903.1 307.1L903.6 235.5L904.1 306.6L904.6 238.7L905.1 307.3L906 223.9L906.9 306.6L907.8 270.2L908.7 306.7L909.6 241L910.5 307.4L911.4 254.1L912.3 307.2L913 121.2L914.1 307.2L915 289.1L915.9 307.1L916.8 269.9L917.7 307.5L918.6 157.2L919.5 307.2L920.5 295.9L921.3 306.9L922.2 289.3L923 307.2L923.9 285.6L924.7 278.8L925.4 232L926.4 278.8L927.3 290.7L928.1 306.7L929 289.1L929.8 289.4L930.8 259.8L931.5 289.4L932.4 286.6L933.2 306.2L934.1 286L934.9 306.5L935.8 258.9L936.2 228.1L937.5 277.4L938.3 307L939.2 296.1L940 306.3L940.9 289.7L941.7 280.9L942.4 237.4L943.4 280.9L944.3 291.5L945.1 305.9L946 300.5L946.8 306.8L947.7 296.9L948.5 297.6L949 281.4L950.2 297.6L951.1 302.1L951.9 306.4L952.8 302.5L953.6 301.1L954.9 290.6L955.3 301.1L956.2 299.3L957 306.7L957.9 302.8L958.7 300L959.8 287.6L960.4 300L961.3 290.9L962.4 275.2L963 283.1L963.8 306.8L964.7 302.6L965.2 306.1L965.6 304.5L965.9 303L966.3 301.5L966.7 302.5L967.1 303.5L967.5 304.5L968 305.1L968.6 305.6L969.1 306.1L969.6 301.5L970.1 296.8L970.6 292.2L970.9 287.6L971.2 282.9L971.5 278.3L971.9 277.1L972.2 275.9L972.5 274.8L972.8 277.5L973.1 280.2L973.4 282.9L973.7 287.6L974 292.2L974.3 296.8L974.6 297.3L974.9 297.9L975.2 298.4L975.6 300.4L976 302.5L976.3 304.5L976.7 304L977.2 303.5L977.6 303L978.1 304.3L978.6 305.6L979.1 306.9L979.6 305.6L980.1 304.3L980.6 303L981.2 304L981.7 305.1L982.2 306.1L982.6 304.5L982.9 303L983.3 301.5L983.7 302.5L984.1 303.5L984.5 304.5L985 305.1L985.5 305.6L986 306.1L986.5 304L986.9 302L987.3 299.9L987.3 299.9L987.7 300.4L988.1 301.6L988.5 303.3L988.9 304.9L989.3 306.2L989.7 306.6L990.1 306L990.5 304.4L990.9 302.9L991.3 302.3L991.7 302.9L992.1 304.4L992.5 306L992.9 306.6L993.3 305L993.7 301.1L994.1 297.2L994.5 295.6L994.9 296.2L995.3 297.7L995.7 299.7L996.1 301.2L996.4 301.8L997 301.6L997.5 301L998 300.7L998.3 300.9L998.7 301.5L999.1 302.2L999.5 302.7L999.9 302.9L1000.2 302.8L1000.6 302.4L1001 302L1001.4 301.8L1001.8 301.4L1002.1 300.1L1002.5 298.3L1002.9 296.6L1003.3 295.3L1003.7 294.8L1004.1 295.4L1004.5 297.2L1004.9 299.7L1005.3 302.5L1005.7 305L1006.1 306.7L1006.5 307.3L1006.9 307.3L1007.3 307.2L1007.7 307L1008.1 306.9L1008.5 306.8L1008.9 306.7L1009.4 306.5L1009.8 305.8L1010.2 304.8L1010.6 303.7L1011.1 302.7L1011.5 302.1L1011.9 301.8L1012.3 302.2L1012.7 303.3L1013.1 304.7L1013.5 305.8L1013.8 306.2L1014.2 305.7L1014.6 304.4L1015 302.5L1015.3 300.4L1015.7 298.5L1016.1 297.2L1016.5 296.8L1016.9 297.7L1017.3 300.3L1017.8 303.4L1018.2 305.9L1018.6 306.9L1019 306.2L1019.4 304.4L1019.9 301.7L1020.3 298.7L1020.7 296L1021.1 294.1L1021.5 293.5L1021.9 294.2L1022.3 296L1022.7 298.8L1023.1 301.8L1023.5 304.5L1023.9 306.4L1024.3 307.1L1024.7 307L1025.1 306.7L1025.5 306.4L1025.9 306L1026.3 305.7L1026.7 305.6L1027.1 305.8L1027.4 306.2L1027.8 306.7L1028.2 307.1L1028.6 307.2L1029 306.9L1029.4 306.2L1029.8 305L1030.2 303.8L1030.6 302.6L1031 301.8L1031.4 301.6L1031.8 302.1L1032.1 303.5L1032.5 305.3L1032.9 306.7L1033.3 307.2L1033.6 306.2L1034 303.3L1034.4 298.8L1034.8 293.3L1035.2 287.5L1035.6 282L1036 277.5L1036.4 274.6L1036.7 273.6L1037.1 275.3L1037.5 279.9L1037.9 286.7L1038.3 294.2L1038.7 301L1039.1 305.7L1039.5 307.3L1039.9 306.3L1040.4 303.4L1040.8 298.9L1041.2 293.4L1041.6 287.5L1042 282L1042.4 277.5L1042.8 274.6L1043.2 273.6L1043.6 274.6L1044 277.5L1044.4 282L1044.8 287.5L1045.2 293.3L1045.6 298.8L1045.9 303.3L1046.3 306.2L1046.7 307.2L1047.1 306.8L1047.6 305.8L1048 304.4L1048.4 303L1048.9 301.9L1049.3 301.6L1049.7 301.7L1050.1 302.2L1050.4 303L1050.8 303.9L1051.2 304.9L1051.6 305.8L1052 306.6L1052.4 307.1L1052.8 307.2L1053.2 307.2L1053.6 307.2L1054 307.1L1054.3 307L1054.7 306.8L1055.1 306.7L1055.5 306.6L1055.9 306.4L1056.3 306.3L1056.7 306.2L1057.1 306.1L1057.5 306L1057.9 306L1058.3 306.1L1058.8 306.4L1059.2 306.8L1059.6 307.1L1060 307.2L1060.4 306.9L1060.8 305.9L1061.2 304.4L1061.5 302.5L1061.9 300.2L1062.3 297.7L1062.7 295.2L1063 293L1063.4 291L1063.8 289.5L1064.2 288.5L1064.6 288.2L1064.9 288.7L1065.3 290L1065.7 292.1L1066.1 294.8L1066.5 297.7L1066.9 300.6L1067.3 303.3L1067.6 305.4L1068 306.8L1068.4 307.2L1068.8 306.9L1069.2 306.2L1069.6 305L1070 303.5L1070.3 301.9L1070.7 300.4L1071.1 299.2L1071.5 298.4L1071.9 298.2L1072.3 298.4L1072.7 299L1073 300L1073.4 301.3L1073.8 302.7L1074.2 304.1L1074.6 305.4L1075 306.4L1075.4 307L1075.7 307.2L1076.1 307.2L1076.5 307.2L1076.9 307.1L1077.3 307.1L1077.6 307L1078 306.9L1078.4 306.7L1078.8 306.6L1079.1 306.5L1079.5 306.4L1079.9 306.2L1080.3 306.1L1080.7 306L1081 305.9L1081.4 305.8L1081.8 305.8L1082.2 305.8L1082.5 305.8L1082.9 305.8L1083.3 305.8L1083.7 305.9L1084.1 305.9L1084.5 306L1084.8 306.2L1085.2 306.3L1085.6 306.4L1086 306.6L1086.4 306.7L1086.8 306.8L1087.1 306.9L1087.5 307L1087.9 307.1L1088.3 307.2L1088.7 307.2L1089.1 307.2L1089.4 307.2L1089.8 307.1L1090.2 306.9L1090.6 306.7L1091 306.5L1091.4 306.2L1091.7 305.8L1092.1 305.4L1092.5 305L1092.9 304.6L1093.3 304.2L1093.7 303.8L1094.1 303.5L1094.4 303.1L1094.8 302.8L1095.2 302.5L1095.6 302.3L1096 302.2L1096.4 302.1L1096.8 302L1097.2 302.1L1097.5 302.3L1097.9 302.5L1098.3 302.9L1098.7 303.3L1099.1 303.8L1099.5 304.4L1099.9 304.9L1100.3 305.4L1100.7 305.9L1101.1 306.4L1101.5 306.7L1101.9 307L1102.3 307.2L1102.7 307.2L1103 307.2L1103.4 307.2L1103.8 307.2L1104.2 307.2L1104.5 307.2L1104.9 307.2L1105.3 307.1L1105.7 307.1L1106.1 307.1L1106.4 307.1L1106.8 307L1107.2 307L1107.6 307L1107.9 307L1108.3 306.9L1108.7 306.9L1109.1 306.9L1109.5 306.9L1109.8 306.9L1110.2 306.8L1110.6 306.8L1111 306.8L1111.4 306.9L1111.8 306.9L1112.3 307L1112.7 307.1L1113.1 307.2L1113.6 307.2L1114 307.2L1114.4 307.1L1114.8 306.9L1115.2 306.6L1115.6 306.1L1116 305.5L1116.4 304.8L1116.8 304.1L1117.2 303.3L1117.6 302.5L1118 301.8L1118.4 301.1L1118.8 300.5L1119.2 300L1119.6 299.7L1119.9 299.4L1120.3 299.4L1120.7 299.5L1121.1 299.8L1121.5 300.4L1121.9 301.1L1122.3 301.9L1122.7 302.7L1123 303.5L1123.4 304.2L1123.8 304.8L1124.2 305.1L1124.6 305.3L1125 305.1L1125.3 304.7L1125.7 304.1L1126.1 303.2L1126.5 302.2L1126.8 301L1127.2 299.6L1127.6 298.3L1128 296.9L1128.4 295.6L1128.7 294.4L1129.1 293.3L1129.5 292.5L1129.9 291.8L1130.2 291.4L1130.6 291.3L1131 291.6L1131.4 292.3L1131.9 293.5L1132.3 295.1L1132.7 296.9L1133.1 298.8L1133.5 300.8L1133.9 302.6L1134.3 304.1L1134.7 305.3L1135.1 306.1L1135.5 306.4L1135.9 306.2L1136.3 305.6L1136.7 304.7L1137.1 303.5L1137.5 301.9L1137.9 300.2L1138.3 298.2L1138.7 296.1L1139.1 294L1139.5 291.9L1139.9 289.8L1140.3 287.8L1140.7 286.1L1141.1 284.5L1141.5 283.3L1141.9 282.4L1142.3 281.8L1142.7 281.7L1143.1 281.9L1143.5 282.6L1143.9 283.8L1144.2 285.4L1144.6 287.3L1145 289.5L1145.4 291.9L1145.7 294.4L1146.1 296.9L1146.5 299.3L1146.9 301.5L1147.3 303.5L1147.6 305.1L1148 306.2L1148.4 307L1148.8 307.2L1149.2 307.1L1149.6 306.9L1150 306.6L1150.4 306.1L1150.7 305.6L1151.1 305L1151.5 304.4L1151.9 303.8L1152.3 303.2L1152.7 302.7L1153.1 302.4L1153.5 302.2L1153.9 302.1L1154.3 302.2L1154.7 302.4L1155.1 302.7L1155.5 303.2L1155.9 303.7L1156.3 304.3L1156.7 304.9L1157.1 305.5L1157.5 306L1157.9 306.5L1158.3 306.8L1158.7 307L1159.1 307.1L1159.5 307.1L1159.9 306.9L1160.3 306.7L1160.7 306.4L1161 306L1161.4 305.6L1161.8 305.1L1162.2 304.6L1162.6 304.1L1163 303.6L1163.3 303.2L1163.7 302.8L1164.1 302.5L1164.5 302.3L1164.9 302.1L1165.2 302.1L1165.6 302.1L1166 302.3L1166.4 302.5L1166.8 302.8L1167.2 303.2L1167.6 303.6L1168 304.1L1168.4 304.5L1168.8 305L1169.2 305.4L1169.6 305.7L1170 306L1170.4 306.3L1170.8 306.4L1171.2 306.5L1171.6 306.4L1172 306.1L1172.4 305.7L1172.8 305.2L1173.2 304.5L1173.6 303.7L1174 302.9L1174.4 302L1174.7 301.1L1175.1 300.2L1175.5 299.4L1175.9 298.6L1176.3 297.9L1176.7 297.4L1177.1 297L1177.5 296.7L1177.9 296.6L1178.3 296.7L1178.7 297L1179.1 297.5L1179.5 298.2L1179.9 298.9L1180.3 299.8L1180.7 300.8L1181.1 301.8L1181.5 302.8L1181.9 303.8L1182.3 304.7L1182.7 305.5L1183.1 306.1L1183.5 306.6L1183.9 306.9L1184.3 307L1184.7 306.9L1185.1 306.8L1185.5 306.5L1185.8 306.1L1186.2 305.7L1186.6 305.2L1187 304.5L1187.4 303.9L1187.8 303.2L1188.2 302.5L1188.5 301.8L1188.9 301.1L1189.3 300.5L1189.7 299.9L1190.1 299.3L1190.5 298.9L1190.9 298.5L1191.2 298.2L1191.6 298.1L1192 298L1192.4 298.1L1192.8 298.2L1193.2 298.5L1193.6 298.8L1194 299.2L1194.3 299.7L1194.7 300.3L1195.1 300.9L1195.5 301.5L1195.9 302.2L1196.3 302.8L1196.7 303.5L1197.1 304.2L1197.5 304.8L1197.8 305.3L1198.2 305.8L1198.6 306.2L1199 306.6L1199.4 306.8L1199.8 307L1200.2 307L1200.6 307L1200.9 306.9L1201.3 306.7L1201.7 306.4L1202.1 306.1L1202.5 305.7L1202.9 305.3L1203.3 304.8L1203.7 304.2L1204 303.6L1204.4 303L1204.8 302.4L1205.2 301.8L1205.6 301.1L1206 300.5L1206.4 299.8L1206.7 299.2L1207.1 298.7L1207.5 298.1L1207.9 297.6L1208.3 297.2L1208.7 296.8L1209.1 296.5L1209.4 296.2L1209.8 296L1210.2 295.9L1210.6 295.9L1211 295.9L1211.4 296L1211.8 296.1L1212.1 296.3L1212.5 296.5L1212.9 296.8L1213.3 297.1L1213.7 297.5L1214 297.9L1214.4 298.4L1214.8 298.8L1215.2 299.3L1215.6 299.8L1216 300.4L1216.3 300.9L1216.7 301.4L1217.1 302L1217.5 302.5L1217.9 303.1L1218.3 303.6L1218.6 304.1L1219 304.5L1219.4 305L1219.8 305.4L1220.2 305.7L1220.6 306.1L1220.9 306.3L1221.3 306.6L1221.7 306.8L1222.1 306.9L1222.5 307L1222.9 307L1223.2 307L1223.6 307L1224 307L1224.4 307L1224.8 307L1225.1 307L1225.5 306.9L1225.9 306.9L1226.3 306.9L1226.7 306.9L1227.1 306.9L1227.4 306.8L1227.8 306.8L1228.2 306.8L1228.6 306.7L1229 306.7L1229.3 306.7L1229.7 306.6L1230.1 306.6L1230.5 306.5L1230.9 306.5L1231.3 306.5L1231.6 306.4L1232 306.4L1232.4 306.3L1232.8 306.2L1233.2 306.2L1233.5 306.1L1233.9 306.1L1234.3 306L1234.7 306L1235.1 305.9L1235.4 305.9L1235.8 305.8L1236.2 305.7L1236.6 305.7L1237 305.6L1237.4 305.5L1237.7 305.5L1238.1 305.4L1238.5 305.4L1238.9 305.3L1239.3 305.2L1239.6 305.2L1240 305.1L1240.4 305.1L1240.8 305L1241.2 304.9L1241.6 304.9L1241.9 304.8L1242.3 304.8L1242.7 304.7L1243.1 304.7L1243.5 304.6L1243.8 304.5L1244.2 304.5L1244.6 304.4L1245 304.4L1245.4 304.4L1245.8 304.3L1246.1 304.3L1246.5 304.2L1246.9 304.2L1247.3 304.1L1247.7 304.1L1248 304.1L1248.4 304L1248.8 304L1249.2 304L1249.6 304L1250 303.9L1250.3 303.9L1250.7 303.9L1251.1 303.9L1251.5 303.9L1251.9 303.9L1252.2 303.9L1252.6 303.8L1253 303.8L1253.4 303.8L1253.8 303.8L1254.2 303.9L1254.5 303.9L1254.9 303.9L1255.3 304L1255.7 304.1L1256.1 304.1L1256.4 304.2L1256.8 304.3L1257.2 304.4L1257.6 304.5L1258 304.6L1258.3 304.8L1258.7 304.9L1259.1 305L1259.5 305.2L1259.9 305.3L1260.2 305.4L1260.6 305.6L1261 305.7L1261.4 305.8L1261.8 306L1262.1 306.1L1262.5 306.2L1262.9 306.3L1263.3 306.4L1263.7 306.5L1264 306.6L1264.4 306.7L1264.8 306.7L1265.2 306.8L1265.6 306.8L1265.9 306.9L1266.3 306.9L1266.7 306.9L1267.1 306.9L1267.5 306.9L1267.9 306.9L1268.2 306.8L1268.6 306.8L1269 306.7L1269.4 306.7L1269.8 306.6L1270.2 306.6L1270.6 306.5L1270.9 306.4L1271.3 306.3L1271.7 306.3L1272.1 306.2L1272.5 306.1L1272.9 306L1273.3 305.9L1273.6 305.8L1274 305.8L1274.4 305.7L1274.8 305.6L1275.2 305.6L1275.6 305.5L1276 305.5L1276.3 305.4L1276.7 305.4L1277.1 305.4L1277.5 305.4L1277.9 305.4L1278.3 305.4L1278.6 305.4L1279 305.4L1279.4 305.4L1279.8 305.5L1280.2 305.5L1280.6 305.6L1280.9 305.6L1281.3 305.7L1281.7 305.7L1282.1 305.8L1282.5 305.9L1282.9 305.9L1283.2 306L1283.6 306.1L1284 306.2L1284.4 306.3L1284.8 306.3L1285.2 306.4L1285.5 306.5L1285.9 306.6L1286.3 306.6L1286.7 306.7L1287.1 306.8L1287.5 306.8L1287.8 306.9L1288.2 306.9L1288.6 306.9L1289 307L1289.4 307L1289.7 307L1290.1 307L1290.5 307L1290.9 307L1291.3 307L1291.7 306.9L1292 306.9L1292.4 306.8L1292.8 306.8L1293.2 306.7L1293.6 306.6L1293.9 306.5L1294.3 306.5L1294.7 306.4L1295.1 306.3L1295.5 306.2L1295.8 306L1296.2 305.9L1296.6 305.8L1297 305.7L1297.4 305.6L1297.7 305.5L1298.1 305.4L1298.5 305.2L1298.9 305.1L1299.3 305L1299.6 304.9L1300 304.8L1300.4 304.7L1300.8 304.7L1301.2 304.6L1301.5 304.5L1301.9 304.5L1302.3 304.4L1302.7 304.4L1303.1 304.3L1303.4 304.3L1303.8 304.3L1304.2 304.3L1304.6 304.3L1305 304.3L1305.3 304.3L1305.7 304.3L1306.1 304.3L1306.5 304.4L1306.9 304.4L1307.3 304.4L1307.6 304.5L1308 304.5L1308.4 304.6L1308.8 304.6L1309.2 304.7L1309.6 304.7L1309.9 304.8L1310.3 304.9L1310.7 304.9L1311.1 305L1311.5 305.1L1311.9 305.2L1312.3 305.2L1312.6 305.3L1313 305.4L1313.4 305.5L1313.8 305.6L1314.2 305.6L1314.6 305.7L1314.9 305.8L1315.3 305.9L1315.7 306L1316.1 306L1316.5 306.1L1316.9 306.2L1317.2 306.3L1317.6 306.3L1318 306.4L1318.4 306.5L1318.8 306.5L1319.2 306.6L1319.5 306.7L1319.9 306.7L1320.3 306.8L1320.7 306.8L1321.1 306.8L1321.5 306.9L1321.8 306.9L1322.2 306.9L1322.6 307L1323 307L1323.4 307L1323.8 307L1324.1 307L1324.5 307L1324.9 307L1325.3 307L1325.7 307L1326 307L1326.4 307L1326.8 307L1327.2 307L1327.5 307L1327.9 307L1328.3 307L1328.7 307L1329.1 307L1329.4 307L1329.8 306.9L1330.2 306.9L1330.6 306.9L1331 306.9L1331.3 306.9L1331.7 306.9L1332.1 306.9L1332.5 306.9L1332.8 306.9L1333.2 306.9L1333.6 306.8L1334 306.8L1334.4 306.8L1334.7 306.8L1335.1 306.8L1335.5 306.8L1335.9 306.8L1336.2 306.7L1336.6 306.7L1337 306.7L1337.4 306.7L1337.8 306.7L1338.1 306.7L1338.5 306.6L1338.9 306.6L1339.3 306.6L1339.6 306.6L1340 306.6L1340.4 306.6L1340.8 306.5L1341.2 306.5L1341.5 306.5L1341.9 306.5L1342.3 306.5L1342.7 306.5L1343 306.4L1343.4 306.4L1343.8 306.4L1344.2 306.4L1344.6 306.4L1344.9 306.4L1345.3 306.3L1345.7 306.3L1346.1 306.3L1346.4 306.3L1346.8 306.3L1347.2 306.3L1347.6 306.2L1348 306.2L1348.3 306.2L1348.7 306.2L1349.1 306.2L1349.5 306.2L1349.8 306.1L1350.2 306.1L1350.6 306.1L1351 306.1L1351.4 306.1L1351.7 306.1L1352.1 306.1L1352.5 306.1L1352.9 306L1353.3 306L1353.6 306L1354 306L1354.4 306L1354.8 306L1355.1 306L1355.5 306L1355.9 306L1356.3 306L1356.7 306L1357 305.9L1357.4 305.9L1357.8 305.9L1358.2 305.9L1358.5 305.9L1358.9 305.9L1359.3 305.9L1359.7 305.9L1360.1 305.9L1360.4 305.9L1360.8 305.9L1361.2 305.9L1361.6 305.9L1362 305.9L1362.3 305.9L1362.7 305.9L1363.1 305.9L1363.5 305.9L1363.9 305.9L1364.3 305.9L1364.6 306L1365 306L1365.4 306L1365.8 306L1366.2 306L1366.6 306L1366.9 306L1367.3 306L1367.7 306.1L1368.1 306.1L1368.5 306.1L1368.9 306.1L1369.2 306.1L1369.6 306.2L1370 306.2L1370.4 306.2L1370.8 306.2L1371.2 306.2L1371.5 306.3L1371.9 306.3L1372.3 306.3L1372.7 306.3L1373.1 306.3L1373.5 306.4L1373.8 306.4L1374.2 306.4L1374.6 306.4L1375 306.5L1375.4 306.5L1375.8 306.5L1376.1 306.5L1376.5 306.6L1376.9 306.6L1377.3 306.6L1377.7 306.6L1378.1 306.6L1378.5 306.7L1378.8 306.7L1379.2 306.7L1379.6 306.7L1380 306.7L1380.4 306.7L1380.8 306.8L1381.1 306.8L1381.5 306.8L1381.9 306.8L1382.3 306.8L1382.7 306.8L1383.1 306.8L1383.4 306.9L1383.8 306.9L1384.2 306.9L1384.6 306.9L1385 306.9L1385.4 306.9L1385.7 306.9L1386.1 306.9L1386.5 306.9L1386.9 306.9L1387.3 306.9L1387.6 306.9L1388 306.9L1388.4 306.8L1388.8 306.8L1389.2 306.8L1389.5 306.7L1389.9 306.7L1390.3 306.6L1390.7 306.6L1391 306.5L1391.4 306.4L1391.8 306.3L1392.2 306.3L1392.6 306.2L1392.9 306.1L1393.3 306L1393.7 305.9L1394.1 305.8L1394.4 305.6L1394.8 305.5L1395.2 305.4L1395.6 305.3L1396 305.1L1396.3 305L1396.7 304.8L1397.1 304.7L1397.5 304.5L1397.9 304.4L1398.2 304.2L1398.6 304.1L1399 303.9L1399.4 303.7L1399.7 303.6L1400.1 303.4L1400.5 303.2L1400.9 303.1L1401.3 302.9L1401.6 302.7L1402 302.5L1402.4 302.4L1402.8 302.2L1403.1 302L1403.5 301.8L1403.9 301.7L1404.3 301.5L1404.7 301.3L1405 301.1L1405.4 301L1405.8 300.8L1406.2 300.6L1406.5 300.5L1406.9 300.3L1407.3 300.1L1407.7 300L1408.1 299.8L1408.4 299.7L1408.8 299.5L1409.2 299.4L1409.6 299.2L1409.9 299.1L1410.3 299L1410.7 298.8L1411.1 298.7L1411.5 298.6L1411.8 298.5L1412.2 298.4L1412.6 298.3L1413 298.2L1413.3 298.1L1413.7 298L1414.1 297.9L1414.5 297.9L1414.9 297.8L1415.2 297.7L1415.6 297.7L1416 297.6L1416.4 297.6L1416.7 297.5L1417.1 297.5L1417.5 297.5L1417.9 297.5L1418.3 297.5L1418.6 297.5L1419 297.5L1419.4 297.5L1419.8 297.5L1420.2 297.5L1420.5 297.6L1420.9 297.6L1421.3 297.6L1421.7 297.7L1422 297.8L1422.4 297.8L1422.8 297.9L1423.2 298L1423.6 298.1L1423.9 298.2L1424.3 298.3L1424.7 298.4L1425.1 298.5L1425.4 298.6L1425.8 298.7L1426.2 298.8L1426.6 299L1427 299.1L1427.3 299.3L1427.7 299.4L1428.1 299.6L1428.5 299.7L1428.8 299.9L1429.2 300L1429.6 300.2L1430 300.4L1430.4 300.5L1430.7 300.7L1431.1 300.9L1431.5 301.1L1431.9 301.2L1432.2 301.4L1432.6 301.6L1433 301.8L1433.4 302L1433.8 302.1L1434.1 302.3L1434.5 302.5L1434.9 302.7L1435.3 302.9L1435.6 303L1436 303.2L1436.4 303.4L1436.8 303.6L1437.2 303.7L1437.5 303.9L1437.9 304.1L1438.3 304.2L1438.7 304.4L1439 304.5" fill="none" stroke="#000" stroke-width="2.05" stroke-linejoin="round"/><path d="M834.3 261.43H1439.05" stroke="#ff8c00" stroke-width="1.875" stroke-dasharray="1.9 3.087" fill="none"/><path d="M834.3 264.97H1439.05" stroke="#808080" stroke-width="1.875" stroke-dasharray="6.6 3.374" fill="none"/><rect x="1257.9" y="35.7" width="150.5" height="94.4" fill="#fff"/><clipPath id="ci1"><rect x="1257.9" y="35.7" width="150.5" height="94.4"/></clipPath><g clip-path="url(#ci1)"><path d="M1342.78 35.7V130.1" stroke="#0000ff" stroke-opacity="0.5" stroke-width="1.875" fill="none"/><path d="M1259.3 116.9L1259.7 117.6L1260 119.8L1260.3 122.7L1260.6 125.6L1260.9 127.7L1261.3 128.5L1261.6 127.4L1261.9 124.7L1262.2 122L1262.5 120.9L1262.9 122L1263.2 124.7L1263.5 127.4L1263.8 128.5L1264.1 125.7L1264.4 118.9L1264.7 112.1L1265.1 109.3L1265.4 110.4L1265.7 113.1L1266 116.4L1266.3 119.2L1266.6 120.2L1267 119.7L1267.4 118.8L1267.8 118.3L1268.1 118.7L1268.4 119.6L1268.7 120.8L1269 121.7L1269.3 122.1L1269.6 121.8L1269.9 121.1L1270.2 120.5L1270.5 120.2L1270.9 119.4L1271.2 117.1L1271.5 114.1L1271.8 111.1L1272.1 108.8L1272.4 108L1272.7 109.1L1273 112.1L1273.4 116.5L1273.7 121.3L1274 125.6L1274.3 128.6L1274.6 129.7L1275 129.7L1275.3 129.5L1275.6 129.2L1275.9 128.9L1276.2 128.8L1276.6 128.7L1276.9 128.3L1277.2 127.1L1277.6 125.4L1277.9 123.5L1278.3 121.8L1278.6 120.6L1279 120.2L1279.3 120.9L1279.6 122.8L1279.9 125.1L1280.2 127L1280.5 127.7L1280.8 126.9L1281.1 124.7L1281.4 121.4L1281.7 117.8L1282 114.5L1282.3 112.2L1282.6 111.4L1282.9 113.1L1283.3 117.5L1283.6 122.9L1283.9 127.3L1284.3 129L1284.6 127.8L1284.9 124.6L1285.3 119.9L1285.6 114.8L1285.9 110.1L1286.3 106.9L1286.6 105.7L1286.9 106.9L1287.3 110.2L1287.6 114.9L1287.9 120.2L1288.2 124.9L1288.5 128.2L1288.8 129.3L1289.2 129.2L1289.5 128.7L1289.8 128.1L1290.1 127.4L1290.4 127L1290.7 126.8L1291 127.1L1291.3 127.7L1291.6 128.6L1291.9 129.3L1292.2 129.5L1292.5 129L1292.9 127.7L1293.2 125.7L1293.5 123.5L1293.8 121.6L1294.1 120.2L1294.4 119.7L1294.7 120.7L1295 123.1L1295.3 126.1L1295.6 128.6L1295.9 129.5L1296.3 127.8L1296.6 122.7L1296.9 115L1297.2 105.5L1297.5 95.4L1297.8 85.9L1298.1 78.1L1298.4 73L1298.7 71.3L1299 74.2L1299.4 82.3L1299.7 94L1300 107L1300.3 118.7L1300.6 126.8L1300.9 129.7L1301.3 128L1301.6 122.9L1301.9 115.1L1302.3 105.6L1302.6 95.4L1302.9 85.9L1303.2 78.1L1303.6 73.1L1303.9 71.3L1304.2 73L1304.5 78.1L1304.8 85.8L1305.1 95.4L1305.4 105.5L1305.7 115L1306 122.7L1306.4 127.8L1306.7 129.5L1307 128.9L1307.3 127.1L1307.7 124.6L1308 122.2L1308.4 120.4L1308.7 119.7L1309 120L1309.3 120.9L1309.6 122.2L1309.9 123.8L1310.2 125.5L1310.6 127.1L1310.9 128.4L1311.2 129.2L1311.5 129.5L1311.8 129.5L1312.1 129.4L1312.4 129.3L1312.7 129.1L1313.1 128.9L1313.4 128.6L1313.7 128.4L1314 128.1L1314.3 127.9L1314.6 127.7L1314.9 127.6L1315.3 127.5L1315.6 127.5L1315.9 127.7L1316.2 128.2L1316.6 128.8L1316.9 129.3L1317.3 129.5L1317.6 129L1317.9 127.3L1318.2 124.7L1318.5 121.3L1318.8 117.3L1319.1 113.1L1319.4 108.8L1319.7 104.8L1320 101.4L1320.3 98.8L1320.6 97.1L1320.9 96.6L1321.2 97.4L1321.5 99.7L1321.8 103.4L1322.1 108L1322.4 113.1L1322.7 118.2L1323 122.7L1323.3 126.4L1323.6 128.7L1323.9 129.5L1324.2 129.1L1324.6 127.7L1324.9 125.6L1325.2 123.1L1325.5 120.3L1325.8 117.8L1326.1 115.7L1326.4 114.3L1326.7 113.9L1327 114.2L1327.3 115.4L1327.6 117.1L1327.9 119.3L1328.2 121.7L1328.6 124.1L1328.9 126.3L1329.2 128L1329.5 129.2L1329.8 129.5L1330.1 129.5L1330.4 129.5L1330.7 129.4L1331 129.2L1331.3 129.1L1331.6 128.9L1331.9 128.7L1332.2 128.5L1332.5 128.3L1332.8 128L1333.1 127.8L1333.4 127.6L1333.7 127.4L1334 127.3L1334.3 127.2L1334.6 127.1L1334.9 127L1335.2 127L1335.5 127L1335.8 127.1L1336.1 127.2L1336.4 127.3L1336.7 127.5L1337 127.7L1337.3 127.9L1337.6 128.1L1337.9 128.4L1338.2 128.6L1338.5 128.8L1338.9 129L1339.2 129.2L1339.5 129.3L1339.8 129.4L1340.1 129.5L1340.4 129.5L1340.7 129.5L1341 129.3L1341.3 129L1341.6 128.7L1341.9 128.2L1342.2 127.7L1342.5 127.1L1342.8 126.4L1343.1 125.8L1343.4 125L1343.8 124.3L1344.1 123.7L1344.4 123L1344.7 122.4L1345 121.9L1345.3 121.4L1345.6 121.1L1345.9 120.8L1346.2 120.6L1346.5 120.6L1346.8 120.7L1347.1 121L1347.5 121.4L1347.8 122L1348.1 122.8L1348.4 123.7L1348.7 124.6L1349 125.5L1349.3 126.4L1349.6 127.3L1350 128L1350.3 128.7L1350.6 129.1L1350.9 129.4L1351.2 129.5L1351.5 129.5L1351.8 129.5L1352.1 129.5L1352.4 129.5L1352.7 129.5L1353 129.4L1353.3 129.4L1353.6 129.3L1353.9 129.3L1354.2 129.3L1354.5 129.2L1354.8 129.2L1355.1 129.1L1355.4 129.1L1355.7 129L1356 129L1356.3 129L1356.6 128.9L1356.9 128.9L1357.2 128.9L1357.5 128.9L1357.8 128.9L1358.2 128.9L1358.5 129L1358.9 129.1L1359.2 129.3L1359.6 129.4L1359.9 129.5L1360.2 129.5L1360.6 129.4L1360.9 129L1361.2 128.4L1361.5 127.5L1361.8 126.5L1362.1 125.3L1362.5 124.1L1362.8 122.7L1363.1 121.4L1363.4 120.1L1363.7 119L1364 117.9L1364.3 117.1L1364.7 116.5L1365 116.1L1365.3 115.9L1365.6 116.1L1365.9 116.7L1366.2 117.7L1366.5 118.9L1366.8 120.3L1367.1 121.8L1367.4 123.2L1367.7 124.4L1368.1 125.3L1368.4 125.9L1368.7 126.1L1369 125.9L1369.3 125.2L1369.6 124.1L1369.9 122.6L1370.2 120.8L1370.5 118.7L1370.8 116.4L1371.1 114.1L1371.4 111.7L1371.7 109.4L1372 107.3L1372.3 105.5L1372.6 104L1372.9 102.9L1373.2 102.2L1373.5 102L1373.8 102.4L1374.1 103.7L1374.5 105.8L1374.8 108.5L1375.1 111.6L1375.4 115L1375.8 118.4L1376.1 121.5L1376.4 124.2L1376.7 126.3L1377.1 127.6L1377.4 128L1377.7 127.7L1378 126.7L1378.4 125.2L1378.7 123L1379 120.4L1379.3 117.3L1379.6 114L1379.9 110.4L1380.3 106.6L1380.6 102.9L1380.9 99.3L1381.2 96L1381.5 92.9L1381.8 90.3L1382.2 88.1L1382.5 86.5L1382.8 85.6L1383.1 85.3L1383.4 85.7L1383.7 86.9L1384 89L1384.3 91.7L1384.6 95.1L1384.9 98.9L1385.2 103.1L1385.5 107.4L1385.8 111.7L1386.1 115.9L1386.4 119.7L1386.7 123L1387 125.8L1387.3 127.8L1387.6 129.1L1387.9 129.5L1388.2 129.4L1388.6 129L1388.9 128.4L1389.2 127.6L1389.5 126.7L1389.8 125.6L1390.1 124.6L1390.5 123.5L1390.8 122.6L1391.1 121.8L1391.4 121.2L1391.7 120.8L1392 120.7L1392.3 120.8L1392.7 121.2L1393 121.8L1393.3 122.5L1393.6 123.5L1393.9 124.5L1394.3 125.5L1394.6 126.5L1394.9 127.5L1395.2 128.3L1395.5 128.8L1395.9 129.2L1396.2 129.3L1396.5 129.3L1396.8 129L1397.1 128.6L1397.4 128.1L1397.7 127.4L1398 126.7L1398.3 125.8L1398.6 125L1398.9 124.2L1399.2 123.3L1399.5 122.6L1399.8 121.9L1400.1 121.4L1400.4 121L1400.8 120.7L1401.1 120.7L1401.4 120.7L1401.7 121L1402 121.4L1402.3 121.9L1402.6 122.5L1403 123.3L1403.3 124L1403.6 124.8L1403.9 125.6L1404.2 126.3L1404.5 127L1404.9 127.5L1405.2 127.9L1405.5 128.1L1405.8 128.2L1406.1 128.1L1406.4 127.6L1406.7 126.9L1407.1 126L1407.4 124.8L1407.7 123.5L1408 122L1408.3 120.5L1408.6 118.9L1408.9 117.4L1409.2 115.9L1409.6 114.6" fill="none" stroke="#000" stroke-width="2.05" stroke-linejoin="round"/><path d="M1257.9 50.99H1408.4" stroke="#ff8c00" stroke-width="1.875" stroke-dasharray="1.9 3.087" fill="none"/><path d="M1257.9 56.75H1408.4" stroke="#808080" stroke-width="1.875" stroke-dasharray="6.6 3.374" fill="none"/></g></g>
<g id="asas-ls"><path d="M1092.07 401.6V719.8" stroke="#0000ff" stroke-opacity="0.5" stroke-width="1.875" fill="none"/><clipPath id="c5"><rect x="834.3" y="401.6" width="604.75" height="318.2"/></clipPath><path clip-path="url(#c5)" d="M840.5 640.2L840.7 553.6L841 660.2L841.4 705.4L841.7 516.9L842 670.3L842.2 493.4L842.5 670.3L842.7 542.9L843.2 673.5L843.9 473L844.2 673.5L844.7 558.3L845.2 673.2L845.7 571.8L846.2 673.1L846.7 583.4L847.2 673.7L847.7 583.3L848.2 673.7L848.7 570.1L849.2 673.4L849.7 548.1L850.2 672.8L850.7 585.9L851.2 673.4L851.7 584.6L852.2 673.1L852.7 601.1L853.2 673L853.7 603.9L854.2 673.5L854.7 619.4L855.1 565L855.7 619.4L856.2 673.6L856.8 537.8L857.2 673.4L857.7 586.1L858.2 673.5L858.7 587.1L859.2 673.5L859.7 622.5L860.1 571.2L860.7 622.5L861.2 673.5L861.7 613.5L862.2 673.4L862.7 608.9L863.2 673L863.9 476.2L864.2 672.9L864.8 476.7L865.2 673.3L865.7 535.4L866.2 672.7L866.8 514.3L867.2 673.2L867.7 535.4L868.2 673.1L868.7 606.9L869.2 672.8L869.7 607.3L870.2 673L870.7 604.8L871.2 673.5L871.7 582.1L872.2 672.9L872.7 601.1L873.2 673.6L873.7 603.1L874.2 673.4L874.7 587.6L875.2 673.1L875.7 617.6L876.2 673.5L876.7 605.7L877.2 672.8L877.7 612.1L878.2 673.6L878.7 579.5L879.2 672.8L879.7 588.3L880.2 672.7L880.7 605.7L881.2 672.9L881.7 604.1L882.2 673.6L882.7 622.3L883.2 673.4L883.7 629.9L884.2 673.3L884.7 627.9L885.2 672.8L885.7 625.7L886.2 673L886.7 610.9L887.2 673.3L887.7 596.7L888.2 673.6L888.7 596.3L889.2 673.4L889.7 586.9L890.2 673.7L890.7 615.3L891.2 673.5L891.7 610.9L892.2 673.2L892.7 617.2L893 560.7L893.7 617.2L894.2 673.2L894.7 616.7L895.2 672.7L895.7 627.3L896.2 672.9L896.9 598.4L897.2 673.1L897.7 616.2L898.2 673.2L898.7 616.6L899.2 673.3L899.7 618.1L900.2 673L900.7 617.5L901.2 673.1L901.7 637.3L902.2 600.9L902.7 637.3L903.2 672.9L903.7 634.7L904.2 673.1L904.7 632.5L905.2 672.9L905.7 650.6L906.5 672.9L907.3 666.6L908.1 673.7L908.9 648.1L909.7 673.6L910.5 662.5L911.3 673.1L912.1 648.5L912.9 672.9L913.7 661.3L914.5 672.8L915.3 643.3L916.1 673.2L917 567.9L917.7 673.1L918.5 590.3L919.3 673.6L920 549.8L920.9 672.8L921.7 653.6L922.5 672.8L923.3 634L924.1 673.3L924.9 663.3L925.7 673.5L926.2 606.7L927.3 673.4L928.1 656.6L929 600L929.7 636.9L930.5 672.7L931.3 661.2L932.1 672.8L932.9 628.9L933.7 673.4L934.5 655.3L935.3 673.3L936.1 627.5L936.9 673L937.7 652.8L938.7 600L939.3 636.9L940.1 672.9L941.2 506.3L941.7 673.1L942.5 638.6L943.3 673.2L944.1 655.5L944.9 673.4L945.4 602.5L946.5 673.5L947.3 660.4L948.1 673.6L948.9 630.9L949.7 673.1L950.5 658.1L951.3 672.8L952.1 648L952.9 673.1L953.7 644.1L954.5 673.3L955.3 662.9L956.1 673.5L957.1 601.7L957.7 672.9L958.5 646.1L959.3 672.8L960.1 652.9L960.9 673.7L961.7 650.5L962.5 673.4L963.3 641.1L964.1 673.4L964.9 657.7L965.7 673.1L966.5 598L967.3 673.2L968.1 665.3L968.9 673L969.7 646.9L970.5 672.8L971.3 659.5L972.1 672.9L972.9 655.5L973.7 673.2L974.5 652.2L975.3 669.9L976.1 656.7L976.9 671.3L977.7 669.1L978.5 672.4L979.3 669.1L980.1 670.2L980.9 653.7L981.7 668.2L982.5 664L983.3 667.6L984.1 636L985 598.4L985.7 645.1L986.5 662.5L987.7 622.6L988.1 670.6L988.9 661.8L989.7 668.9L990.5 652.2L991.3 673L992.1 650.1L993 625.5L993.7 649.6L994.5 672.2L995.3 664.2L995.3 664.2L995.6 663.2L996 660.4L996.3 656.4L996.6 651.9L996.9 647.9L997.3 645.1L997.6 644.1L997.9 646.8L998.2 654.1L998.6 663.2L998.9 670.5L999.2 673.2L999.6 671.9L999.9 668.3L1000.2 663.9L1000.6 660.4L1000.9 659L1001.2 661.1L1001.5 666.1L1001.8 671.2L1002.1 673.2L1002.4 666.8L1002.8 651.2L1003.1 635.6L1003.4 629.1L1003.7 629.4L1004.1 630L1004.4 630.7L1004.8 631L1005.1 635.3L1005.5 645.9L1005.8 656.5L1006.2 660.8L1006.5 657.3L1006.8 647.6L1007.1 634.5L1007.5 621.3L1007.8 611.6L1008.1 608.1L1008.4 612L1008.7 622.5L1009.1 637L1009.4 651.4L1009.7 662L1010.1 665.9L1010.4 660.7L1010.7 648.2L1011.1 635.7L1011.4 630.5L1011.8 651.2L1012.2 671.9L1012.6 658.2L1012.9 625.3L1013.3 592.4L1013.6 578.8L1013.9 586.5L1014.2 606.5L1014.5 631.3L1014.8 651.3L1015.1 659L1015.4 654.9L1015.8 643.6L1016.1 628.1L1016.4 612.7L1016.8 601.4L1017.1 597.2L1017.4 611.9L1017.8 641.1L1018.1 655.8L1018.5 643.6L1018.9 619.4L1019.3 607.3L1019.6 612.4L1020 624.9L1020.3 637.3L1020.6 642.5L1021 638.5L1021.3 627.6L1021.6 611.7L1022 594.1L1022.3 578.3L1022.6 567.3L1023 563.4L1023.4 579L1023.7 616.7L1024.1 654.4L1024.5 670L1024.8 652.4L1025.1 617.3L1025.5 599.7L1025.8 606.4L1026.2 622.7L1026.5 638.9L1026.8 645.7L1027.2 636.1L1027.5 616.9L1027.8 607.3L1028.2 616.4L1028.6 634.7L1029 643.8L1029.3 642.9L1029.6 640.6L1029.9 638.3L1030.2 637.4L1030.5 631.7L1030.8 616.9L1031.2 598.5L1031.5 583.7L1031.8 578L1032.2 590.1L1032.5 619.4L1032.8 648.7L1033.2 660.8L1033.5 654.5L1033.9 639.1L1034.3 623.7L1034.6 617.3L1035 619.2L1035.3 624.4L1035.6 632.3L1036 641.6L1036.3 650.9L1036.7 658.8L1037 664L1037.3 665.9L1037.7 658.3L1038 638.6L1038.3 614.2L1038.7 594.4L1039 586.9L1039.3 588.5L1039.7 592.7L1040 598L1040.3 602.2L1040.7 603.9L1041 606L1041.3 611.9L1041.6 620.9L1041.9 631.4L1042.2 642L1042.5 650.9L1042.9 656.9L1043.2 659L1043.6 656.5L1044 653.9L1044.4 663.6L1044.8 673.2L1045.2 670.6L1045.5 663.7L1045.9 655.2L1046.2 648.3L1046.6 645.7L1046.9 648.2L1047.2 654.7L1047.6 662.8L1047.9 669.4L1048.2 671.9L1048.5 671.3L1048.8 669.7L1049.2 667L1049.5 663.6L1049.8 659.5L1050.1 655L1050.4 650.4L1050.7 645.9L1051 641.8L1051.3 638.3L1051.6 635.7L1051.9 634.1L1052.2 633.5L1052.6 634L1052.9 635.4L1053.2 637.7L1053.5 640.8L1053.8 644.4L1054.2 648.3L1054.5 652.4L1054.8 656.4L1055.1 660L1055.4 663L1055.8 665.3L1056.1 666.8L1056.4 667.3L1056.7 665.8L1057 661.6L1057.3 655.5L1057.6 648.7L1058 642.6L1058.3 638.4L1058.6 636.9L1058.9 639.2L1059.2 645.4L1059.6 653.9L1059.9 662.4L1060.2 668.7L1060.6 670.9L1060.9 669.2L1061.2 664.5L1061.6 657.5L1061.9 649.9L1062.2 643L1062.6 638.2L1062.9 636.5L1063.2 637L1063.5 638.5L1063.8 640.9L1064.1 644.1L1064.4 647.9L1064.7 652L1065.1 656.3L1065.4 660.4L1065.7 664.2L1066 667.4L1066.3 669.8L1066.6 671.3L1066.9 671.9L1067.2 671.1L1067.5 669L1067.9 665.7L1068.2 661.6L1068.5 657.3L1068.8 653.3L1069.1 650L1069.5 647.8L1069.8 647L1070.1 647.6L1070.4 649.2L1070.7 651.4L1071 653.6L1071.3 655.2L1071.6 655.8L1071.9 655L1072.2 653L1072.6 649.8L1072.9 646.1L1073.2 642.4L1073.5 639.3L1073.8 637.2L1074.2 636.5L1074.5 638.8L1074.8 645.1L1075.1 653.7L1075.5 662.3L1075.8 668.6L1076.1 670.9L1076.4 668.6L1076.7 661.7L1077.1 651.5L1077.4 639.5L1077.7 627.5L1078 617.3L1078.3 610.5L1078.6 608.1L1079 609.6L1079.3 613.9L1079.6 620.5L1080 628.5L1080.3 637.2L1080.6 645.2L1081 651.8L1081.3 656.1L1081.6 657.6L1081.9 656.8L1082.2 654.6L1082.5 651L1082.9 646.3L1083.2 640.8L1083.5 634.9L1083.8 629.1L1084.1 623.6L1084.4 618.9L1084.7 615.3L1085 613L1085.3 612.3L1085.6 613.4L1085.9 616.6L1086.2 621.8L1086.5 628.4L1086.8 635.9L1087.1 643.8L1087.4 651.3L1087.7 657.9L1088.1 663.1L1088.4 666.3L1088.7 667.5L1089 666.6L1089.3 664.1L1089.6 660.1L1089.9 654.8L1090.2 648.3L1090.5 641L1090.8 633.2L1091.1 625.2L1091.4 617.4L1091.7 610.1L1092 603.6L1092.3 598.3L1092.6 594.3L1092.9 591.8L1093.2 591L1093.5 591.6L1093.8 593.4L1094.1 596.4L1094.4 600.5L1094.7 605.4L1095 611.2L1095.4 617.6L1095.7 624.4L1096 631.4L1096.3 638.4L1096.6 645.3L1096.9 651.6L1097.2 657.4L1097.5 662.4L1097.8 666.4L1098.1 669.4L1098.4 671.2L1098.7 671.9L1099 670.9L1099.3 668.2L1099.6 664L1099.9 658.6L1100.2 652.7L1100.5 646.7L1100.8 641.4L1101.1 637.2L1101.4 634.4L1101.8 633.5L1102.1 634L1102.4 635.6L1102.7 638L1103 641L1103.3 644.1L1103.6 647.1L1103.9 649.5L1104.2 651.1L1104.5 651.6L1104.9 651.5L1105.2 651L1105.5 650.3L1105.8 649.3L1106.2 648.2L1106.5 647L1106.8 645.9L1107.1 644.8L1107.4 643.8L1107.8 643.1L1108.1 642.6L1108.4 642.5L1108.7 642.8L1109 643.9L1109.3 645.7L1109.7 648L1110 650.8L1110.3 653.8L1110.6 656.9L1110.9 659.9L1111.2 662.6L1111.5 665L1111.9 666.7L1112.2 667.8L1112.5 668.2L1112.8 667.8L1113.1 666.7L1113.4 665.1L1113.7 663.4L1114 661.8L1114.3 660.8L1114.6 660.4L1114.9 660.7L1115.2 661.5L1115.6 662.7L1115.9 664.3L1116.2 666.1L1116.5 667.9L1116.8 669.5L1117.1 670.8L1117.5 671.6L1117.8 671.9L1118.1 671.7L1118.4 671.3L1118.8 670.8L1119.1 670L1119.5 669.3L1119.8 668.6L1120.1 668L1120.5 667.6L1120.8 667.5L1121.1 667.5L1121.4 667.5L1121.7 667.6L1122 667.8L1122.3 668L1122.6 668.2L1123 668.4L1123.3 668.7L1123.6 669L1123.9 669.3L1124.2 669.7L1124.5 670L1124.8 670.3L1125.1 670.7L1125.4 671L1125.7 671.4L1126 671.7L1126.3 672L1126.7 672.3L1127 672.5L1127.3 672.7L1127.6 672.9L1127.9 673.1L1128.2 673.2L1128.5 673.2L1128.8 673.2L1129.1 673.2L1129.4 673.2L1129.7 673.2L1130.1 673.2L1130.4 673.2L1130.7 673.2L1131 673.2L1131.3 673.2L1131.6 673.2L1131.9 673.2L1132.2 673.2L1132.5 673.2L1132.9 673.2L1133.2 673.2L1133.5 673.2L1133.8 673.2L1134.1 673.2L1134.4 673.2L1134.7 673.2L1135 672.9L1135.3 672.4L1135.7 671.9L1136 671.1L1136.3 670.3L1136.6 669.4L1136.9 668.4L1137.2 667.5L1137.5 666.5L1137.8 665.6L1138.1 664.8L1138.5 664.1L1138.8 663.5L1139.1 663L1139.4 662.8L1139.7 662.7L1140 662.9L1140.3 663.4L1140.6 664.2L1141 665.3L1141.3 666.6L1141.6 668L1141.9 669.3L1142.2 670.6L1142.5 671.7L1142.8 672.5L1143.2 673.1L1143.5 673.2L1143.8 672.9L1144.1 671.9L1144.4 670.3L1144.7 668.1L1145.1 665.5L1145.4 662.5L1145.7 659.2L1146 655.8L1146.3 652.4L1146.6 649.1L1147 646.1L1147.3 643.4L1147.6 641.3L1147.9 639.6L1148.2 638.7L1148.5 638.3L1148.8 638.7L1149.1 639.7L1149.5 641.4L1149.8 643.6L1150.1 646.2L1150.4 649L1150.7 652L1151 654.8L1151.3 657.4L1151.6 659.6L1151.9 661.3L1152.2 662.3L1152.5 662.7L1152.8 662.6L1153.1 662.2L1153.4 661.7L1153.8 661.1L1154.1 660.4L1154.4 659.7L1154.7 659L1155.1 658.5L1155.4 658.2L1155.7 658.1L1156 658.2L1156.4 658.4L1156.7 658.8L1157 659.3L1157.3 659.9L1157.6 660.7L1157.9 661.6L1158.3 662.5L1158.6 663.5L1158.9 664.6L1159.2 665.7L1159.5 666.7L1159.8 667.8L1160.2 668.8L1160.5 669.8L1160.8 670.6L1161.1 671.4L1161.4 672L1161.7 672.6L1162 672.9L1162.4 673.2L1162.7 673.2L1163 673L1163.3 672.1L1163.6 670.8L1163.9 669L1164.2 666.8L1164.6 664.3L1164.9 661.6L1165.2 658.8L1165.5 656L1165.8 653.3L1166.1 650.8L1166.4 648.6L1166.7 646.9L1167 645.5L1167.4 644.7L1167.7 644.4L1168 644.8L1168.3 646L1168.6 647.9L1168.9 650.5L1169.3 653.4L1169.6 656.7L1169.9 660.1L1170.2 663.3L1170.5 666.3L1170.9 668.8L1171.2 670.7L1171.5 671.9L1171.8 672.3L1172.1 672.2L1172.4 672L1172.8 671.7L1173.1 671.3L1173.4 670.8L1173.7 670.4L1174 670L1174.3 669.6L1174.6 669.4L1174.9 669.3L1175.3 669.5L1175.6 669.8L1175.9 670.3L1176.3 670.9L1176.6 671.6L1176.9 672.3L1177.3 672.8L1177.6 673.1L1177.9 673.2L1178.3 673.1L1178.6 672.8L1178.9 672.3L1179.2 671.6L1179.5 670.8L1179.9 669.8L1180.2 668.9L1180.5 667.9L1180.8 667L1181.1 666.2L1181.5 665.5L1181.8 664.9L1182.1 664.6L1182.4 664.5L1182.7 664.6L1183 664.7L1183.4 664.9L1183.7 665.2L1184 665.5L1184.3 665.9L1184.6 666.3L1185 666.7L1185.3 667L1185.6 667.3L1185.9 667.5L1186.2 667.7L1186.6 667.7L1186.9 667.8L1187.2 668.1L1187.5 668.5L1187.9 669.1L1188.2 669.8L1188.5 670.5L1188.8 671.2L1189.1 671.9L1189.5 672.4L1189.8 672.9L1190.1 673.1L1190.4 673.2L1190.7 673.1L1191.1 672.7L1191.4 672.1L1191.7 671.2L1192 670.1L1192.3 669L1192.6 667.7L1193 666.4L1193.3 665.1L1193.6 663.9L1193.9 662.9L1194.2 662L1194.5 661.4L1194.9 661L1195.2 660.8L1195.5 660.9L1195.8 661.3L1196.1 661.8L1196.5 662.5L1196.8 663.3L1197.1 664.2L1197.4 665.1L1197.8 665.9L1198.1 666.6L1198.4 667.1L1198.7 667.5L1199 667.6L1199.4 667.6L1199.7 667.5L1200 667.4L1200.3 667.2L1200.6 667L1200.9 666.8L1201.2 666.6L1201.6 666.4L1201.9 666.3L1202.2 666.1L1202.5 666L1202.8 665.9L1203.1 665.9L1203.4 666L1203.8 666.1L1204.1 666.4L1204.4 666.8L1204.7 667.3L1205 667.7L1205.4 668.2L1205.7 668.6L1206 669L1206.3 669.3L1206.7 669.5L1207 669.6L1207.3 669.5L1207.6 669.2L1207.9 668.8L1208.2 668.3L1208.5 667.7L1208.8 667L1209.1 666.4L1209.4 665.9L1209.7 665.5L1210 665.2L1210.3 665.1L1210.6 665.2L1210.9 665.4L1211.3 665.8L1211.6 666.3L1211.9 666.8L1212.2 667.4L1212.5 667.9L1212.8 668.4L1213.1 668.8L1213.5 669L1213.8 669.1L1214.1 669L1214.4 668.6L1214.7 668.1L1215 667.3L1215.4 666.4L1215.7 665.3L1216 664L1216.3 662.7L1216.6 661.4L1216.9 660.1L1217.2 658.8L1217.6 657.6L1217.9 656.5L1218.2 655.5L1218.5 654.7L1218.8 654.2L1219.1 653.8L1219.5 653.7L1219.8 653.9L1220.1 654.4L1220.4 655.3L1220.7 656.4L1221.1 657.8L1221.4 659.5L1221.7 661.2L1222 663L1222.3 664.8L1222.7 666.6L1223 668.2L1223.3 669.6L1223.6 670.8L1223.9 671.6L1224.3 672.1L1224.6 672.3L1224.9 672.2L1225.2 672L1225.5 671.5L1225.8 670.9L1226.2 670.2L1226.5 669.5L1226.8 668.7L1227.1 668L1227.4 667.3L1227.7 666.7L1228 666.3L1228.4 666L1228.7 665.9L1229 665.9L1229.3 666.1L1229.6 666.4L1229.9 666.7L1230.3 667.2L1230.6 667.7L1230.9 668.3L1231.2 668.9L1231.5 669.6L1231.9 670.2L1232.2 670.8L1232.5 671.4L1232.8 671.9L1233.1 672.4L1233.5 672.7L1233.8 673L1234.1 673.2L1234.4 673.2L1234.7 673.2L1235 673.2L1235.3 673.2L1235.6 673.2L1236 673.2L1236.3 673.2L1236.6 673.1L1236.9 673.1L1237.2 673.1L1237.5 673.1L1237.8 673L1238.1 673L1238.4 673L1238.7 673L1239 672.9L1239.4 672.5L1239.7 672L1240 671.2L1240.3 670.2L1240.6 669L1240.9 667.7L1241.2 666.3L1241.5 664.8L1241.9 663.3L1242.2 661.7L1242.5 660.1L1242.8 658.6L1243.1 657.2L1243.4 655.9L1243.7 654.7L1244.1 653.8L1244.4 653L1244.7 652.4L1245 652L1245.3 651.9L1245.6 652.1L1245.9 652.5L1246.2 653.1L1246.5 654.1L1246.8 655.2L1247.1 656.5L1247.4 658L1247.7 659.6L1248 661.3L1248.3 663L1248.6 664.6L1248.9 666.2L1249.2 667.7L1249.5 669L1249.8 670.2L1250.1 671.1L1250.4 671.8L1250.7 672.2L1251 672.3L1251.4 672.2L1251.7 671.8L1252 671.3L1252.3 670.5L1252.6 669.5L1253 668.4L1253.3 667.1L1253.6 665.9L1253.9 664.5L1254.2 663.3L1254.6 662L1254.9 660.9L1255.2 659.9L1255.5 659.1L1255.9 658.6L1256.2 658.2L1256.5 658.1L1256.8 658.2L1257.1 658.5L1257.4 659L1257.7 659.7L1258 660.5L1258.3 661.5L1258.6 662.6L1258.9 663.8L1259.2 665L1259.6 666.3L1259.9 667.5L1260.2 668.7L1260.5 669.8L1260.8 670.8L1261.1 671.6L1261.4 672.3L1261.7 672.8L1262 673.1L1262.3 673.2L1262.6 673.2L1262.9 673L1263.3 672.6L1263.6 672.2L1263.9 671.6L1264.2 671L1264.5 670.4L1264.9 669.7L1265.2 669L1265.5 668.4L1265.8 667.9L1266.1 667.4L1266.4 667.1L1266.8 666.9L1267.1 666.8L1267.4 666.8L1267.7 667L1268 667.1L1268.3 667.3L1268.6 667.6L1268.9 667.9L1269.2 668.1L1269.5 668.3L1269.9 668.5L1270.2 668.6L1270.5 668.6L1270.8 668.6L1271.1 668.4L1271.4 668.1L1271.7 667.7L1272 667.2L1272.4 666.6L1272.7 665.9L1273 665.2L1273.3 664.4L1273.6 663.6L1273.9 662.8L1274.2 662L1274.5 661.2L1274.9 660.5L1275.2 659.8L1275.5 659.2L1275.8 658.7L1276.1 658.3L1276.4 658L1276.7 657.8L1277.1 657.8L1277.4 657.8L1277.7 658L1278 658.4L1278.3 658.8L1278.6 659.4L1279 660.1L1279.3 660.9L1279.6 661.7L1279.9 662.5L1280.2 663.4L1280.5 664.3L1280.9 665.2L1281.2 666L1281.5 666.8L1281.8 667.4L1282.1 668L1282.4 668.5L1282.8 668.8L1283.1 669L1283.4 669.1L1283.7 669.1L1284 668.9L1284.4 668.7L1284.7 668.5L1285 668.1L1285.3 667.8L1285.6 667.4L1285.9 667L1286.3 666.6L1286.6 666.2L1286.9 665.9L1287.2 665.6L1287.5 665.4L1287.8 665.3L1288.2 665.2L1288.5 665.3L1288.8 665.5L1289.1 665.8L1289.4 666.2L1289.8 666.7L1290.1 667.3L1290.4 668L1290.7 668.7L1291 669.4L1291.4 670L1291.7 670.7L1292 671.3L1292.3 671.8L1292.6 672.2L1293 672.5L1293.3 672.7L1293.6 672.8L1293.9 672.7L1294.2 672.6L1294.5 672.3L1294.8 671.9L1295.2 671.4L1295.5 670.8L1295.8 670.2L1296.1 669.4L1296.4 668.7L1296.7 667.8L1297 667L1297.3 666.2L1297.6 665.3L1297.9 664.5L1298.2 663.7L1298.6 663L1298.9 662.3L1299.2 661.8L1299.5 661.3L1299.8 660.9L1300.1 660.6L1300.4 660.4L1300.7 660.4L1301 660.4L1301.3 660.7L1301.6 661L1302 661.5L1302.3 662.1L1302.6 662.8L1302.9 663.6L1303.2 664.5L1303.5 665.4L1303.8 666.3L1304.1 667.3L1304.4 668.2L1304.7 669.2L1305 670L1305.4 670.8L1305.7 671.5L1306 672.1L1306.3 672.6L1306.6 673L1306.9 673.2L1307.2 673.2L1307.5 673.2L1307.8 673.1L1308.1 672.9L1308.5 672.6L1308.8 672.2L1309.1 671.8L1309.4 671.3L1309.7 670.8L1310 670.2L1310.3 669.6L1310.6 669L1310.9 668.3L1311.2 667.7L1311.5 667.1L1311.8 666.5L1312.2 666L1312.5 665.5L1312.8 665.1L1313.1 664.7L1313.4 664.4L1313.7 664.2L1314 664.1L1314.3 664.1L1314.6 664.1L1314.9 664.2L1315.3 664.5L1315.6 664.8L1315.9 665.2L1316.2 665.7L1316.5 666.2L1316.8 666.8L1317.1 667.4L1317.5 668.1L1317.8 668.7L1318.1 669.4L1318.4 670L1318.7 670.6L1319 671.1L1319.3 671.6L1319.6 672L1320 672.3L1320.3 672.6L1320.6 672.7L1320.9 672.8L1321.2 672.7L1321.5 672.6L1321.8 672.4L1322.1 672.1L1322.4 671.7L1322.8 671.3L1323.1 670.8L1323.4 670.2L1323.7 669.6L1324 669L1324.3 668.4L1324.6 667.8L1324.9 667.2L1325.2 666.6L1325.5 666.1L1325.8 665.6L1326.2 665.1L1326.5 664.7L1326.8 664.4L1327.1 664.2L1327.4 664.1L1327.7 664.1L1328 664.1L1328.3 664.2L1328.6 664.4L1328.9 664.7L1329.3 665L1329.6 665.4L1329.9 665.8L1330.2 666.3L1330.5 666.8L1330.8 667.4L1331.1 667.9L1331.4 668.5L1331.8 669.1L1332.1 669.7L1332.4 670.2L1332.7 670.8L1333 671.3L1333.3 671.7L1333.6 672.1L1333.9 672.4L1334.2 672.7L1334.6 672.9L1334.9 673L1335.2 673L1335.5 673L1335.8 672.9L1336.1 672.9L1336.5 672.7L1336.8 672.6L1337.1 672.4L1337.4 672.3L1337.7 672.1L1338.1 671.9L1338.4 671.7L1338.7 671.5L1339 671.4L1339.3 671.2L1339.7 671.1L1340 671L1340.3 671L1340.6 670.9L1340.9 671L1341.3 671L1341.6 671L1341.9 671.1L1342.2 671.2L1342.5 671.3L1342.9 671.4L1343.2 671.6L1343.5 671.7L1343.8 671.8L1344.1 671.9L1344.5 672L1344.8 672.1L1345.1 672.2L1345.4 672.3L1345.7 672.3L1346.1 672.3L1346.4 672.3L1346.7 672.1L1347 671.8L1347.3 671.4L1347.6 670.8L1347.9 670.2L1348.2 669.5L1348.6 668.6L1348.9 667.7L1349.2 666.7L1349.5 665.7L1349.8 664.5L1350.1 663.3L1350.4 662.1L1350.7 660.8L1351 659.5L1351.4 658.2L1351.7 656.9L1352 655.6L1352.3 654.4L1352.6 653.2L1352.9 652L1353.2 650.8L1353.5 649.8L1353.9 648.7L1354.2 647.8L1354.5 647L1354.8 646.3L1355.1 645.6L1355.4 645.1L1355.7 644.7L1356 644.4L1356.3 644.2L1356.7 644.2L1357 644.2L1357.3 644.4L1357.6 644.8L1357.9 645.3L1358.2 645.9L1358.5 646.6L1358.8 647.5L1359.1 648.5L1359.4 649.5L1359.7 650.7L1360 651.9L1360.3 653.2L1360.6 654.5L1360.9 655.9L1361.2 657.3L1361.5 658.7L1361.8 660.1L1362.1 661.5L1362.4 662.8L1362.7 664.1L1363 665.3L1363.3 666.5L1363.6 667.6L1363.9 668.5L1364.2 669.4L1364.5 670.1L1364.8 670.7L1365.1 671.2L1365.4 671.6L1365.7 671.8L1366 671.9L1366.3 671.8L1366.6 671.7L1366.9 671.4L1367.3 671.1L1367.6 670.6L1367.9 670.1L1368.2 669.5L1368.5 668.7L1368.8 668L1369.1 667.1L1369.4 666.2L1369.7 665.2L1370 664.2L1370.3 663.1L1370.6 662L1370.9 660.9L1371.2 659.7L1371.5 658.5L1371.9 657.4L1372.2 656.2L1372.5 655.1L1372.8 654L1373.1 652.9L1373.4 651.9L1373.7 650.9L1374 650L1374.3 649.1L1374.6 648.3L1374.9 647.6L1375.2 647L1375.5 646.5L1375.8 646L1376.1 645.7L1376.4 645.4L1376.8 645.3L1377.1 645.2L1377.4 645.2L1377.7 645.3L1378 645.5L1378.3 645.7L1378.6 645.9L1378.9 646.2L1379.2 646.5L1379.5 646.9L1379.8 647.4L1380.1 647.9L1380.4 648.4L1380.7 649L1381 649.6L1381.3 650.3L1381.6 651L1381.9 651.7L1382.3 652.5L1382.6 653.3L1382.9 654.1L1383.2 654.9L1383.5 655.7L1383.8 656.6L1384.1 657.5L1384.4 658.3L1384.7 659.2L1385 660.1L1385.3 661L1385.6 661.9L1385.9 662.7L1386.2 663.6L1386.5 664.4L1386.8 665.2L1387.1 666L1387.4 666.7L1387.8 667.5L1388.1 668.2L1388.4 668.8L1388.7 669.4L1389 670L1389.3 670.6L1389.6 671.1L1389.9 671.5L1390.2 671.9L1390.5 672.3L1390.8 672.6L1391.1 672.8L1391.4 673L1391.7 673.1L1392 673.2L1392.3 673.2L1392.6 673.2L1392.9 673.2L1393.3 673.1L1393.6 673L1393.9 672.8L1394.2 672.6L1394.5 672.4L1394.8 672.2L1395.1 671.9L1395.4 671.6L1395.7 671.3L1396 671L1396.3 670.6L1396.6 670.3L1396.9 669.9L1397.2 669.6L1397.6 669.2L1397.9 668.8L1398.2 668.5L1398.5 668.2L1398.8 667.8L1399.1 667.5L1399.4 667.2L1399.7 667L1400 666.7L1400.3 666.5L1400.6 666.3L1400.9 666.2L1401.2 666L1401.5 666L1401.9 665.9L1402.2 665.9L1402.5 665.9L1402.8 665.9L1403.1 666L1403.4 666.1L1403.7 666.2L1404 666.4L1404.3 666.5L1404.6 666.7L1404.9 666.9L1405.2 667.1L1405.5 667.4L1405.8 667.6L1406.1 667.8L1406.4 668.1L1406.7 668.3L1407 668.6L1407.3 668.8L1407.7 669.1L1408 669.3L1408.3 669.5L1408.6 669.7L1408.9 669.8L1409.2 670L1409.5 670.1L1409.8 670.2L1410.1 670.2L1410.4 670.3L1410.7 670.3L1411 670.3L1411.3 670.2L1411.6 670.2L1411.9 670.1L1412.2 670L1412.5 669.9L1412.8 669.7L1413.1 669.5L1413.4 669.4L1413.8 669.2L1414.1 668.9L1414.4 668.7L1414.7 668.5L1415 668.2L1415.3 668L1415.6 667.7L1415.9 667.5L1416.2 667.3L1416.5 667L1416.8 666.8L1417.1 666.6L1417.4 666.4L1417.7 666.2L1418 666L1418.3 665.9L1418.6 665.7L1418.9 665.6L1419.2 665.5L1419.5 665.5L1419.8 665.4L1420.2 665.4L1420.5 665.4L1420.8 665.5L1421.1 665.6L1421.4 665.7L1421.7 665.9L1422 666.1L1422.3 666.4L1422.6 666.6L1422.9 666.9L1423.2 667.3L1423.6 667.6L1423.9 668L1424.2 668.4L1424.5 668.7L1424.8 669.1L1425.1 669.5L1425.4 669.9L1425.7 670.3L1426 670.7L1426.3 671.1L1426.7 671.4L1427 671.7L1427.3 672L1427.6 672.3L1427.9 672.5L1428.2 672.7L1428.5 672.9L1428.8 673.1L1429.1 673.2L1429.4 673.2L1429.8 673.2L1430.1 673.2L1430.4 673.2L1430.7 673.1L1431 673L1431.3 672.8L1431.6 672.7L1431.9 672.5L1432.2 672.2L1432.5 672L1432.8 671.7L1433.1 671.4L1433.4 671L1433.7 670.7L1434.1 670.3L1434.4 669.9L1434.7 669.5L1435 669.1L1435.3 668.6L1435.6 668.2L1435.9 667.7L1436.2 667.3L1436.5 666.8L1436.8 666.3L1437.1 665.9L1437.4 665.4L1437.7 665L1438.1 664.5L1438.4 664.1L1438.7 663.7L1439 663.2L1439.3 662.9" fill="none" stroke="#000" stroke-width="2.05" stroke-linejoin="round"/><path d="M834.3 571.69H1439.05" stroke="#ff8c00" stroke-width="1.875" stroke-dasharray="1.9 3.087" fill="none"/><path d="M834.3 583.09H1439.05" stroke="#808080" stroke-width="1.875" stroke-dasharray="6.6 3.374" fill="none"/><rect x="1257.9" y="433.4" width="150.5" height="95.4" fill="#fff"/><clipPath id="ci2"><rect x="1257.9" y="433.4" width="150.5" height="95.4"/></clipPath><g clip-path="url(#ci2)"><path d="M1342.78 433.4V528.8" stroke="#0000ff" stroke-opacity="0.5" stroke-width="1.875" fill="none"/><path d="M1256.2 524.6L1256.8 502.7L1257.5 476.7L1258.1 509L1258.7 521L1259.7 493.4L1260 526.6L1260.6 520.5L1261.3 525.5L1261.9 513.9L1262.5 528.3L1263.2 512.4L1263.9 495.4L1264.4 512.1L1265.1 527.7L1265.7 522.2L1265.7 522.2L1266 521.5L1266.2 519.6L1266.5 516.8L1266.8 513.7L1267 510.9L1267.3 509L1267.5 508.3L1267.8 510.2L1268.1 515.3L1268.3 521.5L1268.6 526.6L1268.9 528.5L1269.1 527.5L1269.4 525.1L1269.7 522L1269.9 519.6L1270.2 518.6L1270.4 520.1L1270.7 523.6L1270.9 527L1271.1 528.5L1271.4 524L1271.7 513.2L1271.9 502.4L1272.2 498L1272.4 498.1L1272.7 498.6L1273 499L1273.3 499.2L1273.5 502.3L1273.8 509.6L1274.1 516.9L1274.4 519.9L1274.6 517.5L1274.9 510.8L1275.1 501.6L1275.4 492.5L1275.6 485.8L1275.9 483.4L1276.2 486.1L1276.4 493.4L1276.7 503.4L1276.9 513.4L1277.2 520.7L1277.5 523.4L1277.7 519.8L1278 511.2L1278.3 502.5L1278.5 498.9L1278.9 513.2L1279.2 527.5L1279.5 518.1L1279.8 495.3L1280 472.6L1280.3 463.1L1280.5 468.4L1280.8 482.3L1281 499.5L1281.3 513.3L1281.5 518.6L1281.8 515.8L1282 507.9L1282.3 497.3L1282.5 486.6L1282.8 478.7L1283.1 475.9L1283.3 486L1283.6 506.3L1283.9 516.4L1284.2 508L1284.5 491.2L1284.8 482.8L1285.1 486.4L1285.4 495L1285.6 503.6L1285.9 507.2L1286.2 504.5L1286.4 496.9L1286.7 485.9L1287 473.7L1287.2 462.8L1287.5 455.2L1287.8 452.5L1288.1 463.3L1288.4 489.4L1288.7 515.5L1289 526.3L1289.2 514.1L1289.5 489.8L1289.7 477.6L1290 482.3L1290.3 493.5L1290.6 504.7L1290.8 509.4L1291.1 502.8L1291.4 489.5L1291.6 482.8L1291.9 489.1L1292.2 501.8L1292.5 508.1L1292.8 507.5L1293 505.9L1293.2 504.3L1293.5 503.7L1293.7 499.8L1294 489.5L1294.3 476.8L1294.5 466.5L1294.8 462.6L1295.1 471L1295.3 491.2L1295.6 511.5L1295.9 519.9L1296.2 515.5L1296.5 504.8L1296.7 494.2L1297 489.8L1297.3 491.1L1297.6 494.7L1297.8 500.2L1298.1 506.6L1298.4 513L1298.7 518.5L1298.9 522.1L1299.2 523.4L1299.5 518.2L1299.7 504.5L1300 487.6L1300.3 473.9L1300.5 468.7L1300.8 469.8L1301.1 472.8L1301.3 476.4L1301.6 479.3L1301.8 480.5L1302.1 481.9L1302.3 486.1L1302.6 492.2L1302.8 499.5L1303.1 506.8L1303.3 513L1303.6 517.2L1303.8 518.6L1304.2 516.9L1304.5 515.1L1304.8 521.8L1305.2 528.5L1305.4 526.7L1305.7 521.9L1306 516L1306.3 511.2L1306.5 509.4L1306.8 511.1L1307.1 515.7L1307.3 521.3L1307.6 525.8L1307.9 527.5L1308.1 527.1L1308.4 526L1308.6 524.2L1308.8 521.8L1309.1 519L1309.3 515.9L1309.6 512.7L1309.8 509.5L1310.1 506.7L1310.3 504.3L1310.6 502.5L1310.8 501.4L1311.1 501L1311.3 501.3L1311.6 502.3L1311.8 503.9L1312.1 506L1312.3 508.5L1312.6 511.3L1312.8 514.1L1313.1 516.8L1313.3 519.3L1313.6 521.4L1313.9 523L1314.1 524L1314.4 524.3L1314.6 523.3L1314.9 520.4L1315.1 516.2L1315.4 511.5L1315.6 507.3L1315.9 504.4L1316.1 503.4L1316.4 504.9L1316.6 509.2L1316.9 515.1L1317.2 521L1317.4 525.3L1317.7 526.9L1317.9 525.7L1318.2 522.4L1318.5 517.6L1318.7 512.3L1319 507.5L1319.3 504.2L1319.5 503L1319.8 503.4L1320 504.4L1320.3 506.1L1320.5 508.3L1320.8 510.9L1321 513.8L1321.3 516.8L1321.5 519.6L1321.8 522.2L1322 524.4L1322.2 526.1L1322.5 527.2L1322.7 527.5L1323 527L1323.2 525.5L1323.5 523.2L1323.8 520.4L1324 517.5L1324.3 514.6L1324.5 512.4L1324.8 510.9L1325 510.4L1325.3 510.8L1325.5 511.9L1325.7 513.4L1326 514.9L1326.2 516L1326.5 516.4L1326.7 515.9L1327 514.4L1327.2 512.3L1327.5 509.7L1327.7 507.2L1328 505L1328.3 503.6L1328.5 503L1328.8 504.6L1329 509L1329.3 515L1329.6 520.9L1329.8 525.3L1330.1 526.9L1330.3 525.2L1330.6 520.5L1330.8 513.5L1331.1 505.1L1331.3 496.8L1331.6 489.8L1331.8 485L1332.1 483.4L1332.3 484.4L1332.6 487.4L1332.9 492L1333.1 497.6L1333.4 503.5L1333.7 509.1L1333.9 513.7L1334.2 516.6L1334.5 517.7L1334.7 517.1L1335 515.6L1335.2 513.1L1335.4 509.8L1335.7 506L1335.9 502L1336.2 497.9L1336.4 494.1L1336.6 490.9L1336.9 488.4L1337.1 486.8L1337.4 486.3L1337.6 487.1L1337.9 489.3L1338.1 492.9L1338.3 497.4L1338.6 502.7L1338.8 508.1L1339.1 513.3L1339.3 517.9L1339.6 521.4L1339.8 523.7L1340.1 524.5L1340.3 523.9L1340.6 522.2L1340.8 519.4L1341 515.7L1341.3 511.2L1341.5 506.2L1341.8 500.8L1342 495.3L1342.2 489.8L1342.5 484.8L1342.7 480.3L1343 476.6L1343.2 473.8L1343.4 472.1L1343.7 471.6L1343.9 472L1344.2 473.2L1344.4 475.3L1344.7 478.1L1344.9 481.6L1345.1 485.6L1345.4 490L1345.6 494.7L1345.9 499.5L1346.1 504.4L1346.4 509.1L1346.6 513.5L1346.9 517.5L1347.1 521L1347.3 523.8L1347.6 525.8L1347.8 527.1L1348.1 527.5L1348.3 526.9L1348.6 525L1348.8 522.1L1349 518.4L1349.3 514.3L1349.5 510.1L1349.8 506.4L1350 503.5L1350.2 501.6L1350.5 501L1350.7 501.4L1351 502.4L1351.2 504.1L1351.5 506.2L1351.7 508.3L1352 510.4L1352.2 512.1L1352.5 513.2L1352.7 513.5L1353 513.4L1353.2 513.1L1353.5 512.6L1353.7 511.9L1354 511.2L1354.3 510.4L1354.5 509.5L1354.8 508.8L1355 508.1L1355.3 507.6L1355.5 507.3L1355.8 507.2L1356 507.4L1356.3 508.2L1356.5 509.4L1356.8 511L1357 512.9L1357.3 515L1357.5 517.2L1357.8 519.2L1358 521.1L1358.3 522.7L1358.5 524L1358.8 524.7L1359 525L1359.3 524.7L1359.5 524L1359.8 522.9L1360 521.7L1360.2 520.6L1360.5 519.8L1360.7 519.6L1361 519.8L1361.2 520.3L1361.5 521.2L1361.7 522.3L1362 523.6L1362.2 524.8L1362.5 525.9L1362.7 526.8L1363 527.3L1363.2 527.5L1363.5 527.4L1363.8 527.2L1364.1 526.8L1364.3 526.3L1364.6 525.7L1364.9 525.2L1365.1 524.8L1365.4 524.6L1365.7 524.5L1365.9 524.5L1366.1 524.5L1366.4 524.6L1366.6 524.7L1366.9 524.8L1367.1 525L1367.4 525.2L1367.6 525.3L1367.9 525.5L1368.1 525.8L1368.4 526L1368.6 526.2L1368.8 526.5L1369.1 526.7L1369.3 527L1369.6 527.2L1369.8 527.4L1370.1 527.6L1370.3 527.8L1370.6 528L1370.8 528.1L1371.1 528.3L1371.3 528.4L1371.5 528.4L1371.8 528.5L1372 528.5L1372.3 528.5L1372.5 528.5L1372.8 528.5L1373 528.5L1373.3 528.5L1373.5 528.5L1373.8 528.5L1374 528.5L1374.3 528.5L1374.5 528.5L1374.8 528.5L1375 528.5L1375.3 528.5L1375.5 528.5L1375.8 528.5L1376 528.5L1376.2 528.5L1376.5 528.5L1376.7 528.4L1377 528.2L1377.2 527.9L1377.5 527.5L1377.7 527L1378 526.5L1378.2 525.8L1378.5 525.2L1378.7 524.5L1379 523.8L1379.2 523.2L1379.5 522.6L1379.7 522.1L1380 521.7L1380.2 521.4L1380.5 521.2L1380.7 521.2L1381 521.3L1381.2 521.7L1381.5 522.2L1381.7 523L1382 523.9L1382.2 524.8L1382.5 525.8L1382.7 526.7L1383 527.4L1383.2 528L1383.5 528.4L1383.7 528.5L1384 528.2L1384.2 527.6L1384.5 526.4L1384.7 524.9L1385 523.1L1385.2 521L1385.5 518.8L1385.7 516.4L1386 514L1386.2 511.8L1386.5 509.7L1386.7 507.9L1387 506.4L1387.2 505.2L1387.5 504.5L1387.8 504.3L1388 504.6L1388.2 505.3L1388.5 506.4L1388.7 508L1389 509.8L1389.2 511.7L1389.4 513.8L1389.7 515.7L1389.9 517.5L1390.2 519L1390.4 520.2L1390.6 520.9L1390.9 521.2L1391.1 521.1L1391.4 520.9L1391.7 520.5L1391.9 520.1L1392.2 519.6L1392.4 519.1L1392.7 518.6L1393 518.3L1393.2 518.1L1393.5 518L1393.7 518L1394 518.2L1394.2 518.5L1394.5 518.8L1394.7 519.3L1395 519.8L1395.2 520.4L1395.5 521.1L1395.7 521.8L1396 522.5L1396.2 523.2L1396.5 524L1396.7 524.7L1397 525.4L1397.2 526.1L1397.5 526.7L1397.8 527.2L1398 527.6L1398.3 528L1398.5 528.3L1398.8 528.4L1399 528.5L1399.3 528.3L1399.5 527.7L1399.8 526.8L1400 525.6L1400.3 524.1L1400.5 522.3L1400.7 520.5L1401 518.5L1401.2 516.6L1401.5 514.7L1401.7 513L1402 511.5L1402.2 510.2L1402.5 509.3L1402.7 508.7L1403 508.5L1403.2 508.8L1403.5 509.6L1403.7 511L1404 512.7L1404.3 514.8L1404.5 517L1404.8 519.4L1405 521.6L1405.3 523.7L1405.5 525.4L1405.8 526.7L1406 527.6L1406.3 527.8L1406.5 527.8L1406.8 527.6L1407 527.4L1407.3 527.1L1407.5 526.8L1407.8 526.5L1408 526.2L1408.3 526L1408.5 525.8L1408.8 525.8L1409 525.9L1409.3 526.1L1409.6 526.5L1409.8 526.9L1410.1 527.4" fill="none" stroke="#000" stroke-width="2.05" stroke-linejoin="round"/><path d="M1257.9 458.43H1408.4" stroke="#ff8c00" stroke-width="1.875" stroke-dasharray="1.9 3.087" fill="none"/><path d="M1257.9 465.99H1408.4" stroke="#808080" stroke-width="1.875" stroke-dasharray="6.6 3.374" fill="none"/></g></g>
<rect x="108.6" y="3.6" width="604.5" height="318.6" fill="none" stroke="#000" stroke-width="1.6"/>
<rect x="834.3" y="3.6" width="604.75" height="318.6" fill="none" stroke="#000" stroke-width="1.6"/>
<rect x="1559.8" y="3.6" width="605.5" height="318.6" fill="none" stroke="#000" stroke-width="1.6"/>
<rect x="108.6" y="401.6" width="604.5" height="318.2" fill="none" stroke="#000" stroke-width="1.6"/>
<rect x="834.3" y="401.6" width="604.75" height="318.2" fill="none" stroke="#000" stroke-width="1.6"/>
<rect x="1559.8" y="401.6" width="605.5" height="318.2" fill="none" stroke="#000" stroke-width="1.6"/>
<rect x="1257.9" y="35.7" width="150.5" height="94.4" fill="none" stroke="#000" stroke-width="1.6"/>
<rect x="1257.9" y="433.4" width="150.5" height="95.4" fill="none" stroke="#000" stroke-width="1.6"/>
<path d="M108.6 307.79h-6.6M713.1 307.79h6.6M108.6 247.83h-6.6M713.1 247.83h6.6M108.6 187.87h-6.6M713.1 187.87h6.6M108.6 127.92h-6.6M713.1 127.92h6.6M108.6 67.96h-6.6M713.1 67.96h6.6M108.6 8h-6.6M713.1 8h6.6" stroke="#000" stroke-width="1.6" fill="none"/>
<text transform="matrix(1 0 0 1.03 94.8 314.69)" text-anchor="end">−0.004</text>
<text transform="matrix(1 0 0 1.03 94.8 254.73)" text-anchor="end">−0.002</text>
<text transform="matrix(1 0 0 1.03 94.8 194.77)" text-anchor="end">0.000</text>
<text transform="matrix(1 0 0 1.03 94.8 134.82)" text-anchor="end">0.002</text>
<text transform="matrix(1 0 0 1.03 94.8 74.86)" text-anchor="end">0.004</text>
<text transform="matrix(1 0 0 1.03 94.8 14.9)" text-anchor="end">0.006</text>
<path d="M1559.8 307.79h-6.6M1559.8 247.83h-6.6M1559.8 187.87h-6.6M1559.8 127.92h-6.6M1559.8 67.96h-6.6M1559.8 8h-6.6" stroke="#000" stroke-width="1.6" fill="none"/>
<text transform="matrix(1 0 0 1.03 1546 314.69)" text-anchor="end">−0.004</text>
<text transform="matrix(1 0 0 1.03 1546 254.73)" text-anchor="end">−0.002</text>
<text transform="matrix(1 0 0 1.03 1546 194.77)" text-anchor="end">0.000</text>
<text transform="matrix(1 0 0 1.03 1546 134.82)" text-anchor="end">0.002</text>
<text transform="matrix(1 0 0 1.03 1546 74.86)" text-anchor="end">0.004</text>
<text transform="matrix(1 0 0 1.03 1546 14.9)" text-anchor="end">0.006</text>
<path d="M186.6 322.2v6.6M274.39 322.2v6.6M362.18 322.2v6.6M449.97 322.2v6.6M537.76 322.2v6.6M625.55 322.2v6.6" stroke="#000" stroke-width="1.6" fill="none"/>
<text transform="matrix(1 0 0 1.03 186.6 349)" text-anchor="middle">1800</text>
<text transform="matrix(1 0 0 1.03 274.39 349)" text-anchor="middle">2000</text>
<text transform="matrix(1 0 0 1.03 362.18 349)" text-anchor="middle">2200</text>
<text transform="matrix(1 0 0 1.03 449.97 349)" text-anchor="middle">2400</text>
<text transform="matrix(1 0 0 1.03 537.76 349)" text-anchor="middle">2600</text>
<text transform="matrix(1 0 0 1.03 625.55 349)" text-anchor="middle">2800</text>
<path d="M1587.5 322.2v6.6M1697.6 322.2v6.6M1807.7 322.2v6.6M1917.8 322.2v6.6M2027.9 322.2v6.6M2138 322.2v6.6" stroke="#000" stroke-width="1.6" fill="none"/>
<text transform="matrix(1 0 0 1.03 1587.5 349)" text-anchor="middle">0.0</text>
<text transform="matrix(1 0 0 1.03 1697.6 349)" text-anchor="middle">0.2</text>
<text transform="matrix(1 0 0 1.03 1807.7 349)" text-anchor="middle">0.4</text>
<text transform="matrix(1 0 0 1.03 1917.8 349)" text-anchor="middle">0.6</text>
<text transform="matrix(1 0 0 1.03 2027.9 349)" text-anchor="middle">0.8</text>
<text transform="matrix(1 0 0 1.03 2138 349)" text-anchor="middle">1.0</text>
<path d="M1587.5 719.8v6.6M1697.6 719.8v6.6M1807.7 719.8v6.6M1917.8 719.8v6.6M2027.9 719.8v6.6M2138 719.8v6.6" stroke="#000" stroke-width="1.6" fill="none"/>
<text transform="matrix(1 0 0 1.03 1587.5 746.6)" text-anchor="middle">0.0</text>
<text transform="matrix(1 0 0 1.03 1697.6 746.6)" text-anchor="middle">0.2</text>
<text transform="matrix(1 0 0 1.03 1807.7 746.6)" text-anchor="middle">0.4</text>
<text transform="matrix(1 0 0 1.03 1917.8 746.6)" text-anchor="middle">0.6</text>
<text transform="matrix(1 0 0 1.03 2027.9 746.6)" text-anchor="middle">0.8</text>
<text transform="matrix(1 0 0 1.03 2138 746.6)" text-anchor="middle">1.0</text>
<path d="M834.3 322.2v6.6M909.89 322.2v6.6M985.49 322.2v6.6M1061.08 322.2v6.6M1136.67 322.2v6.6M1212.27 322.2v6.6M1287.86 322.2v6.6M1363.46 322.2v6.6M1439.05 322.2v6.6" stroke="#000" stroke-width="1.6" fill="none"/>
<text transform="matrix(1 0 0 1.03 834.3 349)" text-anchor="middle">0</text>
<text transform="matrix(1 0 0 1.03 909.89 349)" text-anchor="middle">10</text>
<text transform="matrix(1 0 0 1.03 985.49 349)" text-anchor="middle">20</text>
<text transform="matrix(1 0 0 1.03 1061.08 349)" text-anchor="middle">30</text>
<text transform="matrix(1 0 0 1.03 1136.67 349)" text-anchor="middle">40</text>
<text transform="matrix(1 0 0 1.03 1212.27 349)" text-anchor="middle">50</text>
<text transform="matrix(1 0 0 1.03 1287.86 349)" text-anchor="middle">60</text>
<text transform="matrix(1 0 0 1.03 1363.46 349)" text-anchor="middle">70</text>
<text transform="matrix(1 0 0 1.03 1439.05 349)" text-anchor="middle">80</text>
<path d="M834.3 719.8v6.6M909.89 719.8v6.6M985.49 719.8v6.6M1061.08 719.8v6.6M1136.67 719.8v6.6M1212.27 719.8v6.6M1287.86 719.8v6.6M1363.46 719.8v6.6M1439.05 719.8v6.6" stroke="#000" stroke-width="1.6" fill="none"/>
<text transform="matrix(1 0 0 1.03 834.3 746.6)" text-anchor="middle">0</text>
<text transform="matrix(1 0 0 1.03 909.89 746.6)" text-anchor="middle">10</text>
<text transform="matrix(1 0 0 1.03 985.49 746.6)" text-anchor="middle">20</text>
<text transform="matrix(1 0 0 1.03 1061.08 746.6)" text-anchor="middle">30</text>
<text transform="matrix(1 0 0 1.03 1136.67 746.6)" text-anchor="middle">40</text>
<text transform="matrix(1 0 0 1.03 1212.27 746.6)" text-anchor="middle">50</text>
<text transform="matrix(1 0 0 1.03 1287.86 746.6)" text-anchor="middle">60</text>
<text transform="matrix(1 0 0 1.03 1363.46 746.6)" text-anchor="middle">70</text>
<text transform="matrix(1 0 0 1.03 1439.05 746.6)" text-anchor="middle">80</text>
<path d="M834.3 307.55h-6.6M834.3 253.03h-6.6M834.3 198.51h-6.6M834.3 143.99h-6.6M834.3 89.47h-6.6M834.3 34.95h-6.6" stroke="#000" stroke-width="1.6" fill="none"/>
<text transform="matrix(1 0 0 1.03 820.5 314.45)" text-anchor="end">0.0000</text>
<text transform="matrix(1 0 0 1.03 820.5 259.93)" text-anchor="end">0.0001</text>
<text transform="matrix(1 0 0 1.03 820.5 205.41)" text-anchor="end">0.0002</text>
<text transform="matrix(1 0 0 1.03 820.5 150.89)" text-anchor="end">0.0003</text>
<text transform="matrix(1 0 0 1.03 820.5 96.37)" text-anchor="end">0.0004</text>
<text transform="matrix(1 0 0 1.03 820.5 41.85)" text-anchor="end">0.0005</text>
<path d="M834.3 719.65h-6.6M834.3 673.7h-6.6M834.3 627.75h-6.6M834.3 581.8h-6.6M834.3 535.85h-6.6M834.3 489.9h-6.6M834.3 443.95h-6.6" stroke="#000" stroke-width="1.6" fill="none"/>
<text transform="matrix(1 0 0 1.03 820.5 726.55)" text-anchor="end">−0.01</text>
<text transform="matrix(1 0 0 1.03 820.5 680.6)" text-anchor="end">0.00</text>
<text transform="matrix(1 0 0 1.03 820.5 634.65)" text-anchor="end">0.01</text>
<text transform="matrix(1 0 0 1.03 820.5 588.7)" text-anchor="end">0.02</text>
<text transform="matrix(1 0 0 1.03 820.5 542.75)" text-anchor="end">0.03</text>
<text transform="matrix(1 0 0 1.03 820.5 496.8)" text-anchor="end">0.04</text>
<text transform="matrix(1 0 0 1.03 820.5 450.85)" text-anchor="end">0.05</text>
<path d="M108.6 683.9h-6.6M713.1 683.9h6.6M108.6 631.92h-6.6M713.1 631.92h6.6M108.6 579.94h-6.6M713.1 579.94h6.6M108.6 527.96h-6.6M713.1 527.96h6.6M108.6 475.98h-6.6M713.1 475.98h6.6M108.6 424h-6.6M713.1 424h6.6" stroke="#000" stroke-width="1.6" fill="none"/>
<text transform="matrix(1 0 0 1.03 94.8 690.8)" text-anchor="end">−0.8</text>
<text transform="matrix(1 0 0 1.03 94.8 638.82)" text-anchor="end">−0.6</text>
<text transform="matrix(1 0 0 1.03 94.8 586.84)" text-anchor="end">−0.4</text>
<text transform="matrix(1 0 0 1.03 94.8 534.86)" text-anchor="end">−0.2</text>
<text transform="matrix(1 0 0 1.03 94.8 482.88)" text-anchor="end">0.0</text>
<text transform="matrix(1 0 0 1.03 94.8 430.9)" text-anchor="end">0.2</text>
<path d="M1559.8 683.9h-6.6M1559.8 631.92h-6.6M1559.8 579.94h-6.6M1559.8 527.96h-6.6M1559.8 475.98h-6.6M1559.8 424h-6.6" stroke="#000" stroke-width="1.6" fill="none"/>
<text transform="matrix(1 0 0 1.03 1546 690.8)" text-anchor="end">−0.8</text>
<text transform="matrix(1 0 0 1.03 1546 638.82)" text-anchor="end">−0.6</text>
<text transform="matrix(1 0 0 1.03 1546 586.84)" text-anchor="end">−0.4</text>
<text transform="matrix(1 0 0 1.03 1546 534.86)" text-anchor="end">−0.2</text>
<text transform="matrix(1 0 0 1.03 1546 482.88)" text-anchor="end">0.0</text>
<text transform="matrix(1 0 0 1.03 1546 430.9)" text-anchor="end">0.2</text>
<path d="M131.9 719.8v6.6M247.9 719.8v6.6M363.9 719.8v6.6M479.9 719.8v6.6M595.9 719.8v6.6M711.9 719.8v6.6" stroke="#000" stroke-width="1.6" fill="none"/>
<text transform="matrix(1 0 0 1.03 131.9 746.6)" text-anchor="middle">2.4560</text>
<text transform="matrix(1 0 0 1.03 247.9 746.6)" text-anchor="middle">2.4565</text>
<text transform="matrix(1 0 0 1.03 363.9 746.6)" text-anchor="middle">2.4570</text>
<text transform="matrix(1 0 0 1.03 479.9 746.6)" text-anchor="middle">2.4575</text>
<text transform="matrix(1 0 0 1.03 595.9 746.6)" text-anchor="middle">2.4580</text>
<text transform="matrix(1 0 0 1.03 711.9 746.6)" text-anchor="middle">2.4585</text>
<text x="712.8" y="770.2" text-anchor="end">1e6</text>
<path d="M1257.9 130.1v6.6M1378.3 130.1v6.6" stroke="#000" stroke-width="1.6" fill="none"/>
<text transform="matrix(1 0 0 1.03 1257.9 156.9)" text-anchor="middle">20</text>
<text transform="matrix(1 0 0 1.03 1378.3 156.9)" text-anchor="middle">40</text>
<path d="M1257.9 528.8v6.6M1378.3 528.8v6.6" stroke="#000" stroke-width="1.6" fill="none"/>
<text transform="matrix(1 0 0 1.03 1257.9 555.6)" text-anchor="middle">20</text>
<text transform="matrix(1 0 0 1.03 1378.3 555.6)" text-anchor="middle">40</text>
<path d="M1257.9 130.1h-6.6M1257.9 82.9h-6.6M1257.9 35.7h-6.6" stroke="#000" stroke-width="1.6" fill="none"/>
<text transform="matrix(1 0 0 1.03 1244.1 137)" text-anchor="end">0.00000</text>
<text transform="matrix(1 0 0 1.03 1244.1 89.8)" text-anchor="end">0.00005</text>
<text transform="matrix(1 0 0 1.03 1244.1 42.6)" text-anchor="end">0.00010</text>
<path d="M1257.9 528.8h-6.6M1257.9 465.2h-6.6" stroke="#000" stroke-width="1.6" fill="none"/>
<text transform="matrix(1 0 0 1.03 1244.1 535.7)" text-anchor="end">0.00</text>
<text transform="matrix(1 0 0 1.03 1244.1 472.1)" text-anchor="end">0.02</text>
<text class="al" style="font-size:18px;word-spacing:-1.6px" x="410.85" y="375.35" text-anchor="middle">BJD − 2457000</text>
<text class="al" x="1136.67" y="374.9" text-anchor="middle">Period [d]</text>
<text class="al" x="1862.55" y="374.9" text-anchor="middle">Phase</text>
<text class="al" x="410.85" y="772.9" text-anchor="middle">HJD</text>
<text class="al" x="1136.67" y="772.9" text-anchor="middle">Period [d]</text>
<text class="al" x="1862.55" y="772.9" text-anchor="middle">Phase</text>
<text class="al" transform="translate(14.9 162.9) rotate(-90)" text-anchor="middle">Normalized Flux</text>
<text class="al" transform="translate(744.7 163.9) rotate(-90)" text-anchor="middle">LS Power</text>
<text class="al" transform="translate(1466.4 162.9) rotate(-90)" text-anchor="middle">Normalized Flux</text>
<text class="al" transform="translate(37.8 560.7) rotate(-90)" text-anchor="middle">Normalized Flux</text>
<text class="al" transform="translate(751.9 561.7) rotate(-90)" text-anchor="middle">LS Power</text>
<text class="al" transform="translate(1489 560.7) rotate(-90)" text-anchor="middle">Normalized Flux</text>
<rect x="590.8" y="279.3" width="112.8" height="33.4" rx="3.6" fill="#fff" fill-opacity="0.8" stroke="#ccc" stroke-opacity="0.8" stroke-width="1.9"/><circle cx="616.6" cy="295.1" r="1.45" fill="#000"/><text x="650" y="301">TESS</text>
<rect x="521.5" y="677.5" width="182.1" height="33" rx="3.6" fill="#fff" fill-opacity="0.8" stroke="#ccc" stroke-opacity="0.8" stroke-width="1.9"/><circle cx="547.3" cy="693.1" r="1.45" fill="#000"/><text x="580.5" y="699">ASAS V-filter</text>
</svg>
</body>
</html>
